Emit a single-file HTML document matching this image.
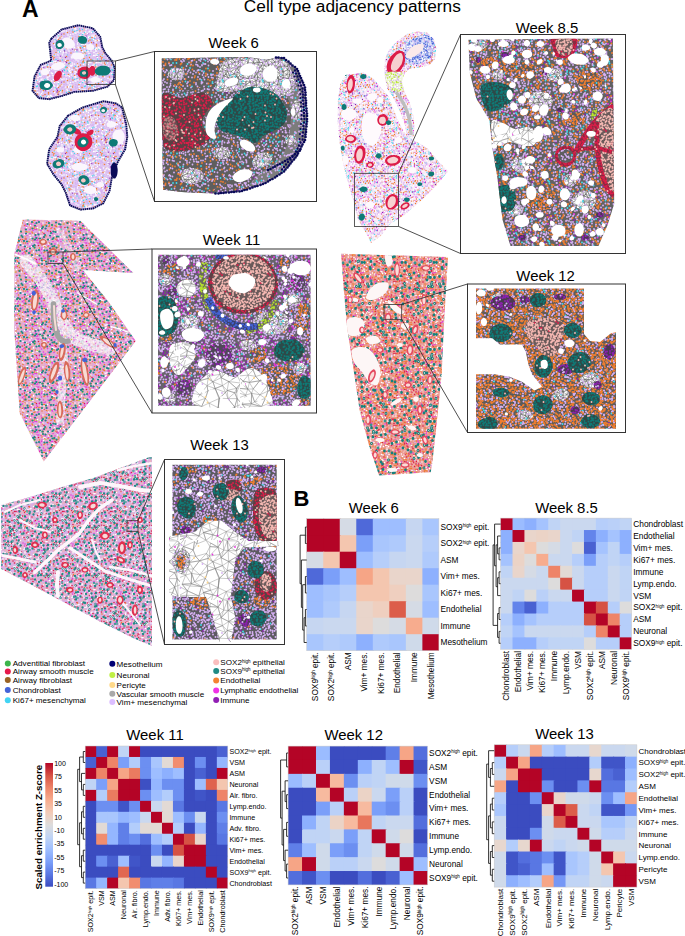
<!DOCTYPE html>
<html><head><meta charset="utf-8"><style>html,body{margin:0;padding:0;background:#fff;}body{width:685px;height:936px;position:relative;overflow:hidden;font-family:'Liberation Sans', sans-serif;}</style></head>
<body>
<svg width="685" height="936" viewBox="0 0 685 936" font-family="'Liberation Sans', sans-serif" style="position:absolute;left:0;top:0">
<rect width="685" height="936" fill="#fff"/>
<rect x="306.70" y="518.70" width="17.52" height="17.50" fill="#b40426"/>
<rect x="323.22" y="518.70" width="17.52" height="17.50" fill="#b40426"/>
<rect x="339.75" y="518.70" width="17.52" height="17.50" fill="#d5dbe5"/>
<rect x="356.27" y="518.70" width="17.52" height="17.50" fill="#4f69d9"/>
<rect x="372.80" y="518.70" width="17.52" height="17.50" fill="#9ebeff"/>
<rect x="389.32" y="518.70" width="17.52" height="17.50" fill="#9ebeff"/>
<rect x="405.85" y="518.70" width="17.52" height="17.50" fill="#c6d6f1"/>
<rect x="422.38" y="518.70" width="16.52" height="17.50" fill="#a9c6fd"/>
<rect x="306.70" y="535.20" width="17.52" height="17.50" fill="#b40426"/>
<rect x="323.22" y="535.20" width="17.52" height="17.50" fill="#b40426"/>
<rect x="339.75" y="535.20" width="17.52" height="17.50" fill="#f4c6af"/>
<rect x="356.27" y="535.20" width="17.52" height="17.50" fill="#7b9ff9"/>
<rect x="372.80" y="535.20" width="17.52" height="17.50" fill="#a9c6fd"/>
<rect x="389.32" y="535.20" width="17.52" height="17.50" fill="#afcafc"/>
<rect x="405.85" y="535.20" width="17.52" height="17.50" fill="#cad8ef"/>
<rect x="422.38" y="535.20" width="16.52" height="17.50" fill="#b6cefa"/>
<rect x="306.70" y="551.70" width="17.52" height="17.50" fill="#d5dbe5"/>
<rect x="323.22" y="551.70" width="17.52" height="17.50" fill="#f4c6af"/>
<rect x="339.75" y="551.70" width="17.52" height="17.50" fill="#b40426"/>
<rect x="356.27" y="551.70" width="17.52" height="17.50" fill="#9ebeff"/>
<rect x="372.80" y="551.70" width="17.52" height="17.50" fill="#b6cefa"/>
<rect x="389.32" y="551.70" width="17.52" height="17.50" fill="#c6d6f1"/>
<rect x="405.85" y="551.70" width="17.52" height="17.50" fill="#cad8ef"/>
<rect x="422.38" y="551.70" width="16.52" height="17.50" fill="#afcafc"/>
<rect x="306.70" y="568.20" width="17.52" height="17.50" fill="#4f69d9"/>
<rect x="323.22" y="568.20" width="17.52" height="17.50" fill="#7b9ff9"/>
<rect x="339.75" y="568.20" width="17.52" height="17.50" fill="#9ebeff"/>
<rect x="356.27" y="568.20" width="17.52" height="17.50" fill="#f6a586"/>
<rect x="372.80" y="568.20" width="17.52" height="17.50" fill="#f4c6af"/>
<rect x="389.32" y="568.20" width="17.52" height="17.50" fill="#e9d5cb"/>
<rect x="405.85" y="568.20" width="17.52" height="17.50" fill="#e9d5cb"/>
<rect x="422.38" y="568.20" width="16.52" height="17.50" fill="#8db0fe"/>
<rect x="306.70" y="584.70" width="17.52" height="17.50" fill="#9ebeff"/>
<rect x="323.22" y="584.70" width="17.52" height="17.50" fill="#a9c6fd"/>
<rect x="339.75" y="584.70" width="17.52" height="17.50" fill="#b6cefa"/>
<rect x="356.27" y="584.70" width="17.52" height="17.50" fill="#f4c6af"/>
<rect x="372.80" y="584.70" width="17.52" height="17.50" fill="#f4c6af"/>
<rect x="389.32" y="584.70" width="17.52" height="17.50" fill="#efcfbf"/>
<rect x="405.85" y="584.70" width="17.52" height="17.50" fill="#dddcdc"/>
<rect x="422.38" y="584.70" width="16.52" height="17.50" fill="#a9c6fd"/>
<rect x="306.70" y="601.20" width="17.52" height="17.50" fill="#9ebeff"/>
<rect x="323.22" y="601.20" width="17.52" height="17.50" fill="#afcafc"/>
<rect x="339.75" y="601.20" width="17.52" height="17.50" fill="#c6d6f1"/>
<rect x="356.27" y="601.20" width="17.52" height="17.50" fill="#e9d5cb"/>
<rect x="372.80" y="601.20" width="17.52" height="17.50" fill="#efcfbf"/>
<rect x="389.32" y="601.20" width="17.52" height="17.50" fill="#dc5d4a"/>
<rect x="405.85" y="601.20" width="17.52" height="17.50" fill="#d5dbe5"/>
<rect x="422.38" y="601.20" width="16.52" height="17.50" fill="#9ebeff"/>
<rect x="306.70" y="617.70" width="17.52" height="17.50" fill="#c6d6f1"/>
<rect x="323.22" y="617.70" width="17.52" height="17.50" fill="#cad8ef"/>
<rect x="339.75" y="617.70" width="17.52" height="17.50" fill="#cad8ef"/>
<rect x="356.27" y="617.70" width="17.52" height="17.50" fill="#e9d5cb"/>
<rect x="372.80" y="617.70" width="17.52" height="17.50" fill="#dddcdc"/>
<rect x="389.32" y="617.70" width="17.52" height="17.50" fill="#d5dbe5"/>
<rect x="405.85" y="617.70" width="17.52" height="17.50" fill="#f7ac8e"/>
<rect x="422.38" y="617.70" width="16.52" height="17.50" fill="#cfdaea"/>
<rect x="306.70" y="634.20" width="17.52" height="16.50" fill="#a9c6fd"/>
<rect x="323.22" y="634.20" width="17.52" height="16.50" fill="#b6cefa"/>
<rect x="339.75" y="634.20" width="17.52" height="16.50" fill="#afcafc"/>
<rect x="356.27" y="634.20" width="17.52" height="16.50" fill="#8db0fe"/>
<rect x="372.80" y="634.20" width="17.52" height="16.50" fill="#afcafc"/>
<rect x="389.32" y="634.20" width="17.52" height="16.50" fill="#a9c6fd"/>
<rect x="405.85" y="634.20" width="17.52" height="16.50" fill="#cfdaea"/>
<rect x="422.38" y="634.20" width="16.52" height="16.50" fill="#b40426"/>
<rect x="306.70" y="518.70" width="132.20" height="132.00" fill="none" stroke="#c8c8c8" stroke-width="0.5"/>
<text x="440.50" y="529.86" font-size="8.3">SOX9<tspan font-size="4.60" dy="-2.60">high</tspan><tspan dy="2.60"> epit.</tspan></text>
<text transform="translate(317.87,652.30) rotate(-90)" text-anchor="end" font-size="8.3">SOX9<tspan font-size="4.60" dy="-2.60">high</tspan><tspan dy="2.60"> epit.</tspan></text>
<text x="440.50" y="546.36" font-size="8.3">SOX2<tspan font-size="4.60" dy="-2.60">high</tspan><tspan dy="2.60"> epit.</tspan></text>
<text transform="translate(334.39,652.30) rotate(-90)" text-anchor="end" font-size="8.3">SOX2<tspan font-size="4.60" dy="-2.60">high</tspan><tspan dy="2.60"> epit.</tspan></text>
<text x="440.50" y="562.86" font-size="8.3">ASM</text>
<text transform="translate(350.92,652.30) rotate(-90)" text-anchor="end" font-size="8.3">ASM</text>
<text x="440.50" y="579.36" font-size="8.3">Vim+ mes.</text>
<text transform="translate(367.44,652.30) rotate(-90)" text-anchor="end" font-size="8.3">Vim+ mes.</text>
<text x="440.50" y="595.86" font-size="8.3">Ki67+ mes.</text>
<text transform="translate(383.97,652.30) rotate(-90)" text-anchor="end" font-size="8.3">Ki67+ mes.</text>
<text x="440.50" y="612.36" font-size="8.3">Endothelial</text>
<text transform="translate(400.49,652.30) rotate(-90)" text-anchor="end" font-size="8.3">Endothelial</text>
<text x="440.50" y="628.86" font-size="8.3">Immune</text>
<text transform="translate(417.02,652.30) rotate(-90)" text-anchor="end" font-size="8.3">Immune</text>
<text x="440.50" y="645.36" font-size="8.3">Mesothelium</text>
<text transform="translate(433.54,652.30) rotate(-90)" text-anchor="end" font-size="8.3">Mesothelium</text>
<rect x="500.60" y="518.10" width="12.91" height="12.93" fill="#b40426"/>
<rect x="512.51" y="518.10" width="12.91" height="12.93" fill="#9bbcff"/>
<rect x="524.42" y="518.10" width="12.91" height="12.93" fill="#8db0fe"/>
<rect x="536.33" y="518.10" width="12.91" height="12.93" fill="#a5c3fe"/>
<rect x="548.24" y="518.10" width="12.91" height="12.93" fill="#c0d4f5"/>
<rect x="560.15" y="518.10" width="12.91" height="12.93" fill="#cad8ef"/>
<rect x="572.05" y="518.10" width="12.91" height="12.93" fill="#cad8ef"/>
<rect x="583.96" y="518.10" width="12.91" height="12.93" fill="#cad8ef"/>
<rect x="595.87" y="518.10" width="12.91" height="12.93" fill="#b6cefa"/>
<rect x="607.78" y="518.10" width="12.91" height="12.93" fill="#bad0f8"/>
<rect x="619.69" y="518.10" width="11.91" height="12.93" fill="#c0d4f5"/>
<rect x="500.60" y="530.03" width="12.91" height="12.93" fill="#8db0fe"/>
<rect x="512.51" y="530.03" width="12.91" height="12.93" fill="#b40426"/>
<rect x="524.42" y="530.03" width="12.91" height="12.93" fill="#e9d5cb"/>
<rect x="536.33" y="530.03" width="12.91" height="12.93" fill="#ebd3c6"/>
<rect x="548.24" y="530.03" width="12.91" height="12.93" fill="#e9d5cb"/>
<rect x="560.15" y="530.03" width="12.91" height="12.93" fill="#cad8ef"/>
<rect x="572.05" y="530.03" width="12.91" height="12.93" fill="#c0d4f5"/>
<rect x="583.96" y="530.03" width="12.91" height="12.93" fill="#6384eb"/>
<rect x="595.87" y="530.03" width="12.91" height="12.93" fill="#8db0fe"/>
<rect x="607.78" y="530.03" width="12.91" height="12.93" fill="#a5c3fe"/>
<rect x="619.69" y="530.03" width="11.91" height="12.93" fill="#8db0fe"/>
<rect x="500.60" y="541.95" width="12.91" height="12.93" fill="#8db0fe"/>
<rect x="512.51" y="541.95" width="12.91" height="12.93" fill="#e9d5cb"/>
<rect x="524.42" y="541.95" width="12.91" height="12.93" fill="#f4c6af"/>
<rect x="536.33" y="541.95" width="12.91" height="12.93" fill="#dddcdc"/>
<rect x="548.24" y="541.95" width="12.91" height="12.93" fill="#d5dbe5"/>
<rect x="560.15" y="541.95" width="12.91" height="12.93" fill="#cad8ef"/>
<rect x="572.05" y="541.95" width="12.91" height="12.93" fill="#dddcdc"/>
<rect x="583.96" y="541.95" width="12.91" height="12.93" fill="#4961d2"/>
<rect x="595.87" y="541.95" width="12.91" height="12.93" fill="#a5c3fe"/>
<rect x="607.78" y="541.95" width="12.91" height="12.93" fill="#c0d4f5"/>
<rect x="619.69" y="541.95" width="11.91" height="12.93" fill="#8db0fe"/>
<rect x="500.60" y="553.88" width="12.91" height="12.93" fill="#a5c3fe"/>
<rect x="512.51" y="553.88" width="12.91" height="12.93" fill="#ebd3c6"/>
<rect x="524.42" y="553.88" width="12.91" height="12.93" fill="#dddcdc"/>
<rect x="536.33" y="553.88" width="12.91" height="12.93" fill="#f7ac8e"/>
<rect x="548.24" y="553.88" width="12.91" height="12.93" fill="#cad8ef"/>
<rect x="560.15" y="553.88" width="12.91" height="12.93" fill="#cad8ef"/>
<rect x="572.05" y="553.88" width="12.91" height="12.93" fill="#b6cefa"/>
<rect x="583.96" y="553.88" width="12.91" height="12.93" fill="#7b9ff9"/>
<rect x="595.87" y="553.88" width="12.91" height="12.93" fill="#b6cefa"/>
<rect x="607.78" y="553.88" width="12.91" height="12.93" fill="#c0d4f5"/>
<rect x="619.69" y="553.88" width="11.91" height="12.93" fill="#b6cefa"/>
<rect x="500.60" y="565.81" width="12.91" height="12.93" fill="#c0d4f5"/>
<rect x="512.51" y="565.81" width="12.91" height="12.93" fill="#e9d5cb"/>
<rect x="524.42" y="565.81" width="12.91" height="12.93" fill="#d5dbe5"/>
<rect x="536.33" y="565.81" width="12.91" height="12.93" fill="#cad8ef"/>
<rect x="548.24" y="565.81" width="12.91" height="12.93" fill="#ee8468"/>
<rect x="560.15" y="565.81" width="12.91" height="12.93" fill="#e2dad5"/>
<rect x="572.05" y="565.81" width="12.91" height="12.93" fill="#cad8ef"/>
<rect x="583.96" y="565.81" width="12.91" height="12.93" fill="#b6cefa"/>
<rect x="595.87" y="565.81" width="12.91" height="12.93" fill="#b6cefa"/>
<rect x="607.78" y="565.81" width="12.91" height="12.93" fill="#cad8ef"/>
<rect x="619.69" y="565.81" width="11.91" height="12.93" fill="#c0d4f5"/>
<rect x="500.60" y="577.74" width="12.91" height="12.93" fill="#cad8ef"/>
<rect x="512.51" y="577.74" width="12.91" height="12.93" fill="#cad8ef"/>
<rect x="524.42" y="577.74" width="12.91" height="12.93" fill="#cad8ef"/>
<rect x="536.33" y="577.74" width="12.91" height="12.93" fill="#cad8ef"/>
<rect x="548.24" y="577.74" width="12.91" height="12.93" fill="#dddcdc"/>
<rect x="560.15" y="577.74" width="12.91" height="12.93" fill="#d65244"/>
<rect x="572.05" y="577.74" width="12.91" height="12.93" fill="#cad8ef"/>
<rect x="583.96" y="577.74" width="12.91" height="12.93" fill="#b6cefa"/>
<rect x="595.87" y="577.74" width="12.91" height="12.93" fill="#b6cefa"/>
<rect x="607.78" y="577.74" width="12.91" height="12.93" fill="#cad8ef"/>
<rect x="619.69" y="577.74" width="11.91" height="12.93" fill="#c0d4f5"/>
<rect x="500.60" y="589.66" width="12.91" height="12.93" fill="#cad8ef"/>
<rect x="512.51" y="589.66" width="12.91" height="12.93" fill="#c0d4f5"/>
<rect x="524.42" y="589.66" width="12.91" height="12.93" fill="#dddcdc"/>
<rect x="536.33" y="589.66" width="12.91" height="12.93" fill="#bad0f8"/>
<rect x="548.24" y="589.66" width="12.91" height="12.93" fill="#cad8ef"/>
<rect x="560.15" y="589.66" width="12.91" height="12.93" fill="#cad8ef"/>
<rect x="572.05" y="589.66" width="12.91" height="12.93" fill="#b40426"/>
<rect x="583.96" y="589.66" width="12.91" height="12.93" fill="#b6cefa"/>
<rect x="595.87" y="589.66" width="12.91" height="12.93" fill="#b6cefa"/>
<rect x="607.78" y="589.66" width="12.91" height="12.93" fill="#cad8ef"/>
<rect x="619.69" y="589.66" width="11.91" height="12.93" fill="#c0d4f5"/>
<rect x="500.60" y="601.59" width="12.91" height="12.93" fill="#cad8ef"/>
<rect x="512.51" y="601.59" width="12.91" height="12.93" fill="#6384eb"/>
<rect x="524.42" y="601.59" width="12.91" height="12.93" fill="#4961d2"/>
<rect x="536.33" y="601.59" width="12.91" height="12.93" fill="#8db0fe"/>
<rect x="548.24" y="601.59" width="12.91" height="12.93" fill="#b6cefa"/>
<rect x="560.15" y="601.59" width="12.91" height="12.93" fill="#b6cefa"/>
<rect x="572.05" y="601.59" width="12.91" height="12.93" fill="#b6cefa"/>
<rect x="583.96" y="601.59" width="12.91" height="12.93" fill="#b40426"/>
<rect x="595.87" y="601.59" width="12.91" height="12.93" fill="#d65244"/>
<rect x="607.78" y="601.59" width="12.91" height="12.93" fill="#b6cefa"/>
<rect x="619.69" y="601.59" width="11.91" height="12.93" fill="#dddcdc"/>
<rect x="500.60" y="613.52" width="12.91" height="12.93" fill="#b6cefa"/>
<rect x="512.51" y="613.52" width="12.91" height="12.93" fill="#8db0fe"/>
<rect x="524.42" y="613.52" width="12.91" height="12.93" fill="#a5c3fe"/>
<rect x="536.33" y="613.52" width="12.91" height="12.93" fill="#b6cefa"/>
<rect x="548.24" y="613.52" width="12.91" height="12.93" fill="#b6cefa"/>
<rect x="560.15" y="613.52" width="12.91" height="12.93" fill="#b6cefa"/>
<rect x="572.05" y="613.52" width="12.91" height="12.93" fill="#b6cefa"/>
<rect x="583.96" y="613.52" width="12.91" height="12.93" fill="#d65244"/>
<rect x="595.87" y="613.52" width="12.91" height="12.93" fill="#b40426"/>
<rect x="607.78" y="613.52" width="12.91" height="12.93" fill="#ee8468"/>
<rect x="619.69" y="613.52" width="11.91" height="12.93" fill="#b6cefa"/>
<rect x="500.60" y="625.45" width="12.91" height="12.93" fill="#c0d4f5"/>
<rect x="512.51" y="625.45" width="12.91" height="12.93" fill="#a5c3fe"/>
<rect x="524.42" y="625.45" width="12.91" height="12.93" fill="#cad8ef"/>
<rect x="536.33" y="625.45" width="12.91" height="12.93" fill="#cad8ef"/>
<rect x="548.24" y="625.45" width="12.91" height="12.93" fill="#cad8ef"/>
<rect x="560.15" y="625.45" width="12.91" height="12.93" fill="#cad8ef"/>
<rect x="572.05" y="625.45" width="12.91" height="12.93" fill="#cad8ef"/>
<rect x="583.96" y="625.45" width="12.91" height="12.93" fill="#b6cefa"/>
<rect x="595.87" y="625.45" width="12.91" height="12.93" fill="#ee8468"/>
<rect x="607.78" y="625.45" width="12.91" height="12.93" fill="#b40426"/>
<rect x="619.69" y="625.45" width="11.91" height="12.93" fill="#b6cefa"/>
<rect x="500.60" y="637.37" width="12.91" height="11.93" fill="#b6cefa"/>
<rect x="512.51" y="637.37" width="12.91" height="11.93" fill="#8db0fe"/>
<rect x="524.42" y="637.37" width="12.91" height="11.93" fill="#8db0fe"/>
<rect x="536.33" y="637.37" width="12.91" height="11.93" fill="#b6cefa"/>
<rect x="548.24" y="637.37" width="12.91" height="11.93" fill="#c0d4f5"/>
<rect x="560.15" y="637.37" width="12.91" height="11.93" fill="#c0d4f5"/>
<rect x="572.05" y="637.37" width="12.91" height="11.93" fill="#c0d4f5"/>
<rect x="583.96" y="637.37" width="12.91" height="11.93" fill="#dddcdc"/>
<rect x="595.87" y="637.37" width="12.91" height="11.93" fill="#b6cefa"/>
<rect x="607.78" y="637.37" width="12.91" height="11.93" fill="#b6cefa"/>
<rect x="619.69" y="637.37" width="11.91" height="11.93" fill="#b40426"/>
<rect x="500.60" y="518.10" width="131.00" height="131.20" fill="none" stroke="#c8c8c8" stroke-width="0.5"/>
<text x="633.20" y="527.00" font-size="8.4">Chondroblast</text>
<text transform="translate(509.49,650.90) rotate(-90)" text-anchor="end" font-size="8.4">Chondroblast</text>
<text x="633.20" y="538.93" font-size="8.4">Endothelial</text>
<text transform="translate(521.40,650.90) rotate(-90)" text-anchor="end" font-size="8.4">Endothelial</text>
<text x="633.20" y="550.86" font-size="8.4">Vim+ mes.</text>
<text transform="translate(533.31,650.90) rotate(-90)" text-anchor="end" font-size="8.4">Vim+ mes.</text>
<text x="633.20" y="562.79" font-size="8.4">Ki67+ mes.</text>
<text transform="translate(545.22,650.90) rotate(-90)" text-anchor="end" font-size="8.4">Ki67+ mes.</text>
<text x="633.20" y="574.71" font-size="8.4">Immune</text>
<text transform="translate(557.13,650.90) rotate(-90)" text-anchor="end" font-size="8.4">Immune</text>
<text x="633.20" y="586.64" font-size="8.4">Lymp.endo.</text>
<text transform="translate(569.04,650.90) rotate(-90)" text-anchor="end" font-size="8.4">Lymp.endo.</text>
<text x="633.20" y="598.57" font-size="8.4">VSM</text>
<text transform="translate(580.95,650.90) rotate(-90)" text-anchor="end" font-size="8.4">VSM</text>
<text x="633.20" y="610.49" font-size="8.4">SOX2<tspan font-size="4.66" dy="-2.63">high</tspan><tspan dy="2.63"> epit.</tspan></text>
<text transform="translate(592.86,650.90) rotate(-90)" text-anchor="end" font-size="8.4">SOX2<tspan font-size="4.66" dy="-2.63">high</tspan><tspan dy="2.63"> epit.</tspan></text>
<text x="633.20" y="622.42" font-size="8.4">ASM</text>
<text transform="translate(604.77,650.90) rotate(-90)" text-anchor="end" font-size="8.4">ASM</text>
<text x="633.20" y="634.35" font-size="8.4">Neuronal</text>
<text transform="translate(616.68,650.90) rotate(-90)" text-anchor="end" font-size="8.4">Neuronal</text>
<text x="633.20" y="646.28" font-size="8.4">SOX9<tspan font-size="4.66" dy="-2.63">high</tspan><tspan dy="2.63"> epit.</tspan></text>
<text transform="translate(628.59,650.90) rotate(-90)" text-anchor="end" font-size="8.4">SOX9<tspan font-size="4.66" dy="-2.63">high</tspan><tspan dy="2.63"> epit.</tspan></text>
<rect x="85.20" y="746.00" width="11.97" height="11.97" fill="#b40426"/>
<rect x="96.17" y="746.00" width="11.97" height="11.97" fill="#4961d2"/>
<rect x="107.14" y="746.00" width="11.97" height="11.97" fill="#b40426"/>
<rect x="118.11" y="746.00" width="11.97" height="11.97" fill="#c0d4f5"/>
<rect x="129.08" y="746.00" width="11.97" height="11.97" fill="#b40426"/>
<rect x="140.05" y="746.00" width="11.97" height="11.97" fill="#3b4cc0"/>
<rect x="151.02" y="746.00" width="11.97" height="11.97" fill="#3b4cc0"/>
<rect x="161.98" y="746.00" width="11.97" height="11.97" fill="#3b4cc0"/>
<rect x="172.95" y="746.00" width="11.97" height="11.97" fill="#3b4cc0"/>
<rect x="183.92" y="746.00" width="11.97" height="11.97" fill="#3b4cc0"/>
<rect x="194.89" y="746.00" width="11.97" height="11.97" fill="#3b4cc0"/>
<rect x="205.86" y="746.00" width="11.97" height="11.97" fill="#3b4cc0"/>
<rect x="216.83" y="746.00" width="10.97" height="11.97" fill="#4961d2"/>
<rect x="85.20" y="756.97" width="11.97" height="11.97" fill="#4961d2"/>
<rect x="96.17" y="756.97" width="11.97" height="11.97" fill="#b40426"/>
<rect x="107.14" y="756.97" width="11.97" height="11.97" fill="#ee8468"/>
<rect x="118.11" y="756.97" width="11.97" height="11.97" fill="#7b9ff9"/>
<rect x="129.08" y="756.97" width="11.97" height="11.97" fill="#b3cdfb"/>
<rect x="140.05" y="756.97" width="11.97" height="11.97" fill="#6c8ff1"/>
<rect x="151.02" y="756.97" width="11.97" height="11.97" fill="#a9c6fd"/>
<rect x="161.98" y="756.97" width="11.97" height="11.97" fill="#e2dad5"/>
<rect x="172.95" y="756.97" width="11.97" height="11.97" fill="#f18d6f"/>
<rect x="183.92" y="756.97" width="11.97" height="11.97" fill="#3b4cc0"/>
<rect x="194.89" y="756.97" width="11.97" height="11.97" fill="#6c8ff1"/>
<rect x="205.86" y="756.97" width="11.97" height="11.97" fill="#3b4cc0"/>
<rect x="216.83" y="756.97" width="10.97" height="11.97" fill="#94b6ff"/>
<rect x="85.20" y="767.94" width="11.97" height="11.97" fill="#b40426"/>
<rect x="96.17" y="767.94" width="11.97" height="11.97" fill="#ee8468"/>
<rect x="107.14" y="767.94" width="11.97" height="11.97" fill="#b40426"/>
<rect x="118.11" y="767.94" width="11.97" height="11.97" fill="#f6a586"/>
<rect x="129.08" y="767.94" width="11.97" height="11.97" fill="#ea7b60"/>
<rect x="140.05" y="767.94" width="11.97" height="11.97" fill="#6c8ff1"/>
<rect x="151.02" y="767.94" width="11.97" height="11.97" fill="#9ebeff"/>
<rect x="161.98" y="767.94" width="11.97" height="11.97" fill="#8db0fe"/>
<rect x="172.95" y="767.94" width="11.97" height="11.97" fill="#9ebeff"/>
<rect x="183.92" y="767.94" width="11.97" height="11.97" fill="#3b4cc0"/>
<rect x="194.89" y="767.94" width="11.97" height="11.97" fill="#4961d2"/>
<rect x="205.86" y="767.94" width="11.97" height="11.97" fill="#3b4cc0"/>
<rect x="216.83" y="767.94" width="10.97" height="11.97" fill="#b40426"/>
<rect x="85.20" y="778.91" width="11.97" height="11.97" fill="#c0d4f5"/>
<rect x="96.17" y="778.91" width="11.97" height="11.97" fill="#7b9ff9"/>
<rect x="107.14" y="778.91" width="11.97" height="11.97" fill="#f6a586"/>
<rect x="118.11" y="778.91" width="11.97" height="11.97" fill="#b40426"/>
<rect x="129.08" y="778.91" width="11.97" height="11.97" fill="#b40426"/>
<rect x="140.05" y="778.91" width="11.97" height="11.97" fill="#3d50c3"/>
<rect x="151.02" y="778.91" width="11.97" height="11.97" fill="#94b6ff"/>
<rect x="161.98" y="778.91" width="11.97" height="11.97" fill="#6c8ff1"/>
<rect x="172.95" y="778.91" width="11.97" height="11.97" fill="#6c8ff1"/>
<rect x="183.92" y="778.91" width="11.97" height="11.97" fill="#3b4cc0"/>
<rect x="194.89" y="778.91" width="11.97" height="11.97" fill="#9ebeff"/>
<rect x="205.86" y="778.91" width="11.97" height="11.97" fill="#df634e"/>
<rect x="216.83" y="778.91" width="10.97" height="11.97" fill="#f4c6af"/>
<rect x="85.20" y="789.88" width="11.97" height="11.97" fill="#b40426"/>
<rect x="96.17" y="789.88" width="11.97" height="11.97" fill="#b3cdfb"/>
<rect x="107.14" y="789.88" width="11.97" height="11.97" fill="#ea7b60"/>
<rect x="118.11" y="789.88" width="11.97" height="11.97" fill="#b40426"/>
<rect x="129.08" y="789.88" width="11.97" height="11.97" fill="#b40426"/>
<rect x="140.05" y="789.88" width="11.97" height="11.97" fill="#6c8ff1"/>
<rect x="151.02" y="789.88" width="11.97" height="11.97" fill="#9ebeff"/>
<rect x="161.98" y="789.88" width="11.97" height="11.97" fill="#b3cdfb"/>
<rect x="172.95" y="789.88" width="11.97" height="11.97" fill="#6c8ff1"/>
<rect x="183.92" y="789.88" width="11.97" height="11.97" fill="#3b4cc0"/>
<rect x="194.89" y="789.88" width="11.97" height="11.97" fill="#4055c8"/>
<rect x="205.86" y="789.88" width="11.97" height="11.97" fill="#3b4cc0"/>
<rect x="216.83" y="789.88" width="10.97" height="11.97" fill="#ee8468"/>
<rect x="85.20" y="800.85" width="11.97" height="11.97" fill="#3b4cc0"/>
<rect x="96.17" y="800.85" width="11.97" height="11.97" fill="#6c8ff1"/>
<rect x="107.14" y="800.85" width="11.97" height="11.97" fill="#6c8ff1"/>
<rect x="118.11" y="800.85" width="11.97" height="11.97" fill="#4055c8"/>
<rect x="129.08" y="800.85" width="11.97" height="11.97" fill="#6c8ff1"/>
<rect x="140.05" y="800.85" width="11.97" height="11.97" fill="#b40426"/>
<rect x="151.02" y="800.85" width="11.97" height="11.97" fill="#cad8ef"/>
<rect x="161.98" y="800.85" width="11.97" height="11.97" fill="#e2dad5"/>
<rect x="172.95" y="800.85" width="11.97" height="11.97" fill="#5977e3"/>
<rect x="183.92" y="800.85" width="11.97" height="11.97" fill="#3b4cc0"/>
<rect x="194.89" y="800.85" width="11.97" height="11.97" fill="#3b4cc0"/>
<rect x="205.86" y="800.85" width="11.97" height="11.97" fill="#3b4cc0"/>
<rect x="216.83" y="800.85" width="10.97" height="11.97" fill="#5977e3"/>
<rect x="85.20" y="811.82" width="11.97" height="11.97" fill="#3b4cc0"/>
<rect x="96.17" y="811.82" width="11.97" height="11.97" fill="#a9c6fd"/>
<rect x="107.14" y="811.82" width="11.97" height="11.97" fill="#a9c6fd"/>
<rect x="118.11" y="811.82" width="11.97" height="11.97" fill="#94b6ff"/>
<rect x="129.08" y="811.82" width="11.97" height="11.97" fill="#9ebeff"/>
<rect x="140.05" y="811.82" width="11.97" height="11.97" fill="#cad8ef"/>
<rect x="151.02" y="811.82" width="11.97" height="11.97" fill="#b40426"/>
<rect x="161.98" y="811.82" width="11.97" height="11.97" fill="#e2dad5"/>
<rect x="172.95" y="811.82" width="11.97" height="11.97" fill="#9ebeff"/>
<rect x="183.92" y="811.82" width="11.97" height="11.97" fill="#6c8ff1"/>
<rect x="194.89" y="811.82" width="11.97" height="11.97" fill="#cad8ef"/>
<rect x="205.86" y="811.82" width="11.97" height="11.97" fill="#3b4cc0"/>
<rect x="216.83" y="811.82" width="10.97" height="11.97" fill="#6c8ff1"/>
<rect x="85.20" y="822.78" width="11.97" height="11.97" fill="#3b4cc0"/>
<rect x="96.17" y="822.78" width="11.97" height="11.97" fill="#e2dad5"/>
<rect x="107.14" y="822.78" width="11.97" height="11.97" fill="#94b6ff"/>
<rect x="118.11" y="822.78" width="11.97" height="11.97" fill="#5f7fe8"/>
<rect x="129.08" y="822.78" width="11.97" height="11.97" fill="#b3cdfb"/>
<rect x="140.05" y="822.78" width="11.97" height="11.97" fill="#e2dad5"/>
<rect x="151.02" y="822.78" width="11.97" height="11.97" fill="#e2dad5"/>
<rect x="161.98" y="822.78" width="11.97" height="11.97" fill="#b40426"/>
<rect x="172.95" y="822.78" width="11.97" height="11.97" fill="#b3cdfb"/>
<rect x="183.92" y="822.78" width="11.97" height="11.97" fill="#3b4cc0"/>
<rect x="194.89" y="822.78" width="11.97" height="11.97" fill="#94b6ff"/>
<rect x="205.86" y="822.78" width="11.97" height="11.97" fill="#3b4cc0"/>
<rect x="216.83" y="822.78" width="10.97" height="11.97" fill="#5f7fe8"/>
<rect x="85.20" y="833.75" width="11.97" height="11.97" fill="#3b4cc0"/>
<rect x="96.17" y="833.75" width="11.97" height="11.97" fill="#f18d6f"/>
<rect x="107.14" y="833.75" width="11.97" height="11.97" fill="#94b6ff"/>
<rect x="118.11" y="833.75" width="11.97" height="11.97" fill="#5f7fe8"/>
<rect x="129.08" y="833.75" width="11.97" height="11.97" fill="#6c8ff1"/>
<rect x="140.05" y="833.75" width="11.97" height="11.97" fill="#536edd"/>
<rect x="151.02" y="833.75" width="11.97" height="11.97" fill="#9ebeff"/>
<rect x="161.98" y="833.75" width="11.97" height="11.97" fill="#b3cdfb"/>
<rect x="172.95" y="833.75" width="11.97" height="11.97" fill="#b40426"/>
<rect x="183.92" y="833.75" width="11.97" height="11.97" fill="#d65244"/>
<rect x="194.89" y="833.75" width="11.97" height="11.97" fill="#e9d5cb"/>
<rect x="205.86" y="833.75" width="11.97" height="11.97" fill="#3b4cc0"/>
<rect x="216.83" y="833.75" width="10.97" height="11.97" fill="#5977e3"/>
<rect x="85.20" y="844.72" width="11.97" height="11.97" fill="#3b4cc0"/>
<rect x="96.17" y="844.72" width="11.97" height="11.97" fill="#3b4cc0"/>
<rect x="107.14" y="844.72" width="11.97" height="11.97" fill="#3b4cc0"/>
<rect x="118.11" y="844.72" width="11.97" height="11.97" fill="#3b4cc0"/>
<rect x="129.08" y="844.72" width="11.97" height="11.97" fill="#3b4cc0"/>
<rect x="140.05" y="844.72" width="11.97" height="11.97" fill="#3b4cc0"/>
<rect x="151.02" y="844.72" width="11.97" height="11.97" fill="#6c8ff1"/>
<rect x="161.98" y="844.72" width="11.97" height="11.97" fill="#3b4cc0"/>
<rect x="172.95" y="844.72" width="11.97" height="11.97" fill="#d65244"/>
<rect x="183.92" y="844.72" width="11.97" height="11.97" fill="#b40426"/>
<rect x="194.89" y="844.72" width="11.97" height="11.97" fill="#b40426"/>
<rect x="205.86" y="844.72" width="11.97" height="11.97" fill="#3b4cc0"/>
<rect x="216.83" y="844.72" width="10.97" height="11.97" fill="#3b4cc0"/>
<rect x="85.20" y="855.69" width="11.97" height="11.97" fill="#3b4cc0"/>
<rect x="96.17" y="855.69" width="11.97" height="11.97" fill="#6c8ff1"/>
<rect x="107.14" y="855.69" width="11.97" height="11.97" fill="#4961d2"/>
<rect x="118.11" y="855.69" width="11.97" height="11.97" fill="#9ebeff"/>
<rect x="129.08" y="855.69" width="11.97" height="11.97" fill="#4055c8"/>
<rect x="140.05" y="855.69" width="11.97" height="11.97" fill="#3b4cc0"/>
<rect x="151.02" y="855.69" width="11.97" height="11.97" fill="#cad8ef"/>
<rect x="161.98" y="855.69" width="11.97" height="11.97" fill="#94b6ff"/>
<rect x="172.95" y="855.69" width="11.97" height="11.97" fill="#e9d5cb"/>
<rect x="183.92" y="855.69" width="11.97" height="11.97" fill="#b40426"/>
<rect x="194.89" y="855.69" width="11.97" height="11.97" fill="#b40426"/>
<rect x="205.86" y="855.69" width="11.97" height="11.97" fill="#3b4cc0"/>
<rect x="216.83" y="855.69" width="10.97" height="11.97" fill="#3b4cc0"/>
<rect x="85.20" y="866.66" width="11.97" height="11.97" fill="#3b4cc0"/>
<rect x="96.17" y="866.66" width="11.97" height="11.97" fill="#3b4cc0"/>
<rect x="107.14" y="866.66" width="11.97" height="11.97" fill="#3b4cc0"/>
<rect x="118.11" y="866.66" width="11.97" height="11.97" fill="#e16751"/>
<rect x="129.08" y="866.66" width="11.97" height="11.97" fill="#3b4cc0"/>
<rect x="140.05" y="866.66" width="11.97" height="11.97" fill="#3b4cc0"/>
<rect x="151.02" y="866.66" width="11.97" height="11.97" fill="#3b4cc0"/>
<rect x="161.98" y="866.66" width="11.97" height="11.97" fill="#3b4cc0"/>
<rect x="172.95" y="866.66" width="11.97" height="11.97" fill="#3b4cc0"/>
<rect x="183.92" y="866.66" width="11.97" height="11.97" fill="#3b4cc0"/>
<rect x="194.89" y="866.66" width="11.97" height="11.97" fill="#3b4cc0"/>
<rect x="205.86" y="866.66" width="11.97" height="11.97" fill="#b40426"/>
<rect x="216.83" y="866.66" width="10.97" height="11.97" fill="#3b4cc0"/>
<rect x="85.20" y="877.63" width="11.97" height="10.97" fill="#5977e3"/>
<rect x="96.17" y="877.63" width="11.97" height="10.97" fill="#94b6ff"/>
<rect x="107.14" y="877.63" width="11.97" height="10.97" fill="#b40426"/>
<rect x="118.11" y="877.63" width="11.97" height="10.97" fill="#f4c6af"/>
<rect x="129.08" y="877.63" width="11.97" height="10.97" fill="#f18d6f"/>
<rect x="140.05" y="877.63" width="11.97" height="10.97" fill="#5977e3"/>
<rect x="151.02" y="877.63" width="11.97" height="10.97" fill="#5f7fe8"/>
<rect x="161.98" y="877.63" width="11.97" height="10.97" fill="#5f7fe8"/>
<rect x="172.95" y="877.63" width="11.97" height="10.97" fill="#5977e3"/>
<rect x="183.92" y="877.63" width="11.97" height="10.97" fill="#3b4cc0"/>
<rect x="194.89" y="877.63" width="11.97" height="10.97" fill="#3b4cc0"/>
<rect x="205.86" y="877.63" width="11.97" height="10.97" fill="#3b4cc0"/>
<rect x="216.83" y="877.63" width="10.97" height="10.97" fill="#b40426"/>
<rect x="85.20" y="746.00" width="142.60" height="142.60" fill="none" stroke="#c8c8c8" stroke-width="0.5"/>
<text x="229.40" y="753.99" font-size="7.15">SOX2<tspan font-size="3.96" dy="-2.24">high</tspan><tspan dy="2.24"> epit.</tspan></text>
<text transform="translate(93.19,890.20) rotate(-90)" text-anchor="end" font-size="7.15">SOX2<tspan font-size="3.96" dy="-2.24">high</tspan><tspan dy="2.24"> epit.</tspan></text>
<text x="229.40" y="764.96" font-size="7.15">VSM</text>
<text transform="translate(104.16,890.20) rotate(-90)" text-anchor="end" font-size="7.15">VSM</text>
<text x="229.40" y="775.93" font-size="7.15">ASM</text>
<text transform="translate(115.13,890.20) rotate(-90)" text-anchor="end" font-size="7.15">ASM</text>
<text x="229.40" y="786.89" font-size="7.15">Neuronal</text>
<text transform="translate(126.09,890.20) rotate(-90)" text-anchor="end" font-size="7.15">Neuronal</text>
<text x="229.40" y="797.86" font-size="7.15">Air. fibro.</text>
<text transform="translate(137.06,890.20) rotate(-90)" text-anchor="end" font-size="7.15">Air. fibro.</text>
<text x="229.40" y="808.83" font-size="7.15">Lymp.endo.</text>
<text transform="translate(148.03,890.20) rotate(-90)" text-anchor="end" font-size="7.15">Lymp.endo.</text>
<text x="229.40" y="819.80" font-size="7.15">Immune</text>
<text transform="translate(159.00,890.20) rotate(-90)" text-anchor="end" font-size="7.15">Immune</text>
<text x="229.40" y="830.77" font-size="7.15">Adv. fibro.</text>
<text transform="translate(169.97,890.20) rotate(-90)" text-anchor="end" font-size="7.15">Adv. fibro.</text>
<text x="229.40" y="841.74" font-size="7.15">Ki67+ mes.</text>
<text transform="translate(180.94,890.20) rotate(-90)" text-anchor="end" font-size="7.15">Ki67+ mes.</text>
<text x="229.40" y="852.71" font-size="7.15">Vim+ mes.</text>
<text transform="translate(191.91,890.20) rotate(-90)" text-anchor="end" font-size="7.15">Vim+ mes.</text>
<text x="229.40" y="863.68" font-size="7.15">Endothelial</text>
<text transform="translate(202.88,890.20) rotate(-90)" text-anchor="end" font-size="7.15">Endothelial</text>
<text x="229.40" y="874.65" font-size="7.15">SOX9<tspan font-size="3.96" dy="-2.24">high</tspan><tspan dy="2.24"> epit.</tspan></text>
<text transform="translate(213.85,890.20) rotate(-90)" text-anchor="end" font-size="7.15">SOX9<tspan font-size="3.96" dy="-2.24">high</tspan><tspan dy="2.24"> epit.</tspan></text>
<text x="229.40" y="885.62" font-size="7.15">Chondroblast</text>
<text transform="translate(224.82,890.20) rotate(-90)" text-anchor="end" font-size="7.15">Chondroblast</text>
<rect x="288.10" y="746.10" width="14.94" height="14.88" fill="#b40426"/>
<rect x="302.04" y="746.10" width="14.94" height="14.88" fill="#b40426"/>
<rect x="315.98" y="746.10" width="14.94" height="14.88" fill="#9bbcff"/>
<rect x="329.92" y="746.10" width="14.94" height="14.88" fill="#3b4cc0"/>
<rect x="343.86" y="746.10" width="14.94" height="14.88" fill="#3b4cc0"/>
<rect x="357.80" y="746.10" width="14.94" height="14.88" fill="#3b4cc0"/>
<rect x="371.74" y="746.10" width="14.94" height="14.88" fill="#3b4cc0"/>
<rect x="385.68" y="746.10" width="14.94" height="14.88" fill="#5f7fe8"/>
<rect x="399.62" y="746.10" width="14.94" height="14.88" fill="#f6a586"/>
<rect x="413.56" y="746.10" width="13.94" height="14.88" fill="#536edd"/>
<rect x="288.10" y="759.98" width="14.94" height="14.88" fill="#b40426"/>
<rect x="302.04" y="759.98" width="14.94" height="14.88" fill="#b40426"/>
<rect x="315.98" y="759.98" width="14.94" height="14.88" fill="#bad0f8"/>
<rect x="329.92" y="759.98" width="14.94" height="14.88" fill="#3b4cc0"/>
<rect x="343.86" y="759.98" width="14.94" height="14.88" fill="#3b4cc0"/>
<rect x="357.80" y="759.98" width="14.94" height="14.88" fill="#8db0fe"/>
<rect x="371.74" y="759.98" width="14.94" height="14.88" fill="#c0d4f5"/>
<rect x="385.68" y="759.98" width="14.94" height="14.88" fill="#9ebeff"/>
<rect x="399.62" y="759.98" width="14.94" height="14.88" fill="#b40426"/>
<rect x="413.56" y="759.98" width="13.94" height="14.88" fill="#4055c8"/>
<rect x="288.10" y="773.86" width="14.94" height="14.88" fill="#9bbcff"/>
<rect x="302.04" y="773.86" width="14.94" height="14.88" fill="#bad0f8"/>
<rect x="315.98" y="773.86" width="14.94" height="14.88" fill="#b40426"/>
<rect x="329.92" y="773.86" width="14.94" height="14.88" fill="#f7ba9f"/>
<rect x="343.86" y="773.86" width="14.94" height="14.88" fill="#6c8ff1"/>
<rect x="357.80" y="773.86" width="14.94" height="14.88" fill="#bad0f8"/>
<rect x="371.74" y="773.86" width="14.94" height="14.88" fill="#c0d4f5"/>
<rect x="385.68" y="773.86" width="14.94" height="14.88" fill="#cfdaea"/>
<rect x="399.62" y="773.86" width="14.94" height="14.88" fill="#cfdaea"/>
<rect x="413.56" y="773.86" width="13.94" height="14.88" fill="#6c8ff1"/>
<rect x="288.10" y="787.74" width="14.94" height="14.88" fill="#3b4cc0"/>
<rect x="302.04" y="787.74" width="14.94" height="14.88" fill="#3b4cc0"/>
<rect x="315.98" y="787.74" width="14.94" height="14.88" fill="#f7ba9f"/>
<rect x="329.92" y="787.74" width="14.94" height="14.88" fill="#b40426"/>
<rect x="343.86" y="787.74" width="14.94" height="14.88" fill="#bad0f8"/>
<rect x="357.80" y="787.74" width="14.94" height="14.88" fill="#ebd3c6"/>
<rect x="371.74" y="787.74" width="14.94" height="14.88" fill="#cad8ef"/>
<rect x="385.68" y="787.74" width="14.94" height="14.88" fill="#7b9ff9"/>
<rect x="399.62" y="787.74" width="14.94" height="14.88" fill="#bad0f8"/>
<rect x="413.56" y="787.74" width="13.94" height="14.88" fill="#3b4cc0"/>
<rect x="288.10" y="801.62" width="14.94" height="14.88" fill="#3b4cc0"/>
<rect x="302.04" y="801.62" width="14.94" height="14.88" fill="#3b4cc0"/>
<rect x="315.98" y="801.62" width="14.94" height="14.88" fill="#7b9ff9"/>
<rect x="329.92" y="801.62" width="14.94" height="14.88" fill="#bad0f8"/>
<rect x="343.86" y="801.62" width="14.94" height="14.88" fill="#b40426"/>
<rect x="357.80" y="801.62" width="14.94" height="14.88" fill="#f7ba9f"/>
<rect x="371.74" y="801.62" width="14.94" height="14.88" fill="#7b9ff9"/>
<rect x="385.68" y="801.62" width="14.94" height="14.88" fill="#6c8ff1"/>
<rect x="399.62" y="801.62" width="14.94" height="14.88" fill="#bad0f8"/>
<rect x="413.56" y="801.62" width="13.94" height="14.88" fill="#3b4cc0"/>
<rect x="288.10" y="815.50" width="14.94" height="14.88" fill="#3b4cc0"/>
<rect x="302.04" y="815.50" width="14.94" height="14.88" fill="#8db0fe"/>
<rect x="315.98" y="815.50" width="14.94" height="14.88" fill="#c0d4f5"/>
<rect x="329.92" y="815.50" width="14.94" height="14.88" fill="#ebd3c6"/>
<rect x="343.86" y="815.50" width="14.94" height="14.88" fill="#f7ba9f"/>
<rect x="357.80" y="815.50" width="14.94" height="14.88" fill="#e8765c"/>
<rect x="371.74" y="815.50" width="14.94" height="14.88" fill="#c0d4f5"/>
<rect x="385.68" y="815.50" width="14.94" height="14.88" fill="#cad8ef"/>
<rect x="399.62" y="815.50" width="14.94" height="14.88" fill="#cad8ef"/>
<rect x="413.56" y="815.50" width="13.94" height="14.88" fill="#536edd"/>
<rect x="288.10" y="829.38" width="14.94" height="14.88" fill="#3b4cc0"/>
<rect x="302.04" y="829.38" width="14.94" height="14.88" fill="#c0d4f5"/>
<rect x="315.98" y="829.38" width="14.94" height="14.88" fill="#c0d4f5"/>
<rect x="329.92" y="829.38" width="14.94" height="14.88" fill="#cad8ef"/>
<rect x="343.86" y="829.38" width="14.94" height="14.88" fill="#7b9ff9"/>
<rect x="357.80" y="829.38" width="14.94" height="14.88" fill="#c0d4f5"/>
<rect x="371.74" y="829.38" width="14.94" height="14.88" fill="#b40426"/>
<rect x="385.68" y="829.38" width="14.94" height="14.88" fill="#cfdaea"/>
<rect x="399.62" y="829.38" width="14.94" height="14.88" fill="#dddcdc"/>
<rect x="413.56" y="829.38" width="13.94" height="14.88" fill="#3b4cc0"/>
<rect x="288.10" y="843.26" width="14.94" height="14.88" fill="#5f7fe8"/>
<rect x="302.04" y="843.26" width="14.94" height="14.88" fill="#9ebeff"/>
<rect x="315.98" y="843.26" width="14.94" height="14.88" fill="#cfdaea"/>
<rect x="329.92" y="843.26" width="14.94" height="14.88" fill="#7b9ff9"/>
<rect x="343.86" y="843.26" width="14.94" height="14.88" fill="#6c8ff1"/>
<rect x="357.80" y="843.26" width="14.94" height="14.88" fill="#c0d4f5"/>
<rect x="371.74" y="843.26" width="14.94" height="14.88" fill="#cfdaea"/>
<rect x="385.68" y="843.26" width="14.94" height="14.88" fill="#b40426"/>
<rect x="399.62" y="843.26" width="14.94" height="14.88" fill="#cfdaea"/>
<rect x="413.56" y="843.26" width="13.94" height="14.88" fill="#536edd"/>
<rect x="288.10" y="857.14" width="14.94" height="14.88" fill="#f6a586"/>
<rect x="302.04" y="857.14" width="14.94" height="14.88" fill="#b40426"/>
<rect x="315.98" y="857.14" width="14.94" height="14.88" fill="#cfdaea"/>
<rect x="329.92" y="857.14" width="14.94" height="14.88" fill="#bad0f8"/>
<rect x="343.86" y="857.14" width="14.94" height="14.88" fill="#bad0f8"/>
<rect x="357.80" y="857.14" width="14.94" height="14.88" fill="#cad8ef"/>
<rect x="371.74" y="857.14" width="14.94" height="14.88" fill="#dddcdc"/>
<rect x="385.68" y="857.14" width="14.94" height="14.88" fill="#cfdaea"/>
<rect x="399.62" y="857.14" width="14.94" height="14.88" fill="#b40426"/>
<rect x="413.56" y="857.14" width="13.94" height="14.88" fill="#9ebeff"/>
<rect x="288.10" y="871.02" width="14.94" height="13.88" fill="#536edd"/>
<rect x="302.04" y="871.02" width="14.94" height="13.88" fill="#4055c8"/>
<rect x="315.98" y="871.02" width="14.94" height="13.88" fill="#6c8ff1"/>
<rect x="329.92" y="871.02" width="14.94" height="13.88" fill="#3b4cc0"/>
<rect x="343.86" y="871.02" width="14.94" height="13.88" fill="#3b4cc0"/>
<rect x="357.80" y="871.02" width="14.94" height="13.88" fill="#536edd"/>
<rect x="371.74" y="871.02" width="14.94" height="13.88" fill="#3b4cc0"/>
<rect x="385.68" y="871.02" width="14.94" height="13.88" fill="#4961d2"/>
<rect x="399.62" y="871.02" width="14.94" height="13.88" fill="#9ebeff"/>
<rect x="413.56" y="871.02" width="13.94" height="13.88" fill="#b40426"/>
<rect x="288.10" y="746.10" width="139.40" height="138.80" fill="none" stroke="#c8c8c8" stroke-width="0.5"/>
<text x="429.10" y="755.95" font-size="8.3">SOX2<tspan font-size="4.60" dy="-2.60">high</tspan><tspan dy="2.60"> epit.</tspan></text>
<text transform="translate(297.98,886.50) rotate(-90)" text-anchor="end" font-size="8.3">SOX2<tspan font-size="4.60" dy="-2.60">high</tspan><tspan dy="2.60"> epit.</tspan></text>
<text x="429.10" y="769.83" font-size="8.3">ASM</text>
<text transform="translate(311.92,886.50) rotate(-90)" text-anchor="end" font-size="8.3">ASM</text>
<text x="429.10" y="783.71" font-size="8.3">VSM</text>
<text transform="translate(325.86,886.50) rotate(-90)" text-anchor="end" font-size="8.3">VSM</text>
<text x="429.10" y="797.59" font-size="8.3">Endothelial</text>
<text transform="translate(339.80,886.50) rotate(-90)" text-anchor="end" font-size="8.3">Endothelial</text>
<text x="429.10" y="811.47" font-size="8.3">Vim+ mes.</text>
<text transform="translate(353.74,886.50) rotate(-90)" text-anchor="end" font-size="8.3">Vim+ mes.</text>
<text x="429.10" y="825.35" font-size="8.3">Ki67+ mes.</text>
<text transform="translate(367.68,886.50) rotate(-90)" text-anchor="end" font-size="8.3">Ki67+ mes.</text>
<text x="429.10" y="839.23" font-size="8.3">Immune</text>
<text transform="translate(381.62,886.50) rotate(-90)" text-anchor="end" font-size="8.3">Immune</text>
<text x="429.10" y="853.11" font-size="8.3">Lymp.endo.</text>
<text transform="translate(395.56,886.50) rotate(-90)" text-anchor="end" font-size="8.3">Lymp.endo.</text>
<text x="429.10" y="866.99" font-size="8.3">Neuronal</text>
<text transform="translate(409.50,886.50) rotate(-90)" text-anchor="end" font-size="8.3">Neuronal</text>
<text x="429.10" y="880.87" font-size="8.3">SOX9<tspan font-size="4.60" dy="-2.60">high</tspan><tspan dy="2.60"> epit.</tspan></text>
<text transform="translate(423.44,886.50) rotate(-90)" text-anchor="end" font-size="8.3">SOX9<tspan font-size="4.60" dy="-2.60">high</tspan><tspan dy="2.60"> epit.</tspan></text>
<rect x="494.20" y="744.80" width="12.89" height="12.86" fill="#b40426"/>
<rect x="506.09" y="744.80" width="12.89" height="12.86" fill="#b6cefa"/>
<rect x="517.98" y="744.80" width="12.89" height="12.86" fill="#cad8ef"/>
<rect x="529.88" y="744.80" width="12.89" height="12.86" fill="#f6a586"/>
<rect x="541.77" y="744.80" width="12.89" height="12.86" fill="#b6cefa"/>
<rect x="553.66" y="744.80" width="12.89" height="12.86" fill="#9ebeff"/>
<rect x="565.55" y="744.80" width="12.89" height="12.86" fill="#cad8ef"/>
<rect x="577.44" y="744.80" width="12.89" height="12.86" fill="#cad8ef"/>
<rect x="589.33" y="744.80" width="12.89" height="12.86" fill="#e7d7ce"/>
<rect x="601.23" y="744.80" width="12.89" height="12.86" fill="#cad8ef"/>
<rect x="613.12" y="744.80" width="12.89" height="12.86" fill="#cad8ef"/>
<rect x="625.01" y="744.80" width="11.89" height="12.86" fill="#cfdaea"/>
<rect x="494.20" y="756.66" width="12.89" height="12.86" fill="#b6cefa"/>
<rect x="506.09" y="756.66" width="12.89" height="12.86" fill="#b40426"/>
<rect x="517.98" y="756.66" width="12.89" height="12.86" fill="#f6a586"/>
<rect x="529.88" y="756.66" width="12.89" height="12.86" fill="#3b4cc0"/>
<rect x="541.77" y="756.66" width="12.89" height="12.86" fill="#3b4cc0"/>
<rect x="553.66" y="756.66" width="12.89" height="12.86" fill="#3b4cc0"/>
<rect x="565.55" y="756.66" width="12.89" height="12.86" fill="#3b4cc0"/>
<rect x="577.44" y="756.66" width="12.89" height="12.86" fill="#3b4cc0"/>
<rect x="589.33" y="756.66" width="12.89" height="12.86" fill="#b3cdfb"/>
<rect x="601.23" y="756.66" width="12.89" height="12.86" fill="#4055c8"/>
<rect x="613.12" y="756.66" width="12.89" height="12.86" fill="#4055c8"/>
<rect x="625.01" y="756.66" width="11.89" height="12.86" fill="#8db0fe"/>
<rect x="494.20" y="768.52" width="12.89" height="12.86" fill="#cad8ef"/>
<rect x="506.09" y="768.52" width="12.89" height="12.86" fill="#f6a586"/>
<rect x="517.98" y="768.52" width="12.89" height="12.86" fill="#b40426"/>
<rect x="529.88" y="768.52" width="12.89" height="12.86" fill="#b40426"/>
<rect x="541.77" y="768.52" width="12.89" height="12.86" fill="#3b4cc0"/>
<rect x="553.66" y="768.52" width="12.89" height="12.86" fill="#3b4cc0"/>
<rect x="565.55" y="768.52" width="12.89" height="12.86" fill="#3b4cc0"/>
<rect x="577.44" y="768.52" width="12.89" height="12.86" fill="#3b4cc0"/>
<rect x="589.33" y="768.52" width="12.89" height="12.86" fill="#e7d7ce"/>
<rect x="601.23" y="768.52" width="12.89" height="12.86" fill="#536edd"/>
<rect x="613.12" y="768.52" width="12.89" height="12.86" fill="#4961d2"/>
<rect x="625.01" y="768.52" width="11.89" height="12.86" fill="#9ebeff"/>
<rect x="494.20" y="780.38" width="12.89" height="12.86" fill="#f6a586"/>
<rect x="506.09" y="780.38" width="12.89" height="12.86" fill="#3b4cc0"/>
<rect x="517.98" y="780.38" width="12.89" height="12.86" fill="#b40426"/>
<rect x="529.88" y="780.38" width="12.89" height="12.86" fill="#b40426"/>
<rect x="541.77" y="780.38" width="12.89" height="12.86" fill="#6c8ff1"/>
<rect x="553.66" y="780.38" width="12.89" height="12.86" fill="#3b4cc0"/>
<rect x="565.55" y="780.38" width="12.89" height="12.86" fill="#3b4cc0"/>
<rect x="577.44" y="780.38" width="12.89" height="12.86" fill="#6c8ff1"/>
<rect x="589.33" y="780.38" width="12.89" height="12.86" fill="#b40426"/>
<rect x="601.23" y="780.38" width="12.89" height="12.86" fill="#5977e3"/>
<rect x="613.12" y="780.38" width="12.89" height="12.86" fill="#5977e3"/>
<rect x="625.01" y="780.38" width="11.89" height="12.86" fill="#b3cdfb"/>
<rect x="494.20" y="792.23" width="12.89" height="12.86" fill="#b6cefa"/>
<rect x="506.09" y="792.23" width="12.89" height="12.86" fill="#3b4cc0"/>
<rect x="517.98" y="792.23" width="12.89" height="12.86" fill="#3b4cc0"/>
<rect x="529.88" y="792.23" width="12.89" height="12.86" fill="#6c8ff1"/>
<rect x="541.77" y="792.23" width="12.89" height="12.86" fill="#b40426"/>
<rect x="553.66" y="792.23" width="12.89" height="12.86" fill="#e9d5cb"/>
<rect x="565.55" y="792.23" width="12.89" height="12.86" fill="#cfdaea"/>
<rect x="577.44" y="792.23" width="12.89" height="12.86" fill="#cfdaea"/>
<rect x="589.33" y="792.23" width="12.89" height="12.86" fill="#cad8ef"/>
<rect x="601.23" y="792.23" width="12.89" height="12.86" fill="#6c8ff1"/>
<rect x="613.12" y="792.23" width="12.89" height="12.86" fill="#9ebeff"/>
<rect x="625.01" y="792.23" width="11.89" height="12.86" fill="#f6a586"/>
<rect x="494.20" y="804.09" width="12.89" height="12.86" fill="#a9c6fd"/>
<rect x="506.09" y="804.09" width="12.89" height="12.86" fill="#3b4cc0"/>
<rect x="517.98" y="804.09" width="12.89" height="12.86" fill="#3b4cc0"/>
<rect x="529.88" y="804.09" width="12.89" height="12.86" fill="#3b4cc0"/>
<rect x="541.77" y="804.09" width="12.89" height="12.86" fill="#e9d5cb"/>
<rect x="553.66" y="804.09" width="12.89" height="12.86" fill="#b40426"/>
<rect x="565.55" y="804.09" width="12.89" height="12.86" fill="#dc5d4a"/>
<rect x="577.44" y="804.09" width="12.89" height="12.86" fill="#cad8ef"/>
<rect x="589.33" y="804.09" width="12.89" height="12.86" fill="#c0d4f5"/>
<rect x="601.23" y="804.09" width="12.89" height="12.86" fill="#4055c8"/>
<rect x="613.12" y="804.09" width="12.89" height="12.86" fill="#4055c8"/>
<rect x="625.01" y="804.09" width="11.89" height="12.86" fill="#7597f6"/>
<rect x="494.20" y="815.95" width="12.89" height="12.86" fill="#cad8ef"/>
<rect x="506.09" y="815.95" width="12.89" height="12.86" fill="#3b4cc0"/>
<rect x="517.98" y="815.95" width="12.89" height="12.86" fill="#3b4cc0"/>
<rect x="529.88" y="815.95" width="12.89" height="12.86" fill="#3b4cc0"/>
<rect x="541.77" y="815.95" width="12.89" height="12.86" fill="#cfdaea"/>
<rect x="553.66" y="815.95" width="12.89" height="12.86" fill="#dc5d4a"/>
<rect x="565.55" y="815.95" width="12.89" height="12.86" fill="#b40426"/>
<rect x="577.44" y="815.95" width="12.89" height="12.86" fill="#cad8ef"/>
<rect x="589.33" y="815.95" width="12.89" height="12.86" fill="#cad8ef"/>
<rect x="601.23" y="815.95" width="12.89" height="12.86" fill="#a9c6fd"/>
<rect x="613.12" y="815.95" width="12.89" height="12.86" fill="#a9c6fd"/>
<rect x="625.01" y="815.95" width="11.89" height="12.86" fill="#c0d4f5"/>
<rect x="494.20" y="827.81" width="12.89" height="12.86" fill="#cad8ef"/>
<rect x="506.09" y="827.81" width="12.89" height="12.86" fill="#3b4cc0"/>
<rect x="517.98" y="827.81" width="12.89" height="12.86" fill="#3b4cc0"/>
<rect x="529.88" y="827.81" width="12.89" height="12.86" fill="#6c8ff1"/>
<rect x="541.77" y="827.81" width="12.89" height="12.86" fill="#cfdaea"/>
<rect x="553.66" y="827.81" width="12.89" height="12.86" fill="#cad8ef"/>
<rect x="565.55" y="827.81" width="12.89" height="12.86" fill="#cad8ef"/>
<rect x="577.44" y="827.81" width="12.89" height="12.86" fill="#b40426"/>
<rect x="589.33" y="827.81" width="12.89" height="12.86" fill="#cfdaea"/>
<rect x="601.23" y="827.81" width="12.89" height="12.86" fill="#b6cefa"/>
<rect x="613.12" y="827.81" width="12.89" height="12.86" fill="#b6cefa"/>
<rect x="625.01" y="827.81" width="11.89" height="12.86" fill="#cad8ef"/>
<rect x="494.20" y="839.67" width="12.89" height="12.86" fill="#e7d7ce"/>
<rect x="506.09" y="839.67" width="12.89" height="12.86" fill="#b3cdfb"/>
<rect x="517.98" y="839.67" width="12.89" height="12.86" fill="#e7d7ce"/>
<rect x="529.88" y="839.67" width="12.89" height="12.86" fill="#b40426"/>
<rect x="541.77" y="839.67" width="12.89" height="12.86" fill="#cad8ef"/>
<rect x="553.66" y="839.67" width="12.89" height="12.86" fill="#c0d4f5"/>
<rect x="565.55" y="839.67" width="12.89" height="12.86" fill="#cad8ef"/>
<rect x="577.44" y="839.67" width="12.89" height="12.86" fill="#cfdaea"/>
<rect x="589.33" y="839.67" width="12.89" height="12.86" fill="#b40426"/>
<rect x="601.23" y="839.67" width="12.89" height="12.86" fill="#cfdaea"/>
<rect x="613.12" y="839.67" width="12.89" height="12.86" fill="#cfdaea"/>
<rect x="625.01" y="839.67" width="11.89" height="12.86" fill="#cfdaea"/>
<rect x="494.20" y="851.52" width="12.89" height="12.86" fill="#cfdaea"/>
<rect x="506.09" y="851.52" width="12.89" height="12.86" fill="#4055c8"/>
<rect x="517.98" y="851.52" width="12.89" height="12.86" fill="#536edd"/>
<rect x="529.88" y="851.52" width="12.89" height="12.86" fill="#5977e3"/>
<rect x="541.77" y="851.52" width="12.89" height="12.86" fill="#6c8ff1"/>
<rect x="553.66" y="851.52" width="12.89" height="12.86" fill="#4055c8"/>
<rect x="565.55" y="851.52" width="12.89" height="12.86" fill="#a9c6fd"/>
<rect x="577.44" y="851.52" width="12.89" height="12.86" fill="#b6cefa"/>
<rect x="589.33" y="851.52" width="12.89" height="12.86" fill="#cfdaea"/>
<rect x="601.23" y="851.52" width="12.89" height="12.86" fill="#b40426"/>
<rect x="613.12" y="851.52" width="12.89" height="12.86" fill="#f4c6af"/>
<rect x="625.01" y="851.52" width="11.89" height="12.86" fill="#cad8ef"/>
<rect x="494.20" y="863.38" width="12.89" height="12.86" fill="#cfdaea"/>
<rect x="506.09" y="863.38" width="12.89" height="12.86" fill="#4055c8"/>
<rect x="517.98" y="863.38" width="12.89" height="12.86" fill="#4961d2"/>
<rect x="529.88" y="863.38" width="12.89" height="12.86" fill="#5977e3"/>
<rect x="541.77" y="863.38" width="12.89" height="12.86" fill="#9ebeff"/>
<rect x="553.66" y="863.38" width="12.89" height="12.86" fill="#4055c8"/>
<rect x="565.55" y="863.38" width="12.89" height="12.86" fill="#a9c6fd"/>
<rect x="577.44" y="863.38" width="12.89" height="12.86" fill="#b6cefa"/>
<rect x="589.33" y="863.38" width="12.89" height="12.86" fill="#cfdaea"/>
<rect x="601.23" y="863.38" width="12.89" height="12.86" fill="#f4c6af"/>
<rect x="613.12" y="863.38" width="12.89" height="12.86" fill="#b40426"/>
<rect x="625.01" y="863.38" width="11.89" height="12.86" fill="#b40426"/>
<rect x="494.20" y="875.24" width="12.89" height="11.86" fill="#cfdaea"/>
<rect x="506.09" y="875.24" width="12.89" height="11.86" fill="#8db0fe"/>
<rect x="517.98" y="875.24" width="12.89" height="11.86" fill="#9ebeff"/>
<rect x="529.88" y="875.24" width="12.89" height="11.86" fill="#b3cdfb"/>
<rect x="541.77" y="875.24" width="12.89" height="11.86" fill="#f6a586"/>
<rect x="553.66" y="875.24" width="12.89" height="11.86" fill="#7597f6"/>
<rect x="565.55" y="875.24" width="12.89" height="11.86" fill="#c0d4f5"/>
<rect x="577.44" y="875.24" width="12.89" height="11.86" fill="#c0d4f5"/>
<rect x="589.33" y="875.24" width="12.89" height="11.86" fill="#cfdaea"/>
<rect x="601.23" y="875.24" width="12.89" height="11.86" fill="#cad8ef"/>
<rect x="613.12" y="875.24" width="12.89" height="11.86" fill="#b40426"/>
<rect x="625.01" y="875.24" width="11.89" height="11.86" fill="#b40426"/>
<rect x="494.20" y="744.80" width="142.70" height="142.30" fill="none" stroke="#c8c8c8" stroke-width="0.5"/>
<text x="638.50" y="753.53" font-size="8.0">Chondroblast</text>
<text transform="translate(502.95,888.70) rotate(-90)" text-anchor="end" font-size="8.0">Chondroblast</text>
<text x="638.50" y="765.39" font-size="8.0">SOX9<tspan font-size="4.43" dy="-2.51">high</tspan><tspan dy="2.51"> epit.</tspan></text>
<text transform="translate(514.84,888.70) rotate(-90)" text-anchor="end" font-size="8.0">SOX9<tspan font-size="4.43" dy="-2.51">high</tspan><tspan dy="2.51"> epit.</tspan></text>
<text x="638.50" y="777.25" font-size="8.0">SOX2<tspan font-size="4.43" dy="-2.51">high</tspan><tspan dy="2.51"> epit.</tspan></text>
<text transform="translate(526.73,888.70) rotate(-90)" text-anchor="end" font-size="8.0">SOX2<tspan font-size="4.43" dy="-2.51">high</tspan><tspan dy="2.51"> epit.</tspan></text>
<text x="638.50" y="789.10" font-size="8.0">ASM</text>
<text transform="translate(538.62,888.70) rotate(-90)" text-anchor="end" font-size="8.0">ASM</text>
<text x="638.50" y="800.96" font-size="8.0">Endothelial</text>
<text transform="translate(550.51,888.70) rotate(-90)" text-anchor="end" font-size="8.0">Endothelial</text>
<text x="638.50" y="812.82" font-size="8.0">Vim+ mes.</text>
<text transform="translate(562.40,888.70) rotate(-90)" text-anchor="end" font-size="8.0">Vim+ mes.</text>
<text x="638.50" y="824.68" font-size="8.0">Ki67+ mes.</text>
<text transform="translate(574.30,888.70) rotate(-90)" text-anchor="end" font-size="8.0">Ki67+ mes.</text>
<text x="638.50" y="836.54" font-size="8.0">Immune</text>
<text transform="translate(586.19,888.70) rotate(-90)" text-anchor="end" font-size="8.0">Immune</text>
<text x="638.50" y="848.40" font-size="8.0">Neuronal</text>
<text transform="translate(598.08,888.70) rotate(-90)" text-anchor="end" font-size="8.0">Neuronal</text>
<text x="638.50" y="860.25" font-size="8.0">Lymp.endo.</text>
<text transform="translate(609.97,888.70) rotate(-90)" text-anchor="end" font-size="8.0">Lymp.endo.</text>
<text x="638.50" y="872.11" font-size="8.0">Pericyte</text>
<text transform="translate(621.86,888.70) rotate(-90)" text-anchor="end" font-size="8.0">Pericyte</text>
<text x="638.50" y="883.97" font-size="8.0">VSM</text>
<text transform="translate(633.75,888.70) rotate(-90)" text-anchor="end" font-size="8.0">VSM</text>
<defs><pattern id="iBase" width="60" height="60" patternUnits="userSpaceOnUse"><rect width="60" height="60" fill="#5e5e5e"/><g transform="scale(0.5)"><path d="M45 -1h0m-23 9h0m4 0h0m7-6h0m-29 12h0m2 9h0m44-9h0m5-1h0m-51 11h0m58 11h0m11-8h0m3 8h0m32-8h0m-109 9h0m3 6h0m2 1h0m44 3h0m4-3h0m7-3h0m6 3h0m3-4h0m9 5h0m3-1h0m39-7h0m3 6h0m-123 16h0m15-10h0m43 5h0m15-1h0m47 6h0m-121 5h0m11 4h0m3 3h0m52 0h0m17-9h0m4 7h0m27 2h0m6-7h0m-118 19h0m26 1h0m38 0h0m10-1h0m15-8h0m31 8h0m-114 6h0m27-4h0m17 5h0m9 0h0m13-5h0m29 8h0m-103 8h0m30 5h0m63 0h0m12-1h0m15-4h0m-107 9h0m34 10h0m1-8h0m44 4h0m17-1h0m5-1h0m-79 9h0" stroke="#40dcec" stroke-width="3.6" stroke-linecap="round" fill="none"/><path d="M35 7h0m41-1h0m40-6h0m-94 15h0m57 7h0m36-2h0m-77 13h0m25-7h0m-48 11h0m33 5h0m45 23h0m-64 12h0m38 17h0m36 5h0m-75 16h0m9 1h0m44-3h0m35 7h0" stroke="#8a20ae" stroke-width="3.6" stroke-linecap="round" fill="none"/><path d="M10 -2h0m6 1h0m5-1h0m0 0h0m32 1h0m15 0h0m10-1h0m27 0h0m6 0h0m4 1h0m-117 8h0m2-5h0m1 4h0m3-4h0m1 8h0m4-4h0m2 3h0m1-3h0m5-3h0m0 7h0m8-4h0m10-6h0m11 3h0m2 2h0m0 2h0m8 0h0m1-5h0m1 2h0m0 5h0m7-8h0m4 7h0m2-6h0m0 0h0m2 6h0m9-2h0m2-5h0m3 2h0m5 0h0m4 7h0m4 0h0m4 1h0m6-2h0m2 0h0m5-7h0m1 5h0m2-5h0m1 4h0m-122 8h0m0 5h0m2 3h0m2-4h0m4-3h0m5 6h0m1-9h0m4 9h0m3-8h0m1 4h0m8 3h0m8-3h0m0 5h0m1-7h0m5 2h0m1-1h0m13 3h0m2 1h0m5-4h0m4 2h0m3-5h0m5 0h0m1 9h0m5-3h0m2-6h0m3 3h0m4 0h0m0 5h0m6-8h0m3 2h0m0 6h0m4-8h0m0 7h0m8 3h0m2-11h0m5 2h0m0 5h0m2 3h0m-120 6h0m3 2h0m0 4h0m4-5h0m1 5h0m2-2h0m5-3h0m1 1h0m3-2h0m3 4h0m7-5h0m2 6h0m5-6h0m4 0h0m12 8h0m1-11h0m0 1h0m0 7h0m3-5h0m10 2h0m5 4h0m4-8h0m9-1h0m1 8h0m4 2h0m1-9h0m2 0h0m2 6h0m4-6h0m3 6h0m13 3h0m1 0h0m5-6h0m-122 11h0m3 1h0m0 5h0m6-4h0m5 2h0m2-4h0m5 6h0m2-4h0m7-2h0m1 6h0m13-2h0m3-4h0m7 3h0m7 2h0m6 2h0m6-3h0m12 1h0m1-2h0m4 3h0m5-9h0m1 10h0m2-4h0m1-5h0m0 8h0m5-9h0m4 6h0m1-6h0m0 9h0m7 0h0m4-6h0m3 1h0m0 5h0m-118 3h0m0 9h0m2 1h0m1-8h0m10 9h0m4-3h0m3 2h0m9-5h0m3-2h0m1 8h0m2-5h0m6-4h0m3 3h0m1 5h0m2-8h0m2-2h0m2 10h0m3 1h0m3-7h0m8 4h0m3 2h0m2-1h0m1-9h0m2 4h0m7-4h0m0 5h0m5 3h0m3 1h0m3-1h0m8 1h0m1-5h0m12-2h0m0 4h0m-112 15h0m9 2h0m1-11h0m0 9h0m1-4h0m7 0h0m3 4h0m1-5h0m9 3h0m2-2h0m1 1h0m5-4h0m3-1h0m4 7h0m2 3h0m3-5h0m11-6h0m6 6h0m3-5h0m2 9h0m3-10h0m6 5h0m7-3h0m1 8h0m4-4h0m6 4h0m1-8h0m3 5h0m5-6h0m2 5h0m2 4h0m-119 4h0m0 6h0m3-2h0m0-3h0m3 8h0m3-9h0m5 6h0m1 2h0m6-7h0m6-1h0m10 0h0m2 8h0m3 0h0m3-10h0m2 6h0m1-4h0m4 5h0m1 0h0m3-5h0m3-1h0m1 3h0m5-1h0m7-2h0m4 5h0m6-4h0m1-2h0m1 6h0m6 1h0m3 3h0m2-7h0m7 0h0m1-1h0m2 6h0m3-6h0m5-1h0m1 1h0m4 1h0m0 7h0m2-8h0m0 6h0m3-2h0m0-3h0m-122 19h0m1-5h0m1 0h0m1-2h0m5-2h0m6 0h0m2 7h0m2 0h0m11 0h0m1-6h0m2 9h0m6-6h0m3 3h0m7-2h0m5-3h0m2 6h0m3-5h0m5 3h0m7 4h0m6-8h0m5-1h0m3 3h0m1-4h0m2 9h0m1-4h0m6-4h0m10 1h0m7 3h0m1-4h0m8 8h0m1-5h0m1 0h0m1-2h0m-113 10h0m0 2h0m0 6h0m5-1h0m3-4h0m3 6h0m4-9h0m1 8h0m4-7h0m4-2h0m0 9h0m2 1h0m2-7h0m1 7h0m2-8h0m3 4h0m10-5h0m9 9h0m8-1h0m4-4h0m1-4h0m7 7h0m2-3h0m3-2h0m7-1h0m3 4h0m10 1h0m4 3h0m2-9h0m0 5h0m-115 13h0m2 2h0m0-9h0m2 3h0m0-1h0m3-2h0m2 8h0m3 2h0m4-10h0m2 11h0m2-5h0m3 4h0m0 0h0m4-7h0m3-2h0m3 6h0m6 0h0m10-2h0m5 2h0m1 4h0m3-2h0m2-8h0m0 3h0m2 3h0m8 4h0m5-9h0m4 4h0m0 3h0m1 1h0m8-8h0m7 1h0m1-2h0m4 0h0m7 9h0m6 0h0m2-8h0m2 9h0m3-4h0m2-7h0m0 9h0m2-6h0m0-1h0m-122 12h0m4 0h0m13 1h0m18-3h0m22 2h0m8-1h0m6 1h0m0 0h0m13-1h0m33 1h0m3 0h0" stroke="#d6b0f4" stroke-width="3.6" stroke-linecap="round" fill="none"/><path d="M-2 10h0m2-9h0m40 9h0m27-6h0m51 6h0m2-9h0m-110 17h0m4-1h0m13-2h0m21 7h0m19-2h0m13-6h0m31 5h0m-67 12h0m16-2h0m13 5h0m6-3h0m23-6h0m13-1h0m-99 16h0m17-4h0m5 11h0m18-11h0m47 3h0m-41 12h0m45-3h0m4 3h0m-81 20h0m1-9h0m25 3h0m11 0h0m33-3h0m-77 11h0m62 5h0m-19 7h0m8 4h0m8 5h0m14-8h0m8 6h0m13-6h0m-96 12h0m0 8h0m28-10h0m8 2h0m60 8h0m-117 4h0m6 4h0m36-4h0m22 0h0m40 0h0m16 0h0m-120 11h0m120 0h0" stroke="#f07d2e" stroke-width="3.6" stroke-linecap="round" fill="none"/></g></pattern><pattern id="iW6o" width="60" height="60" patternUnits="userSpaceOnUse"><rect width="60" height="60" fill="#5e5e5e"/><g transform="scale(0.5)"><path d="M43 -2h0m59 1h0m-87 9h0m31-2h0m5-5h0m55 5h0m7 0h0m-109 9h0m16 1h0m20 4h0m8 3h0m8-6h0m43 6h0m4-5h0m-41 10h0m-51 15h0m32-3h0m22 4h0m0 3h0m-41 6h0m88 3h0m-51 11h0m14-5h0m10 9h0m17-5h0m12 1h0m-35 9h0m32-3h0m-111 21h0m6-1h0m36-1h0m40-6h0m32 1h0m6 7h0m-119 7h0m27-1h0m37 0h0m0 2h0m6-4h0m50 3h0m-78 17h0m13-7h0m25 5h0m11 1h0m10 2h0m-51 2h0" stroke="#40dcec" stroke-width="3.6" stroke-linecap="round" fill="none"/><path d="M6 -1h0m36-1h0m6 1h0m7-1h0m11 1h0m9-1h0m20 1h0m-93 3h0m2 2h0m4-2h0m10 3h0m4 4h0m1-7h0m2-1h0m7 8h0m1-5h0m2 6h0m3-10h0m3 2h0m3 8h0m0 1h0m4-3h0m3 0h0m5-5h0m1 8h0m2-11h0m5 2h0m1-2h0m8 8h0m7 1h0m8 2h0m10-4h0m2 4h0m3-1h0m19-8h0m-121 17h0m5 0h0m5 0h0m2-7h0m3 11h0m2-3h0m10 2h0m7-1h0m1-9h0m1 8h0m3-6h0m4 8h0m22 0h0m7-4h0m9-6h0m2 6h0m3 4h0m6-2h0m1 1h0m15-4h0m3 6h0m9-4h0m-123 11h0m2-4h0m1 2h0m0 2h0m4 5h0m1-5h0m6-1h0m2-2h0m3 7h0m4-9h0m3 10h0m2-7h0m6-3h0m4 9h0m3-6h0m6 2h0m2-4h0m0 9h0m4-3h0m4-3h0m2 5h0m5-4h0m1 0h0m0 5h0m3-6h0m8 2h0m16-6h0m1-1h0m4 10h0m2-5h0m2 3h0m5 2h0m7-8h0m3 3h0m4 1h0m2-4h0m1 2h0m0 2h0m-123 7h0m2 8h0m2-6h0m7-1h0m5 9h0m2-3h0m16 2h0m8-8h0m3 6h0m0 3h0m2-2h0m4-6h0m5 8h0m12-11h0m5 9h0m3-8h0m2 4h0m1 2h0m7 3h0m2-5h0m2-3h0m2 6h0m4 2h0m7 1h0m1-5h0m3-4h0m5-1h0m1 2h0m7-2h0m2 8h0m2-6h0m-123 16h0m7-3h0m4 5h0m5-5h0m7 3h0m10-6h0m3 4h0m13 0h0m7 6h0m9-4h0m1 1h0m1 3h0m15-8h0m6-1h0m0 9h0m3-1h0m4-4h0m3 5h0m2-5h0m2-3h0m5 8h0m2-7h0m5 1h0m6 2h0m-120 11h0m0 5h0m1-10h0m3 5h0m3-4h0m1 5h0m4-2h0m0 5h0m5-6h0m2-2h0m1 7h0m7-7h0m10-1h0m3 0h0m4 1h0m0 3h0m7 2h0m1-6h0m10 10h0m3-10h0m2 4h0m6 4h0m8 2h0m7-7h0m5 1h0m1-1h0m3 7h0m1-8h0m3 8h0m6-10h0m13 5h0m0 5h0m1-10h0m3 5h0m-121 9h0m5 2h0m4 3h0m3 2h0m7-3h0m4-7h0m0 2h0m2 5h0m1 4h0m4-5h0m1-6h0m0 11h0m9-2h0m4 0h0m5-3h0m1-5h0m3-1h0m10 6h0m1 1h0m2-6h0m11 7h0m6 1h0m3 0h0m6-3h0m0 3h0m5-1h0m6-7h0m0 8h0m1-5h0m2 6h0m14-7h0m-125 16h0m3-7h0m7 5h0m7-3h0m5-1h0m6 4h0m9-5h0m3 0h0m16 4h0m5 6h0m1-5h0m3-1h0m13 2h0m1-5h0m5 6h0m5-6h0m1 3h0m2 7h0m4-9h0m3 3h0m20 0h0m1 2h0m3-7h0m-119 20h0m0 3h0m2-5h0m3-5h0m3 8h0m3-5h0m4 5h0m4-9h0m10 7h0m3 4h0m2-7h0m18-3h0m4 8h0m4-2h0m8 1h0m3-8h0m3 9h0m5-5h0m8-3h0m2 6h0m4-2h0m7-5h0m4 1h0m3 8h0m9 1h0m4-2h0m0 3h0m-118 4h0m3 8h0m4-2h0m1-9h0m16 1h0m4 6h0m1-4h0m4-3h0m2 3h0m4 7h0m6 1h0m1-11h0m4 7h0m2 3h0m5-9h0m6 10h0m6-6h0m3 5h0m0-5h0m12-1h0m1-2h0m1 6h0m6 3h0m3-8h0m1-1h0m1 7h0m1-5h0m4 1h0m18-2h0m-121 11h0m6 0h0m15 0h0m2-1h0m13-1h0m3 2h0m18-2h0m5 2h0m1-2h0m57 2h0" stroke="#d6b0f4" stroke-width="3.6" stroke-linecap="round" fill="none"/><path d="M-1 -2h0m17 0h0m46 1h0m9-1h0m18 0h0m25-1h0m5 1h0m-118 11h0m2-2h0m18 4h0m1-6h0m4 6h0m3-11h0m39 8h0m1-6h0m13 1h0m4 1h0m5 3h0m0 3h0m7-5h0m12-5h0m3 0h0m8 9h0m-114 7h0m18 3h0m27-2h0m7 4h0m16-7h0m2 4h0m10-1h0m23-4h0m-111 22h0m13-7h0m17 7h0m1-3h0m7-7h0m15 2h0m0 4h0m18 0h0m4-5h0m6 3h0m9 1h0m23 3h0m7 2h0m-121 11h0m7-3h0m6-5h0m9 4h0m8 3h0m7-6h0m21 0h0m1 8h0m3-6h0m5-2h0m11-1h0m19 1h0m20 0h0m1-3h0m2 10h0m-119 9h0m2-6h0m2 1h0m0 8h0m17-8h0m15 7h0m4-1h0m12 3h0m8 0h0m10-1h0m4-2h0m37-6h0m6-1h0m3 6h0m2-6h0m-99 20h0m6-1h0m17 2h0m1-9h0m13 3h0m35 4h0m13-4h0m0 5h0m-106 3h0m0 5h0m12 1h0m23-6h0m2 5h0m12 6h0m10-8h0m1 7h0m8-6h0m4 4h0m14-5h0m16-1h0m10 0h0m8-2h0m0 5h0m-106 12h0m20 0h0m9-3h0m9 8h0m42-10h0m6 5h0m4 3h0m5 1h0m6-6h0m-118 12h0m37-2h0m7 6h0m1-5h0m9 6h0m7-5h0m5-2h0m20 2h0m15 0h0m14 2h0m5-2h0m-119 10h0m0 9h0m1-7h0m3-3h0m10 4h0m3 6h0m2-8h0m0 2h0m0 5h0m1-1h0m33-7h0m10 10h0m1-11h0m8 10h0m14-9h0m4 9h0m25-1h0m2-9h0m3 1h0m0 9h0m1-7h0m-91 9h0m40 2h0m13 1h0m28-3h0m3 0h0" stroke="#f07d2e" stroke-width="3.6" stroke-linecap="round" fill="none"/></g></pattern><pattern id="iW85" width="60" height="60" patternUnits="userSpaceOnUse"><rect width="60" height="60" fill="#626262"/><g transform="scale(0.5)"><path d="M58 -2h0m-42 3h0m2 2h0m1 4h0m65-2h0m9-1h0m14 7h0m-83 1h0m17 8h0m13 1h0m13 1h0m11 1h0m5-6h0m2 1h0m2-5h0m7 5h0m3 4h0m-43 2h0m0 5h0m6-4h0m27-1h0m10 8h0m-98 9h0m12 0h0m52 3h0m56-3h0m-106 14h0m19-4h0m12 6h0m1-5h0m10 4h0m4-4h0m14 7h0m19-2h0m10-9h0m-72 19h0m30-1h0m31-5h0m-55 15h0m66 7h0m1-5h0m9 0h0m-108 8h0m40 3h0m13 2h0m17-7h0m-66 19h0m32-2h0m9-4h0m23 9h0m11-10h0m-44 13h0m0 5h0m9-6h0m8 2h0m2 8h0m11-3h0m5-6h0m20 0h0m22 3h0m-100 9h0" stroke="#40dcec" stroke-width="3.8" stroke-linecap="round" fill="none"/><path d="M10 5h0m27-4h0m24 1h0m43 2h0m-98 8h0m45 1h0m5 2h0m20 8h0m38 12h0m-82 9h0m-30 15h0m120 0h0m-108 10h0m-16 11h0m17-8h0m8 8h0m3-8h0m42 8h0m43-6h0m7 6h0m-44 14h0m-6 10h0m34 0h0m-31 8h0m19-3h0m-53 12h0m24 1h0" stroke="#8a20ae" stroke-width="3.8" stroke-linecap="round" fill="none"/><path d="M9 -2h0m14 0h0m2 0h0m20 1h0m17-1h0m4 0h0m11 0h0m3 0h0m8 1h0m7 0h0m6-1h0m-96 5h0m5-3h0m3 8h0m16-7h0m4-1h0m0 6h0m1 0h0m0 0h0m19-6h0m4 7h0m2 3h0m3-5h0m2 1h0m1-2h0m1 6h0m5-4h0m3-5h0m4 3h0m1-3h0m9 6h0m4 2h0m1-8h0m3 3h0m1 2h0m2 1h0m6 1h0m0 2h0m2-7h0m9-1h0m0 1h0m-117 18h0m3-1h0m1-6h0m5 4h0m5 3h0m2-6h0m10 2h0m0 2h0m5-5h0m3 0h0m2-1h0m0 3h0m1 5h0m2-3h0m5-2h0m1-2h0m2 4h0m7-3h0m5 2h0m3 2h0m1-2h0m10-2h0m2-1h0m2 4h0m5-5h0m6 10h0m8 0h0m2-11h0m2 11h0m2-5h0m3 0h0m6 0h0m3 5h0m1-7h0m5 5h0m3-1h0m1-6h0m-125 16h0m5 2h0m2-8h0m2 5h0m2-2h0m0 4h0m2-1h0m2 4h0m2-8h0m4 0h0m0 5h0m0 2h0m3-5h0m2 5h0m6-4h0m6 0h0m7-5h0m1 10h0m5 0h0m2-2h0m1-5h0m6 6h0m3-5h0m1-1h0m0 6h0m3-4h0m6-2h0m3 2h0m6 0h0m0 5h0m6 0h0m3-2h0m1-8h0m2 7h0m10-3h0m6 2h0m3-6h0m2 7h0m5-1h0m-120 10h0m4 4h0m1-7h0m6-1h0m2 11h0m1-9h0m4 9h0m3-6h0m9 1h0m4 0h0m8 1h0m4-3h0m1 7h0m2-3h0m12-3h0m1-4h0m4 1h0m0 5h0m4-2h0m1 3h0m2-6h0m3 5h0m2 3h0m2-2h0m5-3h0m2 5h0m2-7h0m1 3h0m2 5h0m7-5h0m0 4h0m3-10h0m8 8h0m2-1h0m4 4h0m4-7h0m4 4h0m-120 11h0m4-4h0m5 6h0m7-9h0m0 8h0m3 0h0m6-8h0m0 10h0m1-2h0m1-5h0m3 5h0m5-3h0m2-5h0m5 4h0m3-4h0m3 11h0m5-11h0m8 1h0m6 2h0m0 2h0m0 3h0m9-8h0m0 4h0m1 2h0m2-2h0m5 4h0m1-5h0m3 1h0m4 6h0m2-9h0m7 7h0m3 2h0m2-2h0m14-1h0m-125 10h0m2-4h0m2 1h0m4 4h0m6-2h0m0 1h0m5-3h0m3 4h0m1-3h0m7-2h0m3-1h0m3 5h0m1-2h0m1 8h0m6-7h0m2-4h0m3 5h0m2 6h0m4-10h0m1 4h0m3 4h0m3-9h0m2 10h0m1-6h0m6 5h0m2-7h0m4-1h0m3 8h0m4-9h0m1 4h0m5 7h0m1-3h0m2-2h0m2 4h0m3-2h0m7-4h0m5-4h0m0 6h0m5-6h0m2 2h0m3 3h0m2-4h0m2 1h0m-123 10h0m2 10h0m1-1h0m1-9h0m7 7h0m2-3h0m0 5h0m6-3h0m6-3h0m5 5h0m4-3h0m5 5h0m3-10h0m2 9h0m10 1h0m2-8h0m0 7h0m4-8h0m0 9h0m2-4h0m3-1h0m1-1h0m2-4h0m6 3h0m2 4h0m1-7h0m5 11h0m2-8h0m1 4h0m3-5h0m1 8h0m11-5h0m3-2h0m3 7h0m1-6h0m3 3h0m8-5h0m2-2h0m2 10h0m1-1h0m1-9h0m-123 17h0m3 3h0m1 3h0m3-10h0m0 3h0m3 1h0m3-2h0m9 4h0m1-1h0m6 3h0m4-4h0m4 5h0m2-7h0m1 5h0m3-5h0m2-3h0m11 11h0m1-6h0m2 5h0m2-1h0m2-9h0m0 5h0m1-1h0m3-4h0m2 4h0m5 0h0m3 2h0m3-5h0m2 4h0m0 0h0m4-2h0m1 3h0m1-2h0m5 2h0m3-2h0m0 4h0m2-7h0m3 7h0m4-5h0m8 2h0m0 3h0m4 3h0m3-6h0m3 3h0m-125 8h0m3-2h0m2 9h0m1-2h0m3-9h0m7 8h0m5-7h0m2-1h0m7 0h0m0 9h0m3-7h0m1 6h0m9 0h0m4-8h0m0 5h0m6 2h0m1-5h0m3 6h0m2-3h0m6-2h0m6 8h0m8-8h0m2 3h0m3-5h0m0 3h0m1 5h0m3-5h0m4-3h0m2 5h0m5-5h0m3 10h0m1-9h0m1 3h0m7-3h0m2 3h0m1 3h0m6-4h0m3-2h0m2 9h0m-121 5h0m5 2h0m1-6h0m0 6h0m2-6h0m0 10h0m2-7h0m2-3h0m2 6h0m1 0h0m7 4h0m2 0h0m2-7h0m5 2h0m2-3h0m11 9h0m0-7h0m0 4h0m1-2h0m4-1h0m4 1h0m4-2h0m4 6h0m2-7h0m2 7h0m10-7h0m1 7h0m3 0h0m8 1h0m2-5h0m1 3h0m3-6h0m1 8h0m0-4h0m2-2h0m4 5h0m1-7h0m6-1h0m2 6h0m1-8h0m5 1h0m5 3h0m-111 8h0m19 1h0m4-1h0m20 0h0m21 1h0m5 0h0m14 0h0m14 2h0m9-1h0" stroke="#d6b0f4" stroke-width="3.8" stroke-linecap="round" fill="none"/><path d="M39 10h0m12 10h0m-50 12h0m113-8h0m7 8h0m-71 4h0m53 15h0m-35 17h0m-49 7h0m3 8h0m70-10h0m-76 15h0m30 15h0m14 3h0m12-5h0m43 14h0" stroke="#e636de" stroke-width="3.8" stroke-linecap="round" fill="none"/><path d="M1 -1h0m18-1h0m10-1h0m25 1h0m3 0h0m49 1h0m15 0h0m-123 8h0m6-3h0m0 2h0m2-4h0m6 7h0m12 0h0m3 1h0m13-5h0m6-2h0m2-1h0m0 4h0m1 2h0m2 1h0m2-6h0m20 0h0m2 5h0m6 0h0m12 3h0m18-10h0m2 3h0m2 4h0m3-1h0m-118 10h0m6 1h0m3 3h0m6-9h0m2 5h0m1 4h0m2 0h0m4-7h0m9 7h0m4 2h0m5-11h0m3 9h0m21-2h0m9 1h0m11-1h0m7-4h0m1 6h0m15 0h0m11-4h0m-118 9h0m2 5h0m22-7h0m2 4h0m1-2h0m9 8h0m3-5h0m27-2h0m1 5h0m3 1h0m3 1h0m5-9h0m6 5h0m2-1h0m12-1h0m2 5h0m10 0h0m10-7h0m-116 15h0m10 0h0m1-2h0m8-3h0m0 6h0m16-3h0m8 7h0m12-1h0m12-6h0m16 1h0m6-3h0m4 4h0m14-2h0m2 4h0m2 1h0m-120 10h0m3-6h0m7 10h0m8-9h0m3 7h0m15-2h0m4-5h0m18 0h0m1-1h0m5 9h0m5-3h0m31 1h0m8 1h0m6-6h0m3 4h0m2 3h0m1-6h0m0 3h0m3-6h0m-111 16h0m5 3h0m17 3h0m8-10h0m0 6h0m8 4h0m9-8h0m6 3h0m20-3h0m3-2h0m15 1h0m1 5h0m10 3h0m-97 14h0m1-9h0m7-2h0m12 2h0m1 4h0m9-2h0m2-3h0m19 3h0m10-2h0m2 7h0m15-4h0m4 6h0m2-9h0m6-2h0m-99 21h0m3-9h0m15 3h0m9-2h0m10 7h0m10-4h0m2 5h0m12-2h0m0 4h0m3-1h0m21-10h0m14 9h0m8-8h0m1 7h0m4-7h0m-113 15h0m5 1h0m2-3h0m9 2h0m4 6h0m10-2h0m32-3h0m21 3h0m7 0h0m4-4h0m9 2h0m10 4h0m-116 13h0m1-2h0m17 1h0m10-1h0m3-1h0m3-7h0m8 0h0m11 9h0m3 0h0m20-8h0m5-2h0m3 2h0m19 7h0m2 2h0m1-10h0m14 10h0m1-2h0m-116 5h0m40 1h0m2-1h0m5 1h0m58-2h0" stroke="#f07d2e" stroke-width="3.8" stroke-linecap="round" fill="none"/></g></pattern><pattern id="iW12" width="60" height="60" patternUnits="userSpaceOnUse"><rect width="60" height="60" fill="#625c58"/><g transform="scale(0.5)"><path d="M59 -1h0m-53 10h0m76-3h0m-68 12h0m36-4h0m-50 19h0m18-5h0m33 3h0m42-3h0m27 5h0m-120 3h0m28 7h0m31-2h0m13 0h0m35-5h0m13 0h0m-31 21h0m-76 9h0m20 1h0m76 2h0m-69 8h0m62 2h0m5-7h0m-101 25h0m2 4h0m2 4h0m13 2h0m52-5h0m10-1h0m-26 18h0m20-9h0" stroke="#40dcec" stroke-width="4.2" stroke-linecap="round" fill="none"/><path d="M17 6h0m-14 33h0m72-1h0m-48 15h0m79 0h0m-22 20h0m30 24h0" stroke="#8a20ae" stroke-width="4.2" stroke-linecap="round" fill="none"/><path d="M4 -2h0m4 1h0m7 0h0m16-2h0m5 2h0m36 0h0m6 0h0m9-1h0m3 0h0m8 0h0m16 0h0m-115 2h0m4 5h0m0 6h0m1-7h0m3 6h0m14-7h0m7-1h0m0 3h0m0-4h0m10 8h0m12-9h0m2 3h0m3 3h0m2-3h0m2-3h0m2 8h0m4-4h0m6 5h0m1-5h0m5-1h0m4 8h0m4-3h0m1-4h0m2 3h0m4-1h0m4-2h0m5 5h0m3-8h0m1 0h0m11 1h0m3-2h0m4 5h0m-126 13h0m2-5h0m0 2h0m4 4h0m8 3h0m7-7h0m2-3h0m0 10h0m3-4h0m2 1h0m10-7h0m3 9h0m11-3h0m1 5h0m12-11h0m4 4h0m2 4h0m1 3h0m11-1h0m2-1h0m2 1h0m8-10h0m7 6h0m1-4h0m4 1h0m13 3h0m2-5h0m0 2h0m4 4h0m-122 14h0m2-4h0m7 1h0m6 4h0m3-8h0m5 5h0m2-3h0m2-2h0m5-2h0m5 3h0m0 3h0m12 4h0m2 0h0m1-8h0m2 8h0m1-6h0m1 7h0m3-5h0m3-2h0m4 5h0m10-6h0m5 1h0m3-1h0m6 6h0m7-6h0m4 4h0m1-5h0m4 6h0m5 1h0m4 0h0m5 0h0m-122 8h0m2 5h0m6-9h0m0 5h0m2 5h0m1-8h0m8-3h0m6 5h0m5-2h0m2-1h0m5 5h0m2-6h0m4 9h0m5 0h0m8-5h0m1 1h0m5-5h0m7 1h0m4 6h0m6 2h0m4-1h0m4-3h0m5-2h0m2-3h0m2 9h0m1-7h0m1-3h0m10 4h0m4 6h0m1-7h0m2 4h0m2 0h0m3-2h0m2 5h0m-119 4h0m2 0h0m1 4h0m10 4h0m7-8h0m6 1h0m1 6h0m5-1h0m1 2h0m10-8h0m2 0h0m4 0h0m0 6h0m2 1h0m11-7h0m6 0h0m5-1h0m1 2h0m8-2h0m6 3h0m2-3h0m1 10h0m1-7h0m4-2h0m0 9h0m2-2h0m2-9h0m2 2h0m18 0h0m-120 11h0m1 8h0m5-8h0m2 4h0m1 5h0m8-10h0m0 4h0m2-2h0m4 4h0m3 2h0m12-1h0m5-4h0m0 6h0m5-2h0m5-2h0m1 4h0m11-1h0m1 2h0m2-3h0m4-5h0m4 0h0m5-1h0m2 8h0m5-9h0m1 4h0m8 6h0m1-7h0m5 6h0m9-2h0m8-6h0m1 8h0m-125 8h0m3 0h0m0 4h0m1-9h0m0 1h0m1 1h0m2 2h0m0 4h0m5-3h0m1 3h0m4-1h0m5-1h0m4-1h0m0 3h0m1-7h0m9 1h0m0 3h0m12 4h0m4 2h0m4-10h0m5 5h0m4 3h0m4-4h0m5-2h0m2-1h0m5 7h0m13-2h0m11-4h0m4 4h0m3 2h0m8-4h0m3 0h0m0 4h0m1-9h0m0 1h0m-121 13h0m1 9h0m1-1h0m10-6h0m6 5h0m9-1h0m0 3h0m5-9h0m0 8h0m2-10h0m2 5h0m0 4h0m4 1h0m1-8h0m0 7h0m3 1h0m3-4h0m3-4h0m1 8h0m2-1h0m9-9h0m1 11h0m3-10h0m5 9h0m1-4h0m0 5h0m2-2h0m11-3h0m5-1h0m3-4h0m0 5h0m4-1h0m1-2h0m3 8h0m4-6h0m5-4h0m1 1h0m1 7h0m2-4h0m6-3h0m1 9h0m-123 4h0m2-1h0m3 6h0m8-3h0m1 4h0m1-9h0m8 2h0m2 5h0m2-1h0m10 5h0m3-3h0m1-6h0m4 5h0m0 4h0m4-7h0m11 4h0m6 2h0m11 1h0m1-10h0m0 1h0m3 4h0m2-5h0m4 7h0m5-6h0m1 5h0m3 3h0m10-1h0m4-9h0m5 10h0m5-7h0m2-1h0m-122 10h0m1 2h0m3-1h0m1 9h0m4-7h0m0 8h0m2-3h0m5 3h0m2-10h0m12 2h0m2 6h0m3-3h0m2 5h0m2-7h0m3-1h0m6 2h0m4 0h0m2-4h0m10 5h0m2-4h0m2 4h0m1-1h0m4 6h0m5-5h0m1 5h0m3-7h0m1-3h0m4 4h0m1 5h0m3-10h0m0 8h0m0 2h0m7-6h0m1 6h0m4-7h0m12 4h0m0 3h0m5-10h0m1 2h0m3-1h0m-124 11h0m22 3h0m7-1h0m0-1h0m22-1h0m7 3h0m2-3h0m18 3h0m27-2h0m1 0h0m11 1h0m3-2h0" stroke="#d6b0f4" stroke-width="4.2" stroke-linecap="round" fill="none"/><path d="M0 -1h0m0-2h0m9 2h0m4 0h0m11-1h0m7 0h0m7 0h0m0 1h0m18-1h0m9-1h0m4 1h0m13 1h0m3 0h0m14-2h0m3 2h0m0 0h0m18 0h0m0-2h0m-122 7h0m0 3h0m2-6h0m1 0h0m0 6h0m3-7h0m4 6h0m2 3h0m1-4h0m2 6h0m1-4h0m4-5h0m0 6h0m0 3h0m5-1h0m1-9h0m0 2h0m4 5h0m2-6h0m0 7h0m3-5h0m8 0h0m0 3h0m1-5h0m0-2h0m1 4h0m2-2h0m0-1h0m1 10h0m1-8h0m1 4h0m2-5h0m2 6h0m4-7h0m7 0h0m0 4h0m3 5h0m2-9h0m4 6h0m5-6h0m1 6h0m4-6h0m9 4h0m1-5h0m4 9h0m1-8h0m1 3h0m8 4h0m3-3h0m0-5h0m1 2h0m0 5h0m2-4h0m3 4h0m3-3h0m0 3h0m2-6h0m1 0h0m0 6h0m-120 10h0m0 2h0m2 3h0m3-5h0m0 2h0m1-1h0m7 2h0m0 3h0m12-10h0m1 9h0m1-10h0m0 4h0m1 5h0m1-6h0m7 1h0m0 2h0m2-6h0m3 5h0m3 4h0m2-7h0m1-2h0m3 9h0m5-9h0m0 4h0m1 3h0m1 3h0m2-5h0m4 2h0m1 4h0m5-6h0m1 3h0m2-6h0m0 8h0m1-7h0m4 4h0m2-4h0m2 3h0m4 1h0m0 3h0m1-5h0m3 3h0m1 2h0m1-6h0m1 5h0m5-6h0m4-3h0m2 7h0m3 3h0m2-10h0m2 3h0m0 3h0m3-6h0m2 4h0m5 1h0m0 2h0m-124 10h0m3-4h0m3 3h0m3 3h0m13-1h0m0 5h0m2-8h0m1-3h0m8 8h0m4-2h0m1-4h0m8-2h0m0 9h0m2-5h0m1-4h0m1 4h0m0 2h0m16 1h0m5-3h0m2-1h0m2 6h0m8-3h0m3 2h0m0 2h0m6-2h0m1-6h0m5-1h0m0 8h0m14-5h0m2-4h0m2 10h0m1-5h0m1-5h0m2 5h0m3-4h0m3 3h0m-126 8h0m3 2h0m1 7h0m2-9h0m0 6h0m7-4h0m0 7h0m4-7h0m2 5h0m2-4h0m5 6h0m2-9h0m6 3h0m2-3h0m2 5h0m4-1h0m0 2h0m3 2h0m2-6h0m1 0h0m2 8h0m3-5h0m2 1h0m9 4h0m3-5h0m4 1h0m1-6h0m2 3h0m4 6h0m4-8h0m1 1h0m5 1h0m3 3h0m1-6h0m0 7h0m7 1h0m4 1h0m1-5h0m1 5h0m2-9h0m5 8h0m6-4h0m2-4h0m3 2h0m1 7h0m-124 4h0m1 1h0m1 4h0m0 2h0m3-1h0m2-5h0m1 3h0m5 2h0m1-5h0m2 0h0m1 9h0m3-10h0m0 5h0m0 1h0m2-5h0m6 7h0m2-9h0m6 0h0m3 1h0m1 7h0m1-6h0m3 5h0m5 0h0m4-7h0m6 0h0m3 3h0m0 3h0m2-5h0m1 10h0m1-9h0m2 1h0m0 5h0m1 2h0m1-9h0m4 7h0m1-1h0m7 2h0m2-4h0m0 4h0m3-4h0m7 1h0m5 3h0m9-1h0m5-2h0m1 4h0m2-6h0m3 2h0m1-5h0m1 1h0m1 4h0m0 2h0m3-1h0m-125 7h0m2 7h0m2-5h0m1 0h0m1-4h0m0 6h0m1-3h0m2 6h0m10-3h0m1 5h0m5-4h0m5-2h0m3-1h0m2-3h0m6 4h0m3-3h0m0 9h0m1-10h0m6-1h0m2 5h0m8-5h0m2 2h0m5 2h0m3 0h0m2-4h0m4 1h0m0 10h0m2-5h0m4 1h0m1-7h0m2 3h0m3 0h0m5 3h0m7-3h0m7-1h0m2-2h0m0 2h0m1 1h0m8 0h0m1-1h0m2 7h0m2-5h0m1 0h0m1-4h0m0 6h0m-122 15h0m1-6h0m3 7h0m8-10h0m3 10h0m1-8h0m0 6h0m11-4h0m0 7h0m1-1h0m4-2h0m2 1h0m3-7h0m2 9h0m1-5h0m1-1h0m4-5h0m3 3h0m1 3h0m1-6h0m3 3h0m0 7h0m1-1h0m6-7h0m0 6h0m2-6h0m1-1h0m3 5h0m6 5h0m2 0h0m4-11h0m0 11h0m1-9h0m3 3h0m0 2h0m2-6h0m3 7h0m3-4h0m0 7h0m3-6h0m3-4h0m0 8h0m2-5h0m6 7h0m3-7h0m1 7h0m3-11h0m2 0h0m1 3h0m0 4h0m6 2h0m1-6h0m-124 10h0m0 6h0m2-5h0m0 3h0m2-4h0m2 9h0m1-6h0m0 5h0m5 2h0m1-6h0m2 1h0m3 1h0m1 4h0m1-6h0m4-5h0m1 2h0m1 7h0m1-8h0m8 7h0m9-7h0m3 1h0m11 6h0m1-6h0m2-1h0m2 5h0m0 0h0m3-2h0m2 3h0m1-4h0m12 1h0m2 4h0m2-5h0m4-2h0m2 2h0m3 4h0m0 4h0m6-2h0m5-1h0m4-1h0m11-6h0m0 6h0m2-5h0m0 3h0m2-4h0m-124 20h0m1 1h0m2-5h0m2-1h0m10 6h0m4-5h0m8-5h0m1 2h0m0 8h0m3-6h0m4 6h0m3-10h0m0 4h0m7 5h0m1-5h0m10-4h0m0 4h0m1 3h0m2-4h0m2 7h0m3-10h0m0 4h0m4 3h0m1-1h0m2-5h0m1 2h0m12-1h0m1 6h0m3-7h0m0 10h0m9-9h0m2 0h0m0 6h0m1-7h0m1 5h0m5-5h0m1 1h0m2 4h0m5 4h0m2-7h0m4 6h0m1 1h0m2-5h0m2-1h0m-124 10h0m0 6h0m1 0h0m0 1h0m0 2h0m3-11h0m0 2h0m4 4h0m1-6h0m1 11h0m4 0h0m3-5h0m3-4h0m3 3h0m0 2h0m2 3h0m2-4h0m4-4h0m1 8h0m2-5h0m5-5h0m0 10h0m0 1h0m7-3h0m2-7h0m2 7h0m4 0h0m1-6h0m2 8h0m3-2h0m1-5h0m3-2h0m2 8h0m4 1h0m3-2h0m1-8h0m3 5h0m6 6h0m3 0h0m0-3h0m6-3h0m2 2h0m6-7h0m0 9h0m3 2h0m0 0h0m1-3h0m1-7h0m1 4h0m1 2h0m2-5h0m3 0h0m5 4h0m3-4h0m0 6h0m1 3h0m0-3h0m0 1h0m3-9h0m-123 13h0m1 0h0m3-1h0m14 2h0m6-1h0m6 1h0m12-2h0m0 2h0m3 0h0m0-1h0m2 2h0m3-1h0m6-1h0m7 0h0m5 0h0m9 0h0m5 0h0m10-1h0m5 1h0m12-1h0m1 2h0m2 1h0m8-2h0m1 0h0" stroke="#f07d2e" stroke-width="4.2" stroke-linecap="round" fill="none"/></g></pattern><pattern id="iW11" width="60" height="60" patternUnits="userSpaceOnUse"><rect width="60" height="60" fill="#66626a"/><g transform="scale(0.5)"><path d="M115 -2h0m-100 13h0m63-10h0m8 8h0m15 0h0m-78 22h0m19 0h0m31 1h0m29-3h0m-62 25h0m18-3h0m1 7h0m4-5h0m-12 14h0m24 0h0m-36 13h0m46-5h0m-10 18h0m32-2h0m-104 5h0m36 5h0m5 4h0m-40 3h0m95 6h0m16-6h0m0 10h0m-37 3h0" stroke="#40dcec" stroke-width="4.0" stroke-linecap="round" fill="none"/><path d="M10 -2h0m47 0h0m-54 13h0m6-2h0m4-5h0m19 0h0m11 4h0m59-7h0m7 2h0m-101 14h0m4 3h0m27-7h0m15 9h0m8-2h0m42 3h0m-88 3h0m0 7h0m43-7h0m35 8h0m17-2h0m-94 12h0m6-7h0m20 7h0m5-6h0m27 5h0m17-1h0m14 3h0m-101 7h0m12 4h0m19-7h0m16 6h0m24-4h0m2 1h0m12 1h0m9 4h0m6 2h0m-106 6h0m12-5h0m21 5h0m22-5h0m4 2h0m17 8h0m1-9h0m43 4h0m-122 8h0m19 8h0m18-1h0m5 3h0m5-4h0m16-3h0m3 6h0m3-5h0m51-4h0m-104 16h0m13-4h0m6 2h0m14-2h0m15 4h0m7-5h0m12 4h0m12-2h0m2 5h0m12 3h0m7-5h0m-93 17h0m6 0h0m6-8h0m10 8h0m7 0h0m14-6h0m24 4h0m6-5h0m1 6h0m6-3h0m13 1h0m-104 9h0m1 6h0m0-5h0m47 5h0m9-2h0m19 0h0m1-8h0m5 2h0m14 3h0m-3 8h0m7 2h0" stroke="#8a20ae" stroke-width="4.0" stroke-linecap="round" fill="none"/><path d="M3 -1h0m16-1h0m20 1h0m4 0h0m2-1h0m5 1h0m45-1h0m11 0h0m-108 7h0m1 3h0m1-8h0m5 7h0m3-2h0m8-3h0m0 3h0m1-4h0m3 7h0m3-7h0m4 0h0m3 9h0m3-1h0m2 2h0m1-9h0m3 1h0m1 5h0m7-4h0m3 2h0m0 5h0m1-9h0m2 6h0m1-2h0m2-6h0m3 10h0m1-7h0m0 8h0m4-11h0m3 3h0m1-3h0m0 4h0m2-3h0m5 10h0m5-9h0m2 9h0m5 0h0m1-9h0m2 3h0m3-4h0m10 5h0m2 3h0m7-9h0m2 10h0m4-5h0m1 3h0m1-8h0m-122 23h0m5-3h0m5-7h0m0 10h0m4-11h0m1 3h0m3 6h0m7-9h0m3 2h0m1 2h0m6-1h0m0 6h0m3 0h0m2-6h0m2 7h0m2-7h0m2-1h0m2 9h0m1-5h0m4 4h0m7-6h0m5 6h0m3-8h0m1 4h0m2 4h0m2-5h0m10 4h0m2-2h0m1 3h0m1 1h0m1-8h0m4 6h0m2-8h0m2 5h0m6-1h0m1-4h0m4 2h0m2 4h0m4-6h0m1 5h0m0 2h0m3-1h0m1 4h0m2 0h0m5-3h0m-125 4h0m0 4h0m5 7h0m3-8h0m2 0h0m3 2h0m0 6h0m6 0h0m2-1h0m1-5h0m2-3h0m6 2h0m2-2h0m0 1h0m0 6h0m6 0h0m4-8h0m4 8h0m3-7h0m6 5h0m1-5h0m0 5h0m6-1h0m1-5h0m8 1h0m2 1h0m1-1h0m2 5h0m3 0h0m5-5h0m1 9h0m1-1h0m6-3h0m3-6h0m4-1h0m3 5h0m1-4h0m2 9h0m1-2h0m6-8h0m0 7h0m0 4h0m3-2h0m1-5h0m4-4h0m0 4h0m-120 11h0m5 5h0m1-8h0m0 5h0m4 6h0m3-5h0m2-2h0m10 2h0m5-2h0m0 3h0m0 2h0m5-6h0m0 6h0m2-1h0m2-5h0m1 3h0m4-6h0m3 5h0m1-3h0m3 5h0m1 2h0m2-4h0m2 5h0m2-9h0m2 3h0m1 5h0m6-7h0m1 9h0m7-4h0m1-7h0m4 9h0m3-6h0m5 5h0m1-5h0m5 0h0m0 5h0m6-1h0m0 3h0m1-10h0m1 4h0m3 4h0m1-6h0m1 2h0m4 3h0m5-1h0m4-3h0m-118 9h0m2 8h0m4 3h0m3-4h0m1 1h0m9 3h0m6-2h0m4-2h0m4-4h0m2 5h0m5 0h0m6-4h0m2-1h0m5 3h0m7 2h0m5 1h0m1-5h0m5 4h0m9-6h0m13 0h0m2 3h0m1-5h0m5 0h0m5 4h0m3 5h0m3-3h0m3 5h0m2-8h0m0 5h0m3-8h0m2 8h0m-125 7h0m7-2h0m5 3h0m0 3h0m0 3h0m5-10h0m1 3h0m1 3h0m2 0h0m5-1h0m0 4h0m3 0h0m1-5h0m2-4h0m1 4h0m9 2h0m2-6h0m1 4h0m5 1h0m3 2h0m2-3h0m1 6h0m2-6h0m3 3h0m5 1h0m1-4h0m1 1h0m1 6h0m4-9h0m1 3h0m6-5h0m2 7h0m2-7h0m6 5h0m2 1h0m3-3h0m2 7h0m2-3h0m6 1h0m2 0h0m1-4h0m1 6h0m1-9h0m2 5h0m2-5h0m5 5h0m1-3h0m-118 12h0m2-3h0m2 4h0m0 2h0m4-1h0m3 0h0m2-5h0m3 5h0m4-3h0m1 8h0m3-1h0m1-6h0m2 5h0m4-3h0m1-1h0m1-4h0m2 2h0m0 8h0m9-8h0m2-2h0m3 5h0m1-4h0m3 7h0m4 0h0m1 2h0m2-3h0m1-6h0m3 1h0m5 4h0m2-2h0m1-4h0m2 6h0m3-2h0m1-4h0m3 1h0m4 0h0m1 4h0m2-4h0m1 9h0m3-1h0m1-1h0m3-4h0m3 5h0m2-9h0m0 10h0m2-7h0m0 2h0m2-1h0m1 6h0m3-4h0m7-4h0m2 7h0m2-6h0m2-3h0m2 4h0m0 2h0m-120 9h0m3 6h0m3-4h0m2-5h0m4 9h0m1-7h0m6 8h0m4-5h0m4-4h0m4 9h0m2-5h0m4 0h0m4-4h0m0 0h0m4 6h0m4-7h0m2 7h0m1-5h0m3 6h0m5-3h0m2-1h0m2 2h0m4-5h0m0 7h0m0 2h0m4-10h0m1 4h0m0 6h0m4-2h0m3-7h0m2 8h0m3-4h0m2 1h0m0 5h0m7-7h0m5-2h0m0 8h0m4-5h0m3-4h0m1 8h0m-112 13h0m5-2h0m3-6h0m1 8h0m5-8h0m0 8h0m5-10h0m0 4h0m1 5h0m5-3h0m1 5h0m1-11h0m5 5h0m0 6h0m2-3h0m1-5h0m1 5h0m2-6h0m3-2h0m3 4h0m7-1h0m12 3h0m0 5h0m5-1h0m4-3h0m2-5h0m6-2h0m1 3h0m2 3h0m3-2h0m0 3h0m1-6h0m2 1h0m7-1h0m2 2h0m3 8h0m1-5h0m3 4h0m3-5h0m0 2h0m1 4h0m2-7h0m4-2h0m4 3h0m1 5h0m5-2h0m-124 5h0m0 1h0m0 6h0m4 3h0m1-3h0m4-7h0m3 8h0m8 1h0m2-9h0m2 5h0m5 0h0m0 0h0m7-5h0m2 0h0m2 10h0m0-6h0m4 6h0m2-6h0m0 5h0m2-2h0m3 3h0m1-11h0m2 7h0m2-1h0m3-6h0m0 5h0m4 2h0m5-2h0m6 4h0m3-4h0m1 1h0m2-2h0m3 1h0m7 1h0m1 2h0m5 2h0m0-7h0m3 4h0m4 1h0m4 2h0m0-6h0m3-3h0m0 5h0m10-5h0m0 1h0m0 6h0m-119 4h0m16 2h0m1-1h0m6 0h0m4 0h0m9 1h0m3 1h0m12-1h0m5-2h0m4 3h0m4-3h0m3 3h0m1-3h0m2 1h0m10 1h0m8 0h0m5-1h0m19-1h0m8 0h0" stroke="#d6b0f4" stroke-width="4.0" stroke-linecap="round" fill="none"/><path d="M3 4h0m66 4h0m4 2h0m8 1h0m10-5h0m3-4h0m21 3h0m1 5h0m-117 7h0m5-2h0m3 7h0m63-10h0m6 10h0m43-5h0m-116 12h0m15 0h0m22 3h0m9 3h0m19-1h0m14-4h0m31 5h0m-115 10h0m20-3h0m42-4h0m53 8h0m5-1h0m-99 3h0m9 1h0m47 6h0m29-2h0m3 3h0m-85 5h0m15 3h0m6 1h0m56-3h0m-57 11h0m9 2h0m37 6h0m-88 10h0m1-6h0m43 7h0m6-3h0m16 6h0m5-7h0m30 4h0m19-1h0m1-6h0m-121 16h0m3-3h0m37 4h0m4-6h0m8 3h0m0 3h0m13 4h0m8 1h0m25-10h0m22 4h0m-96 14h0m13-4h0m15 2h0m32 2h0m30-1h0m-20 8h0" stroke="#e636de" stroke-width="4.0" stroke-linecap="round" fill="none"/><path d="M15 -2h0m5 5h0m33-3h0m7 10h0m17-2h0m17 1h0m6-6h0m12 3h0m-87 9h0m10 8h0m44-7h0m12-1h0m12 7h0m-83 5h0m22-2h0m34 1h0m2 1h0m-70 9h0m36 9h0m46-1h0m-67 11h0m22-5h0m19 1h0m28 6h0m18-8h0m-94 21h0m64-7h0m8 1h0m-74 16h0m91-8h0m-57 25h0m-33 21h0m15-5h0m68-3h0m-78 13h0m33-3h0" stroke="#f07d2e" stroke-width="4.0" stroke-linecap="round" fill="none"/></g></pattern><pattern id="iLP" width="48" height="48" patternUnits="userSpaceOnUse"><rect width="48" height="48" fill="#504858"/><g transform="scale(0.5)"><path d="M5 -1h0m36 0h0m45 0h0m2 0h0m-89 9h0m7-2h0m2-5h0m2 2h0m0 4h0m4-7h0m8 4h0m4 4h0m10-4h0m3-4h0m5 3h0m3-3h0m1 3h0m3 7h0m10-6h0m4 0h0m2-2h0m1 1h0m5 4h0m6-7h0m1 5h0m5 0h0m3-1h0m7 4h0m-90 11h0m3-4h0m5-3h0m8 0h0m7 7h0m4-4h0m0 7h0m2-2h0m2-4h0m8 4h0m17-8h0m5 0h0m7 0h0m2 10h0m2-9h0m2 6h0m7-6h0m0 6h0m-87 16h0m5-11h0m5 3h0m2 2h0m4 5h0m4-7h0m6 3h0m3-4h0m1 2h0m2 6h0m20-5h0m1-3h0m4 4h0m1 2h0m6-7h0m3 4h0m10-1h0m6-2h0m9 7h0m1-9h0m3 11h0m-95 8h0m1-4h0m3 7h0m7-8h0m5 2h0m1 1h0m3-3h0m5 4h0m6-4h0m9 4h0m1-6h0m6 8h0m7-6h0m4 9h0m1-5h0m7 2h0m2-2h0m2-3h0m4 6h0m2-9h0m1 1h0m0 4h0m3 1h0m16 1h0m1-4h0m-100 14h0m5 2h0m1-4h0m0 8h0m3-3h0m4-7h0m1-1h0m1 8h0m1 0h0m11-4h0m2 0h0m1-4h0m3 9h0m2-1h0m4 1h0m6-1h0m7-1h0m2 2h0m4-1h0m1-8h0m2 3h0m6 0h0m3 1h0m11 5h0m1-6h0m14 2h0m5 2h0m1-4h0m-101 15h0m6-5h0m3 2h0m11 5h0m0 2h0m1-6h0m8 2h0m10 3h0m7-4h0m4-1h0m1-4h0m0 4h0m6-2h0m2 9h0m5-9h0m3 1h0m6 5h0m9-6h0m1 4h0m0 3h0m7-6h0m4 2h0m0 4h0m2-3h0m-95 9h0m0 5h0m5 2h0m4-4h0m15-6h0m2 0h0m3 3h0m0 5h0m6-4h0m1 6h0m7-6h0m5 1h0m9 0h0m0 5h0m6-4h0m2 0h0m4-6h0m10 9h0m3-6h0m4 0h0m4-3h0m0 8h0m6-5h0m0 5h0m-94 7h0m0 5h0m4 3h0m14-4h0m3-5h0m15 2h0m3 2h0m1 5h0m1-3h0m3-6h0m4 3h0m3 0h0m3 0h0m0 3h0m4 0h0m4-3h0m7 1h0m6-6h0m0 4h0m0 2h0m5-3h0m0 3h0m4 3h0m1 2h0m2 0h0m9-8h0m0 5h0m-89 5h0m6-1h0m25 0h0m8 0h0m20 2h0m1 1h0m11-3h0" stroke="#8a20ae" stroke-width="3.8" stroke-linecap="round" fill="none"/><path d="M1 -1h0m0-1h0m8-1h0m11 1h0m6 0h0m7 0h0m2 0h0m31 1h0m8-1h0m3 1h0m6-1h0m14 1h0m0-1h0m-99 4h0m0-1h0m5 3h0m0 5h0m10-9h0m6 7h0m4-7h0m3 11h0m3-1h0m9-9h0m1 9h0m2-9h0m2 8h0m10-9h0m2 5h0m1-5h0m2 10h0m9-1h0m7-4h0m6 3h0m2-7h0m12 1h0m0-1h0m5 8h0m-96 13h0m1-10h0m13 9h0m6-2h0m2 4h0m1-6h0m3-2h0m13-2h0m7 3h0m3 2h0m4-6h0m5 4h0m12 7h0m5-4h0m0 4h0m3-7h0m4 7h0m2-10h0m2 4h0m10 5h0m-101 6h0m4 0h0m4 3h0m5 3h0m5-10h0m0 6h0m1 3h0m0 2h0m6-2h0m10-6h0m3 1h0m3 6h0m7-1h0m1-9h0m5 8h0m21 2h0m7-6h0m8 3h0m6-3h0m4 0h0m-94 14h0m3 4h0m5-6h0m13-2h0m5 7h0m2-5h0m2-2h0m1 7h0m9-5h0m4-4h0m3 8h0m4-3h0m9-5h0m0 6h0m3 3h0m3-3h0m18 5h0m1-7h0m3-4h0m-91 21h0m1-5h0m14-3h0m0 6h0m2-3h0m3 3h0m3 3h0m11-6h0m2 5h0m1-6h0m1 4h0m5-5h0m3-2h0m1 4h0m4-4h0m6 9h0m3-2h0m6-1h0m1-1h0m1 4h0m8-9h0m6 3h0m2-3h0m3 4h0m2-2h0m7 7h0m1-5h0m-95 14h0m4 5h0m2-11h0m2 9h0m5-3h0m5-5h0m3 6h0m4-3h0m5-2h0m0 9h0m2-8h0m6 4h0m1 4h0m16-3h0m3-1h0m0 3h0m7-4h0m8-4h0m1 2h0m10 1h0m-86 7h0m2 2h0m1 5h0m6-6h0m6 2h0m1 2h0m1 5h0m2-4h0m1-2h0m1 0h0m17-2h0m7 0h0m3 3h0m1-5h0m2 1h0m8 10h0m3-11h0m5 4h0m3 2h0m1 0h0m7-5h0m10 9h0m8-10h0m-98 16h0m1-3h0m1 10h0m0-1h0m7-6h0m1 5h0m4-9h0m2 6h0m1-5h0m4 9h0m5-9h0m1 9h0m1-4h0m3-5h0m3 9h0m2 0h0m16-9h0m11 3h0m1 0h0m3 7h0m2-10h0m0 1h0m6 8h0m3 1h0m5-10h0m1 9h0m7-9h0m5 3h0m1-3h0m1 10h0m0-1h0m-99 4h0m0-1h0m15-1h0m10 0h0m15 1h0m3 0h0m12-1h0m3 0h0m26 1h0m12 1h0m0-1h0" stroke="#d6b0f4" stroke-width="3.8" stroke-linecap="round" fill="none"/><path d="M17 -3h0m35 2h0m-37 4h0m12 1h0m-29 19h0m7-6h0m8 6h0m16-9h0m7 0h0m5 4h0m27 2h0m0 3h0m26 0h0m-71 8h0m14-5h0m26 7h0m18 1h0m2-5h0m-56 13h0m61-1h0m-28 17h0m23-6h0m-72 11h0m-4 19h0m3-1h0m28-2h0m23-6h0m-49 13h0m5 7h0m35 2h0m14-4h0m25 1h0" stroke="#e636de" stroke-width="3.8" stroke-linecap="round" fill="none"/></g></pattern><pattern id="iMed" width="60" height="60" patternUnits="userSpaceOnUse"><rect width="60" height="60" fill="#7c7c7c"/><g transform="scale(0.5)"><path d="M-2 -1h0m117 0h0m3 0h0m-112 7h0m6-2h0m5-1h0m16-1h0m2 3h0m8-4h0m30-1h0m10 2h0m0 0h0m5-1h0m20 1h0m-106 18h0m20 3h0m100-3h0m-109 4h0m15 7h0m12-4h0m19-2h0m12 10h0m21-2h0m18-7h0m-113 17h0m21-1h0m2 1h0m10 2h0m7-8h0m20 2h0m10 0h0m50 4h0m-103 7h0m20 1h0m33-3h0m20 3h0m-34 17h0m12 0h0m2-8h0m11 1h0m34-1h0m-108 18h0m13-1h0m35 3h0m10-1h0m6-6h0m43 3h0m-91 12h0m14 4h0m7-8h0m7 7h0m10 2h0m9-8h0m17 4h0m32 0h0m-118 7h0m8 4h0m4-4h0m8 10h0m5-9h0m20 7h0m35-3h0m3 6h0m5-5h0m32-6h0m-120 23h0m29-5h0m31-1h0m39-2h0m18 8h0m3 0h0m-85 3h0m10-1h0m30-1h0m10 2h0m0 0h0m5-1h0m20 1h0" stroke="#40dcec" stroke-width="3.6" stroke-linecap="round" fill="none"/><path d="M10 -2h0m7 0h0m4 0h0m37 0h0m1 0h0m35 0h0m1 0h0m-94 4h0m1 8h0m1-4h0m5 5h0m2-3h0m6-8h0m2 7h0m7-6h0m0 6h0m2 1h0m3 1h0m1-3h0m7 2h0m1-3h0m5 1h0m3-5h0m1 8h0m2-4h0m1 6h0m4 0h0m6-6h0m2 6h0m4-11h0m4 5h0m5 2h0m1-5h0m8 9h0m3 0h0m6-9h0m0 6h0m3-7h0m3 2h0m7 4h0m8-6h0m6 1h0m1 8h0m-124 2h0m0 11h0m7-7h0m7 4h0m1-8h0m5 11h0m3-3h0m9-3h0m1 5h0m4-3h0m3-5h0m5 9h0m6-1h0m5-3h0m1 2h0m5-6h0m0 8h0m4-4h0m10-6h0m5 1h0m19 3h0m0 4h0m3-9h0m17 0h0m0 11h0m-117 5h0m2 3h0m2-3h0m10 5h0m1-1h0m1 3h0m5-4h0m2-6h0m5 1h0m5 6h0m1-7h0m3 0h0m0 8h0m6-2h0m21-7h0m0 3h0m1 1h0m2 6h0m8-4h0m2-2h0m1 2h0m5-3h0m1 8h0m2-7h0m9 1h0m1 1h0m3 2h0m1 2h0m3 1h0m5-5h0m1-6h0m2 2h0m9 2h0m2 3h0m-125 7h0m1 9h0m5-8h0m0 5h0m9-1h0m1 3h0m9-3h0m2-7h0m4 3h0m11 0h0m2-2h0m6 10h0m2-8h0m4 5h0m4-8h0m1 8h0m5 2h0m8-2h0m4-7h0m1 2h0m0 6h0m5-3h0m4-3h0m3 7h0m5-9h0m3 6h0m2 0h0m3 3h0m6-2h0m2-8h0m1 6h0m2 3h0m4-5h0m1-2h0m1 9h0m-120 3h0m0 6h0m4-8h0m3 5h0m3 1h0m14-2h0m2 7h0m5-4h0m5-3h0m5 5h0m3-4h0m2-5h0m17 1h0m0 5h0m9-6h0m0 8h0m1 2h0m4-6h0m1 5h0m2-6h0m5 7h0m5-6h0m9 1h0m3 4h0m3-1h0m6-5h0m3 5h0m6-6h0m0 6h0m-122 10h0m2-2h0m3 5h0m2 0h0m3-7h0m1 6h0m2-4h0m6 7h0m4-1h0m1-6h0m2 3h0m4-6h0m2 9h0m1-9h0m2-1h0m14 9h0m10-9h0m5 5h0m23-3h0m1 4h0m2-1h0m2 6h0m7-1h0m3 0h0m3-2h0m4-1h0m2-6h0m7 9h0m2-4h0m2-2h0m3 5h0m-124 11h0m2-6h0m0 6h0m5-4h0m2 3h0m4 4h0m10-3h0m9-4h0m3 7h0m1-1h0m8-9h0m4-1h0m4 0h0m15 0h0m2 9h0m12 2h0m2-9h0m12-2h0m2 7h0m7-4h0m3-1h0m0 2h0m13 4h0m2-6h0m0 6h0m-122 8h0m7-4h0m1 6h0m2-2h0m7 7h0m1-8h0m0 6h0m14-4h0m2-5h0m3 11h0m3-2h0m6-3h0m7-5h0m1 6h0m3-7h0m0 5h0m11 3h0m7-5h0m4 5h0m3 0h0m6 2h0m17-9h0m5 10h0m10-7h0m-121 14h0m5 3h0m2 2h0m1-11h0m4 8h0m2-5h0m0 7h0m2-6h0m7 6h0m2-3h0m3-5h0m2 9h0m5-6h0m4 4h0m2-8h0m3 4h0m1 6h0m6-2h0m5-2h0m8 0h0m2 3h0m4-9h0m3 0h0m1 4h0m4-1h0m1-4h0m4 10h0m3-7h0m5-1h0m2 5h0m4 2h0m4-9h0m0 10h0m1-5h0m11 2h0m7-1h0m5 3h0m-123 5h0m1 5h0m1-6h0m4 6h0m5 3h0m5-5h0m2 5h0m4 0h0m7-3h0m4-7h0m0 6h0m2 3h0m4-8h0m6 5h0m11-2h0m1-4h0m2 10h0m1 0h0m10-1h0m13-6h0m3 3h0m9 4h0m1 0h0m7-3h0m2 1h0m2-7h0m2 5h0m3-3h0m6-1h0m2 0h0m1 5h0m1-6h0m-120 13h0m15-2h0m9 1h0m22 0h0m20-1h0m10 2h0m17 0h0m3-1h0m3 2h0m15-2h0m6 1h0" stroke="#d6b0f4" stroke-width="3.6" stroke-linecap="round" fill="none"/></g></pattern><pattern id="iSparse" width="60" height="60" patternUnits="userSpaceOnUse"><rect width="60" height="60" fill="#fff"/><path d="M3.2 21.1l5-6M30.6 50.3l-9.1-3.7M40 14.3l-7.1 7.5M6.4 56.8l8.2 4.8M33 54.9l4.4 1.3M56.5 28.3l4.4-5.2M27.9 31.1l7.3-2.6M39.5 38.2l6-5.8M38.2 47.7l-0.8 8.5M21.5 46.6l-2.6 9.4M35.2 28.5l-2.3-6.7M23.5 52.5l9.5 2.4M19.6 20.8l-3.9-4.4M60.9 23.1l-4.4 5.2M27.9 31.1l-2.5 7.3M18.9-4l-2.2 8M48.8 58.6l-2.6-7.1M7.4 50.8l-9.4 5.4M56.5 28.3l0.2 4.1M-2.4 16.1l5.9-9.6M56.5 28.3l-1.8 4.5M38.2 47.7l-5.2 7.2M42.5 25.6l-7.3 2.9M48.7 21.5l-0.6-11M40 14.3l1.1 3.4M32.9 21.8l2.3 6.7M45.5 32.4l-6 5.8M23.5 52.5l-4.6 3.5M15.7 16.4l-7.5-1.3M13.2 29l6.4-8.2M13.1 9.9l2.6 6.5M13.2 29l6.8 5.8M11.6 33.3l-0.3 10.5M40 14.3l-2-7.1M43.1-0.5l4.2 1.3M30.6 3l7.4 4.2M11.3 43.8l10.2 2.8M9.4 22.4l-6.2-1.3M41.1 17.7l1.4 7.9M37.4 56.2l-6.8 6.8M11.3 43.8l-5.6-8.7M33 54.9l-2.4 8.1M28.1 18.4l4.8 3.4M6.4 56.8l0.2-1.6M15.7 16.4l3.9 4.4M2.1 44.2l7.8 1.8M7.8 29.1l-9.4-0.8M41.1 17.7l2.6-7.5M47.2 30.4l-1.7 2M18.9 56l-4.3 5.6M-2.8 38.6l8.5-3.5M15.7 16.4l-2.6-6.5M21.5 46.6l-10.2-2.8M41.1 17.7l7.6 3.8M59.4 3.1l-1.9-2.2M9.4 22.4l3.8 6.6M13.1 9.9l3.6-5.9M2.1 44.2l9.2-0.4M57.2 38.6l4.9 5.6M30.6 3l-0.7 3.6M57.6 16.1l-8.9 5.4M48 38.6l6.7 8.4M58 56.2l-3.3-9.2M-0.6 63.1l7-6.3M38 7.2l5.7 3M63.5 6.5l-7.4 4.4M26 60.3l-2.5-7.8M39.5 38.2l-1.3 9.5M43.1 59.5l3.1-8M38 7.2l-8.7 9M6.4 56.8l-8.9 4.1M57.5 0.9l1.9 2.2M35.2 28.5l4.3 9.7M54.7 47l-6.7-8.4M14.6 42l5.4-7.2M56.1 10.9l7.4-4.4M25.4 38.4l-3.9 8.2M9.4 22.4l-1.2-7.3M7.8 29.1l-2.1 6M30.6 50.3l-7.1 2.2M9.4 22.4l10.2-1.6M54.7 47l3.1-1.4M11.3 43.8l-1.4 2.2M13.1 9.9l1.5-8.3M54.7 47l-8.5 4.5M47.3 60.8l1.5-2.2M3.2 21.1l6.2 1.3M14.6 1.6l2.1 2.4M56.5 28.3l-7.8-6.8M45.5 32.4l-3-6.8M-1.6 28.3l9.4 0.8M48.1 10.5l-7 7.2M48.8 58.6l8.7 2.3M43.1-0.5l-5.1 7.7M-2.2 45.6l9.6 5.2M57.5 0.9l-10.2-0.1M19.6 20.8l8.5-2.4M19.6 20.8l7.5 4.9M42.5 25.6l-9.6-3.8M56.1 10.9l-5-2.9M7.4 50.8l2.5-4.8M45.5 32.4l1.7-2M54.7 47l3.3 9.2M54.7 47l2.5-8.4M48.7 21.5l-1.5 8.9M3.2 21.1l-2.3 2M14.6 42l-3-8.7M6.6 55.2l-8.6 1M58 56.2l-0.2-10.6M38 7.2l-0.6-11M13.1 9.9l-4.9 5.2M29.9 6.6l8.1 0.6M16.7 4l9.3-3.7M40 14.3l3.7-4.1M51.1 8l-3 2.5M51.1 8l-3.8-7.2M60.9 23.1l-3.3-7M59.4 3.1l0.9 1M37.4 56.2l8.8-4.7M57.5 0.9l-6.4 7.1M14.6 1.6l-11.1 4.9M6.4-3.2l-6.1 7.3M15.7 16.4l10.8-3M40 14.3l-10.7 1.9M43.1-0.5l0.6 10.7M-1.6 28.3l7.3 6.8M3.5 6.5l4.7 8.6M23.5 52.5l7.1-2.2M62.1 44.2l-4.3 1.4M38.2 47.7l8 3.8M15.7 16.4l-6.3 6M33 54.9l-2.4-4.6M6.6 55.2l12.3 0.8M6.6 55.2l8 6.4M35.2 28.5l7.3-2.9M29.9 6.6l-0.6 9.6M38.2 47.7l-7.6 2.6M19.6 20.8l-6.4 8.2M6.6 55.2l0.8-4.4M7.8 29.1l-4.6-8M18.9 56l-11.5-5.2M3.2 21.1l-5.6-5M3.5 6.5l-5.9 9.6M48.8 58.6l9.2-2.4M11.6 33.3l3 8.7M56.7 32.4l1.7-4.1M3.5 6.5l9.6 3.4M41.1 17.7l7-7.2M48.8 58.6l-1.5 2.2M13.1 9.9l-9.6-3.4M41.1 17.7l-1.1-3.4M11.3 43.8l3.3-1.8M37.4 56.2l0.8-8.5M52.6 52.8l-6.4-1.3M21.5 46.6l7.5-3.5M16.7 4l2.2-8M7.8 29.1l5.4-0.1M11.6 33.3l-5.9 1.8M35.2 28.5l-8.1-2.8M57.6 16.1l-9.5-5.6M56.5 28.3l-9.3 2.1M56.7 32.4l-0.2-4.1M47.3 0.8l0.8 9.7M48.1 10.5l-0.8-9.7M14.6 1.6l-1.5 8.3M30.6 50.3l-1.6-7.2M38.9 38.6l-0.7 9.1M60.9 23.1l-12.2-1.6M21.5 46.6l-6.9-4.6M45.5 32.4l-10.3-3.9M38.2 47.7l-9.2-4.6M7.8 29.1l3.8 4.2M52.6 52.8l5.4 3.4M45.5 32.4l2.5 6.2M56.7 32.4l0.5 6.2M54.7 32.8l-7.5-2.4M27.1 25.7l-7.1 9.1M41.1 17.7l-8.2 4.1M52.6 52.8l2.1-5.8M-2.5 60.9l8.9-4.1M35.2 28.5l3.7 10.1M6.6 55.2l-0.2 1.6M48.1 10.5l-4.4-0.3M23.5 52.5l-2-5.9M48.1 10.5l3-2.5M39.5 38.2l8.5 0.4M2.1 44.2l3.6-9.1M38 7.2l-7.4-4.2M25.4 38.4l3.6 4.7M19.6 20.8l-10.2 1.6M38 7.2l-8.1-0.6M59.4 3.1l-3.3 7.8M54.7 47l-2.1 5.8M30.6 3l-4.6-2.7M29.9 6.6l-3.9-6.3M25.4 38.4l-5.4-3.6M37.4 56.2l-4.4-1.3M56.1 10.9l4.2-6.8M25.4 38.4l-10.8 3.6M35.2 28.5l-7.3 2.6M62.1 44.2l-4.9-5.6M28.1 18.4l-1.6-5M33 54.9l-9.5-2.4M43.1 59.5l-5.7-3.3M18.9 56l2.6-9.4M6.4-3.2l-2.9 9.7M48.7 21.5l-7.6-3.8M26.5 13.4l2.8 2.8M38 7.2l5.1-7.7M47.2 30.4l-4.7-4.8M37.4 56.2l5.7 3.3M11.3 43.8l-9.2 0.4M57.2 38.6l0.6 7M56.1 10.9l-8-0.4M26 60.3l7-5.4M47.2 30.4l7.5 2.4M48.7 21.5l7.8 6.8M7.4 50.8l11.5 5.2M-3.3 32.4l9 2.7M52.6 52.8l-3.8 5.8M38.9 38.6l-9.9 4.5M38.2 47.7l0.7-9.1M21.5 46.6l3.9-8.2M11.6 33.3l8.4 1.5M32.9 21.8l-3.6-5.6M38.2 47.7l1.3-9.5M7.8 29.1l1.6-6.7M54.7 32.8l2.5 5.8M23.5 52.5l2.5 7.8M56.1 10.9l3.3-7.8M27.9 31.1l-0.8-5.4M48.7 21.5l-6.2 4.1M7.4 50.8l-5.3-6.6M27.9 31.1l-7.9 3.7M27.1 25.7l0.8 5.4M59.4 3.1l-8.3 4.9M26 60.3l-7.1-4.3M47.2 30.4l0.8 8.2M39.5 38.2l-0.6 0.4M32.9 21.8l-5.8 3.9M32.9 21.8l-4.8-3.4M57.2 38.6l-2.5 8.4M57.2 38.6l-2.5-5.8M56.7 32.4l-2 0.4M48.8 58.6l3.8-5.8M21.5 46.6l-11.6-0.6M3.5 6.5l-3.2-2.4M11.6 33.3l1.6-4.3M-2.4 16.1l10.6-1M28.1 18.4l1.2-2.2M38 7.2l2 7.1M7.8 29.1l-6.9-6M48.8 58.6l-5.7 0.9M56.5 28.3l1.9 0M60.9 23.1l-2.5 5.2M58 56.2l-0.5 4.7M3.2 21.1l4.6 8M11.3 43.8l0.3-10.5M2.1 44.2l5.3 6.6M47.3 0.8l-3.6 9.4M57.2 38.6l-9.2 0M-2.4 16.1l5.6 5M25.4 38.4l2.5-7.3M19.6 20.8l6.9-7.4M6.4 56.8l-8.4-0.6M28.1 18.4l-8.5 2.4M56.1 10.9l1.5 5.2M26.5 13.4l3.4-6.8M28.1 18.4l-1 7.3M39.5 38.2l-4.3-9.7M48.7 21.5l8.9-5.4M7.4 50.8l-0.8 4.4M11.6 33.3l-3.8-4.2M54.7 32.8l-6.7 5.8" stroke="#7a7a7a" stroke-width="0.4" fill="none"/><g transform="scale(0.5)"><path d="M3 10h0m42 38h0m39 18h0m14 13h0m-97 17h0m120 0h0m-111 18h0" stroke="#d6b0f4" stroke-width="3.6" stroke-linecap="round" fill="none"/><path d="M98 -2h0m-18 5h0m30 11h0m-45 15h0m-55 19h0m65 63h0m23 7h0m-18 5h0" stroke="#e636de" stroke-width="3.6" stroke-linecap="round" fill="none"/><path d="M37 12h0m-9 24h0m31 3h0m-8 35h0m4 11h0" stroke="#ffd78a" stroke-width="3.6" stroke-linecap="round" fill="none"/></g></pattern><pattern id="iRedB" width="48" height="48" patternUnits="userSpaceOnUse"><rect width="48" height="48" fill="#8a2a40"/><g transform="scale(0.5)"><path d="M-2 -2h0m0 1h0m7-1h0m3 0h0m1-1h0m5 2h0m4 0h0m5 0h0m10-2h0m3 1h0m0-1h0m3 1h0m3-1h0m9 2h0m6 0h0m1-1h0m12 0h0m10 1h0m3 0h0m2 0h0m2 0h0m1 0h0m0 0h0m1-2h0m5 1h0m0 1h0m-96 5h0m0 6h0m1-10h0m1 9h0m1-8h0m1 3h0m0 7h0m1-11h0m0 9h0m4-7h0m1 5h0m4-5h0m1 1h0m5 6h0m0-9h0m5 9h0m1-5h0m3 2h0m2-5h0m0 6h0m0-7h0m3 4h0m5-1h0m6 2h0m0 2h0m1-7h0m0 10h0m4-1h0m1-5h0m1 6h0m1-2h0m3-8h0m0 11h0m4-9h0m0 6h0m3 2h0m3-7h0m1 7h0m0-10h0m0 0h0m1 8h0m3-8h0m1 3h0m3 0h0m1 6h0m2-8h0m3 6h0m1-3h0m5 2h0m2-2h0m1 5h0m3-3h0m3-2h0m0 6h0m1-10h0m1 9h0m1-8h0m1 3h0m0 7h0m1-11h0m-101 16h0m2 5h0m1-3h0m1 5h0m2-1h0m2-7h0m2-2h0m0 6h0m2 2h0m1 0h0m3-9h0m1 4h0m0 3h0m4-4h0m1-2h0m1 3h0m0 3h0m2 1h0m0 2h0m1-9h0m3 0h0m0 2h0m2 4h0m2-4h0m0 7h0m3-9h0m3 1h0m1-2h0m0 8h0m0 2h0m2-7h0m3 5h0m2-6h0m3 3h0m1 6h0m1-7h0m2 2h0m0 4h0m1-4h0m1-1h0m2-3h0m1 3h0m3-4h0m0 3h0m0 7h0m5-4h0m1 3h0m2-8h0m1 1h0m0 4h0m0 4h0m1-11h0m2 0h0m1 8h0m0 2h0m3-10h0m0 5h0m1-1h0m3-1h0m0 4h0m0 3h0m1-10h0m4 4h0m4-4h0m2 10h0m1-4h0m2-2h0m2 5h0m1-3h0m1 5h0m-100 5h0m0 4h0m4-5h0m0 6h0m2-4h0m1-2h0m7 8h0m1-10h0m0 0h0m1 6h0m1-3h0m1 1h0m3-5h0m2 4h0m1 6h0m1-4h0m3-3h0m1 2h0m1-4h0m2 5h0m1 4h0m1-7h0m1-2h0m2 4h0m1-3h0m3 9h0m2-3h0m0 3h0m1-10h0m3 6h0m1-6h0m4 7h0m1-7h0m0 8h0m5-2h0m1-7h0m2 1h0m1 10h0m4-8h0m3 3h0m2 5h0m1-6h0m1-3h0m2 7h0m4-5h0m4 1h0m2-5h0m0 2h0m0 9h0m1-6h0m1-3h0m0 8h0m3 0h0m2-9h0m0 5h0m1-1h0m3-1h0m0 4h0m4-5h0m0 6h0m-100 12h0m1-4h0m2-3h0m3-1h0m0 7h0m0 2h0m3-10h0m0 7h0m1-4h0m1 6h0m4-9h0m0 5h0m2 2h0m1 2h0m2-8h0m0 4h0m5-2h0m3-1h0m3 6h0m2-6h0m4 2h0m0 5h0m1-5h0m0 3h0m3-6h0m1 7h0m1-3h0m1 6h0m4-10h0m0 4h0m1 6h0m1-11h0m3 5h0m1-2h0m2 4h0m1 1h0m3 3h0m1-6h0m3 3h0m1-6h0m1-2h0m1 2h0m0 7h0m3-2h0m4-5h0m2 3h0m2-1h0m0 5h0m3-9h0m2 4h0m3 3h0m0 1h0m1-5h0m1 8h0m3-8h0m1 2h0m2-3h0m2 7h0m1-4h0m2-3h0m-98 19h0m2-2h0m0 2h0m3-2h0m1-7h0m2 11h0m2-8h0m2 2h0m2 4h0m3-7h0m1 8h0m1-10h0m3 4h0m0 4h0m3-7h0m1 10h0m1-7h0m1 4h0m0 3h0m2-8h0m0 3h0m2-3h0m1 7h0m4-7h0m0 8h0m2-8h0m0 5h0m2 3h0m1-8h0m4 8h0m1-7h0m1-3h0m1 6h0m1 4h0m2-11h0m1 5h0m3 4h0m1-6h0m5 1h0m2 7h0m2-5h0m1-5h0m2 0h0m1-1h0m0 7h0m0 4h0m2-8h0m3 4h0m0 4h0m2-9h0m2-2h0m0 10h0m2-3h0m2 4h0m1-8h0m0 4h0m3-6h0m1 6h0m0 3h0m1-7h0m1 6h0m6 0h0m2-2h0m0 2h0m-100 3h0m2 0h0m2 5h0m0 2h0m4-7h0m1 9h0m2-4h0m0 5h0m2-5h0m2 4h0m4-7h0m0 4h0m2 4h0m2-2h0m1-3h0m2-1h0m1-3h0m2 7h0m1 3h0m1-7h0m2-4h0m1 4h0m0 7h0m1 0h0m2-3h0m2-4h0m3 3h0m4-5h0m0 8h0m1-7h0m0 8h0m3-4h0m5-1h0m2-6h0m0 8h0m2-2h0m0 4h0m1-9h0m2 3h0m2-2h0m2 3h0m0 2h0m3 0h0m3-7h0m2 5h0m2 5h0m5-4h0m2-2h0m1 5h0m2-8h0m2 7h0m1-1h0m4 2h0m1-6h0m2-3h0m0 6h0m2-6h0m2 5h0m0 2h0m-100 11h0m2 1h0m2-4h0m1-3h0m0 11h0m1-3h0m2 1h0m3-7h0m1 9h0m1-6h0m2-5h0m0 9h0m1-7h0m1-1h0m3 2h0m2-3h0m0 7h0m0 3h0m5-9h0m0 5h0m0 2h0m2-5h0m3 8h0m1-4h0m1-4h0m2 2h0m1 4h0m3-7h0m1 7h0m3-6h0m0 8h0m1-9h0m0 4h0m2 0h0m5 3h0m2-9h0m1 5h0m2 5h0m2-9h0m2 2h0m1 3h0m1-5h0m1 4h0m3-4h0m1 3h0m0 5h0m0 1h0m4 0h0m1-9h0m0 8h0m1-8h0m3 8h0m1-9h0m1 4h0m3 5h0m1-4h0m0 4h0m2-4h0m1-5h0m2 10h0m1-10h0m3 3h0m1-2h0m2 7h0m1-2h0m2 1h0m2-4h0m1-3h0m0 11h0m1-3h0m-101 14h0m0 1h0m2-5h0m2-3h0m1-3h0m1 9h0m1 1h0m3 0h0m0-2h0m1 1h0m4-3h0m1 5h0m1-11h0m0 8h0m1-6h0m2 1h0m0 8h0m1-4h0m2-6h0m1 7h0m1 3h0m0-9h0m5 3h0m0 2h0m5 1h0m0 1h0m1 0h0m1-9h0m0 6h0m1 4h0m0-1h0m3 1h0m3-1h0m2-4h0m1-4h0m0 5h0m1-1h0m3 4h0m2-7h0m0 9h0m3-10h0m3 10h0m0-6h0m1-4h0m0 9h0m1-2h0m2-8h0m0 2h0m0 6h0m2-3h0m4 0h0m0 2h0m3 3h0m3-9h0m1 2h0m2 1h0m4 7h0m0-10h0m1 2h0m0 5h0m1-2h0m1 5h0m1-10h0m1 10h0m2-8h0m0 8h0m1 0h0m0-11h0m0 11h0m1-2h0m1-3h0m1 1h0m3 3h0m0 1h0m2-5h0m2-3h0m1-3h0m-100 12h0m2 1h0m2-1h0m4 2h0m5 0h0m1 1h0m5-3h0m11 0h0m0 1h0m15-1h0m10 0h0m4 2h0m7-2h0m0 0h0m4 0h0m7 1h0m19-1h0m2 1h0m2-1h0" stroke="#dc1c48" stroke-width="4.0" stroke-linecap="round" fill="none"/><path d="M63 -2h0m14 0h0m-65 12h0m12-10h0m14 6h0m3 4h0m6-10h0m31 3h0m13 1h0m-57 16h0m17 10h0m13-1h0m-41 16h0m-23 4h0m6 6h0m90-6h0m-51 18h0m4-7h0m21 8h0m5-8h0m13 0h0m-45 18h0m29-2h0m-35 12h0m26 6h0m6-3h0m8 3h0m-53 2h0m23 0h0" stroke="#f5b8b2" stroke-width="4.0" stroke-linecap="round" fill="none"/></g></pattern><pattern id="iLav" width="60" height="60" patternUnits="userSpaceOnUse"><rect width="60" height="60" fill="#5c5a60"/><g transform="scale(0.5)"><path d="M110 -1h0m-93 6h0m28 4h0m3 2h0m-39 10h0m17-5h0m85 3h0m-53 13h0m-38 5h0m41 10h0m28-9h0m2 1h0m-50 19h0m1-8h0m40 4h0m-76 9h0m2 4h0m-6 27h0m13-7h0m21 0h0m1 5h0m85 2h0m-78 4h0m8 3h0m7 4h0m24-7h0m-77 10h0m78 2h0m26 9h0" stroke="#40dcec" stroke-width="3.8" stroke-linecap="round" fill="none"/><path d="M18 1h0m38 3h0m11-1h0m-65 13h0m33 3h0m87-3h0m-37 10h0m3 2h0m24 18h0m5-10h0m-107 12h0m1 9h0m12 0h0m63-6h0m-84 10h0m0 10h0m44-9h0m53 0h0m23-1h0m0 10h0m-103 2h0m-9 20h0m45 0h0m7 0h0m12-4h0m16 4h0m5 1h0m-82 8h0m26-3h0m12 5h0m-43 10h0m10 7h0" stroke="#8a20ae" stroke-width="3.8" stroke-linecap="round" fill="none"/><path d="M-1 -1h0m1-1h0m6 0h0m4 0h0m3 0h0m6 0h0m5 0h0m2-1h0m7 0h0m21 0h0m4 1h0m11 0h0m37 1h0m7-1h0m0 0h0m6 1h0m1-1h0m-120 9h0m3-3h0m1 7h0m1-4h0m4-1h0m1-5h0m2 6h0m1 4h0m9-4h0m3-4h0m3 8h0m1-10h0m0 8h0m3-7h0m1-1h0m1 5h0m1 4h0m4-6h0m1-3h0m0 5h0m6-1h0m0 2h0m4-1h0m3 2h0m1-7h0m3 9h0m4-6h0m1-3h0m0 10h0m2-2h0m4-1h0m2-4h0m1-2h0m1 1h0m2 6h0m4-7h0m0 9h0m1-5h0m2-1h0m1-5h0m1 9h0m4-3h0m4 1h0m0 3h0m1-8h0m1-2h0m1 6h0m4-6h0m2 4h0m0 7h0m2-9h0m0-2h0m1 9h0m1-2h0m0 4h0m9-9h0m1 8h0m6-3h0m-121 15h0m2-2h0m4-4h0m3-4h0m0 5h0m5 1h0m3 4h0m4-6h0m2-3h0m4 6h0m4-7h0m0 6h0m2 1h0m1-4h0m3-1h0m4 5h0m0 4h0m2-9h0m0 1h0m0 5h0m4 0h0m2-3h0m0 3h0m1-8h0m5 1h0m1 6h0m1 3h0m3 0h0m1-6h0m3 0h0m0 5h0m3-6h0m5 1h0m2 6h0m2-8h0m0 1h0m3 8h0m2-6h0m2-3h0m4 2h0m3 6h0m4-1h0m4-3h0m0 2h0m7-1h0m2-5h0m0 9h0m2-3h0m3-7h0m0 2h0m0 8h0m3-8h0m3-3h0m2 10h0m2-2h0m-122 4h0m2 10h0m4 1h0m1-10h0m0 7h0m5-5h0m2 2h0m2 3h0m1-2h0m1 3h0m2-9h0m2 4h0m3-2h0m1 5h0m2 3h0m1-6h0m1-2h0m4 4h0m2 3h0m2-3h0m2 2h0m3-1h0m0 2h0m3-6h0m2 6h0m1 2h0m1-11h0m0 7h0m2 4h0m1-11h0m4 1h0m5 6h0m0 4h0m3-9h0m2 3h0m1 3h0m1-6h0m2 8h0m3-10h0m2 6h0m2-2h0m1-4h0m4 7h0m1-7h0m5 11h0m2-8h0m2 6h0m2-5h0m0 6h0m2-8h0m3 5h0m6-3h0m0 4h0m5 3h0m3-7h0m1-4h0m0 11h0m5-11h0m2 10h0m-120 10h0m0 1h0m2-4h0m4-3h0m3 3h0m6 1h0m1 2h0m1-7h0m2 8h0m7-6h0m1 6h0m3-5h0m1-4h0m0 4h0m4-3h0m0 7h0m3-3h0m4-1h0m0 6h0m2-2h0m1-5h0m3 2h0m2 3h0m3-4h0m3-1h0m0 2h0m0 6h0m2-8h0m5-2h0m0 5h0m2 4h0m1-6h0m2-3h0m9 7h0m4-3h0m3 2h0m1 4h0m1-1h0m5-2h0m1-2h0m4-3h0m0 3h0m3 4h0m1-8h0m1 4h0m2 0h0m0 3h0m5-7h0m0 8h0m2-7h0m0 1h0m10 4h0m0 1h0m-122 5h0m2 7h0m2-4h0m0 3h0m2-8h0m1 3h0m4 3h0m5 4h0m1-8h0m4 8h0m1-6h0m0 1h0m5-3h0m3 3h0m1-5h0m0 0h0m2 3h0m1 6h0m6 1h0m7-3h0m3-5h0m0 2h0m3 5h0m2-8h0m3 4h0m0 4h0m2-6h0m0 4h0m5-6h0m5 0h0m0 7h0m3-4h0m0 7h0m1-6h0m4-3h0m1 9h0m2-4h0m1-5h0m8 4h0m2-5h0m1 8h0m2-1h0m1-4h0m5 1h0m1-5h0m4 3h0m0 8h0m1-6h0m3-1h0m2 5h0m2-1h0m1 2h0m5-8h0m2 7h0m2-1h0m-125 14h0m3-5h0m4 3h0m2 1h0m6-3h0m2 5h0m5-7h0m0 2h0m5-2h0m0 3h0m1 3h0m6-6h0m1 4h0m3-6h0m1 8h0m2-5h0m1-1h0m2 5h0m1-3h0m5 0h0m1-5h0m1-1h0m0 10h0m4-3h0m1-5h0m1 8h0m3-2h0m2-8h0m0 1h0m4 0h0m0 3h0m1 5h0m3-7h0m7-1h0m0 4h0m0 4h0m2-6h0m1 6h0m4-3h0m1-5h0m1 6h0m1 2h0m4-5h0m1 7h0m6 0h0m1-6h0m2-5h0m2 6h0m2-3h0m1 3h0m1-4h0m4 6h0m2 1h0m2-3h0m3-3h0m1 7h0m3-5h0m-122 12h0m2 6h0m2-4h0m1 3h0m1-8h0m2 6h0m3-5h0m2 3h0m4-1h0m0 6h0m7-11h0m0 8h0m3-3h0m1-1h0m1 2h0m3 1h0m2-7h0m1 7h0m1 2h0m1-5h0m4-2h0m1 5h0m3 3h0m1-8h0m0 4h0m2-6h0m3 4h0m2 7h0m2-6h0m6-2h0m2 2h0m0 4h0m2-2h0m0 4h0m4-2h0m3-7h0m1 8h0m2-2h0m2-6h0m2 9h0m2-6h0m0 5h0m1-8h0m4 0h0m2 7h0m9-4h0m0 2h0m2-1h0m2-3h0m0 8h0m2-4h0m5-1h0m2-3h0m1-3h0m4 9h0m3-7h0m2 3h0m2 6h0m-124 7h0m8-3h0m1 5h0m7-6h0m0 7h0m0 1h0m5-1h0m2-7h0m1-2h0m3 4h0m5 5h0m4-1h0m6-5h0m6 6h0m2 0h0m2-9h0m1 1h0m3 6h0m4-7h0m0 5h0m0 2h0m5-5h0m3-1h0m0 3h0m3-1h0m0 3h0m0 5h0m9-6h0m2 2h0m0 3h0m3-5h0m1 3h0m6-6h0m4 3h0m4 0h0m3 3h0m4 1h0m0 1h0m1-8h0m2-2h0m0 10h0m1-7h0m3 5h0m1-7h0m2 9h0m1-8h0m2 2h0m0 2h0m-116 9h0m0 4h0m1 4h0m1-6h0m3 5h0m3-6h0m3-1h0m3 7h0m2 0h0m4-9h0m1 7h0m3-4h0m0 3h0m1-5h0m1 1h0m2 6h0m7-7h0m2-1h0m0 7h0m3-8h0m4 8h0m1-4h0m1-2h0m5 0h0m1 8h0m6 1h0m1-9h0m1 0h0m2-2h0m3 6h0m1-3h0m2 5h0m5-7h0m3 4h0m0 4h0m8-8h0m2 9h0m1-2h0m3-6h0m3 6h0m0 3h0m3-6h0m0 1h0m3-5h0m1 1h0m3 5h0m2-5h0m3 2h0m5 4h0m1-2h0m1 3h0m5-6h0m0 4h0m1 4h0m-123 12h0m1-1h0m1-4h0m5 4h0m4 0h0m1-9h0m2 9h0m1-10h0m1 7h0m1-5h0m3 8h0m4-9h0m1 9h0m2-4h0m0 3h0m2-7h0m5 7h0m1-7h0m2 2h0m3-1h0m1-3h0m1 0h0m0 7h0m3-2h0m5 4h0m2-7h0m3 7h0m2-6h0m2 2h0m0 5h0m6-3h0m2-4h0m1-1h0m2 8h0m1-4h0m6-3h0m3-1h0m0 4h0m3-5h0m1 5h0m5-3h0m2-1h0m0 6h0m3-2h0m7 0h0m1-4h0m0 5h0m3-1h0m2 5h0m1-2h0m1-3h0m5 4h0m0-4h0m0 4h0m3-4h0m3 5h0m1-1h0m1-4h0m-111 7h0m15 2h0m4-2h0m3 1h0m1-1h0m7 0h0m14 0h0m8 0h0m9 1h0m7 0h0m4-2h0m10 2h0m1-2h0m5 0h0m4 0h0m0 2h0m11 0h0" stroke="#d6b0f4" stroke-width="3.8" stroke-linecap="round" fill="none"/><path d="M40 -3h0m3 2h0m23-1h0m-55 12h0m8-1h0m63-6h0m5 4h0m21-3h0m2 6h0m6-7h0m-51 10h0m5 1h0m-56 12h0m28 9h0m38-1h0m19-9h0m0 6h0m-86 5h0m9 5h0m95 2h0m0 3h0m-100 7h0m66 6h0m-72 24h0m19-2h0m19-2h0m58-4h0m-103 14h0m20-5h0m5 5h0m29 6h0m15-3h0m12-2h0m-88 7h0m24 4h0m27 5h0m31-1h0m38-8h0m-105 13h0m28 7h0m3 2h0m7-5h0m16 4h0m46-8h0m1-1h0" stroke="#f07d2e" stroke-width="3.8" stroke-linecap="round" fill="none"/></g></pattern><pattern id="iOra" width="60" height="60" patternUnits="userSpaceOnUse"><rect width="60" height="60" fill="#5a5a5a"/><g transform="scale(0.5)"><path d="M102 -1h0m-57 9h0m28 5h0m0 4h0m-72 16h0m15-6h0m33 0h0m65-2h0m7 8h0m-64 11h0m56 2h0m-69 8h0m30 8h0m14 17h0m-32 13h0m-9 6h0m49 2h0m-44 11h0m50 8h0" stroke="#40dcec" stroke-width="4.0" stroke-linecap="round" fill="none"/><path d="M-2 -1h0m3 0h0m13-1h0m16 0h0m58 1h0m19-1h0m8 0h0m3 1h0m3 0h0m-121 11h0m0-3h0m1-2h0m14 0h0m2-5h0m5 4h0m11 5h0m1-8h0m4 6h0m3 0h0m3-5h0m6 6h0m1-5h0m4 8h0m1-5h0m4-5h0m0 7h0m3-7h0m12 3h0m3 3h0m3-5h0m0 9h0m1-10h0m13 3h0m2-3h0m0 9h0m15-10h0m3 10h0m5-3h0m0 3h0m1-5h0m-122 9h0m0 8h0m2 0h0m2-2h0m1-5h0m8 5h0m4-7h0m4 0h0m21 10h0m12-9h0m6 3h0m4 4h0m7-4h0m6-5h0m3 10h0m8-3h0m19 3h0m5-6h0m1 5h0m0 1h0m4-7h0m3-1h0m0 8h0m2 0h0m2-2h0m-126 8h0m2 5h0m2-4h0m3 3h0m3-7h0m8 6h0m0 3h0m7 0h0m16-9h0m7 3h0m2 4h0m2 1h0m2-8h0m6 2h0m6-1h0m0 7h0m1 1h0m1-5h0m2 1h0m4-3h0m8-1h0m0 4h0m8 1h0m4-7h0m4 0h0m6 10h0m2-10h0m14 4h0m2 5h0m2-4h0m-113 9h0m0 6h0m2-2h0m6-1h0m6 0h0m5 5h0m1-5h0m3-4h0m0 6h0m2-1h0m1 0h0m2 4h0m1-5h0m2 1h0m4-2h0m1 2h0m22 0h0m5 3h0m12-4h0m15-5h0m16 3h0m-116 9h0m2 9h0m3-5h0m5 1h0m10 6h0m1-7h0m7 6h0m2-4h0m3-2h0m14-2h0m8 1h0m6 0h0m13-3h0m24 2h0m2 3h0m8 2h0m1-5h0m5 4h0m6-6h0m2 9h0m3-5h0m-124 15h0m3 2h0m6-9h0m0 8h0m2-2h0m5 0h0m1-4h0m4-2h0m10 8h0m1-4h0m2 6h0m5-6h0m8 6h0m2-9h0m1 7h0m4-7h0m1 5h0m4 2h0m4-6h0m2 1h0m7 3h0m4 1h0m11-2h0m0 2h0m5-2h0m14 3h0m3 0h0m3 3h0m2-4h0m6 0h0m3 2h0m-123 6h0m3 1h0m2 7h0m2-5h0m19 0h0m0 3h0m13-8h0m5 9h0m9-2h0m7 2h0m1-2h0m5-4h0m2 6h0m6-5h0m1 1h0m4 3h0m7-9h0m1 0h0m1 11h0m5-4h0m10-3h0m0 2h0m14 1h0m3-4h0m3 1h0m-114 8h0m0 7h0m2-1h0m3-1h0m1 5h0m2 1h0m6-6h0m2 4h0m6-2h0m6 3h0m6-5h0m3-1h0m1 7h0m4-2h0m7-7h0m9 4h0m3 0h0m1-6h0m0 2h0m7 0h0m1 6h0m1 0h0m17 3h0m2-11h0m4 0h0m1 9h0m11 2h0m-116 2h0m2 0h0m0 6h0m1 4h0m2 0h0m13-1h0m6-3h0m1-7h0m5 2h0m0 7h0m1-8h0m4 3h0m1-3h0m10 8h0m1-7h0m0 8h0m17-1h0m11-2h0m7-5h0m7 4h0m2 5h0m12-8h0m2 2h0m4 6h0m11-10h0m2 0h0m0 6h0m1 4h0m-124 10h0m1 2h0m3 0h0m7-10h0m0 2h0m1 4h0m5 3h0m5-9h0m4 4h0m4-1h0m2 3h0m1 3h0m16-8h0m3 4h0m7-2h0m1-4h0m0 9h0m1-6h0m3 5h0m5-4h0m17 1h0m2 3h0m2-4h0m1 7h0m3-9h0m13-2h0m0 5h0m3 5h0m4-3h0m4 3h0m2-1h0m1 2h0m3 0h0m-104 1h0m17 1h0m10 1h0m7 1h0m9-2h0m3 0h0m18 1h0m1-1h0m15 0h0m15-1h0" stroke="#d6b0f4" stroke-width="4.0" stroke-linecap="round" fill="none"/><path d="M-2 -1h0m2 0h0m4-2h0m1 2h0m4 0h0m5 0h0m5-1h0m5-1h0m18 2h0m0-1h0m8 1h0m8-1h0m8-1h0m2 1h0m4 1h0m9-1h0m5 1h0m9 0h0m8-1h0m12 1h0m3 0h0m2 0h0m-122 9h0m8-8h0m0 8h0m1-4h0m1-4h0m1 7h0m0 3h0m3-7h0m2 3h0m5 4h0m4-10h0m0 9h0m2 2h0m2-11h0m0 3h0m2 6h0m2-6h0m0 8h0m2-9h0m2-1h0m1 0h0m0 3h0m10-1h0m1-2h0m7 0h0m2 4h0m1-5h0m4 3h0m1-2h0m3 5h0m2-1h0m1 3h0m0-7h0m5 4h0m0 4h0m1-7h0m7-2h0m5 3h0m0 4h0m4-2h0m3-4h0m1-1h0m6 8h0m1-7h0m2 1h0m1 9h0m2-1h0m4-10h0m2 6h0m2-2h0m1 0h0m3 4h0m-117 5h0m0 3h0m1 0h0m7-4h0m0 8h0m1-5h0m3 8h0m1-6h0m1 3h0m4-6h0m2 9h0m2-2h0m1-5h0m3 0h0m0 7h0m2-5h0m2 0h0m2 3h0m1-8h0m2 3h0m4 0h0m1 4h0m2 0h0m1 3h0m4-10h0m0 5h0m1-2h0m1 5h0m1-2h0m3 4h0m5-3h0m4-7h0m0 9h0m4-9h0m0 8h0m4-2h0m4 3h0m3-1h0m5-6h0m4 3h0m4-6h0m0 2h0m1-2h0m2 8h0m6-7h0m2 9h0m1-7h0m4 8h0m4-10h0m4 7h0m6-7h0m0 3h0m1 0h0m-122 18h0m1-8h0m3-2h0m1 2h0m3 7h0m5-4h0m4-4h0m1 6h0m4-2h0m1 3h0m3-4h0m2 6h0m2-4h0m4 0h0m1-4h0m1 4h0m0 5h0m1-7h0m2 7h0m2-2h0m6 2h0m4 0h0m1-8h0m9-1h0m0 4h0m10 5h0m2-11h0m1 9h0m4-3h0m4 3h0m2 2h0m1-9h0m0 2h0m2-4h0m2 4h0m1 3h0m0 4h0m5-6h0m1 6h0m2-7h0m0 2h0m5 4h0m3-8h0m1 5h0m3 4h0m4-8h0m1 4h0m5 3h0m1-8h0m-123 12h0m4 2h0m0 6h0m2-2h0m2-3h0m2 5h0m2-8h0m1-2h0m3 2h0m2 6h0m4 2h0m2-2h0m23-7h0m1 3h0m2 3h0m3-4h0m0 4h0m4-3h0m3-2h0m0 9h0m3-3h0m2-3h0m3-4h0m2 10h0m3-6h0m3-1h0m1 5h0m1-4h0m1-4h0m2-1h0m3 6h0m2 1h0m2-2h0m3 6h0m1-3h0m1-2h0m4 0h0m2-2h0m1 2h0m4-3h0m3 6h0m1-7h0m0 8h0m1-1h0m2-6h0m2-3h0m0 6h0m4-5h0m2 8h0m1-7h0m4 2h0m0 6h0m-124 2h0m0 3h0m3 3h0m2-5h0m0 4h0m0 5h0m5-1h0m4-8h0m0 3h0m2 5h0m2-7h0m1 8h0m7-7h0m1-2h0m0 6h0m6 3h0m2-7h0m5 1h0m0 5h0m2-8h0m4 9h0m3-8h0m8 0h0m1 4h0m4 3h0m3-5h0m3 3h0m2 1h0m1-3h0m1 6h0m3-7h0m1-1h0m0 7h0m5-2h0m1-7h0m2 1h0m0 7h0m4-7h0m2 4h0m1 5h0m1-10h0m1 5h0m3 5h0m3-4h0m1-7h0m1 11h0m1-3h0m3-8h0m0 4h0m7-2h0m3 7h0m4 2h0m1-11h0m0 3h0m3 3h0m2-5h0m0 4h0m-122 9h0m0 1h0m0 2h0m0 3h0m3-5h0m5 1h0m3-4h0m3 10h0m2 1h0m3-6h0m1 4h0m1-3h0m4 3h0m3-4h0m3 6h0m2-11h0m5 0h0m1 5h0m0 5h0m5-4h0m1-3h0m4-1h0m5 0h0m3-2h0m4 6h0m1-4h0m4 4h0m8-4h0m4-2h0m1 3h0m1 5h0m4-5h0m2-3h0m4 8h0m7-5h0m1 7h0m1-6h0m1 4h0m1-7h0m8-1h0m0 4h0m1-3h0m5 1h0m5 0h0m0 1h0m0 2h0m0 3h0m-123 5h0m1 9h0m1-2h0m1-8h0m1 4h0m2 7h0m1-10h0m3 2h0m2 0h0m0 4h0m5-5h0m1 8h0m2-3h0m2-3h0m2-2h0m5 8h0m1-9h0m1 10h0m3-6h0m2 3h0m1 3h0m5-10h0m0 1h0m1 5h0m0 3h0m6-2h0m1-3h0m2-4h0m1 2h0m3-3h0m0 7h0m6-7h0m2 3h0m1-2h0m0 9h0m3-2h0m2-1h0m1-7h0m7 2h0m1 8h0m2-8h0m5 2h0m4 0h0m4-2h0m2 3h0m2-4h0m1 9h0m2-5h0m5 3h0m1-7h0m9 3h0m1-3h0m3 0h0m1 9h0m1-2h0m1-8h0m1 4h0m-124 15h0m1-7h0m0 5h0m2 3h0m1-6h0m0 6h0m4-5h0m5-1h0m6 7h0m3-8h0m6 1h0m4 2h0m8 5h0m1-7h0m3 8h0m3-1h0m2-9h0m4 1h0m0 1h0m0 5h0m0 4h0m6 0h0m1-7h0m2 6h0m2 0h0m2-5h0m7 5h0m2-4h0m6-6h0m1 10h0m3 0h0m3-3h0m1-1h0m4-6h0m2 2h0m1-1h0m1 3h0m0 2h0m4 0h0m3-1h0m0 6h0m3-8h0m3 8h0m2-8h0m1-3h0m3 7h0m2-3h0m2 3h0m1-7h0m0 5h0m2 3h0m1-6h0m0 6h0m-123 9h0m0 2h0m3-4h0m1 2h0m1 3h0m3-2h0m1-4h0m1 3h0m1-3h0m3 9h0m5-6h0m3 0h0m10 2h0m1 4h0m6-9h0m0 4h0m1-3h0m2 3h0m10 1h0m1 3h0m1-5h0m3 0h0m0 4h0m4-2h0m1-5h0m5-1h0m0 4h0m3-2h0m4-2h0m0 9h0m2-6h0m4 7h0m1-4h0m1 2h0m3-3h0m5-5h0m1 4h0m0 1h0m4-5h0m2 6h0m6 2h0m2-3h0m3-3h0m3-1h0m1 6h0m0 3h0m2-8h0m2 8h0m2-5h0m2-1h0m0 2h0m3-4h0m1 2h0m-125 18h0m2 0h0m0-9h0m1 2h0m0 2h0m3 3h0m1 2h0m1-5h0m3 5h0m3-9h0m2 9h0m1-2h0m4 1h0m1-9h0m2 6h0m2-6h0m0 8h0m7-4h0m2 2h0m2-6h0m3 3h0m2-3h0m2 10h0m0-1h0m1-6h0m2 3h0m4-7h0m1 11h0m3-4h0m5 3h0m4-10h0m4 9h0m1-5h0m1 6h0m2-3h0m2 4h0m3-9h0m1-1h0m1 6h0m4 3h0m5-10h0m0 11h0m2-2h0m4-9h0m2 8h0m1 3h0m2-6h0m1 3h0m2-7h0m1 1h0m2 8h0m7-8h0m0 6h0m4-3h0m1 6h0m3 0h0m2-9h0m0 9h0m1-7h0m0 2h0m-115 6h0m2 0h0m4 3h0m11-3h0m4 0h0m0 3h0m4 0h0m2-1h0m2-1h0m1 0h0m11 0h0m7 0h0m3-1h0m5 1h0m6 0h0m6 1h0m7-2h0m12 1h0m1-1h0m7 1h0m2 1h0m7-2h0" stroke="#f07d2e" stroke-width="4.0" stroke-linecap="round" fill="none"/></g></pattern><pattern id="iOL" width="60" height="60" patternUnits="userSpaceOnUse"><rect width="60" height="60" fill="#5a5a5a"/><g transform="scale(0.5)"><path d="M75 -1h0m-50 1h0m21 6h0m26 5h0m16-2h0m24-9h0m-114 18h0m19-4h0m27 9h0m74-5h0m-101 14h0m7 0h0m25-3h0m37 1h0m-73 27h0m60-8h0m29 8h0m7 0h0m0 5h0m-95 13h0m3 5h0m35 2h0m1-8h0m5 0h0m20 21h0m18-7h0m-59 11h0m18-2h0m41 4h0m-81 10h0m2 1h0m4-2h0m54 9h0m41-6h0m1 2h0m-92 5h0m87 0h0" stroke="#40dcec" stroke-width="4.0" stroke-linecap="round" fill="none"/><path d="M87 -1h0m-67 2h0m27 3h0m42-2h0m-56 11h0m17 8h0m-8 13h0m21 10h0m19-8h0m-50 13h0m18 14h0m63-3h0m-78 17h0m79 3h0m-105 6h0m14 2h0m49 1h0m-46 18h0m47-9h0m14 21h0m14-11h0m-81 13h0m69 1h0" stroke="#8a20ae" stroke-width="4.0" stroke-linecap="round" fill="none"/><path d="M0 -2h0m1 0h0m6 0h0m3 1h0m5 0h0m12-2h0m11 1h0m19 1h0m10-1h0m30 0h0m3 1h0m20-1h0m1 0h0m-123 6h0m1 3h0m2-7h0m0 5h0m3-2h0m0 5h0m1-7h0m1 2h0m0 8h0m4-10h0m3 3h0m2 5h0m0-8h0m8 9h0m0-10h0m13 6h0m3-4h0m3 7h0m3-5h0m0 6h0m2-8h0m5 8h0m8-5h0m0-4h0m6 3h0m1 6h0m2-9h0m2 4h0m7 5h0m5-9h0m0 3h0m1 6h0m8-1h0m1-8h0m2 3h0m0-4h0m4 4h0m5-3h0m1 1h0m2 4h0m5 3h0m2-6h0m0 6h0m4-5h0m1 3h0m2-7h0m0 5h0m-109 16h0m8 2h0m1-10h0m6 0h0m0 8h0m1-9h0m1 6h0m5 1h0m2-4h0m5 5h0m9-3h0m3 4h0m6-7h0m4 8h0m3-4h0m5 4h0m5-6h0m0 3h0m7 1h0m8-7h0m4 10h0m3-9h0m7-1h0m0 4h0m3 4h0m8-1h0m-114 13h0m1-6h0m2 3h0m3 4h0m2-10h0m4 6h0m1 5h0m8-1h0m4-1h0m2-9h0m0 2h0m2 5h0m1-2h0m5-5h0m2 11h0m2-11h0m2 8h0m5 3h0m4-6h0m6-4h0m1 3h0m2 3h0m1 1h0m1-6h0m3 1h0m4 4h0m1-1h0m4 5h0m4-11h0m1 8h0m4-6h0m1 0h0m3 1h0m4 3h0m2-1h0m5 1h0m2-6h0m6 8h0m2-8h0m2 7h0m2-1h0m1-4h0m3 3h0m5 4h0m1-6h0m-125 18h0m2-7h0m3 6h0m1-6h0m1 8h0m1-10h0m1 8h0m2-3h0m1-4h0m2 5h0m0 3h0m0 2h0m7-3h0m5-4h0m3-4h0m0 3h0m4-1h0m0 4h0m4-5h0m14 6h0m1 3h0m3-4h0m3-3h0m2 0h0m2-2h0m5-1h0m3 9h0m7-1h0m13 2h0m3-9h0m0 5h0m2-4h0m1 3h0m15 1h0m3-4h0m1 7h0m1 1h0m1-7h0m3 6h0m2-7h0m-121 11h0m4 4h0m4-1h0m2-4h0m10 0h0m8 0h0m1 9h0m2-6h0m4 0h0m4 4h0m1-3h0m3 2h0m3 1h0m7-1h0m5 1h0m6-7h0m1 9h0m3-1h0m8 1h0m1-8h0m9 4h0m0 5h0m2-1h0m0 2h0m4-10h0m0 6h0m5-6h0m6 1h0m0 9h0m5-1h0m12-9h0m4 4h0m-125 18h0m4-4h0m1-4h0m4-1h0m6 7h0m1-2h0m1-5h0m8-2h0m2 1h0m3 4h0m1 6h0m2-1h0m2 0h0m2-9h0m0 2h0m10-3h0m2 2h0m0 3h0m1 6h0m1-5h0m4-5h0m7 5h0m1-5h0m7 4h0m6 6h0m4-9h0m4 7h0m2-6h0m2 8h0m4 0h0m6-11h0m0 7h0m9-1h0m2 5h0m8-6h0m3 6h0m4-4h0m-124 13h0m1-6h0m1 6h0m1-6h0m4-2h0m2 4h0m8-4h0m5 3h0m4 3h0m3-2h0m1 7h0m1-8h0m8 5h0m0 3h0m2-6h0m4 3h0m2-4h0m4-3h0m14 2h0m1 6h0m4-5h0m10 0h0m3 7h0m2-8h0m10 4h0m2-7h0m12 7h0m2 4h0m1-7h0m2-3h0m1-1h0m1 3h0m4 5h0m1-6h0m1 6h0m1-6h0m-123 20h0m2-9h0m1 10h0m1-5h0m2-3h0m2 5h0m6-8h0m0 4h0m5-3h0m4 6h0m2-7h0m2 1h0m0 7h0m6-2h0m1 5h0m2-3h0m8 2h0m1-7h0m5 7h0m2-7h0m3 1h0m1 2h0m8 4h0m1-2h0m3-8h0m11 3h0m1-3h0m1 9h0m6-4h0m0 6h0m1-2h0m9-9h0m0 10h0m4-10h0m1 6h0m2 1h0m6-5h0m3 8h0m1-7h0m2-1h0m0 7h0m2-2h0m2 3h0m2-9h0m1 10h0m1-5h0m-124 9h0m1 7h0m2-7h0m3 8h0m2 0h0m4-8h0m5 3h0m1-4h0m9 1h0m7 2h0m11-3h0m0 6h0m2 2h0m6-2h0m2 0h0m2-4h0m8 6h0m3-3h0m2-2h0m1 3h0m0 3h0m6-3h0m4 3h0m1-6h0m2 1h0m4-4h0m3 7h0m3 1h0m7-7h0m4-2h0m1 1h0m2 7h0m4 2h0m2-8h0m0 3h0m2 0h0m0 4h0m4-7h0m1 7h0m2-7h0m-121 19h0m1-8h0m0 5h0m0 3h0m4-8h0m2 8h0m1-3h0m2 4h0m1-11h0m4 11h0m1-2h0m11 0h0m1-6h0m1-2h0m1 1h0m8 8h0m1-4h0m2-1h0m4 0h0m12 6h0m1-4h0m1-5h0m5 2h0m3 6h0m1-4h0m2-3h0m11 4h0m3-3h0m3-3h0m0 2h0m3 5h0m3-7h0m2 2h0m2 7h0m3-4h0m0 5h0m5-2h0m5-2h0m10 3h0m1-8h0m0 5h0m0 3h0m-120 2h0m4 1h0m5 0h0m5 0h0m8-1h0m16 2h0m8 0h0m13-1h0m9 0h0m14 0h0m10 0h0m2-1h0m9 1h0m1 1h0m16-2h0" stroke="#d6b0f4" stroke-width="4.0" stroke-linecap="round" fill="none"/><path d="M30 -3h0m3 1h0m1 1h0m7 0h0m10-1h0m13 1h0m14 0h0m16-2h0m7 2h0m15-1h0m-119 3h0m1-1h0m3 8h0m1-8h0m9 9h0m5-3h0m0 1h0m6-3h0m3 1h0m2-4h0m0 7h0m1-4h0m6 3h0m4-5h0m0 6h0m2-8h0m10 11h0m0-10h0m1 4h0m3 6h0m1-11h0m3 5h0m2-3h0m0 7h0m3 0h0m2-8h0m3 9h0m5 0h0m2-10h0m2 8h0m2-5h0m11-1h0m0-2h0m6 10h0m9-6h0m1-1h0m11-2h0m1-1h0m3 8h0m1-8h0m-124 22h0m1-5h0m2-5h0m2 8h0m0 3h0m1-11h0m0 4h0m4 5h0m2-6h0m1-3h0m4 4h0m0 5h0m5-4h0m2 3h0m3-3h0m0 5h0m2-6h0m4 7h0m3-5h0m6-2h0m1-4h0m4 5h0m0 5h0m9-4h0m6-5h0m3 4h0m5-2h0m2 8h0m9-7h0m2-2h0m2 4h0m2-3h0m0 3h0m4 4h0m3-5h0m2 4h0m6-6h0m1-3h0m0 6h0m3 0h0m5-4h0m2-1h0m0 5h0m4-2h0m1-3h0m2 9h0m1-5h0m2-5h0m2 8h0m-124 5h0m1 6h0m1-4h0m8-1h0m3-1h0m0 3h0m11 2h0m14 2h0m4-3h0m4-2h0m2 5h0m2-7h0m2 9h0m0 1h0m3-10h0m0 9h0m3 0h0m7-10h0m9 10h0m1-8h0m4 0h0m6 6h0m4 0h0m4-6h0m8 9h0m3-3h0m3 2h0m4-5h0m3 3h0m6-7h0m1 6h0m1-4h0m-123 14h0m3 5h0m2-9h0m3 3h0m8 3h0m5-3h0m7 3h0m3-6h0m4 5h0m5 0h0m1 5h0m3-8h0m2 4h0m2-2h0m2 6h0m3-8h0m6 3h0m0 4h0m2 1h0m7-5h0m2-1h0m9-2h0m4 6h0m2-8h0m0 5h0m0 5h0m11-3h0m2-2h0m6-4h0m2 5h0m1-2h0m2 5h0m6-9h0m5 4h0m3 5h0m-122 12h0m0-1h0m3-5h0m4 4h0m5-6h0m0 8h0m3 1h0m4-7h0m0 3h0m0 3h0m1-7h0m4-2h0m2 5h0m17 2h0m11-5h0m3 8h0m6-9h0m0 7h0m6-7h0m0 1h0m3 8h0m5-7h0m1 2h0m5-3h0m6 1h0m8-1h0m1 1h0m2 2h0m6-1h0m3-2h0m0 7h0m4-9h0m4 3h0m0 6h0m3 0h0m0-1h0m3-5h0m-124 15h0m3 3h0m1-10h0m0 0h0m0 4h0m4-4h0m2 10h0m10-7h0m1 4h0m6 3h0m6-8h0m5 4h0m3-5h0m0 4h0m1 3h0m1 3h0m1-3h0m14-6h0m3 3h0m3 1h0m2-3h0m1 5h0m1-7h0m0 10h0m3 0h0m2-3h0m2-5h0m4 4h0m1 4h0m3-11h0m6 6h0m1-5h0m0 3h0m1 6h0m2-8h0m5 3h0m1-5h0m3 5h0m0 4h0m18-2h0m3 3h0m1-10h0m0 0h0m0 4h0m-124 19h0m3 0h0m3-7h0m4 4h0m2-6h0m6 7h0m1-9h0m5 1h0m6 7h0m5-2h0m13 4h0m1-3h0m2-3h0m2 2h0m5-6h0m0 10h0m2 0h0m3-1h0m9 0h0m0 2h0m1-6h0m1 3h0m9-4h0m1-4h0m0 8h0m4-2h0m6 4h0m5-4h0m2 1h0m1-5h0m1 1h0m1 2h0m16 6h0m3 0h0m-122 6h0m1 2h0m4 3h0m4 0h0m5-3h0m1 3h0m2-4h0m1-4h0m5 8h0m7-6h0m3 1h0m2-5h0m7 8h0m5-5h0m1 5h0m2-7h0m4 9h0m5-1h0m2-8h0m0 4h0m5-3h0m0 8h0m4-6h0m0 5h0m8 0h0m6-8h0m2 10h0m4-5h0m4-3h0m0 6h0m9-7h0m2-2h0m9 5h0m6 0h0m1 2h0m-122 15h0m2-7h0m0 3h0m0 5h0m5-5h0m2-2h0m3 5h0m7-8h0m2 7h0m2-2h0m5 1h0m5 1h0m1-5h0m5 4h0m1-6h0m2 9h0m8-2h0m10-6h0m0 8h0m1 1h0m5-10h0m0 1h0m6 0h0m1-1h0m5 3h0m1 7h0m1-2h0m12-7h0m0 5h0m7-1h0m6 0h0m6-4h0m6-2h0m3 10h0m2-7h0m0 3h0m0 5h0m-120 3h0m9 2h0m1 2h0m20 3h0m3 1h0m1 1h0m1-3h0m3-4h0m3 7h0m1-3h0m4 0h0m3-3h0m1-5h0m1 10h0m1-9h0m3 6h0m9 4h0m3-9h0m5 3h0m2 2h0m3-4h0m1 8h0m16-8h0m0 6h0m7 2h0m2-9h0m3 0h0m6 1h0m4 7h0m4-8h0m-123 11h0m1-1h0m4 0h0m25 1h0m11 1h0m2-2h0m10 1h0m5-1h0m5 2h0m5-1h0m10-1h0m4 3h0m11-3h0m0 2h0m16 1h0m11-2h0m1-1h0m4 0h0" stroke="#f07d2e" stroke-width="4.0" stroke-linecap="round" fill="none"/></g></pattern><pattern id="iPur" width="48" height="48" patternUnits="userSpaceOnUse"><rect width="48" height="48" fill="#4a3a50"/><g transform="scale(0.5)"><path d="M2 -3h0m3 2h0m6 0h0m2-1h0m0 1h0m6-1h0m5 1h0m0 0h0m2 0h0m16-1h0m4 1h0m3-2h0m5 2h0m12-1h0m5 0h0m3 1h0m3 0h0m3-1h0m18-1h0m-100 3h0m2 10h0m1-7h0m6-3h0m1 4h0m0 6h0m2 0h0m2-7h0m2 3h0m1 5h0m2-9h0m2 3h0m0 6h0m1-4h0m5-1h0m2-4h0m2 4h0m0 5h0m6-8h0m1-3h0m2 9h0m0-9h0m2 8h0m1-8h0m4 8h0m2-3h0m4 0h0m0 1h0m5-4h0m3 0h0m1 4h0m1-5h0m1 6h0m1-4h0m2-3h0m1 5h0m1 5h0m1 0h0m8-4h0m2 3h0m6-2h0m2-6h0m0 2h0m1-3h0m2 8h0m2-7h0m1 0h0m0 8h0m2-9h0m2 10h0m1-7h0m-100 20h0m2-4h0m1-4h0m0 8h0m4-4h0m1-2h0m5 4h0m5-3h0m1 3h0m4-1h0m2-6h0m0 9h0m3-5h0m1-4h0m0 1h0m5 6h0m3-8h0m0 6h0m7 0h0m2-6h0m2 7h0m2-4h0m1-3h0m0 6h0m3-3h0m0 3h0m1-6h0m2 3h0m2 2h0m2-5h0m1 10h0m6-5h0m3-3h0m1-3h0m2 10h0m1-4h0m1 0h0m2 4h0m1-9h0m2 2h0m1-3h0m0 8h0m2-6h0m4-2h0m1 4h0m0 2h0m7 5h0m2-4h0m1 4h0m0-8h0m-99 12h0m1 7h0m5-8h0m3 0h0m1-2h0m1 10h0m4-10h0m0 3h0m1 7h0m1-3h0m3-4h0m2 7h0m1-8h0m3 9h0m1-9h0m1 7h0m8-4h0m0 1h0m4-4h0m1 6h0m1 3h0m2-2h0m1-3h0m2 1h0m6-5h0m1 9h0m4-10h0m0 2h0m2 1h0m2 4h0m3-1h0m6-1h0m0 4h0m4-7h0m1 7h0m2 0h0m2-4h0m1-5h0m3-1h0m0 2h0m0 5h0m5-2h0m3 5h0m4-7h0m1 7h0m-92 7h0m2-5h0m0 8h0m2-5h0m0 8h0m2-3h0m2 0h0m3 3h0m1-9h0m1-1h0m6 9h0m1-8h0m1 4h0m0 5h0m5-1h0m2-10h0m4 3h0m1 0h0m6-1h0m3-2h0m1 5h0m1 5h0m1-2h0m3-5h0m4 4h0m1 3h0m2-10h0m2 8h0m2-7h0m1 1h0m2 5h0m1 4h0m1-6h0m2 1h0m1-2h0m5-2h0m1-2h0m3 6h0m1 1h0m5-3h0m2-3h0m1 4h0m2 4h0m1-6h0m1 7h0m7-5h0m-99 11h0m0 5h0m3-4h0m3 3h0m0 3h0m3-9h0m0 3h0m1-2h0m1 4h0m6-2h0m2-5h0m0 6h0m2 5h0m2-3h0m4-6h0m3 6h0m3 1h0m3-6h0m1 3h0m1-6h0m0 11h0m3-10h0m1 5h0m1 4h0m0 1h0m2-3h0m2-3h0m4-5h0m1 10h0m2-7h0m6 1h0m5 1h0m5-4h0m0 9h0m3-10h0m0 10h0m0 1h0m1-9h0m1 4h0m4-6h0m0 9h0m4-6h0m1 6h0m1-7h0m0 9h0m3-11h0m1 2h0m0 8h0m3-1h0m4-5h0m0 5h0m3-4h0m-100 18h0m1-2h0m2-8h0m0 3h0m1 3h0m3 3h0m1-8h0m3 2h0m0 3h0m1-7h0m1 8h0m3-2h0m1-6h0m2 2h0m2 7h0m2-4h0m4 3h0m2-8h0m3 1h0m0 7h0m6-1h0m2-2h0m2 6h0m1-7h0m4 2h0m3 1h0m1-6h0m1 2h0m4 6h0m2-5h0m1-3h0m2 8h0m1-5h0m3-2h0m0 8h0m3-10h0m0 7h0m10-6h0m1 1h0m0 9h0m3-11h0m0 7h0m5-4h0m1 5h0m6 2h0m1-9h0m1 10h0m1-2h0m2-8h0m0 3h0m1 3h0m-101 13h0m2-4h0m2 5h0m5-3h0m1 3h0m4-7h0m4-2h0m1 4h0m3 3h0m1-5h0m2 4h0m0 2h0m2-6h0m7 9h0m1-9h0m1 5h0m3-7h0m0 5h0m5-2h0m0 3h0m4-6h0m1 7h0m2-2h0m1 6h0m2-10h0m4 6h0m1-6h0m8 9h0m1-6h0m0 2h0m2 2h0m3-6h0m3 9h0m2-5h0m1-4h0m2 5h0m3 1h0m3-4h0m1-4h0m4 3h0m2 8h0m2-3h0m2-4h0m2 5h0m-100 10h0m1-5h0m3 0h0m0 2h0m1 5h0m3 2h0m4-11h0m2 11h0m2-1h0m0 1h0m1-6h0m0 2h0m5-3h0m0 6h0m3-7h0m2 8h0m0 0h0m2 0h0m1-4h0m2 1h0m10-4h0m2-3h0m0 1h0m1 8h0m2-4h0m1-4h0m1 9h0m3-2h0m3-3h0m2 2h0m0 3h0m2-3h0m1-5h0m2 1h0m3 5h0m1-7h0m3 8h0m1-1h0m2-3h0m2 4h0m3 1h0m1-10h0m1 4h0m0-3h0m1 9h0m0-3h0m3 2h0m1-10h0m1 6h0m3-5h0m0 5h0m7-4h0m1 5h0m1-5h0m3 0h0m0 2h0m1 5h0m-100 3h0m9 0h0m5 3h0m5-1h0m10 0h0m8 1h0m1-3h0m2 0h0m3 0h0m15 2h0m3 0h0m2-1h0m2 2h0m2-3h0m21 1h0m0 2h0m1-3h0m4 1h0m1 0h0m2-1h0" stroke="#8a20ae" stroke-width="4.0" stroke-linecap="round" fill="none"/><path d="M1 1h0m6 7h0m13-8h0m5 7h0m15-2h0m4-1h0m27 1h0m3-5h0m9 5h0m14-4h0m-79 15h0m16-1h0m4 0h0m2-1h0m0 1h0m0 8h0m25-8h0m21 8h0m5-11h0m-91 18h0m9 0h0m10-5h0m8 7h0m6-7h0m17 10h0m3-4h0m35 0h0m5 2h0m3-3h0m-97 13h0m7-5h0m4 1h0m18 6h0m8-9h0m18 4h0m7 6h0m10-4h0m5 1h0m19 0h0m-80 12h0m6-2h0m11-1h0m2-4h0m9 4h0m8 4h0m3 0h0m10-2h0m1-3h0m4 17h0m2-3h0m21 1h0m-83 12h0m1-4h0m3 4h0m1 5h0m6 0h0m9-4h0m6 3h0m17-4h0m5 4h0m1-10h0m1 4h0m3 4h0m2-3h0m6-4h0m2-1h0m-67 20h0m3-5h0m2-3h0m16 0h0m3 4h0m5-2h0m-33 11h0m19-1h0m54 0h0m23 1h0" stroke="#d6b0f4" stroke-width="4.0" stroke-linecap="round" fill="none"/></g></pattern><pattern id="iTeal" width="48" height="48" patternUnits="userSpaceOnUse"><rect width="48" height="48" fill="#2c4a49"/><g transform="scale(0.5)"><path d="M4 -1h0m11 0h0m4-1h0m5 1h0m2 0h0m9 0h0m3 0h0m4 0h0m5-1h0m6 1h0m5-2h0m7 2h0m4 0h0m2-1h0m1-1h0m13 2h0m0-1h0m2 1h0m2 0h0m-91 10h0m1 2h0m1-9h0m1 7h0m3 1h0m2-2h0m0-7h0m2 5h0m1 2h0m0-7h0m2 0h0m7 10h0m1-6h0m1 2h0m1-6h0m0 10h0m4-4h0m1-5h0m0 7h0m1-3h0m4-6h0m3 7h0m0 3h0m2-8h0m3 6h0m4-4h0m0-4h0m1 9h0m5-9h0m1 5h0m0 4h0m4-5h0m1 2h0m0 5h0m1-11h0m0 4h0m0-4h0m4 10h0m1 0h0m2 0h0m0-10h0m1 6h0m3 2h0m1-4h0m2 6h0m4-10h0m2 1h0m2-1h0m0 10h0m1-6h0m7 6h0m5-8h0m0-1h0m3 8h0m1 2h0m1-9h0m1 7h0m-97 7h0m2 4h0m1 3h0m3-5h0m1-2h0m3-4h0m2 10h0m4-6h0m3-1h0m0 5h0m2 2h0m4-7h0m2-1h0m0 1h0m0 5h0m4-8h0m0 5h0m0 2h0m3-1h0m3 2h0m1-5h0m3-1h0m0 9h0m3-10h0m0 10h0m1-6h0m0 2h0m2-6h0m5 8h0m3-7h0m3 6h0m2-5h0m1 7h0m2-7h0m2 4h0m1-5h0m0 9h0m1 0h0m4-4h0m3 4h0m1-6h0m1 2h0m1-6h0m1 1h0m2 0h0m6-2h0m1 10h0m2-7h0m0 6h0m4-7h0m3 2h0m2 4h0m-100 14h0m1-2h0m2-6h0m1 2h0m4 1h0m1 6h0m2-9h0m0 6h0m1-8h0m0 10h0m2-10h0m6 6h0m2-5h0m0 9h0m1-6h0m1 5h0m1 2h0m3-7h0m2-3h0m3 4h0m1 4h0m1-7h0m1-1h0m3 8h0m0 1h0m1-9h0m2 4h0m1 4h0m4-7h0m4 0h0m3-2h0m0 5h0m1-3h0m3 5h0m2-2h0m5 1h0m1 0h0m2-2h0m1 6h0m4-1h0m3-6h0m0 3h0m4-5h0m0 9h0m2-6h0m0 4h0m0 2h0m1-3h0m5 2h0m5-5h0m2-3h0m1 9h0m1-2h0m2-6h0m1 2h0m-100 18h0m2 0h0m0-5h0m2 2h0m3-4h0m5 2h0m1 4h0m3-9h0m0 5h0m2 3h0m1-4h0m3 5h0m12-3h0m0 3h0m3-2h0m1-7h0m0 11h0m1-1h0m1-5h0m3-3h0m2-2h0m2 8h0m0 2h0m2-8h0m1 7h0m2-8h0m1 1h0m1 5h0m3 4h0m2-11h0m0 7h0m2 4h0m1-9h0m1 1h0m4 8h0m1-5h0m0 2h0m7-7h0m0 5h0m0 2h0m2 2h0m3 0h0m4-3h0m1-5h0m4 7h0m2-5h0m4 1h0m1 5h0m2-5h0m0 5h0m2-3h0m-99 10h0m7 0h0m2 4h0m5-5h0m1 2h0m1-6h0m2 10h0m1-8h0m1 2h0m0 7h0m3-3h0m2-8h0m3 1h0m1 5h0m1 0h0m3 2h0m2 2h0m1-7h0m0 5h0m4-4h0m2 6h0m1-8h0m1 6h0m2 0h0m0 3h0m4-9h0m0 5h0m1 3h0m2-8h0m3 5h0m1-5h0m5 4h0m4-1h0m1 4h0m4-7h0m1 5h0m1-7h0m2 8h0m2-5h0m4 0h0m0 6h0m2-8h0m4 2h0m3-2h0m0 9h0m2-9h0m0 4h0m0 5h0m2-2h0m2-3h0m-95 9h0m2 8h0m1-2h0m2-5h0m3 3h0m3 5h0m2 0h0m1-5h0m10-6h0m0 8h0m1 2h0m6-2h0m1-5h0m2 6h0m5-1h0m1-5h0m5 2h0m0 6h0m3-3h0m3-5h0m2-3h0m0 7h0m3-7h0m0 5h0m0 2h0m2-5h0m4-1h0m0 7h0m2 2h0m1-10h0m1 8h0m3-7h0m4 1h0m0 6h0m1-7h0m2 8h0m1-6h0m2 8h0m2-9h0m0 5h0m3 0h0m2-4h0m6 2h0m4-3h0m2 8h0m-100 6h0m2 2h0m1-2h0m1 7h0m2-9h0m2 0h0m0 5h0m1 3h0m1-4h0m3-2h0m1 7h0m1-3h0m3 3h0m1-9h0m0 4h0m3 0h0m1 5h0m4-8h0m2 7h0m1-3h0m1 4h0m1-9h0m1 6h0m1-8h0m2 11h0m1-10h0m1 5h0m4-4h0m0 8h0m3 1h0m1-9h0m0 7h0m3-5h0m4 0h0m4 5h0m6-3h0m6-3h0m2 7h0m1 0h0m5-10h0m1 8h0m2 1h0m2-6h0m3-3h0m1 7h0m2-1h0m0 1h0m1 3h0m3-9h0m0 4h0m1 2h0m3-3h0m2 2h0m1-2h0m1 7h0m-98 4h0m1 6h0m2-4h0m1 6h0m4-3h0m4-3h0m3 6h0m1-5h0m3 4h0m2-4h0m2-3h0m1 8h0m1-3h0m1 3h0m7-7h0m1 2h0m1 5h0m0-8h0m3 8h0m3-5h0m1 5h0m1-8h0m1 3h0m2-3h0m1 7h0m3-8h0m0 4h0m2-3h0m1 8h0m1-10h0m1 5h0m3 3h0m1-6h0m1-1h0m3 3h0m2 6h0m3-11h0m1 11h0m2-6h0m0 5h0m1-1h0m2-5h0m2-3h0m2 7h0m3-6h0m1-1h0m0 7h0m3 3h0m0-1h0m2 1h0m2 0h0m0-10h0m0 6h0m4-2h0m3-2h0m1 6h0m-97 5h0m6-1h0m3 0h0m2 0h0m10 0h0m5 1h0m5-2h0m5 2h0m7-2h0m6 0h0m7 0h0m0 0h0m7 0h0m11 0h0m2 1h0m2-1h0m13 2h0m0-1h0m5 1h0" stroke="#0e7a76" stroke-width="3.8" stroke-linecap="round" fill="none"/><path d="M66 -3h0m-65 9h0m14-5h0m58 4h0m24 1h0m-47 13h0m20-2h0m-19 16h0m-42 9h0m22-6h0m23 4h0m8 2h0m-57 6h0m13 11h0m9-7h0m23-3h0m-40 18h0m14-3h0m3-1h0m63 4h0m-18 8h0m-74 15h0m63 1h0m5 2h0m28-3h0m-79 7h0" stroke="#f5b8b2" stroke-width="3.8" stroke-linecap="round" fill="none"/></g></pattern><pattern id="iRed" width="48" height="48" patternUnits="userSpaceOnUse"><rect width="48" height="48" fill="#5a4044"/><g transform="scale(0.5)"><path d="M-2 -2h0m4 1h0m5-2h0m16 2h0m11-1h0m13 1h0m13-2h0m15 2h0m6-1h0m4 0h0m1 0h0m2 0h0m6 0h0m4 1h0m-100 4h0m3-1h0m0 4h0m8-4h0m3-1h0m1 10h0m2-7h0m0 4h0m4-1h0m1-7h0m2 10h0m4-5h0m2-5h0m1 4h0m0 5h0m4 0h0m0-9h0m1 0h0m1 3h0m1 5h0m5-7h0m1 3h0m1-4h0m1 0h0m4 5h0m4 3h0m4-5h0m1-1h0m2 6h0m3-6h0m1 7h0m4-1h0m1-8h0m2 1h0m3 9h0m2 0h0m4-1h0m3-3h0m6 1h0m1-5h0m2 8h0m1 1h0m2-8h0m3-1h0m0 4h0m-98 12h0m7-3h0m2-2h0m0 6h0m2-2h0m5-5h0m0 5h0m3 2h0m5 0h0m1-2h0m2 3h0m2-7h0m1 2h0m8 5h0m1-8h0m6 3h0m2-1h0m4 4h0m1-5h0m1 6h0m2-2h0m6-2h0m0 4h0m3-7h0m2 9h0m5-7h0m1 3h0m0 5h0m4-5h0m5-4h0m0 4h0m1 5h0m3-6h0m1-1h0m4 5h0m6-2h0m-90 8h0m1 9h0m7-7h0m0 7h0m8-11h0m2 1h0m0 6h0m5-7h0m4 6h0m1-5h0m2 7h0m2-6h0m0 5h0m6 0h0m1-7h0m2 2h0m1 3h0m0 3h0m4-4h0m3 5h0m2-3h0m0 5h0m5-6h0m3 0h0m2-3h0m5 6h0m2-8h0m2 9h0m2-6h0m2 3h0m1 2h0m1-6h0m2 5h0m7 3h0m2-8h0m0 4h0m-95 14h0m2-6h0m2 0h0m2 4h0m0 3h0m3 2h0m5-1h0m4-3h0m1-4h0m2 4h0m5-7h0m2 0h0m6 5h0m2 5h0m2-7h0m2 6h0m3-8h0m1 8h0m3-5h0m2-1h0m2-2h0m0 6h0m2 4h0m5-2h0m1-9h0m0 8h0m3-7h0m7 10h0m3 0h0m2-8h0m1 6h0m1-5h0m2-1h0m2 3h0m4 4h0m5-4h0m4 4h0m1-6h0m2 4h0m2-6h0m2 0h0m2 7h0m-100 4h0m1 7h0m5 1h0m1-3h0m3-4h0m0 9h0m3-4h0m1 4h0m6-1h0m2-5h0m4-1h0m5-2h0m4-2h0m3 5h0m2 6h0m1-10h0m4 8h0m7 0h0m1-2h0m2-5h0m2 5h0m5-2h0m9-1h0m3 6h0m1-3h0m5 4h0m2-1h0m2-5h0m2-2h0m5 0h0m5-2h0m1 7h0m-99 8h0m1 7h0m1-3h0m1 3h0m5-3h0m1-7h0m3 6h0m1-6h0m0 9h0m5-4h0m3 5h0m8-2h0m2-6h0m2 3h0m1 3h0m3-5h0m6-3h0m2 4h0m5-2h0m0 3h0m4-1h0m5-5h0m4 9h0m4-9h0m2 1h0m0 6h0m2 4h0m7-7h0m2-3h0m7 9h0m1-7h0m3 0h0m5 1h0m1 7h0m1-3h0m1 3h0m-97 9h0m3-1h0m0 3h0m4 1h0m1-10h0m2 0h0m2 7h0m5-3h0m0 2h0m7 0h0m5 2h0m2-1h0m1 3h0m1-8h0m3 2h0m3 6h0m3-4h0m2-6h0m0 10h0m8-11h0m3 1h0m0 8h0m5-7h0m2 3h0m0 5h0m3-9h0m4 5h0m1-5h0m10-1h0m2 7h0m1 0h0m2-5h0m5 5h0m6 1h0m3-1h0m0 3h0m-100 12h0m4-2h0m0 3h0m1-4h0m4 2h0m1-7h0m3 2h0m8-3h0m4 10h0m5-9h0m2 0h0m2 7h0m1-9h0m1 10h0m4-8h0m9 9h0m1-10h0m8 2h0m2-3h0m2 9h0m8-7h0m5 7h0m1-8h0m1 10h0m2-6h0m1 2h0m2-2h0m1 5h0m4 0h0m1 0h0m2 0h0m2-9h0m0 8h0m2-4h0m2 5h0m4-2h0m0 3h0m-100 4h0m3-1h0m8 0h0m3-1h0m8-1h0m8 0h0m5 0h0m1 0h0m1 3h0m6-2h0m2-1h0m1 0h0m12 3h0m1-1h0m5 0h0m6-2h0m2 1h0m19 1h0m5 1h0m3-1h0" stroke="#dc1c48" stroke-width="3.8" stroke-linecap="round" fill="none"/><path d="M6 -1h0m1 7h0m4 3h0m33-7h0m7 3h0m9-2h0m-60 10h0m42 9h0m9 1h0m8-8h0m1-1h0m36-1h0m-91 16h0m8-3h0m51 9h0m-51 3h0m5 9h0m22-6h0m40-3h0m-46 18h0m57-4h0m-60 8h0m2 8h0m13 2h0m3-9h0m8 4h0m8 6h0m10-3h0m1 1h0m9-2h0m-79 10h0m11-3h0m30 3h0m9-5h0m11 5h0m10-4h0m3 1h0m10 1h0m-90 12h0m6 8h0m11-9h0m11 5h0m31-6h0m4 3h0m2 2h0m11-6h0m20 3h0m-52 11h0" stroke="#f5b8b2" stroke-width="3.8" stroke-linecap="round" fill="none"/></g></pattern><pattern id="iPink" width="48" height="48" patternUnits="userSpaceOnUse"><rect width="48" height="48" fill="#6a5a5a"/><g transform="scale(0.5)"><path d="M72 -1h0m-51 7h0m46 1h0m-27 16h0m36-11h0m15 8h0m-83 27h0m-7 8h0m90-5h0m6 5h0m-84 15h0m7-3h0m36 0h0m4 3h0m-37 10h0m4 0h0m15 6h0m30 9h0" stroke="#dc1c48" stroke-width="4.0" stroke-linecap="round" fill="none"/><path d="M-2 -2h0m1 0h0m4 1h0m5-1h0m5 1h0m2-2h0m0 0h0m6 2h0m4 0h0m4 0h0m7 0h0m10 0h0m0-2h0m5 2h0m13-1h0m2 1h0m3 0h0m4 0h0m12-1h0m4 1h0m4-2h0m1 1h0m1 0h0m4 1h0m-101 5h0m1-2h0m0 5h0m3-3h0m2-3h0m2 5h0m2-3h0m0 7h0m1-2h0m0 2h0m2-7h0m4 1h0m1-4h0m1 11h0m2-11h0m1 5h0m1 6h0m4 0h0m1-11h0m4 11h0m2-5h0m1-4h0m0-2h0m1 0h0m2 2h0m3 9h0m1-1h0m1-7h0m4 3h0m1-4h0m1 9h0m2-4h0m0 3h0m2-7h0m1 6h0m2-4h0m0-4h0m3 10h0m0-11h0m1 9h0m1 2h0m1-7h0m2 4h0m0 2h0m0-10h0m2 3h0m3 0h0m1-3h0m1 11h0m3-8h0m2 3h0m3 0h0m2-5h0m3 2h0m0 7h0m1-4h0m2-1h0m1-5h0m3 9h0m0 1h0m1-9h0m4 3h0m1-2h0m0 5h0m3-3h0m-100 14h0m0 5h0m2-11h0m6 10h0m2-1h0m1-7h0m7 7h0m1 2h0m2-6h0m2 5h0m1-7h0m3 8h0m2-3h0m1-4h0m4-1h0m1 2h0m3 5h0m1-6h0m2-2h0m1 7h0m6-8h0m0 6h0m1-6h0m1 9h0m3-1h0m0 2h0m3-7h0m1-3h0m0 5h0m4 0h0m1-2h0m5 0h0m0 5h0m2-4h0m3 5h0m1-9h0m1 3h0m2 4h0m1-3h0m1 6h0m3-5h0m3-4h0m2 6h0m4 2h0m4-7h0m0 7h0m2-4h0m0 5h0m2-11h0m-97 15h0m0 6h0m2-3h0m2-5h0m2 2h0m1 2h0m2 4h0m1 0h0m1-6h0m3 2h0m2-1h0m4 2h0m2-4h0m1 8h0m1-9h0m3 5h0m2-4h0m1 5h0m3-7h0m2 4h0m0 6h0m4-7h0m2 5h0m1 1h0m1-9h0m0 2h0m6 4h0m3 4h0m1-9h0m0 6h0m2-4h0m0 6h0m3-2h0m2 3h0m4-3h0m2-5h0m1 4h0m2-6h0m2 11h0m1-4h0m1-5h0m4 4h0m1-5h0m0 10h0m3-7h0m2 5h0m1-9h0m1 2h0m0 9h0m1-4h0m2 0h0m4-1h0m0 4h0m4-7h0m0 6h0m2-3h0m-99 10h0m0 4h0m2-7h0m4-1h0m0 8h0m2-8h0m1 7h0m1-4h0m3-2h0m4 7h0m1-8h0m1 8h0m1-6h0m3 7h0m1-5h0m0 2h0m2-3h0m0 2h0m1-5h0m2 6h0m3-5h0m0 8h0m3-8h0m2 8h0m3-2h0m1 3h0m2-6h0m1 2h0m2 4h0m2-10h0m0 2h0m2 7h0m2-2h0m2-5h0m1 9h0m2-5h0m2-2h0m2 1h0m2 4h0m3-3h0m1-2h0m2 7h0m1-5h0m1 3h0m3-8h0m1 9h0m3-7h0m0 1h0m3-3h0m1 5h0m3-6h0m1 11h0m4-1h0m1-9h0m1 6h0m4-3h0m0 4h0m2-7h0m-96 16h0m0 5h0m2-8h0m1 3h0m3 5h0m2-9h0m1 5h0m3 2h0m1-3h0m2-4h0m0 9h0m3-3h0m1 3h0m7-2h0m1 1h0m1-5h0m1-3h0m1 3h0m3 5h0m2-2h0m3 4h0m4-11h0m0 7h0m3-6h0m2 6h0m0 2h0m3-7h0m0 6h0m2-2h0m1 1h0m0 4h0m3-11h0m1 11h0m2-7h0m0 5h0m2-7h0m2 9h0m3-8h0m1 3h0m2 2h0m2-1h0m2-7h0m1 5h0m1 6h0m4-10h0m2-1h0m0 9h0m4 2h0m1-10h0m1 6h0m2 2h0m7-4h0m0 5h0m2-8h0m-100 16h0m2-5h0m1 9h0m1-8h0m1 4h0m2 3h0m3 1h0m2-4h0m0 5h0m5-5h0m1-6h0m2 8h0m3-3h0m1-3h0m1 3h0m2 5h0m1-8h0m1 2h0m5-2h0m0 5h0m2-5h0m0 3h0m2 1h0m2 5h0m2-9h0m0 4h0m4 3h0m1-8h0m2-1h0m0 10h0m1-6h0m0 6h0m3 1h0m1-8h0m2 2h0m6-2h0m2 2h0m3-2h0m2 3h0m4-1h0m1-4h0m2 8h0m1-4h0m3-5h0m1 10h0m1-4h0m4-5h0m0 8h0m1-4h0m2-4h0m1 9h0m3-7h0m1-1h0m0 7h0m2-3h0m2-5h0m1 9h0m1-8h0m-101 16h0m1 4h0m2-10h0m1 3h0m1 6h0m1-8h0m3 2h0m1-2h0m0 9h0m2-7h0m1 4h0m4-2h0m0 2h0m1-7h0m1 3h0m0 7h0m3-9h0m1 3h0m0 4h0m5-6h0m1 9h0m4-8h0m4 5h0m1 3h0m2-6h0m1-2h0m0 5h0m2 3h0m2-5h0m2 2h0m2-4h0m2-2h0m4 6h0m3 3h0m1-2h0m1-5h0m3-1h0m1 6h0m3-3h0m3-2h0m2-2h0m1 3h0m3-3h0m0 7h0m5-9h0m0 5h0m0 4h0m3-9h0m1 8h0m1-5h0m2-2h0m1 5h0m2-6h0m0 3h0m1 5h0m4-2h0m1 4h0m2-10h0m1 3h0m1 6h0m-100 13h0m1 0h0m2-9h0m0 2h0m0 3h0m2 1h0m0 4h0m2-11h0m2 4h0m0 4h0m1 2h0m1-10h0m1 3h0m3 8h0m1-9h0m1 7h0m0 0h0m6 2h0m0-9h0m0 2h0m1 4h0m1-3h0m2 6h0m4 0h0m1-7h0m0 3h0m6-3h0m0 7h0m1-4h0m2 0h0m5-6h0m0 7h0m1-6h0m1 9h0m0-2h0m3-1h0m1-4h0m1 7h0m2-9h0m5 6h0m2-3h0m1-4h0m2 6h0m1 3h0m1-3h0m1 4h0m0-10h0m3 10h0m1-11h0m1 7h0m2 4h0m0-11h0m1 4h0m1 3h0m3-2h0m2-4h0m5 9h0m0-10h0m1 0h0m1 7h0m2 4h0m2-8h0m2 1h0m0 5h0m1 1h0m1 0h0m2-9h0m0 2h0m0 3h0m2 5h0m-100 3h0m5-1h0m7 2h0m5-3h0m3 0h0m7 0h0m7 2h0m0-2h0m1 0h0m2 2h0m10 0h0m8-1h0m3-1h0m5 0h0m2 3h0m3 0h0m1-3h0m4 3h0m7-2h0m7-1h0m4 1h0m5 1h0" stroke="#f5b8b2" stroke-width="4.0" stroke-linecap="round" fill="none"/></g></pattern><pattern id="iBlue" width="48" height="48" patternUnits="userSpaceOnUse"><rect width="48" height="48" fill="#3a4070"/><g transform="scale(0.5)"><path d="M1 -1h0m5-1h0m5 0h0m4 0h0m5 1h0m22-1h0m11 0h0m1-1h0m9 1h0m0 1h0m6-1h0m5 0h0m6 1h0m2 0h0m10-2h0m5 2h0m-99 10h0m0 1h0m2-10h0m0 5h0m4 0h0m1-4h0m1 2h0m0 4h0m1 3h0m3-8h0m0 7h0m1-5h0m3 7h0m2-11h0m3 9h0m2-5h0m0 3h0m2 4h0m0-11h0m2 3h0m4-1h0m0 4h0m0-5h0m2 2h0m2-2h0m0 9h0m1-9h0m0 7h0m3 3h0m2-10h0m0 3h0m1 4h0m2-4h0m0 6h0m1-9h0m0 6h0m1-7h0m3 3h0m1 5h0m2-6h0m1 0h0m0-2h0m2 8h0m5-8h0m0 5h0m1 6h0m2-11h0m1 10h0m2-5h0m1 4h0m4-5h0m1-3h0m2 10h0m1-10h0m1 3h0m2 4h0m1-4h0m0-4h0m1 2h0m4 1h0m3 7h0m1-7h0m1 6h0m1-9h0m3 4h0m0 2h0m2-5h0m1 8h0m0 1h0m2-5h0m0-5h0m-96 17h0m1-4h0m0 5h0m3-3h0m2 5h0m0 3h0m2-6h0m1 4h0m3-2h0m1 3h0m2-7h0m0 6h0m3 0h0m1-9h0m0 2h0m1 6h0m6-1h0m1-3h0m1-3h0m1 6h0m2 2h0m3-1h0m1 3h0m2-6h0m0 3h0m3 2h0m1-4h0m2-4h0m3-2h0m1 4h0m0 2h0m2 5h0m1-10h0m2 4h0m1 6h0m1-10h0m1 1h0m2 4h0m0 5h0m1-9h0m5 0h0m0 7h0m2-2h0m1-3h0m0 5h0m2-2h0m2-6h0m2 3h0m3 5h0m0 2h0m1-5h0m2-5h0m0 3h0m2-3h0m0 10h0m2-7h0m1 2h0m1 2h0m3-7h0m2 0h0m0 4h0m3 5h0m4-5h0m1-4h0m0 5h0m-99 7h0m1-1h0m0 9h0m2-1h0m2-5h0m2 2h0m1-4h0m3 8h0m5-4h0m1 5h0m1-7h0m2 1h0m1 1h0m2-5h0m0 8h0m2-5h0m1 4h0m2-7h0m0 8h0m3-6h0m3 1h0m0 2h0m2 3h0m4-4h0m0 7h0m3-9h0m0 6h0m0 3h0m1-4h0m1-7h0m2 8h0m2-7h0m1 6h0m1-3h0m4 6h0m1-6h0m2 2h0m4 5h0m1-8h0m0 5h0m4-2h0m1-4h0m3-1h0m0 7h0m1-2h0m3 3h0m2-2h0m1-6h0m1 8h0m2-2h0m3-3h0m2 2h0m1 3h0m1-8h0m1 7h0m4 3h0m1-5h0m2-5h0m1-1h0m0 9h0m2-1h0m2-5h0m-102 19h0m1-8h0m1 5h0m1 3h0m2-10h0m0 7h0m1 2h0m1-5h0m2 3h0m2-7h0m0 1h0m1 4h0m1 6h0m3 0h0m3-2h0m1-4h0m2-5h0m2 3h0m0 4h0m1 4h0m1-11h0m1 7h0m3-7h0m0 2h0m1 3h0m0 4h0m1 2h0m3-10h0m1-1h0m1 1h0m0 5h0m2-1h0m0 6h0m2-10h0m0 10h0m4-6h0m3-3h0m0 3h0m5-4h0m2 3h0m2 6h0m1 1h0m2-8h0m4 2h0m0 4h0m1-6h0m0 4h0m2-4h0m3 5h0m2-8h0m0 7h0m2 2h0m2-2h0m1 4h0m2-4h0m2-4h0m1 8h0m1-6h0m3-5h0m1 1h0m1 4h0m0 6h0m3-7h0m2-3h0m3 9h0m1-8h0m1 5h0m1 3h0m2-10h0m0 7h0m-100 8h0m1 3h0m1 3h0m2-8h0m1 6h0m2-6h0m1 4h0m2 2h0m5-5h0m0 5h0m2 3h0m1-5h0m1-2h0m3 7h0m2-5h0m1-2h0m0 4h0m2-2h0m3 4h0m2-6h0m0 1h0m3-4h0m0 6h0m0 1h0m3 1h0m3-6h0m3-2h0m1 4h0m2-4h0m2 10h0m1-7h0m1 5h0m3-6h0m0 2h0m3-1h0m1 1h0m0 5h0m2-1h0m3-8h0m0 4h0m1 4h0m3-7h0m0 6h0m2 1h0m2-6h0m2-2h0m0 11h0m1-1h0m2-5h0m4 4h0m1-9h0m0 11h0m1-6h0m1 4h0m1-7h0m4 5h0m0 2h0m2-8h0m2 9h0m4-7h0m1 3h0m1 3h0m2-8h0m-101 18h0m3-3h0m2 0h0m0 3h0m4-5h0m2-1h0m0 5h0m4 4h0m2-8h0m2 8h0m3-8h0m1 2h0m1 5h0m1-9h0m1 5h0m4-3h0m1 4h0m0 1h0m2 2h0m2-8h0m0 6h0m2-7h0m0 9h0m6-9h0m0 9h0m2-3h0m2-4h0m1 3h0m1 5h0m2-9h0m2 4h0m0 4h0m1-2h0m2-5h0m3 3h0m3-4h0m0 4h0m0 2h0m2 2h0m0 2h0m1-9h0m3-1h0m0 5h0m3 3h0m1-6h0m4-3h0m0 6h0m4-1h0m0 2h0m1 0h0m3 4h0m1-11h0m0 3h0m0 7h0m3-6h0m4-4h0m0 8h0m3-6h0m0 4h0m1 1h0m3-3h0m2 0h0m0 3h0m-99 11h0m1 4h0m3-4h0m1-5h0m1 6h0m1-6h0m4 3h0m0 5h0m2-8h0m1 4h0m3-3h0m0 6h0m1 3h0m1-5h0m1 2h0m1-6h0m1 1h0m3-1h0m1 3h0m0 3h0m4-7h0m1 6h0m1-1h0m1-4h0m0 7h0m5-9h0m1 8h0m2-1h0m1-5h0m0 9h0m1-9h0m2 2h0m2 4h0m3-3h0m2-1h0m1 3h0m1-1h0m2-5h0m1 4h0m0 5h0m4-3h0m1-1h0m4 1h0m0 3h0m2-9h0m0 2h0m0 4h0m2-2h0m3 5h0m1-10h0m0 11h0m1-5h0m2 0h0m2-1h0m0 3h0m3 2h0m1-1h0m2-4h0m1 5h0m2-7h0m1-2h0m0 10h0m1-9h0m4 2h0m2 2h0m1 4h0m-99 9h0m2-4h0m0 6h0m2 2h0m0-11h0m2 4h0m1 3h0m2-6h0m0 9h0m1-7h0m2-3h0m1 9h0m1 1h0m1-8h0m2 4h0m1 4h0m1-6h0m0 3h0m4-4h0m0 3h0m0 5h0m1-10h0m2 2h0m2-2h0m2 6h0m2 0h0m1-3h0m1-3h0m1 4h0m4-2h0m0 6h0m4-2h0m2-4h0m0 7h0m1-9h0m2 7h0m2-2h0m1-1h0m1-2h0m4-3h0m0 10h0m1-1h0m2-3h0m2-1h0m3 2h0m2 3h0m0-8h0m0 9h0m6-1h0m1-7h0m2 4h0m1-2h0m1 5h0m1-1h0m1-6h0m4 4h0m0 4h0m2 0h0m1-6h0m0 4h0m1-4h0m5 1h0m3-6h0m0 5h0m0 4h0m1-2h0m2-4h0m0 6h0m2 2h0m0-11h0m2 4h0m-99 8h0m5 1h0m1 2h0m4-1h0m6-2h0m7 0h0m2 3h0m4-1h0m0-1h0m2 2h0m2-2h0m1 0h0m5 0h0m4 0h0m1-1h0m6 2h0m1 0h0m0-2h0m7 0h0m3 0h0m9 1h0m3 0h0m4-1h0m1 2h0m10-2h0m5 1h0m3-1h0" stroke="#4363d8" stroke-width="4.0" stroke-linecap="round" fill="none"/></g></pattern><pattern id="iLime" width="48" height="48" patternUnits="userSpaceOnUse"><rect width="48" height="48" fill="#6a6a5a"/><g transform="scale(0.5)"><path d="M2 -1h0m1 0h0m7-1h0m7 1h0m3-1h0m5 1h0m16-1h0m3 0h0m0 0h0m27 1h0m0 0h0m10-1h0m5 1h0m4-1h0m2 0h0m6 1h0m-101 12h0m1-8h0m1 4h0m5-2h0m2-5h0m1 3h0m3 4h0m0-5h0m2 2h0m3-3h0m2 3h0m2-2h0m0 5h0m3-5h0m3 3h0m2 4h0m0-8h0m2 0h0m4 4h0m0 3h0m2-7h0m2 0h0m0 4h0m4 0h0m0 1h0m1-4h0m5 0h0m1 8h0m1-4h0m2-5h0m2 5h0m3 4h0m6-6h0m0 4h0m2 2h0m0-9h0m2 2h0m0 7h0m4-6h0m2 2h0m1-3h0m0 7h0m0-10h0m5 0h0m0 7h0m2 0h0m3 4h0m2-6h0m2 5h0m2-6h0m2-3h0m2 10h0m1-8h0m1 4h0m-96 16h0m2-1h0m2-7h0m5 5h0m5 0h0m2-6h0m4 2h0m7 0h0m0 5h0m1-7h0m2 4h0m1 5h0m1-9h0m1 1h0m3 6h0m5-4h0m7-3h0m1 2h0m1 5h0m1-9h0m2 5h0m2 4h0m3-7h0m0 3h0m1 4h0m3-4h0m2 5h0m4-6h0m3-1h0m4 5h0m4-6h0m4 1h0m4 5h0m1-4h0m8 7h0m2-1h0m2-7h0m-98 20h0m3-7h0m2-2h0m0 9h0m1-6h0m3 4h0m2-2h0m4-7h0m7 6h0m9-4h0m1 4h0m0 5h0m4-5h0m2 2h0m1-8h0m1 5h0m0 5h0m2-7h0m1 2h0m2 5h0m3-7h0m5 2h0m1 6h0m0-2h0m2-8h0m5 0h0m2 8h0m3-4h0m4-4h0m1 7h0m5-8h0m1 11h0m1-5h0m2 4h0m7-9h0m0 3h0m0 3h0m4 2h0m1 2h0m4 0h0m-96 4h0m1 5h0m1-5h0m1 3h0m8 2h0m4-5h0m0 8h0m5-1h0m2-7h0m4-1h0m1 8h0m4-7h0m1 6h0m1-7h0m2 1h0m3-1h0m3 6h0m3-6h0m0 3h0m3 0h0m1-5h0m3 10h0m1-4h0m2 4h0m6-10h0m1 5h0m3-2h0m0 8h0m3-9h0m0 2h0m7 3h0m1-4h0m0 6h0m1-8h0m6 10h0m7-11h0m0 5h0m7-2h0m1 5h0m1-5h0m-101 13h0m0 5h0m5-6h0m1 8h0m4-1h0m3-3h0m7-4h0m0 1h0m5 4h0m1-8h0m4 9h0m3-7h0m4 4h0m3-3h0m4 2h0m3-5h0m0 1h0m0 6h0m2-4h0m3 5h0m9-4h0m0 5h0m3 0h0m2-9h0m3 4h0m2 6h0m4-10h0m1 8h0m1 1h0m3-8h0m2-1h0m2 9h0m4-3h0m2-5h0m2 6h0m0 4h0m1-8h0m1 4h0m2-3h0m0 5h0m5-6h0m-100 20h0m1-4h0m2-6h0m1 5h0m1 5h0m3-10h0m3 4h0m4-2h0m7 1h0m6-2h0m2 4h0m1-3h0m2 4h0m1 4h0m3-9h0m7-2h0m0 3h0m1 3h0m3-2h0m2 5h0m2-5h0m1 3h0m5-1h0m4-2h0m4-2h0m1 9h0m3-8h0m3-3h0m1 2h0m0 5h0m4 4h0m3-10h0m3 2h0m4 1h0m0 3h0m5 1h0m3 3h0m1-4h0m2-6h0m-98 13h0m4 7h0m1-6h0m3 8h0m4-6h0m0 2h0m3-5h0m1-2h0m2 5h0m2-4h0m4 10h0m2-3h0m3-3h0m4 4h0m5-7h0m0 6h0m4-1h0m2-6h0m0 0h0m0 9h0m3-5h0m5 3h0m0 3h0m1-11h0m1 7h0m5-6h0m2 4h0m5 3h0m4-7h0m2 1h0m7-1h0m5 0h0m0 8h0m5-5h0m1 1h0m2 5h0m4-8h0m-99 15h0m2 3h0m3 3h0m1 0h0m1-9h0m6 8h0m0-2h0m3-8h0m4 3h0m0 8h0m2-5h0m1 4h0m2-4h0m3 5h0m3-4h0m2-7h0m0 4h0m3 2h0m5-2h0m1 2h0m2 4h0m3 0h0m0 0h0m1-6h0m2 2h0m2-1h0m4 0h0m3-4h0m0 5h0m2-4h0m2 5h0m7-7h0m2 8h0m2 3h0m0 0h0m3-5h0m2 0h0m2-5h0m2 7h0m1 2h0m0-9h0m2 1h0m2 6h0m1 3h0m1-8h0m1-3h0m2 10h0m2 0h0m1-5h0m2 3h0m3 3h0m-92 1h0m1 3h0m3-1h0m5-1h0m4 1h0m3 0h0m5-1h0m2 0h0m6 0h0m2 0h0m5 1h0m5 0h0m4-1h0m13 0h0m9-1h0m5 0h0m13 1h0" stroke="#b6e32c" stroke-width="4.0" stroke-linecap="round" fill="none"/><path d="M6 -2h0m7 10h0m22-6h0m6 9h0m11-9h0m0 6h0m7-7h0m7 0h0m13 0h0m11 7h0m-89 7h0m10-3h0m27 2h0m1 9h0m4-4h0m33 0h0m1 1h0m3 3h0m17-8h0m-79 12h0m6 8h0m5-4h0m25-5h0m-45 19h0m14-2h0m15 0h0m18-6h0m3 5h0m9 4h0m-67 9h0m25-1h0m9-6h0m16 1h0m3 4h0m1 4h0m17-4h0m25 2h0m-77 5h0m1 2h0m5 5h0m1 4h0m7-1h0m9-1h0m16-7h0m14 7h0m-61 4h0m4 4h0m9-3h0m25 8h0m30-1h0m13 0h0m-87 13h0m33-10h0m39 3h0m-43 11h0m17 0h0m7-1h0m7 0h0m13 0h0" stroke="#d6b0f4" stroke-width="4.0" stroke-linecap="round" fill="none"/></g></pattern><pattern id="iLight" width="40" height="40" patternUnits="userSpaceOnUse"><rect width="40" height="40" fill="#fff"/><path d="M29.4 0l-1.1 2.2M17.5 11.4l-1.9 3.8M22.1 15.8l2.6 3.7M16.9 33.7l-2.6 3.8M19.1 22.3l1.7-3.2M28.1 19.7l4-0.8M6 12.3l-0.4 3.7M15.3 28.8l3.1-4M38.9 7.8l-0.3 1.7M17.6 32.4l2.8 1.9M22.9 22.6l1.8-3.1M28.5 25l-0.4-5.3M14 23.6l3.5-0.9M32.4 23.8l-3.9 1.2M3.2 32l3.7 2.6M1.9 10l-1.9 1.6M3.9 37.5l-0.8-2M22.9 22.6l-3.8-0.3M11.9 6.5l1.9-0.9M40.6 5.2l-3.3-0.5M29.6 5.2l-1.8 2.7M33.4 10.5l2.6 0.6M17.6 32.4l2.3-5M15.6 32.5l-4 1.1M13.8 5.6l2.9-0.4M-0.2 39.9l4.1-2.4M40.6 5.2l-1.5-1.4M34.2 33.7l2.3 2.6M8.1 17.9l-2.5 2.4M11.6 33.6l-2 0.3M0.9 13.9l1.6-1M-0.1 16.6l4.5 1.4M13.5 22.3l0.5 1.3M38.8-0l2.1 1.6M23.2 8.8l-2 0M15.2 11l0.2-0.1M0.5 21.3l3.8 4.6M8.1 17.9l0.3-1.8M19.9 27.4l-1.5-2.6M0.9 13.9l3.5 4.1M38.8 40l-0.8-2.3M9.4 38.8l2.8-0.4M29.1 2.1l4.6 0.9M36.5 36.3l0.2-1.7M36.7 27.6l0.3 4.9M22.1 15.8l-1.3 3.3M14 23.6l-0.5-1.3M35.7 26.7l-5.4 2.1M4.5 4.1l1.3 0.6M24.4 35.9l4.3 2.2M32.1 18.9l4.5-0.1M21.4 26.1l1.5-3.5M5.6 16l2.5 1.9M5.8 4.7l-1.1 5.4M27.4 13.7l1.8-4.7M11.9 6.5l-2.9 4M9.6 18.4l-1.2-2.3M40.2 26l-4.2 0.1M32.1 18.9l2.9 3.1M19.9 27.4l-2.3 5M27.4 13.7l1.1 3.2M27.9 27.9l-5.3 1.3M15.3 28.8l-1.3-5.2M29.1 2.1l4.3-1.9M2.5 12.9l-2.5-1.3M21.4 26.1l-3-1.3M1.3 3.4l2.2 3.5M24.7 19.5l-3.9-0.4M16.9 33.7l3.5 0.6M17.6 0l2 2M-0.2-0.1l1.1 1.7M7.6 29.7l1.7 1.3M13.8 5.6l-2.1 3.2M11.4 27.8l-0.8 0.4M5.8 4.7l4.4-2.8M1.3 3.4l-2.2 0.4M28.5 25l-0.6 2.9M35 22l1.6-3.2M40.7 19.7l-1.9 0.6M0.2 26l4.1-0.1M22.9 22.6l-2.1-3.5M35.2 16.2l1.4 2.6M27.4 13.7l-3-1.7M28.7 38.1l-4.7 2.8M19.1 22.3l-0.8-3.3M28.5 25l3.3-2.6M7.6 29.7l3-1.5M13.5 22.3l4 0.4M5.6 16l-4.7-2.1M11.4 27.8l-2.1 3.2M40.5 7.8l-1.9 1.7M31.2 14.2l-2-5.2M38.7 21.7l1.8-0.4M9 10.5l-3 1.8M31 6.6l-1.8 2.4M35 22l3.5 1.4M23.2 35.8l-3.1 2.6M23.2 11.3l-2-2.5M38.7 21.7l-3.7 0.3M17.5 11.4l3.6 2.9M3.2 32l-2.8-4.1M11.4 27.8l0.2 5.8M23.2 8.8l1.2 3.2M36.7 27.6l3.7 0.3M8.4 16.1l3.7-1.7M11.4 27.8l-1.9-1.6M23.2 35.8l-2.8-1.5M12.1 14.4l3.1-3.4M19.9 27.4l1.5-1.3M38.6 30.3l2.5 2.8M3.2 32l-1.8-5.3M35 22l-3.2 0.4M19.6 2l0.5-3.6M3.9 37.5l3-2.9M24 0.9l0 1.3M1.9 10l-1.4-2.2M38.5 37.1l-1.8-2.5M17.5 22.7l1.6-0.4M14.4 18l-4.8 0.4M3.2 32l-2.1 1.1M15.9 0.4l-3.4 2M7.6 29.7l1.9-3.5M36.6 15.5l-1.4 0.7M36.7 27.6l3.5-1.6M8.4 16.1l3.3-2.4M28.7 38.1l3.5-1.1M9.5 26.2l-1.9 3.5M13.5 22.3l-5.6 0.5M17.5 11.4l-2.1-0.5M0.3 14.3l-0.3-2.7M22.1 15.8l-3.8 3.2M6.9 26.6l-2.6-0.7M37 32.5l4.1 0.6M19.1 22.3l-1.6 0.4M14 23.6l1.3 5.2M28.7 38.1l0.7 1.9M21.1 14.3l3.3-2.3M5.6 16l-3.1-3.1M29.4 0l4 0.2M24 2.2l1.1 2.8M18.3 19l0.8 3.3M38.8 20.3l-0.1 1.4M3.9 37.5l0 1M7.9 22.8l0.2-4.9M21.1 14.3l2.1-3M38 37.7l0.8 2.3M32.1 18.9l-0.9-4.7M16.7 5.2l2.9-3.2M9.3 31l2.1-3.2M29.4 40l-0.7-1.9M36.5 36.3l1.5 1.4M14.3 37.5l1.3-5M9.6 18.4l2.5-4M38.7 21.7l-0.2 1.7M13.5 22.3l-4 3.9M5.6 16l-1.2 2M31.2 14.2l0.9 4.7M17.7 37.1l2.4 1.3M6.1 1.4l-5.2 0.2M0.7 19.7l-0.8-3.1M9.5 26.2l4.5-2.6M37.3 4.7l3.3 0.5M33.4 10.5l-0.6 0.9M14.3 37.5l1.6 2.9M-1.5 37.1l5.4 0.4M1.6 20.4l2.7 5.5M16.9 33.7l0.8 3.4M0.7 19.7l3.7-1.7M24.4 35.9l-0.4 5M2.5 12.9l-0.6-2.9M21.1 14.3l-5.5 0.9M28.1 19.7l-3.4-0.2M25.1 5l-5 2.3M21.2 8.8l-1.1-1.5M40 11.6l-3.4 3.9M12.5 2.4l3.4-2M9.5 26.2l1.9 1.6M8.4 16.1l-2.4-3.8M17.7 37.1l2.7-2.8M9 10.5l-4.3-0.4M6.9 26.6l0.7 3.1M38.8 20.3l1.1-3.7M41.1 33.1l-4.4 1.5M17.6 40l2.5-1.6M22.1 15.8l6.4 1.1M19.6 2l4.4 0.2M5.6 16l0.4-3.7M38 37.7l-0.4 1.3M3.2 32l4.4-2.3M25.9 34.3l-2.7 1.5M24.7 19.5l-2.6-3.7M33.4 40.2l3.1-3.9M22.9 22.6l1.1 2.7M23 30.9l-0.4-1.7M24.7 19.5l3.4 0.2M0.6 5.2l0.7-1.8M38.5 37.1l-0.5 0.6M38.9 7.8l-2.9 3.3M7.9 22.8l-3.6 3.1M38.6 9.5l-2.6 1.6M22.1 15.8l-1-1.5M22.1 39.3l1.1-3.5M34.2 33.7l-3.1-2M17.5 22.7l0.9 2.1M26.6 20.7l1.9 4.3M26 30.7l-3 0.2M3.9-1.5l-3 3.1M24.7 19.5l3.8-2.6M28.7 38.1l0.8-2.4M27.4 13.7l-5.3 2.1M1.6 20.4l2.8-2.4M35.7 26.7l-3.3-2.9M30.3 28.8l0.8 2.9M32.8 11.4l-1.6 2.8M23.2 35.8l2.7-1.5M32.8 11.4l0.6-0.9M14.4 18l1.2-2.8M8.4 16.1l-0.3 1.8M10.2 1.9l2-3.5M7.2 26.2l-2.9-0.3M36.7 27.6l-0.7-1.5M19.1 22.3l3.8 0.3M40.3 14.3l-3.7 1.2M33.4 10.5l3.9-5.8M9.3 31l1.3-2.8M36.7 27.6l2.7 2.3M8.1 17.9l1.5 0.5M38 37.7l1.8 2.2M5.6 20.3l-4 0.1M27.7 31.4l2.6-2.6M21.1 14.3l-2.8 4.7M24 2.2l0-1.3M37.6-1l-3.9 4M15.4 10.9l4.7-3.6M3.9 37.5l-5.4-0.4M3.9 37.5l4.6 1.2M20.1 38.4l0.3-4.1M1.9 10l0.6 2.9M4.5 4.1l-1 2.8M20.1-1.6l-0.5 3.6M2.5 12.9l2.2-2.8M25.1 5l2.7 2.9M15.9 0.4l1.7-0.4M11.7 13.7l0.4 0.7M25.9 34.3l-1.5 1.6M12.5 2.4l-2.3-0.5M14.4 18l-2.3-3.6M2.5 12.9l-1.6 1M1.3 3.4l-0.7 1.8M0.9 13.9l4.7 2.1M30.3 28.8l-1.8-3.8M30.3 28.8l5.4-2.1M23.2 11.3l-5.7 0.1M40 11.6l-4-0.5M38.5 37.1l-2-0.8M7.6 29.7l-0.7 4.9M23 30.9l0.2 4.9M5.8 4.7l-1.3-0.6M9.3 31l2.3 2.6M0.5 7.8l3-0.9M38.6 30.3l-1.9-2.7M37.3 4.7l-3.9 5.8M22.1 15.8l2.3-3.8M10.2 1.9l-1.7-3.2M35 22l-2.9-3.1M28.1 19.7l3.7 2.7M35.2 16.2l-3.1 2.7M11.9 6.5l-0.2 2.3M29.4 40l2.8-3M12.2 38.4l3.7 2M26.6 20.7l-1.9-1.2M36.5 36.3l-2.3-2.6M12.2 38.4l-0.6-4.8M39.9 16.6l-3.3-1.1M6.1 1.4l-1.6 2.7M8.4 16.1l0.6-5.6M14.4 18l3.9 1M15.4 10.9l1.3-5.7M5.8 4.7l3.2 5.8M25.1 5l-1.9 3.8M35 22l1 4.1M12.2 38.4l2.1-0.9M17.6 32.4l-2.3-3.6M15.6 32.5l-1.3 5M29.4 0l-0.3 2.1M34.2 33.7l2.5-6.1M38.5 23.4l2-2.1M23 30.9l-5.4 1.5M17.6 40l0.1-2.9M24.7 19.5l-1.8 3.1M18.3 19l-3.9-1M6.1 1.4l2.4-2.7M30.3 28.8l2.1-5M17.6 32.4l5-3.2M7.6 29.7l-4.4 2.3M9.5 26.2l4-3.9M25.9 34.3l-2.9-3.4M29.2 9l-1.8 4.7M8.4 16.1l-2.8-0.1M36.5 36.3l-3.1 3.9M9.5 26.2l-1.6-3.4M19.6 2l0.5 5.3M9.4 38.8l-0.9-0.1M27.7 31.4l3.4 0.3M3.5 6.9l1.2 3.2M15.2 11l-3.5-2.2M3.2 32l-3.8-2.1M17.6 32.4l-0.7 1.3M15.2 11l-3.1 3.4M1.3 3.4l3.2 0.7M18.3 19l-0.8 3.7M14.4 18l3.1 4.7M27.8 7.9l1.8-2.7M3.9 37.5l-4.1 2.4M15.2 11l2.3 0.4M21.2 8.8l2 0M13.8 5.6l-1.3-3.2M41.1 33.1l-2.6 4M21.4 26.1l-1.5 1.3M1.4 26.7l1.8 5.3M29.2 9l-4.8 3M29.5 35.7l-1.8-4.3M24 0.9l5.4-0.9M12.2 38.4l-2.8 0.4M6.9 26.6l2.6-0.4M9.3 31l0.3 2.9M36.7 27.6l-1-0.9M40.5 21.3l-1.8 0.4M12.5 2.4l2.3 2M13.8 5.6l-1.9 0.9M33.4 10.5l-2.4-3.9M32.4 23.8l2.6-1.8M9.4 38.8l0.2-4.9M26 30.7l1.7 0.7M9.5 26.2l-2.3 0M-1.4 9.5l3.3 0.5M1.6 20.4l-1.1 0.9M29.5 35.7l4.7-2M23 30.9l-2.6 3.4M12.2 38.4l-2.6-4.5M11.9 6.5l0.6-4.1M12.5 2.4l-0.3-4M36.6 15.5l0 3.3M-0.1 16.6l0.4-2.3M23.2 8.8l1.9-3.8M10.2 1.9l-0.8-3.1M9.5 26.2l-2.6 0.4M33.4 10.5l5.5-2.7M32.8 11.4l3.2-0.3M31.2 14.2l-3.8-0.5M38.7 21.7l-2.1-2.9M25.9 34.3l1.8-2.9M0.9 13.9l-0.6 0.4M17.5 11.4l2.6-4.1M25.9 34.3l2.8 3.8M9.4-1.2l0.8 3.1M3.2 32l1.1-6.1M0.3 14.3l-0.4 2.3M10.2 1.9l-4.1-0.5M20.1 38.4l-2.4-1.3M32.4 23.8l-0.6-1.4M5.6 20.3l2.5-2.4M40.4 27.9l-1 2M28.7 38.1l-2.8-3.8M8.1 17.9l-3.7 0.1M38.8-0l-1.5 4.7M12.1 14.4l3.5 0.8M29.6 5.2l-1.3-3M15.9 0.4l3.7 1.6M6.1 41.4l-2.2-2.9M36.7 27.6l1.9 2.7M27.7 31.4l1.8 4.3M8.5 38.7l-4.6-0.2M35.2 16.2l1.4-0.7M11.6 33.6l0.6 4.8M14.3 37.5l3.4-0.4M27.9 27.9l2.4 0.9M16.7 5.2l-1.9-0.8M40.5 7.8l-1.6 0M5.8 4.7l0.3-3.3M-0.1 16.6l0.8 3.1M4.5 4.1l-3.6-2.5M24 2.2l-3.9 5.1M23.2 8.8l-3.1-1.5M37.3 4.7l-3.6-1.7M14.4 18l-0.9 4.3M41.1 33.1l-2.5-2.8M17.6 32.4l-2 0.1M34.2 33.7l2.8-1.2M11.7 13.7l-2.7-3.2M35.2 16.2l-4-2M38.8-0l-5.1 3M-1.5 37.1l4.6-1.6M40.5 21.3l-2 2.1M-0.6 29.9l3.8 2.1M1.9 10l2.8 0.1M28.1 19.7l0.4-2.8M32.1 18.9l-4 0.8M24 25.3l3.9 2.6M13.8 5.6l1.6 5.3M38.6 30.3l-1.6 2.2M0.6 5.2l-0.1 2.6M21.2 8.8l-3.7 2.6M9.3 31l-2.4 3.6M0.6 5.2l2.9 1.7M-0.2 39.9l4.1-1.4M21.4 26.1l2.6-0.8M-0.6 29.9l1.7 3.2M32.1 18.9l-3.6-2M27.8 7.9l3.2-1.3M23.2 11.3l-2.1 3M26 30.7l1.9-2.8M-0.1 16.6l1-2.7M29.5 35.7l1.6-4M18.3 19l-2.7-3.8M5.6 20.3l-1.3 5.6M33.4 10.5l-4.2-1.5M38 37.7l0.5-0.6M18.3 19l2.5 0.1M4.5 4.1l-3.2-0.7M40.2 26l-3.5 1.6M36.7 27.6l-2.5 6.1M38.5 23.4l1.7 2.6M15.9 0.4l0.8 4.8M0.5 21.3l0.2-1.6M9 10.5l2.7-1.7M15.4 10.9l-0.2 0.1M5.8 4.7l-2.3 2.2M6 12.3l-3.5 0.6M35 22l-2.6 1.8M23.2 11.3l1.2 0.7M23.2 8.8l4.6-0.9M19.1 22.3l-0.7 2.5M35.7 26.7l0.3-0.6M27.4 13.7l3.8 0.5M38 37.7l-1.5-1.4M27.9 27.9l0.6-2.9M15.9 0.4l-1.1 4M0.5 7.8l1.4 2.2M7.2 26.2l2.3 0M28.5 25l1.8 3.8M35.2 16.2l0.8-5.1M17.5 11.4l3.7-2.6M17.7 37.1l-0.8-3.4M26.6 20.7l-2.6 4.6M16.7 5.2l3.4 2.1M29.6 5.2l-0.5-3.1M22.1 39.3l2.3-3.4M0.2 26l0.2 1.9M9.5 26.2l1.1 2M16.9 33.7l0.7-1.3M1.3 3.4l-0.4-1.8M0.9 13.9l-0.9-2.3M9.6 33.9l-2.7 0.7M16.7 5.2l-2.9 0.4M27.7 31.4l0.2-3.5M0.5 21.3l-0.3 4.7M27.8 7.9l1.4 1.1M7.2 26.2l0.7-3.4M5.6 20.3l-1.2-2.3M29.1 2.1l0.5 3.1M17.6 32.4l5.4-1.5M11.9 6.5l-1.7-4.6M28.5 25l-1.9-4.3M0.2 26l0.3-4.7M24 0.9l-1.9-1.6M38.5 37.1l1.3 2.8M38.5 23.4l-2.5 2.7M0.5 7.8l0.1-2.6M13.5 22.3l0.9-4.3M26.6 20.7l1.5-1M13.5 22.3l-3.9-3.9M22.1 39.3l-2-0.9M38.8 40l-1.2-1M40.4 27.9l-3.7-0.3M34.2 33.7l-2 3.3M37.3 4.7l1.6 3.1M33.4 0.2l-4.3 1.9M10.2 1.9l-4.4 2.8M14 23.6l4.4 1.2M32.1 18.9l3.1-2.7M27.9 27.9l-3.9-2.6M8.1 17.9l-0.2 4.9M31 6.6l2.4 3.9M38.6 9.5l1.4 2.1M17.7 37.1l-1.8 3.3M29.5 35.7l2.7 1.3M19.6 2l2.5-2.7M8.5 38.7l1.1-4.8M3.1 35.5l3.8-0.9M29.6 5.2l1.4 1.4M0.2 26l1.2 0.7M0.7 19.7l-0.2 1.6M27.8 7.9l-3.4 4.1M36.7 27.6l-5.6 4.1M22.9 22.6l3.7-1.9M7.2 26.2l-0.3 0.4M37.3 4.7l-6.3 1.9M32.4 23.8l3.6 2.3M26 30.7l-3.4-1.5M23.2 35.8l1.2 0.1M38.8 40l1-0.1M1.6 20.4l4-0.1M32.8 11.4l-3.6-2.4M35 22l3.7-0.3M6.1 1.4l-0.3 3.3M40.5 21.3l-1.7-1M26 30.7l-0.1 3.6M34.2 33.7l-4.7 2M19.1 22.3l2.3 3.8M35.7 26.7l-4.6 5M25.1 5l4.5 0.2M8.5 38.7l-1.6-4.1M29.1 2.1l-0.8 0.1M32.1 18.9l-0.3 3.5M29.6 5.2l4.1-2.2M11.7 13.7l3.5-2.7M9 10.5l2.9-4M36.6 15.5l-0.6-4.4M38.5 37.1l2.6-4M0.5 21.3l1.1-0.9M15.4 10.9l-3.7-2.1M29.6 5.2l-4.5-0.2M22.9 22.6l-1.5 3.5M18.3 19l2.8-4.7M24 0.9l4.3 1.3M38.6 9.5l0.3-1.7M17.7 37.1l-0.1 2.9M11.7 13.7l-3.3 2.4M27.9 27.9l-0.2 3.5M1.4 26.7l-1 1.2M15.2 11l0.4 4.2M40.9 1.6l-1.8 2.2M18.3 19l3.8-3.2M28.7 38.1l-4.3-2.2M24 25.3l-1.4 3.9M7.9 22.8l1.7-4.4M23.2 35.8l-0.2-4.9M3.1 35.5l0.1-3.5M7.6 29.7l-3.3-3.8M3.2 32l-0.1 3.5M25.9 34.3l3.6 1.4M31.2 14.2l-2.7 2.7M3.5 6.9l2.3-2.2M36.5 36.3l1.1 2.7M14.3 37.5l2.6-3.8M17.6 0l-1.7 0.4M3.1 35.5l-4.6 1.6M36.6 15.5l3.3 1.1M1.6 20.4l-0.9-0.7M17.5 11.4l-2.3-0.4M3.1 35.5l-2-2.4M9.6 33.9l-1.1 4.8M8.1 17.9l-2.5-1.9M26.6 20.7l-3.7 1.9M8.4 16.1l1.2 2.3M15.2 11l-3.5 2.7M22.1-0.7l1.9 2.9M37.3 4.7l1.8-0.9M1.9 10l1.6-3.1M38.8 20.3l1.7 1M10.2 1.9l2.3 0.5M36.5 36.3l-4.3 0.7M40.6 5.2l-1.7 2.6M38.8-0l0.3 3.8M33.4 40.2l4.2-1.2M38.6 30.3l0.8-0.4M37 32.5l-0.3 2.1M9.3 31l-1.7-1.3M5.6 20.3l2.3 2.5M25.1 5l3.2-2.8M24 2.2l4.3 0M6 12.3l-1.3-2.2M27.9 27.9l-1.9 2.8M10.2 1.9l1.7 4.6M19.9 27.4l-4.6 1.4M14.3 37.5l-2.1 0.9M34.2 33.7l2.5 0.9M37.3 4.7l1.5-4.7M35.2 16.2l-2.4-4.8M11.7 13.7l0-4.9M32.8 11.4l2.4 4.8M39.9 16.6l-1.1 3.7M13.8 5.6l1-1.2M23.2 11.3l0-2.5M28.5 25l-4.5 0.3M1.4 26.7l-1.2-0.7M31 6.6l-1.4-1.4M33.4 40.2l-1.2-3.2M21.4 26.1l1.2 3.1M6 12.3l3-1.8M38.6 9.5l1.9-1.7M33.4 0.2l0.3 2.8M15.3 28.8l-3.7 4.8M35.7 26.7l1 0.9M14.3 37.5l-2.7-3.9M25.9 34.3l0.1-3.6M5.8 4.7l6.1 1.8M38.8 20.3l-2.2-1.5M28.5 25l3.9-1.2M17.5 11.4l5.7-0.1M16.7 5.2l-0.8-4.8M23.2 35.8l-1.1 3.5M19.9 27.4l2.7 1.8M22.1-0.7l1.9 1.6M1.4 26.7l2.9-0.8M31 6.6l2.7-3.6M15.6 32.5l-0.3-3.7M25.1 5l-1.1-2.8M41.1 33.1l-4.1-0.6M16.9 33.7l-1.3-1.2M15.3 28.8l0.3 3.7M16.7 5.2l-1.3 5.7M39.9 16.6l-3.3 2.2M11.4 27.8l3.9 1M22.1 15.8l5.3-2.1M8.5 38.7l-4.6-1.2M33.4 0.2l-4-0.2M0.9 13.9l-1 2.7M7.9 22.8l-0.7 3.4M11.4 27.8l2.6-4.2" stroke="#5a5a5a" stroke-width="0.45" fill="none"/><g transform="scale(0.5)"><path d="M0 3h0m2 5h0m4-6h0m39-2h0m1 3h0m18 6h0m16-6h0m2 5h0m-46 13h0m5-6h0m-13 19h0m36-8h0m11 7h0m-62 4h0m-10 21h0m-1 11h0m26-6h0m33 7h0m21-1h0m-82 14h0m6-1h0m39-2h0m1 3h0m24-10h0m10 10h0" stroke="#40dcec" stroke-width="3.8" stroke-linecap="round" fill="none"/><path d="M9 -3h0m1 1h0m9 1h0m21-1h0m9-1h0m6 1h0m4 0h0m8-1h0m-67 5h0m9 7h0m13 1h0m2-6h0m3 5h0m9-7h0m2 7h0m12 0h0m12 2h0m2-6h0m9-3h0m1 1h0m6-1h0m-81 15h0m4-3h0m1 7h0m7 1h0m4-5h0m4 4h0m8-6h0m2 8h0m5-5h0m15 5h0m4-11h0m3 9h0m7-4h0m0 2h0m8-5h0m1 8h0m1-10h0m3 4h0m3 1h0m4-3h0m-85 19h0m1-8h0m0 5h0m5-5h0m1 10h0m10-7h0m5 0h0m0 1h0m1 0h0m15-5h0m1 10h0m3-1h0m15 0h0m4-2h0m5-1h0m10-4h0m4 7h0m1-8h0m0 5h0m-79 13h0m1 3h0m9-5h0m10 6h0m2-10h0m3 3h0m19 0h0m3 4h0m10 1h0m14-7h0m2 6h0m3-5h0m4 4h0m1 3h0m-82 4h0m6-1h0m0 2h0m4 5h0m9-3h0m2 5h0m6-8h0m1 7h0m1-7h0m7 5h0m2 3h0m3-9h0m12-1h0m2 10h0m7-10h0m0 10h0m6-10h0m1 8h0m4-2h0m1 1h0m6-5h0m-79 11h0m1 0h0m1 6h0m20-1h0m1-3h0m6 4h0m5-4h0m5 5h0m5 1h0m3-6h0m11-2h0m3 6h0m10-3h0m9-3h0m1 0h0m1 6h0m-82 15h0m2-6h0m7 1h0m1 1h0m9 1h0m1-3h0m5-1h0m6 2h0m5 5h0m4-4h0m4-5h0m5 4h0m6 1h0m4 0h0m8-1h0m6 5h0m1 1h0m6-1h0m2-6h0" stroke="#d6b0f4" stroke-width="3.8" stroke-linecap="round" fill="none"/></g></pattern><pattern id="tW6" width="48" height="48" patternUnits="userSpaceOnUse"><rect width="48" height="48" fill="#e0caf2"/><g transform="scale(0.5)"><path d="M38 -2h0m31 1h0m-71 2h0m8 2h0m14 2h0m3 2h0m0 1h0m10-4h0m25 4h0m15 0h0m4-3h0m4-4h0m2 3h0m11-3h0m-91 21h0m1-8h0m9 1h0m3 8h0m23-9h0m11 1h0m3 4h0m9-7h0m9 5h0m6-2h0m3 8h0m4-10h0m-85 21h0m9-7h0m14 3h0m7-6h0m12 8h0m3-3h0m24 1h0m3-6h0m2 5h0m16-5h0m6 10h0m-63 9h0m1 2h0m2-6h0m1-2h0m3 9h0m16-9h0m14 5h0m-36 11h0m28-2h0m2 7h0m5-6h0m1 7h0m10-8h0m1 3h0m-76 15h0m10-5h0m35-4h0m4 3h0m5-2h0m5 9h0m6-1h0m4-4h0m16-1h0m3-2h0m-77 18h0m6-8h0m24 4h0m28 1h0m2-1h0m9-1h0m4 5h0m5-3h0m-68 8h0m12 4h0m1 5h0m4-7h0m24 5h0m3 3h0m-71 2h0m83 0h0m13 0h0" stroke="#40dcec" stroke-width="3.0" stroke-linecap="round" fill="none"/><path d="M17 1h0m16 5h0m16-4h0m9 2h0m-56 14h0m23-2h0m10 3h0m63-1h0m-78 7h0m15 1h0m2 3h0m-11 11h0m3 6h0m59-7h0m-30 13h0m-31 16h0m53 0h0m-79 9h0m17 5h0m58-10h0m21 5h0m-79 11h0m1-3h0m2 8h0m70-7h0m-74 11h0m32 1h0" stroke="#8a20ae" stroke-width="3.0" stroke-linecap="round" fill="none"/><path d="M9 -2h0m2 1h0m1-1h0m12 1h0m5 0h0m13-1h0m10 1h0m4-1h0m11 1h0m7 0h0m4 0h0m10 0h0m0-1h0m4 0h0m-93 4h0m2 7h0m0-9h0m1 5h0m6 1h0m1 5h0m2-9h0m1 0h0m0 7h0m4-3h0m2-5h0m3 3h0m2-2h0m6-1h0m5 9h0m1-8h0m4 6h0m2 1h0m4-4h0m0 5h0m0-9h0m1 5h0m4 1h0m0 2h0m2-7h0m3 9h0m5-5h0m1 3h0m2 2h0m2-6h0m1-4h0m1 8h0m4-7h0m5 1h0m1 8h0m6-5h0m1-6h0m1 9h0m3 1h0m1-6h0m4 1h0m2-3h0m2 7h0m0-9h0m1 5h0m-100 14h0m1-7h0m1 10h0m6-6h0m1-3h0m0 9h0m1-1h0m7-1h0m1-3h0m2 4h0m1-5h0m3-3h0m0 9h0m4-7h0m3 0h0m0 4h0m4-7h0m1 5h0m5 2h0m1-7h0m0 4h0m0 7h0m2-6h0m1 2h0m1-5h0m0 8h0m3-4h0m4 4h0m5-10h0m0 8h0m4 1h0m0 2h0m2 0h0m1-6h0m1-5h0m5 7h0m7 2h0m1-2h0m2-1h0m0 3h0m0 2h0m1-10h0m0 2h0m5 0h0m1 6h0m3-8h0m1 2h0m0 5h0m4-1h0m1-7h0m1 10h0m-96 5h0m2 7h0m1-9h0m0 8h0m2 2h0m3-3h0m2 3h0m1-1h0m2-10h0m3 11h0m7-1h0m2-10h0m1 2h0m0 5h0m1-1h0m1 5h0m3-9h0m2 8h0m5-3h0m1 4h0m7-10h0m3-1h0m1 4h0m0 1h0m4-4h0m0 5h0m3-3h0m1 1h0m6 1h0m0 6h0m2-10h0m0 10h0m2-4h0m2 4h0m12-9h0m1 7h0m3 0h0m3-3h0m7-3h0m2 7h0m-98 11h0m0-6h0m4 5h0m2 2h0m2-6h0m0 4h0m2-6h0m1 9h0m2-10h0m1 5h0m4-2h0m4-3h0m1 4h0m3 2h0m1 4h0m2-8h0m0 2h0m16-3h0m4 2h0m1 6h0m2-10h0m0 8h0m6 3h0m2-4h0m0 3h0m1-6h0m1 2h0m4 1h0m1 3h0m3-6h0m2 0h0m3-2h0m2 6h0m0 1h0m6-7h0m1 1h0m6 0h0m2-2h0m4 2h0m0 6h0m-98 3h0m1 7h0m1 1h0m2-7h0m0 4h0m3 0h0m2 4h0m2-9h0m3 2h0m0 4h0m0 4h0m2-5h0m1 5h0m3-9h0m4 3h0m0 4h0m3 0h0m2 0h0m1-7h0m2 9h0m2-9h0m1 8h0m3 1h0m1-10h0m1 1h0m0 4h0m0 6h0m8-2h0m4-6h0m1 0h0m7 6h0m4-6h0m3 8h0m1-2h0m8-6h0m0 5h0m1-2h0m4 4h0m1-9h0m5 7h0m3 3h0m2-6h0m0 4h0m4-9h0m1 7h0m1 1h0m2-7h0m0 4h0m-98 14h0m1-2h0m0 4h0m1-6h0m1-3h0m0 11h0m3-11h0m1 3h0m1 8h0m3-2h0m2-5h0m3-3h0m2 4h0m4-3h0m1 5h0m3-4h0m0 8h0m2-4h0m3 0h0m2-2h0m2 5h0m4-9h0m4 6h0m1-6h0m0 0h0m2 6h0m2-4h0m0 8h0m1 0h0m1-5h0m4 2h0m5-1h0m2-7h0m4 6h0m1 2h0m8-1h0m5-6h0m1 8h0m3-2h0m1-7h0m3 9h0m3-2h0m2-7h0m4 7h0m1-2h0m0 4h0m1-6h0m-99 15h0m2-1h0m4-1h0m3 2h0m2-4h0m1 5h0m3-5h0m3 0h0m3 8h0m2-5h0m1 5h0m4 0h0m1-3h0m2-6h0m0 6h0m2-2h0m1-4h0m0 10h0m2-6h0m2-4h0m4 10h0m4 0h0m4-7h0m6-3h0m0 4h0m0 2h0m1 1h0m0 1h0m2-7h0m1 5h0m1-3h0m0 7h0m6-6h0m1-4h0m3 3h0m7 5h0m1-3h0m0 1h0m1-7h0m0 4h0m7 6h0m4 0h0m5-4h0m2-1h0m-98 7h0m0 7h0m2-3h0m1-2h0m3 1h0m1-2h0m2-1h0m0 7h0m1 3h0m1-5h0m1 6h0m1-2h0m0 1h0m3-10h0m8 9h0m1 2h0m5 0h0m2-3h0m2-6h0m0 3h0m6 1h0m3 4h0m6-10h0m2 3h0m1 4h0m1-7h0m0 11h0m3-10h0m1 3h0m0 4h0m0 2h0m2-9h0m3 2h0m4-2h0m2 10h0m2-4h0m5 4h0m2-10h0m2 6h0m0 4h0m3-9h0m0 3h0m2-3h0m5 9h0m0-1h0m1-1h0m1-3h0m2 4h0m0-7h0m3-3h0m0 7h0m2-3h0m1-2h0m-99 12h0m2-2h0m10 2h0m1 0h0m6-1h0m5 1h0m6-1h0m6 1h0m10-1h0m7 1h0m14-1h0m5 1h0m13-2h0m11 2h0m2-2h0" stroke="#d6b0f4" stroke-width="3.0" stroke-linecap="round" fill="none"/><path d="M19 -2h0m45 1h0m-62 3h0m3 9h0m11-2h0m22-8h0m8 9h0m8-6h0m11-4h0m2 5h0m3 6h0m4-1h0m12-10h0m12 2h0m-89 15h0m2 5h0m1-3h0m1-6h0m24 4h0m22 1h0m13 3h0m11-2h0m3 4h0m-69 7h0m1 3h0m6-7h0m7 8h0m6-8h0m3-1h0m2 6h0m17 1h0m6 2h0m5-7h0m0 2h0m1-3h0m7 2h0m14 2h0m-93 8h0m2-1h0m4 2h0m12 2h0m21-2h0m14 1h0m4 4h0m5-7h0m14 7h0m8-2h0m12-4h0m2-1h0m-97 17h0m14 3h0m13 1h0m14-5h0m8-5h0m4 7h0m20-2h0m11-5h0m12 6h0m-91 17h0m8-4h0m19 1h0m7-3h0m11-1h0m14-2h0m-65 10h0m3 9h0m19-2h0m3-3h0m3-3h0m12 5h0m10 0h0m13-5h0m0 10h0m6-4h0m13 3h0m3-2h0m4-5h0m7-3h0m3 9h0m-97 8h0m0 3h0m10-5h0m8 7h0m1-4h0m2-3h0m6 1h0m1-3h0m4 8h0m9-4h0m1 3h0m3-8h0m0 6h0m18 5h0m4-10h0m3 1h0m1 7h0m3-1h0m12-7h0m3 8h0m7-4h0m0 3h0m-95 6h0m36-1h0m27-1h0m21 0h0m12 2h0" stroke="#f07d2e" stroke-width="3.0" stroke-linecap="round" fill="none"/><path d="M58 -1h0m0 0h0m17 0h0m-63 7h0m5-1h0m9 15h0m27-8h0m15 1h0m8 5h0m-63 12h0m19-6h0m-17 16h0m5 7h0m17-5h0m40-5h0m16 9h0m-92 2h0m15 7h0m51-6h0m5 8h0m14-4h0m11-5h0m-92 19h0m38-4h0m27-1h0m3-2h0m2 8h0m-25 7h0m-46 16h0m54 4h0m0 0h0m17 0h0" stroke="#f5b8b2" stroke-width="3.0" stroke-linecap="round" fill="none"/><path d="M5 -1h0m11-1h0m7 1h0m9-1h0m4 1h0m12-1h0m5 1h0m7-1h0m13 1h0m8-1h0m-82 5h0m0 3h0m1-5h0m1-1h0m0 6h0m2-4h0m1 9h0m3-11h0m1 2h0m11-2h0m2 8h0m4-1h0m3-6h0m0 3h0m2 6h0m1-2h0m5 1h0m2-9h0m2 2h0m2 4h0m3-6h0m5 0h0m5 5h0m7-5h0m1 4h0m6 3h0m5-1h0m6 1h0m2 4h0m4-9h0m0 4h0m6 3h0m3-6h0m0 3h0m1-5h0m1-1h0m0 6h0m-99 9h0m2-3h0m2 3h0m0 4h0m1 0h0m11-5h0m6 0h0m4 6h0m5-6h0m18 4h0m1 2h0m3-8h0m5 6h0m9 2h0m0 2h0m2-6h0m5-4h0m19 3h0m3 0h0m2-3h0m2 3h0m0 4h0m-98 6h0m1 4h0m1 0h0m4 0h0m4 1h0m2-3h0m3 0h0m1 7h0m7-4h0m10 0h0m0 5h0m2-10h0m11 10h0m3-5h0m0 4h0m4-2h0m3-8h0m3 10h0m1-8h0m11 7h0m5-5h0m1 3h0m1-3h0m3 5h0m1-4h0m2-1h0m2 0h0m4 7h0m2-3h0m1-7h0m0 1h0m3-1h0m1 4h0m1 0h0m-100 12h0m2 6h0m1-11h0m1 6h0m1 3h0m4-3h0m17-5h0m0 4h0m17 3h0m1-5h0m1 2h0m0 6h0m1-2h0m1-9h0m2 0h0m1 7h0m6 4h0m4-6h0m5 6h0m2-7h0m6 5h0m4-7h0m5 8h0m1-7h0m4-2h0m0 5h0m2 4h0m3-2h0m4-3h0m2 6h0m1-11h0m1 6h0m-98 16h0m3-2h0m4-6h0m2 1h0m1 4h0m5-7h0m2 10h0m1-5h0m2-3h0m2-2h0m3 2h0m2 1h0m4 0h0m5 5h0m4-1h0m3 2h0m2-8h0m2 5h0m7-3h0m0 6h0m0 1h0m2-10h0m0 10h0m3-9h0m4 4h0m7-2h0m6 8h0m3-2h0m3 0h0m2-3h0m3-5h0m4 0h0m5 9h0m-98 2h0m2 3h0m7 3h0m4-3h0m2 6h0m5-1h0m3 1h0m3-8h0m4 2h0m4-1h0m5 0h0m3 8h0m5-1h0m5-1h0m4-2h0m2 0h0m4-2h0m4 7h0m2-7h0m4 3h0m5-3h0m4 3h0m3-3h0m2-2h0m3 3h0m1 5h0m4 0h0m2-10h0m2 3h0m-98 19h0m1-8h0m1 7h0m0 0h0m5-1h0m1 1h0m5-7h0m2 2h0m1 6h0m5-5h0m1-3h0m8 0h0m7 4h0m3 5h0m3-6h0m0 2h0m2-5h0m3 0h0m0 5h0m16-2h0m1 4h0m7 2h0m4-10h0m0 10h0m7-8h0m1-2h0m6-1h0m3 1h0m0 6h0m3 3h0m1-8h0m1 7h0m0 0h0m-96 4h0m5 10h0m8-6h0m3 5h0m7 1h0m3-7h0m1 5h0m5 1h0m4 1h0m1-2h0m2-8h0m9 4h0m0 5h0m4-4h0m0 2h0m1 3h0m6-7h0m1-3h0m0 9h0m6-10h0m1 5h0m3 0h0m3 6h0m2-6h0m3 1h0m3 4h0m2-3h0m2-3h0m11-3h0m-96 12h0m1-1h0m2 2h0m4-2h0m1 2h0m11-2h0m9 1h0m10-1h0m2 2h0m5-2h0m5 0h0m12 0h0m24 2h0m10-1h0m1-1h0" stroke="#ffffff" stroke-width="3.0" stroke-linecap="round" fill="none"/></g></pattern><pattern id="tBlue" width="48" height="48" patternUnits="userSpaceOnUse"><rect width="48" height="48" fill="#c8d0f4"/><g transform="scale(0.5)"><path d="M-2 -2h0m0 1h0m5 0h0m15 0h0m13 0h0m7 0h0m10-1h0m9 1h0m5-1h0m5 1h0m8 0h0m2-1h0m17 0h0m0 1h0m-96 11h0m2-2h0m1 1h0m1-4h0m3 2h0m4-6h0m0-1h0m2 6h0m1-3h0m1 6h0m0-9h0m1 2h0m0 5h0m2 3h0m3-7h0m2-2h0m1 2h0m3-1h0m0 8h0m0-10h0m2 8h0m1-8h0m1 4h0m2-4h0m1 2h0m2 4h0m1-6h0m3 10h0m1-9h0m1 9h0m3-5h0m7 0h0m0 5h0m2-7h0m2 2h0m0 4h0m0-9h0m2 6h0m3 4h0m1-7h0m0-3h0m4 5h0m0 2h0m0-7h0m2 8h0m3-4h0m0 5h0m1-1h0m1-8h0m2 4h0m1 4h0m1 2h0m4-9h0m1 1h0m0 6h0m3-4h0m0-4h0m1 10h0m0-10h0m1 5h0m1 2h0m2 3h0m1-8h0m5 8h0m2-2h0m1 1h0m1-4h0m-100 10h0m1 6h0m1-3h0m0 5h0m0-3h0m0 3h0m2-9h0m2 7h0m2 2h0m2-4h0m1-7h0m1 0h0m0 3h0m4 1h0m3 7h0m4-6h0m3-3h0m2 3h0m0 5h0m1-6h0m1 7h0m1-10h0m5 8h0m1-3h0m1-3h0m5 1h0m2-3h0m0 6h0m2 2h0m3 0h0m3-7h0m0 3h0m6 5h0m1-5h0m0 2h0m0 4h0m3-3h0m1-8h0m0 10h0m1-4h0m1-4h0m2 4h0m1-6h0m1 5h0m0 3h0m3 3h0m1-8h0m0 4h0m2 4h0m3-6h0m1 4h0m4-3h0m1-4h0m3 1h0m2-1h0m0 5h0m2-2h0m0 2h0m0 3h0m2-5h0m2-2h0m1 6h0m1-1h0m0 3h0m0-5h0m0 5h0m2-9h0m-99 20h0m1-6h0m2 3h0m4-1h0m1 2h0m1-8h0m4 11h0m1-4h0m3 4h0m4-3h0m1-2h0m1 4h0m3-8h0m1 5h0m8-1h0m1-4h0m0 8h0m3-7h0m2-2h0m4 6h0m0 0h0m3-7h0m4 1h0m0 9h0m1-10h0m0 4h0m0 5h0m5-6h0m5 4h0m3-5h0m1 5h0m2 2h0m5-3h0m5 2h0m2-6h0m2 5h0m1 3h0m1-4h0m2 4h0m2-7h0m2 5h0m1-8h0m0 11h0m4-1h0m1-6h0m2 3h0m-100 7h0m2 2h0m0 6h0m1-8h0m4-2h0m0 10h0m2 1h0m1-8h0m2-2h0m1 6h0m1 0h0m1 2h0m5-7h0m6-2h0m0 4h0m0 6h0m3-6h0m0 7h0m2-8h0m1-2h0m0 4h0m0 5h0m4-6h0m1 3h0m1-6h0m4 0h0m0 10h0m2-5h0m3-6h0m1 2h0m2 5h0m1-7h0m0 3h0m1-3h0m8 6h0m0 3h0m3-8h0m1 2h0m2 2h0m0 1h0m1 0h0m0 4h0m3-10h0m1 1h0m2 4h0m1 2h0m0 3h0m1-4h0m1 5h0m4-5h0m2-4h0m2 2h0m1-3h0m0 7h0m0 2h0m4-3h0m0 4h0m2-6h0m1 4h0m2-6h0m0 4h0m2-5h0m2 2h0m0 6h0m1-8h0m-98 15h0m0 6h0m1-8h0m0 8h0m2-10h0m1 1h0m1-2h0m1 6h0m1-1h0m4-3h0m1 2h0m1-2h0m5 3h0m0 6h0m2-4h0m2-1h0m1-5h0m4 1h0m2 3h0m2-4h0m0 3h0m3 6h0m3-7h0m0 5h0m3-6h0m0 9h0m3-4h0m0 0h0m1-4h0m1-1h0m1 2h0m3 4h0m1-5h0m1-3h0m4 7h0m1-5h0m0 4h0m2 4h0m1-6h0m1 0h0m0 3h0m1 3h0m2-10h0m3 8h0m1-7h0m2 4h0m3 2h0m2-7h0m0 11h0m2-3h0m2-6h0m3 7h0m3-7h0m2-2h0m2 10h0m4-1h0m1-9h0m0 5h0m1 5h0m2-5h0m0 6h0m1-8h0m0 8h0m2-10h0m-98 15h0m1-1h0m1-1h0m0 8h0m2-10h0m1 3h0m0 3h0m1 2h0m2 3h0m4-3h0m1-5h0m0 7h0m5-8h0m0 8h0m1-5h0m1 3h0m4-5h0m1-3h0m1 5h0m1-4h0m2 0h0m1 6h0m2 1h0m0 3h0m4-4h0m1-4h0m0 4h0m1-4h0m2 5h0m1-3h0m2-5h0m1 1h0m0 4h0m1-2h0m0 8h0m0 0h0m2-9h0m1 2h0m0 7h0m2-3h0m3 3h0m1-1h0m3-7h0m1 0h0m3 1h0m2 0h0m1 5h0m4-2h0m1 2h0m1-7h0m1 4h0m3 5h0m2-11h0m0 8h0m2-4h0m0 1h0m1 5h0m4-7h0m0 6h0m0 2h0m1-6h0m2-4h0m0 10h0m3-5h0m1 2h0m1-8h0m1 10h0m1-6h0m0 7h0m3-7h0m1-1h0m1-1h0m0 8h0m-99 5h0m0 4h0m1 1h0m0 3h0m0-7h0m1-4h0m0 4h0m2 2h0m1-5h0m1 2h0m2 8h0m2-10h0m0 3h0m1-3h0m1 7h0m3 3h0m1-4h0m2-5h0m2-1h0m5 10h0m3-6h0m2 5h0m3-3h0m2-1h0m0 5h0m1-10h0m1 7h0m1-6h0m4 3h0m1-5h0m0 8h0m0 3h0m2-5h0m3-2h0m1 7h0m2-7h0m0 4h0m1 3h0m2-4h0m2 4h0m2-5h0m2-2h0m0 3h0m3-5h0m0 8h0m1-9h0m1 6h0m2-2h0m2-5h0m2 8h0m1 0h0m1-3h0m0 6h0m1-1h0m2-5h0m7-2h0m2 1h0m2 6h0m3-9h0m0 4h0m2 1h0m4-3h0m0 4h0m1-3h0m0 4h0m0 3h0m1-11h0m0 4h0m-99 18h0m0 1h0m2-8h0m0 0h0m1 0h0m1 1h0m1 7h0m0-9h0m2 7h0m2-9h0m1 0h0m1 6h0m1 2h0m1-5h0m1 1h0m5 0h0m1-4h0m0 11h0m2-5h0m0 2h0m2-8h0m2 0h0m0 9h0m1-8h0m6 10h0m0-6h0m1-4h0m3 6h0m1-4h0m0 2h0m2 6h0m1-4h0m1-7h0m2 4h0m6 2h0m0 4h0m2-8h0m1 2h0m6 7h0m0-3h0m5 2h0m1-6h0m3 5h0m1-4h0m0 6h0m1-9h0m4 1h0m0 1h0m1 4h0m2 3h0m2-4h0m0 3h0m3-7h0m1 5h0m2-8h0m0 5h0m3 4h0m1-3h0m1-4h0m4 7h0m2 1h0m0 1h0m2-8h0m0 0h0m1 0h0m1 1h0m-89 8h0m0 1h0m4-1h0m1 2h0m7-1h0m4 1h0m0-2h0m3 0h0m3 0h0m1 2h0m3-2h0m4 1h0m15-1h0m6 0h0m4 0h0m7 0h0m8 1h0m1 1h0m3-2h0m1 0h0m5 2h0" stroke="#4363d8" stroke-width="3.0" stroke-linecap="round" fill="none"/><path d="M1 -1h0m0 0h0m5 0h0m4 0h0m25-1h0m17 1h0m17-1h0m23 1h0m5 0h0m0 0h0m-96 7h0m3-3h0m2 8h0m11-4h0m5-1h0m2-5h0m2-1h0m6 11h0m8-7h0m3 7h0m1-9h0m3-2h0m0 6h0m1-3h0m13 2h0m2 6h0m7-11h0m14 8h0m4-5h0m5-1h0m4 4h0m-93 6h0m1 5h0m8 6h0m1-4h0m3-1h0m3 3h0m8-7h0m5 9h0m1-8h0m3 3h0m8 0h0m0 5h0m1-9h0m2 2h0m9-1h0m15-2h0m1 3h0m6-1h0m-77 16h0m1 0h0m8-2h0m1-2h0m2 7h0m2-4h0m4-6h0m4 4h0m4 0h0m2 6h0m7-2h0m3-3h0m2-3h0m0 8h0m11-9h0m3 7h0m3-2h0m0 2h0m9-7h0m3 0h0m15 0h0m12 6h0m-99 5h0m0 11h0m2-3h0m5-2h0m7-3h0m5 6h0m14-2h0m3 4h0m3-6h0m2-3h0m1 5h0m11-2h0m2-4h0m2 5h0m2-3h0m17-1h0m3-1h0m0 9h0m17-10h0m0 11h0m2-3h0m-93 11h0m4 0h0m7 0h0m2-6h0m15 2h0m2 5h0m14-6h0m15 3h0m8-2h0m15 4h0m-76 5h0m1 4h0m11-4h0m0 2h0m1 4h0m3 4h0m3-1h0m8 1h0m16-7h0m0 2h0m3-1h0m2 5h0m5-4h0m3-1h0m2 4h0m7-6h0m5-2h0m12 6h0m-78 8h0m0 3h0m8-3h0m0 6h0m2-7h0m3 6h0m27-5h0m1-2h0m3 10h0m9 0h0m11-6h0m3 4h0m0 2h0m7 0h0m-90 9h0m3 4h0m0 0h0m5 0h0m1-8h0m3 8h0m6-11h0m8 3h0m11 7h0m1-10h0m4 5h0m12 6h0m6-6h0m2-5h0m4 2h0m5 8h0m6-7h0m0 1h0m7 3h0m8-7h0m2 11h0m2-4h0m3 4h0m0 0h0m-73 2h0m2-1h0m18 2h0m3-2h0m23 0h0m23 2h0" stroke="#d6b0f4" stroke-width="3.0" stroke-linecap="round" fill="none"/><path d="M-1 -2h0m2 1h0m18 0h0m21 0h0m15-1h0m7 0h0m4 1h0m29-1h0m2 1h0m-97 9h0m3-4h0m6 3h0m2-3h0m9 7h0m9-4h0m0 4h0m8-7h0m2 3h0m3-6h0m6 0h0m8 1h0m9 3h0m2-5h0m7 2h0m3 4h0m2 3h0m4-8h0m0 8h0m5-8h0m2 6h0m6 1h0m-94 10h0m9 1h0m1-6h0m2 1h0m5 0h0m5 6h0m4-1h0m3-2h0m0 4h0m17-9h0m5 2h0m1 7h0m4-7h0m19-2h0m0 9h0m4 2h0m1-6h0m8-5h0m8 6h0m-99 13h0m1-5h0m0 6h0m4-6h0m3 0h0m3 8h0m6-7h0m4-1h0m7 6h0m4-5h0m6 4h0m1-6h0m8 5h0m1-5h0m7 5h0m7-5h0m2 7h0m4-8h0m4 4h0m3 4h0m1-6h0m2-2h0m1 7h0m1 2h0m3-6h0m9 0h0m0 4h0m4 0h0m1 1h0m0-6h0m-94 16h0m2-2h0m11-2h0m0 7h0m2-4h0m3-4h0m1 6h0m5 1h0m7-7h0m8 10h0m5 0h0m6-5h0m0 2h0m8-7h0m0 8h0m8-6h0m0 8h0m6-10h0m12 0h0m1 1h0m1 0h0m10 4h0m-98 14h0m2 0h0m12 0h0m1-2h0m4 4h0m5-2h0m5 0h0m7-8h0m0 4h0m13 7h0m3-10h0m0 9h0m1-3h0m6-6h0m5 7h0m2 3h0m2 0h0m4-10h0m4 3h0m1 5h0m3-6h0m3 1h0m5-1h0m2-2h0m6 7h0m2 0h0m-98 12h0m1-1h0m6-7h0m1 5h0m7 0h0m18-3h0m13 6h0m35-1h0m3-6h0m6 1h0m6 6h0m1-1h0m-95 14h0m5-3h0m11 0h0m0 3h0m8-5h0m2-3h0m6 2h0m2-1h0m7 0h0m21 0h0m9 0h0m3-2h0m2 10h0m3-9h0m2 5h0m3 2h0m7-7h0m5 8h0m-100 7h0m1 6h0m2 1h0m8-3h0m7 1h0m3 2h0m7-4h0m1-3h0m4 3h0m8-5h0m1 9h0m1-3h0m2-5h0m1-2h0m3 8h0m3 0h0m3-1h0m1-8h0m1 10h0m1-7h0m2-3h0m4 10h0m4 1h0m10-8h0m13 1h0m3-4h0m2 4h0m1 6h0m2 1h0m-55 2h0m6 0h0m8 1h0m11-2h0m7 2h0m9-1h0m5 0h0" stroke="#ffffff" stroke-width="3.0" stroke-linecap="round" fill="none"/></g></pattern><pattern id="tLime" width="48" height="48" patternUnits="userSpaceOnUse"><rect width="48" height="48" fill="#eef4d8"/><g transform="scale(0.5)"><path d="M6 -1h0m12-1h0m6 1h0m11-1h0m2 0h0m7 0h0m15 1h0m1-1h0m9 0h0m0 0h0m6 0h0m1 1h0m7 0h0m6-1h0m-91 10h0m0 0h0m3-7h0m0-1h0m0 11h0m1-6h0m0-4h0m5 4h0m1 0h0m2-5h0m1 11h0m2-9h0m1 8h0m1-9h0m0 6h0m2-2h0m6 2h0m1-6h0m1 4h0m3 0h0m1-5h0m0 10h0m0-10h0m4 3h0m0 4h0m4-5h0m1-1h0m3-1h0m1 5h0m0 5h0m3-6h0m3-1h0m2 4h0m2 4h0m1-4h0m1 2h0m1-7h0m6 2h0m1 5h0m4-3h0m3 4h0m1-10h0m4 7h0m6 4h0m2-9h0m2-1h0m2 10h0m2-3h0m1-7h0m2 6h0m0 4h0m2-10h0m1 7h0m0 0h0m3-7h0m0-1h0m0 11h0m1-6h0m0-4h0m-98 13h0m2 8h0m3-6h0m0 4h0m2-5h0m3 4h0m6 1h0m7-3h0m0 4h0m2 0h0m1 1h0m2-7h0m1 6h0m2-7h0m2 8h0m2-1h0m3-6h0m2-1h0m0 7h0m1-7h0m4 7h0m3-6h0m0 3h0m1 5h0m3-6h0m1 4h0m2 1h0m2-5h0m0 4h0m1-1h0m1-7h0m6 8h0m1-6h0m2 7h0m4-7h0m1 7h0m3-10h0m0 9h0m0 0h0m3-4h0m2-3h0m3 5h0m3-4h0m0 8h0m2-3h0m1-2h0m1-5h0m2 5h0m3-4h0m2 8h0m-100 5h0m2 2h0m0 2h0m0 2h0m5-3h0m4-1h0m4-4h0m0 9h0m0 1h0m2-8h0m3-2h0m0 0h0m1 7h0m6-1h0m2-7h0m2 6h0m1 3h0m2-4h0m3-3h0m0 8h0m2-9h0m1 3h0m0 5h0m1 2h0m3-2h0m1-7h0m0 4h0m2-3h0m1 6h0m2-8h0m0 4h0m2 3h0m3 0h0m1-5h0m0 1h0m3 6h0m3-6h0m3 6h0m1-5h0m7-1h0m0 1h0m0 6h0m4-5h0m5 0h0m0 4h0m3 0h0m2-6h0m4-3h0m1 7h0m2-8h0m2 3h0m2 4h0m0 2h0m0-4h0m-97 17h0m1-4h0m3-5h0m1 2h0m1-3h0m2 10h0m3-5h0m1 4h0m3 2h0m3-4h0m3-7h0m0 5h0m0 1h0m6 4h0m1-7h0m0 4h0m6-1h0m1 5h0m1-7h0m1-3h0m3 7h0m2 1h0m3-2h0m2-5h0m2-1h0m1 9h0m1-2h0m7-6h0m0 8h0m3-2h0m4-8h0m1 2h0m0 9h0m3-10h0m0 8h0m1-5h0m3 0h0m0 2h0m2 5h0m4-10h0m3 7h0m4-4h0m0 2h0m2-6h0m6 9h0m2 1h0m1-4h0m-98 12h0m1-1h0m2 3h0m2-3h0m3 1h0m1-5h0m3 0h0m0 5h0m1 4h0m1-2h0m2-6h0m1 2h0m4 1h0m1 5h0m3-4h0m1-5h0m0 6h0m5 3h0m1-1h0m4-5h0m4-1h0m1 5h0m4-1h0m4-7h0m3 2h0m3 3h0m3-4h0m0 9h0m2-6h0m1-2h0m7 4h0m7 4h0m1-10h0m2 0h0m1 8h0m0 3h0m1-1h0m4-1h0m2-6h0m1 7h0m1-5h0m0 6h0m4-6h0m3 4h0m1-3h0m1-1h0m2 3h0m-98 5h0m0 0h0m0 2h0m1 5h0m0-2h0m1-1h0m1-3h0m2 5h0m3-7h0m0 11h0m3-5h0m5-2h0m1-3h0m1 7h0m3 2h0m2-10h0m3 7h0m0 2h0m3 0h0m5-2h0m1 4h0m3-5h0m3-2h0m1-2h0m0 8h0m2-7h0m1-3h0m2 8h0m1-6h0m0 9h0m3-4h0m2-6h0m1 4h0m6 4h0m1-2h0m3-3h0m1 1h0m2 6h0m3-7h0m2-1h0m4 5h0m2-4h0m6-2h0m0 3h0m10 0h0m2-4h0m0 0h0m0 2h0m1 3h0m0 2h0m1-3h0m1-3h0m-97 14h0m0 6h0m1-3h0m0 4h0m3-7h0m6 7h0m2 0h0m4-1h0m1-8h0m4 8h0m11 1h0m2-8h0m0 4h0m5-1h0m1-3h0m1-3h0m3 4h0m1 1h0m0 6h0m1-3h0m1-2h0m2-5h0m1 1h0m4 3h0m0 3h0m2-4h0m3 3h0m0 2h0m2-4h0m4-1h0m0 3h0m1 4h0m1-10h0m2 7h0m1 2h0m3-1h0m1-8h0m3 9h0m5-2h0m4-4h0m1 2h0m4 2h0m1-1h0m0 3h0m4-6h0m0 6h0m1-3h0m0 4h0m-100 2h0m1 8h0m1-8h0m1 3h0m0 5h0m1-4h0m1 3h0m1-5h0m2 8h0m4-8h0m6-3h0m1 3h0m0 6h0m1 1h0m3-9h0m0 3h0m2 3h0m1 4h0m2-11h0m2 3h0m3-1h0m2 4h0m2 4h0m0-4h0m2 4h0m3-10h0m4 1h0m0 9h0m2-1h0m3 0h0m2-5h0m1-2h0m4 5h0m2-5h0m1 9h0m1-1h0m2-2h0m3-8h0m4 10h0m0 0h0m6 0h0m1-8h0m0 9h0m4-9h0m1 2h0m2 7h0m1-8h0m2 2h0m3 5h0m1-10h0m3 6h0m1-5h0m1 8h0m1-8h0m1 3h0m0 5h0m1-4h0m-97 8h0m0-1h0m1 1h0m8-1h0m3 2h0m2-1h0m9 0h0m5-1h0m0 0h0m8 2h0m1-1h0m3-1h0m14 2h0m15-2h0m12 2h0m2-1h0m5 0h0m4 0h0m4 0h0m0-1h0m1 1h0" stroke="#b6e32c" stroke-width="3.0" stroke-linecap="round" fill="none"/><path d="M5 -2h0m8 0h0m20 0h0m6 1h0m10 0h0m8 0h0m-58 2h0m2 10h0m12-9h0m2 9h0m3-10h0m26 0h0m3 6h0m11-5h0m0 6h0m0 0h0m2 0h0m3-8h0m0 0h0m11 11h0m1-6h0m8-4h0m7 0h0m0 1h0m5-1h0m2 10h0m-94 5h0m15 1h0m1 5h0m2-7h0m10 0h0m3-3h0m18 1h0m2 7h0m1-2h0m3-5h0m2 6h0m9-6h0m5 1h0m0 3h0m6 0h0m1 4h0m1-9h0m10 9h0m-94 14h0m3-2h0m2-8h0m1 1h0m8 5h0m5 4h0m3-7h0m4-2h0m0 7h0m1 2h0m10-5h0m6 0h0m15-2h0m20 3h0m0 4h0m1-7h0m0 7h0m4 0h0m7-4h0m1 3h0m5 1h0m3-2h0m-94 9h0m6 1h0m3-1h0m9 3h0m5-8h0m3 0h0m9 2h0m12 2h0m7-1h0m6 3h0m12-4h0m4-1h0m0 6h0m1 3h0m6-8h0m5 3h0m-90 6h0m3 0h0m2 7h0m15-7h0m1 8h0m5-5h0m0 7h0m4-4h0m2 1h0m10-7h0m2 6h0m6 3h0m10-5h0m1 5h0m2-6h0m1 7h0m2-8h0m0 3h0m0 6h0m4-1h0m1-10h0m7 1h0m7 2h0m4 5h0m3-7h0m4-1h0m-98 23h0m0 0h0m3-1h0m1-10h0m11 5h0m0 4h0m4-4h0m6 0h0m3-3h0m2 2h0m4 4h0m3 1h0m8-1h0m7 0h0m3 1h0m10 2h0m7-2h0m1-4h0m9 2h0m4 3h0m3 0h0m4-10h0m0 8h0m3 3h0m0 0h0m3-1h0m-91 8h0m1-4h0m4 6h0m2-2h0m5 1h0m4-6h0m3 4h0m3-3h0m1 7h0m4-6h0m3 6h0m15-8h0m4 7h0m22-1h0m3-2h0m8-5h0m0 3h0m3-2h0m-87 21h0m1-10h0m5 9h0m2 1h0m1-4h0m0 3h0m11-7h0m4 6h0m4 0h0m0 2h0m6 1h0m2-7h0m8 7h0m3-11h0m2 8h0m3 3h0m2-6h0m2 1h0m7-5h0m7 3h0m9 3h0m5 0h0m3 0h0m-93 6h0m14 1h0m5-1h0m26 0h0m14 1h0m5-2h0m0 0h0m20 1h0m7 0h0m0 1h0m5-1h0" stroke="#d6b0f4" stroke-width="3.0" stroke-linecap="round" fill="none"/><path d="M5 -2h0m23 1h0m9 0h0m12 0h0m29-1h0m-80 6h0m1 2h0m2-1h0m4 3h0m0 2h0m6-7h0m0 3h0m7 2h0m0 2h0m2-10h0m1 4h0m2 7h0m3 0h0m1-9h0m2 6h0m3 1h0m5-4h0m0 4h0m2-5h0m2 5h0m8 2h0m1-10h0m1 3h0m3 1h0m4-3h0m7 9h0m0-11h0m2 3h0m2 2h0m2-1h0m3-3h0m0 3h0m0-4h0m1 2h0m3 3h0m0 4h0m1-2h0m1-7h0m3 6h0m2-2h0m9 0h0m1 2h0m2-1h0m-98 10h0m0 6h0m1-6h0m2 3h0m3-5h0m2 10h0m1-2h0m1-5h0m2-3h0m2 2h0m1 8h0m5-2h0m1-8h0m3 1h0m3-1h0m11 7h0m2-4h0m2 6h0m3-5h0m1-3h0m5 5h0m13-3h0m1 7h0m2-8h0m4 3h0m0 4h0m2-2h0m14-3h0m2 4h0m7-6h0m0 6h0m1-6h0m2 3h0m-97 10h0m3 6h0m3-6h0m0 4h0m1-8h0m7 9h0m1-5h0m11-2h0m4 9h0m1-10h0m11-1h0m7 6h0m1 5h0m8-6h0m3 5h0m4-8h0m0 5h0m1-5h0m1 7h0m5-1h0m7-6h0m3-2h0m3 5h0m4-1h0m3 3h0m4-3h0m-98 11h0m1-1h0m2-1h0m3 6h0m2-2h0m3-4h0m7 1h0m2 7h0m4-7h0m2 6h0m6-5h0m6 2h0m1 6h0m5-11h0m0 3h0m2 6h0m1-2h0m6-3h0m3 4h0m1-1h0m2-5h0m3 3h0m0 5h0m6-4h0m7 0h0m10 5h0m4-11h0m0 9h0m1-3h0m2 5h0m1-7h0m3-1h0m1-1h0m2-1h0m-98 11h0m2 6h0m9 1h0m5 0h0m2-7h0m12 1h0m2-1h0m0 2h0m1 8h0m3-2h0m2-4h0m3-2h0m0 4h0m7 0h0m2-2h0m4 2h0m0 5h0m6-4h0m1 4h0m3-6h0m10 1h0m3 0h0m4-3h0m1 0h0m4 4h0m5-4h0m5-3h0m2 6h0m-97 8h0m3 8h0m1-8h0m4 5h0m1-3h0m0 6h0m7-6h0m4-3h0m2 0h0m9 2h0m5 1h0m1-4h0m3 0h0m3 7h0m5-6h0m8 2h0m0 1h0m0 7h0m1-7h0m7-2h0m0 7h0m7-9h0m3 3h0m0 1h0m2 4h0m4 0h0m5-5h0m3 1h0m1-1h0m7-1h0m-97 15h0m3 0h0m1-4h0m1 8h0m6-7h0m3 1h0m1 2h0m1-4h0m6 4h0m1 1h0m4-3h0m0 4h0m1-5h0m3 5h0m8-7h0m2 7h0m4 2h0m16-9h0m1 10h0m9-9h0m0 4h0m1 0h0m3-3h0m1 6h0m1-5h0m3-1h0m0 9h0m4-9h0m3 8h0m6-7h0m3 2h0m-92 9h0m1 8h0m3-7h0m1 5h0m9-6h0m7 2h0m2 4h0m1 3h0m5-8h0m4 8h0m2-10h0m3 7h0m1-6h0m1 2h0m4-2h0m0 2h0m1 7h0m5-11h0m2 9h0m5-7h0m5 2h0m0 3h0m4-2h0m3 2h0m1-6h0m3 5h0m1 4h0m8-10h0m3 4h0m2-1h0m-71 9h0m7 2h0m23-1h0m8 1h0m7-2h0m9 1h0m0-1h0m1 2h0m5-2h0" stroke="#ffffff" stroke-width="3.0" stroke-linecap="round" fill="none"/></g></pattern><pattern id="tW85" width="48" height="48" patternUnits="userSpaceOnUse"><rect width="48" height="48" fill="#f6e4f4"/><g transform="scale(0.5)"><path d="M18 -1h0m32 0h0m10 0h0m8 0h0m3-1h0m6 0h0m-77 4h0m4 5h0m3-2h0m0 1h0m11 0h0m8-5h0m4 2h0m5 2h0m15 4h0m5-9h0m11 1h0m3 0h0m27 1h0m-90 12h0m3 4h0m1 1h0m4-7h0m0 11h0m3-7h0m24-2h0m30 1h0m2 8h0m6-5h0m4 0h0m7-2h0m0 4h0m-90 4h0m10 9h0m20-6h0m8-3h0m2 7h0m10-5h0m4 9h0m1-10h0m41-1h0m-87 22h0m2-7h0m42 0h0m1 5h0m14-5h0m1 6h0m15-7h0m-82 12h0m17-2h0m0 6h0m1 4h0m6-3h0m9 3h0m1-1h0m12-7h0m0 4h0m18 4h0m1 0h0m1-2h0m4-2h0m14 3h0m12-7h0m-86 15h0m1 6h0m7-4h0m4-2h0m1-2h0m0 5h0m22-1h0m10-2h0m21-3h0m3 2h0m0 5h0m11-5h0m-87 13h0m25-3h0m12 9h0m10-2h0m7-3h0m14-4h0m8 3h0m-76 13h0m7-3h0m4 2h0m0 4h0m2 2h0m4-8h0m23 4h0m1-6h0m4 10h0m4-8h0m6 8h0m8 0h0m3-1h0m6 0h0m0-9h0m-77 13h0m26-1h0m29-1h0m11 1h0m3 0h0m27 1h0" stroke="#40dcec" stroke-width="2.8" stroke-linecap="round" fill="none"/><path d="M6 -1h0m24 0h0m23 8h0m4-7h0m-56 14h0m4 9h0m26-4h0m8-2h0m37-5h0m17 6h0m4-4h0m-82 10h0m11 3h0m11-1h0m5 6h0m14-6h0m9 9h0m9-9h0m11-1h0m1 5h0m-81 15h0m35-9h0m8 6h0m13 0h0m5 1h0m27-2h0m-94 12h0m34-5h0m11 4h0m13-3h0m14-1h0m3 1h0m1 10h0m15-1h0m5-5h0m-91 16h0m35-4h0m53-2h0m-85 18h0m43-4h0m33 0h0m-77 18h0m14-8h0m0 1h0m10 7h0m3-5h0m1 3h0m8-7h0m5 4h0m10 6h0" stroke="#8a20ae" stroke-width="2.8" stroke-linecap="round" fill="none"/><path d="M0 -1h0m19-1h0m29 1h0m36 0h0m12 0h0m-95 4h0m0 3h0m0 5h0m1-10h0m1 2h0m5-2h0m2 6h0m4-4h0m2 8h0m6-4h0m2 4h0m1-7h0m6 5h0m7-3h0m4 1h0m2-3h0m0 5h0m2-9h0m3 5h0m2-1h0m8-3h0m1 3h0m1 1h0m5 0h0m1 6h0m3-5h0m2 0h0m2 3h0m3-6h0m3 8h0m2-5h0m1-4h0m1 0h0m2 2h0m2 5h0m2-8h0m7 2h0m0 3h0m0 5h0m1-10h0m-99 16h0m11-4h0m9 0h0m1 4h0m1-3h0m1 5h0m4-5h0m1 6h0m2-5h0m6 1h0m0 4h0m2-6h0m7 7h0m1-9h0m0 9h0m8-9h0m19 8h0m3 1h0m7-3h0m13-1h0m-97 10h0m2 2h0m2-2h0m5-1h0m7 0h0m4 9h0m6-1h0m6 1h0m7-4h0m2 2h0m2-6h0m4-1h0m3 4h0m6-3h0m10 2h0m1-2h0m2-2h0m0 5h0m2 0h0m0 2h0m4-3h0m8 1h0m12 4h0m1-7h0m2 2h0m2-2h0m-99 16h0m0 4h0m3-9h0m4-1h0m1 2h0m6-1h0m1 1h0m5 2h0m3-3h0m1 6h0m2-8h0m0 4h0m6-3h0m2 3h0m7 1h0m5-3h0m4-1h0m2 2h0m5 3h0m13-6h0m6 5h0m3 2h0m1 3h0m2-9h0m2 7h0m1-6h0m1 3h0m1-1h0m9 3h0m0 4h0m3-9h0m-100 20h0m2-6h0m1-3h0m2 2h0m4-1h0m0 4h0m2-5h0m15 4h0m3 2h0m3-4h0m8 2h0m13-5h0m1 6h0m2 2h0m8 3h0m1-8h0m8-2h0m4 2h0m5-2h0m14 9h0m2-6h0m1-3h0m-98 15h0m0 1h0m1 6h0m1-9h0m7-2h0m7 11h0m5-8h0m0 5h0m7-8h0m1 5h0m5 4h0m7-6h0m3 2h0m0 4h0m7-4h0m2-2h0m1 1h0m2-2h0m3-2h0m1 1h0m8 7h0m5-3h0m2 2h0m1-3h0m0 4h0m10-3h0m1 3h0m1-8h0m3 9h0m5-5h0m0 1h0m1 6h0m1-9h0m-95 21h0m12 0h0m10-9h0m10-2h0m1 4h0m0 5h0m4-1h0m1-3h0m4-5h0m0 11h0m1-5h0m2-2h0m0 6h0m6-10h0m5 1h0m0 2h0m3-2h0m6 4h0m4 5h0m3 0h0m2 1h0m1-9h0m0 5h0m8-5h0m2 8h0m2-4h0m3-1h0m0 6h0m6 0h0m-98 12h0m2-8h0m3 6h0m1-6h0m4 0h0m9 7h0m1-1h0m7-9h0m3 0h0m0 9h0m6-5h0m1 3h0m4-4h0m3 3h0m4 5h0m1-2h0m4 0h0m2-5h0m6 4h0m1-8h0m1 9h0m8-3h0m8-3h0m4-3h0m1 11h0m1-10h0m1 0h0m10 10h0m2-8h0m-96 10h0m6 0h0m38-1h0m13 1h0m24 1h0m1 0h0m6-1h0m8 0h0" stroke="#d6b0f4" stroke-width="2.8" stroke-linecap="round" fill="none"/><path d="M0 -1h0m62 0h0m30-1h0m4 1h0m-98 12h0m29-2h0m4-4h0m8-1h0m5 1h0m4 3h0m10 2h0m6 0h0m25-6h0m5 7h0m-95 11h0m31-8h0m20-1h0m12 5h0m17-3h0m16 7h0m-85 3h0m12 3h0m13 7h0m24-2h0m18-5h0m1 4h0m-78 8h0m12 6h0m2-2h0m16 2h0m7-1h0m24 0h0m12-9h0m18 8h0m5-4h0m-94 16h0m25-3h0m14 0h0m1-3h0m0 8h0m10-2h0m7-3h0m14 3h0m25 0h0m-90 13h0m10 0h0m1 2h0m12-5h0m6 2h0m17-8h0m5 9h0m7-5h0m15 7h0m-79 4h0m2 2h0m22 6h0m43-4h0m9-3h0m5 0h0m15-1h0m-98 20h0m0-11h0m2 3h0m9 4h0m23-7h0m28 11h0m2-8h0m28 7h0m4-10h0m0 11h0m2-8h0" stroke="#e636de" stroke-width="2.8" stroke-linecap="round" fill="none"/><path d="M44 -1h0m-44 11h0m0-2h0m2-7h0m18 2h0m5 5h0m0-7h0m9 0h0m0-1h0m5 1h0m1-1h0m11 0h0m5 11h0m14-6h0m9 2h0m0 4h0m0-10h0m5 9h0m4-10h0m8 8h0m0 2h0m2-9h0m-98 17h0m11-2h0m3 2h0m12 5h0m13 0h0m3-3h0m5-4h0m8 2h0m5 0h0m3 5h0m2-9h0m0 5h0m8-2h0m23 1h0m-97 8h0m2-2h0m11 6h0m2 3h0m8 2h0m5-1h0m5-4h0m3-3h0m10 4h0m0 1h0m26-6h0m8-1h0m2-1h0m5 1h0m4 4h0m2-1h0m0 3h0m3-5h0m2-2h0m-89 20h0m1-8h0m12 7h0m21 4h0m4 0h0m6-6h0m1-4h0m8 2h0m9 3h0m1-4h0m6 0h0m-61 13h0m1 4h0m14 3h0m3-10h0m0 5h0m1-5h0m7 7h0m9-3h0m9-3h0m0 6h0m9-2h0m8-3h0m7 3h0m5 2h0m3-5h0m0 6h0m-91 8h0m1 6h0m14-4h0m14-4h0m3 4h0m15-4h0m3 7h0m12-4h0m7-2h0m1-3h0m5 10h0m10-5h0m6 3h0m5-4h0m1 6h0m-94 5h0m5-2h0m0 10h0m3-8h0m4 4h0m3 1h0m2-8h0m0 5h0m8-3h0m5 7h0m8-9h0m3 5h0m4-5h0m6 4h0m4 3h0m3-4h0m1-2h0m2 5h0m2-4h0m6-1h0m-73 18h0m8 2h0m18-1h0m1-5h0m11-1h0m6 9h0m24-3h0m12-4h0m4 5h0m6-5h0m6 3h0m-94 6h0m23 0h0m9 0h0m0-1h0m5 1h0m1-1h0m11 0h0m28 1h0m9-1h0m10 1h0" stroke="#f07d2e" stroke-width="2.8" stroke-linecap="round" fill="none"/><path d="M4 11h0m64-7h0m-62 13h0m28-5h0m33 5h0m-58 16h0m11-9h0m1 5h0m39 1h0m15 1h0m-76 16h0m2-10h0m91 9h0m3 1h0m2-10h0m-89 20h0m42 2h0m18-8h0m13 0h0m8 3h0m-80 14h0m29-6h0m51-1h0m-85 21h0m5-3h0m1-2h0m13 3h0m69-4h0m-77 10h0" stroke="#f5b8b2" stroke-width="2.8" stroke-linecap="round" fill="none"/><path d="M23 -1h0m7-1h0m5 0h0m3 1h0m38-1h0m14 0h0m-83 4h0m2 2h0m2 5h0m2-8h0m0 10h0m1-11h0m0 0h0m2 8h0m1-6h0m4 6h0m0-8h0m11 3h0m3 3h0m0 5h0m3-2h0m12-4h0m4-5h0m0 3h0m2 4h0m7-5h0m3-2h0m4 10h0m1-10h0m2 3h0m4 5h0m4-7h0m1-1h0m4 7h0m4 0h0m2-5h0m1 8h0m0-9h0m-92 20h0m1-5h0m1-3h0m1 8h0m12-2h0m1 1h0m8-3h0m2 6h0m4-1h0m3-5h0m2 3h0m9-4h0m4 6h0m1-3h0m3-4h0m3 1h0m0 5h0m1-8h0m0 9h0m3-10h0m1 7h0m6-5h0m1 8h0m1-3h0m2 4h0m1-11h0m9 3h0m1-2h0m4-1h0m0 5h0m0 4h0m3 2h0m3-9h0m5 7h0m1-5h0m-100 17h0m1-2h0m3-1h0m2-2h0m1 4h0m4-8h0m1 6h0m7-2h0m1-2h0m2 7h0m6-3h0m2-1h0m2 4h0m4 1h0m16-10h0m0 4h0m0 4h0m2 2h0m5-4h0m0 3h0m0 2h0m4-9h0m1 9h0m4-2h0m7-1h0m4-8h0m8 8h0m2 2h0m1-9h0m6 8h0m1-2h0m3-1h0m-100 14h0m3-5h0m2 4h0m2-2h0m1 3h0m9 3h0m4 0h0m1-8h0m3 7h0m4-1h0m3-4h0m1-2h0m1 4h0m3-1h0m2-3h0m6 0h0m1-2h0m1 7h0m5 3h0m7-6h0m0 2h0m1 4h0m5-9h0m1 7h0m12 0h0m3-8h0m0 3h0m6 5h0m3 1h0m2-9h0m1-1h0m3 8h0m3-5h0m-98 19h0m1-1h0m5-1h0m0 2h0m6-7h0m0 8h0m1-11h0m3 8h0m1-3h0m0 5h0m3-1h0m7-7h0m1 0h0m7 5h0m4 4h0m5-11h0m0 8h0m14-4h0m5 4h0m1-6h0m6 5h0m9 0h0m4 1h0m4-6h0m4 2h0m1-4h0m4 10h0m1-1h0m-96 14h0m4-8h0m1 4h0m5-4h0m5 0h0m3-2h0m6-1h0m5 10h0m2-9h0m8 10h0m1-1h0m2-9h0m4-1h0m2 11h0m6-2h0m6-2h0m3-3h0m0 6h0m6-3h0m3 2h0m8-9h0m1 2h0m3-2h0m0 2h0m8 9h0m4 0h0m-97 2h0m0 6h0m1 1h0m5-8h0m6 2h0m0 5h0m7-5h0m0 9h0m1 0h0m7-4h0m1-6h0m4 8h0m1-4h0m2 3h0m9-2h0m9-1h0m0 3h0m2 3h0m5 0h0m6-1h0m6-6h0m0 2h0m14-2h0m3-2h0m1 0h0m1 9h0m5-10h0m0 6h0m1 1h0m-98 12h0m3-3h0m1-1h0m9-2h0m10 7h0m2 2h0m0-6h0m7-2h0m0 7h0m5 0h0m3 1h0m2-4h0m8-7h0m4 3h0m6-2h0m1 7h0m1-4h0m2-4h0m1 5h0m3 0h0m1-2h0m6 1h0m1-1h0m2 7h0m1-2h0m1-5h0m2 6h0m6-6h0m3 6h0m1 1h0m2-8h0m0 2h0m2 4h0m3-3h0m1-1h0m-91 10h0m6-1h0m1-1h0m0 0h0m3 2h0m4-2h0m33 0h0m9 2h0m3-2h0m5 0h0m10 1h0m1-1h0m11 1h0" stroke="#ffffff" stroke-width="2.8" stroke-linecap="round" fill="none"/></g></pattern><pattern id="tW11" width="48" height="48" patternUnits="userSpaceOnUse"><rect width="48" height="48" fill="#e2a8d2"/><g transform="scale(0.5)"><path d="M82 -1h0m-75 10h0m14 1h0m38-10h0m-24 22h0m34-5h0m1-3h0m22 1h0m-30 18h0m13-4h0m-28 15h0m-42 8h0m32-1h0m38 2h0m-66 12h0m0 3h0m9-2h0m12-2h0m57 4h0m-47 8h0m18 4h0m15-7h0m5 3h0m4 19h0m-23 1h0" stroke="#b6e32c" stroke-width="3.2" stroke-linecap="round" fill="none"/><path d="M32 -2h0m24 1h0m-53 4h0m2 0h0m12 0h0m1 5h0m5-5h0m1 5h0m0-8h0m1 11h0m15-10h0m1 9h0m2 0h0m3-9h0m5 10h0m4-11h0m3 11h0m4-7h0m1-4h0m2 7h0m0 2h0m8 1h0m4-6h0m4-4h0m-82 20h0m10-4h0m8-1h0m8 7h0m4-2h0m1-2h0m2-5h0m1 3h0m11 0h0m1 7h0m6-4h0m10-6h0m16 9h0m1-2h0m6 2h0m7-2h0m0 1h0m2-8h0m2 7h0m-94 10h0m1-3h0m4 3h0m8 5h0m13-7h0m2 1h0m5 6h0m7-5h0m18 0h0m15-4h0m7 3h0m2-1h0m0 5h0m10-5h0m0 4h0m4-2h0m1-3h0m-88 11h0m2 7h0m2-4h0m2-3h0m49 2h0m3-4h0m0 3h0m7-1h0m-66 11h0m9 6h0m2-4h0m4 4h0m4-3h0m27 4h0m3-6h0m0 7h0m34-1h0m0 0h0m-93 11h0m7-7h0m18 4h0m8 6h0m15-9h0m1 10h0m8-4h0m1 0h0m13-7h0m7 3h0m12-1h0m3 9h0m3-4h0m-96 15h0m9-7h0m7 8h0m13-11h0m3 8h0m4-7h0m0 3h0m18 1h0m2-1h0m13 3h0m3-1h0m6 1h0m12 0h0m2-2h0m1 2h0m3 3h0m-94 5h0m0 3h0m6-2h0m9 0h0m16 6h0m6-5h0m5-5h0m3 1h0m5 2h0m5 8h0m0-11h0m1 8h0m17-2h0m2-3h0m17-3h0m4 3h0m0 3h0m-73 6h0m16 1h0m6 0h0m9-1h0m8 0h0m18 0h0" stroke="#d6b0f4" stroke-width="3.2" stroke-linecap="round" fill="none"/><path d="M52 -2h0m-34 2h0m23 0h0m29 11h0m7 0h0m-63 8h0m2 2h0m33-3h0m-33 25h0m57-4h0m6 0h0m9 12h0m-62 19h0m8 1h0m5-8h0m45 5h0m-79 11h0m22-1h0m61 5h0m-36 11h0m26-1h0m11-3h0m-71 6h0m23 0h0" stroke="#dc1c48" stroke-width="3.2" stroke-linecap="round" fill="none"/><path d="M3 -1h0m18 0h0m4-1h0m74 1h0m-98 2h0m0 10h0m6-2h0m3-6h0m4 5h0m6-6h0m6 1h0m4-3h0m3 4h0m1 6h0m4-9h0m17 6h0m9 4h0m4-10h0m4-1h0m2 6h0m0-6h0m1 0h0m2 6h0m4 0h0m7 0h0m3 2h0m6-7h0m0 10h0m-98 9h0m6-4h0m1 3h0m3 0h0m29 0h0m6 1h0m4-7h0m12 0h0m0 10h0m13-2h0m7 1h0m3-3h0m1-3h0m11 4h0m-96 5h0m1 7h0m12 1h0m7-8h0m11 1h0m5 5h0m2-4h0m4 8h0m4-8h0m3-2h0m0 5h0m15 0h0m20-4h0m4 6h0m8-7h0m1 7h0m-93 8h0m3 2h0m0 3h0m12-5h0m5 6h0m4-10h0m2 10h0m2-6h0m6 4h0m4 0h0m4-4h0m3 7h0m10 0h0m4-1h0m7 1h0m4-5h0m2 3h0m4-7h0m9-1h0m3-1h0m8 4h0m-100 8h0m2 11h0m7-6h0m1 1h0m2 5h0m2-11h0m3 5h0m8 4h0m2-5h0m4 2h0m4-1h0m15-4h0m3-1h0m1 1h0m23 7h0m19-8h0m2 11h0m-89 12h0m6-4h0m3-6h0m7 9h0m27-4h0m2 3h0m10-5h0m5 3h0m2-4h0m2 6h0m5-9h0m5 4h0m-81 14h0m8 5h0m1-4h0m10 4h0m2-8h0m2 7h0m11-3h0m15-5h0m10 1h0m0 8h0m6-6h0m4-2h0m3 0h0m3 8h0m6-6h0m3-4h0m7 0h0m5 5h0m-94 17h0m2-5h0m16 5h0m1-9h0m3 8h0m29-8h0m17 2h0m0 3h0m15-1h0m13 5h0m-98 2h0m19 1h0m10-2h0m8 1h0m30 0h0m4-1h0m2 0h0m1 0h0m22 1h0" stroke="#e636de" stroke-width="3.2" stroke-linecap="round" fill="none"/><path d="M15 -2h0m22 1h0m8 0h0m5-1h0m17 0h0m18 1h0m2 0h0m-89 2h0m5 5h0m28 1h0m5-2h0m7-1h0m4 2h0m4 0h0m7-3h0m6-1h0m19 4h0m1 4h0m10-9h0m-94 12h0m3 7h0m9-8h0m0 3h0m5 2h0m3-2h0m2-3h0m0 8h0m15-6h0m0 5h0m1 2h0m7-1h0m5 3h0m5-7h0m9 6h0m15-6h0m10-3h0m1 10h0m6-10h0m3 7h0m-92 6h0m2 3h0m3-2h0m2 3h0m5 4h0m9-2h0m10 3h0m2-2h0m6 2h0m3-3h0m2-6h0m1 4h0m0 2h0m6 1h0m3-7h0m10 2h0m17-3h0m-85 12h0m31 4h0m1 2h0m5 4h0m10-9h0m9 6h0m7-2h0m4-5h0m3 10h0m5 0h0m3-1h0m5-5h0m3 0h0m3 3h0m-92 10h0m17 3h0m2-8h0m9 7h0m1-2h0m6-1h0m4 2h0m6-6h0m1 8h0m8-2h0m8-2h0m6-3h0m0 7h0m2-1h0m14-2h0m9-1h0m3 1h0m-99 7h0m5-1h0m0 9h0m1-3h0m11-5h0m1 7h0m2 1h0m15-5h0m5-3h0m4-1h0m4 2h0m4 5h0m10-1h0m7-5h0m3 9h0m21-4h0m2 0h0m1-5h0m5-1h0m0 9h0m-99 8h0m7-4h0m7 0h0m1 3h0m10 2h0m12 4h0m5-10h0m2 8h0m9-1h0m2 1h0m8-8h0m2 8h0m1 2h0m3-9h0m17 7h0m10-3h0m-80 17h0m2-3h0m8-7h0m2 5h0m5-3h0m4 5h0m1 4h0m5-5h0m3 5h0m5-1h0m1-4h0m16 4h0m3-10h0m15 11h0m2 0h0m5-7h0m-94 9h0m66 1h0m30-1h0" stroke="#f07d2e" stroke-width="3.2" stroke-linecap="round" fill="none"/><path d="M11 -1h0m-2 2h0m20-1h0m19 3h0m11-2h0m10 2h0m16 3h0m4-2h0m-67 13h0m8-3h0m26 7h0m9-4h0m3-3h0m8 2h0m-71 16h0m11-2h0m0 4h0m7-1h0m6-7h0m2 7h0m3-6h0m6 0h0m14 3h0m2-5h0m2 10h0m6-9h0m2 2h0m3 5h0m8-7h0m1 5h0m12-1h0m2-4h0m0 5h0m-93 5h0m1 6h0m4 5h0m3-3h0m3-5h0m13-1h0m1 5h0m14-4h0m11 0h0m0 6h0m2-4h0m5 3h0m2-4h0m2 1h0m21 4h0m4-8h0m5 9h0m5-10h0m1 6h0m-96 10h0m10 7h0m2-11h0m9 10h0m15 0h0m5-6h0m2 3h0m8 4h0m4-3h0m10-2h0m14-2h0m1 6h0m5-10h0m2 9h0m1-4h0m8-1h0m-89 15h0m5-6h0m17 1h0m2-1h0m7 4h0m2 6h0m3-3h0m2-2h0m12 5h0m3-10h0m6 7h0m8-5h0m1 2h0m2 5h0m3-6h0m4-4h0m2 4h0m-85 10h0m4 8h0m21-8h0m10 5h0m9-1h0m2-3h0m0 5h0m43-8h0m7 2h0m-97 16h0m10-1h0m1 6h0m0-2h0m3-1h0m10-1h0m14-6h0m5 6h0m7-1h0m13-3h0m19-3h0m10 1h0m1 8h0m3-3h0m-87 7h0m20-1h0m19 3h0m11-2h0" stroke="#f5b8b2" stroke-width="3.2" stroke-linecap="round" fill="none"/><path d="M3 -1h0m18-1h0m50 1h0m10 0h0m-81 1h0m1 8h0m18-2h0m14 2h0m1-7h0m6 1h0m0 5h0m2-1h0m4 5h0m8-8h0m6 5h0m3-4h0m9 4h0m10-4h0m8 7h0m0-11h0m3 2h0m3-2h0m1 8h0m-94 10h0m6 5h0m7-11h0m9 2h0m5 7h0m22-8h0m4 4h0m5 0h0m2-4h0m4 10h0m7-3h0m13-8h0m0 5h0m-76 7h0m3 1h0m6 2h0m1-1h0m8 9h0m3-6h0m12 3h0m22 1h0m1-9h0m7 7h0m-75 10h0m23 2h0m2-4h0m3 2h0m2 1h0m2 5h0m4 0h0m19-9h0m8 0h0m1 5h0m3 3h0m16-3h0m1-4h0m5 5h0m7-3h0m-94 15h0m3 2h0m4-10h0m4 4h0m6-2h0m15 9h0m12-7h0m3 2h0m14 4h0m2-8h0m7 2h0m3 1h0m12-3h0m11 6h0m-100 12h0m23-2h0m5-5h0m18 3h0m10-3h0m0 10h0m2-10h0m6 6h0m9-1h0m5 5h0m11-9h0m7 6h0m-81 10h0m2 1h0m4-5h0m1 7h0m1-6h0m0 4h0m2-6h0m9 5h0m0 5h0m6-11h0m35 11h0m7-3h0m2-7h0m5 5h0m-83 17h0m1-10h0m1 1h0m4 7h0m4-6h0m8 7h0m4-5h0m6 0h0m2 2h0m9-5h0m7-1h0m5-1h0m6 3h0m1 4h0m3 1h0m2-6h0m5 9h0m9-3h0m1-4h0m0 7h0m3-7h0m5-1h0m-89 9h0m34 1h0m6 1h0m50-2h0m3 2h0m3-2h0" stroke="#ffffff" stroke-width="3.2" stroke-linecap="round" fill="none"/></g><g transform="scale(0.5)"><path d="M0 -1h0m9-1h0m61 1h0m10-2h0m5 2h0m11 0h0m-89 9h0m23-7h0m8 1h0m3 8h0m7-8h0m6 1h0m15 7h0m17-6h0m5 1h0m-93 16h0m6-4h0m5-4h0m4-1h0m4 3h0m10 3h0m7 4h0m2-2h0m4 2h0m10-9h0m3 9h0m7-5h0m6-5h0m3 3h0m4 6h0m5-1h0m11 1h0m5 0h0m-91 12h0m3-2h0m2-5h0m10 2h0m3-2h0m30 5h0m7-5h0m6 4h0m15 1h0m20 2h0m-93 9h0m5 0h0m17-3h0m0 8h0m2-5h0m1-6h0m5 0h0m2 10h0m3-5h0m14 2h0m1 4h0m9-7h0m18-3h0m1 4h0m8 2h0m-95 5h0m16 3h0m8-3h0m6 9h0m24-9h0m5 7h0m12-4h0m9 0h0m7-3h0m9 0h0m-96 20h0m5-6h0m6 4h0m8-5h0m6 3h0m3 1h0m14-3h0m0 9h0m16-7h0m9-4h0m6 7h0m3-5h0m5-2h0m8 10h0m7-2h0m5-6h0m-92 20h0m5-3h0m4 1h0m11-5h0m16 4h0m10-4h0m0 8h0m13-10h0m19 0h0m7 0h0m-91 22h0m4-8h0m5 7h0m2-2h0m7-3h0m4 0h0m3-4h0m12 6h0m6-4h0m2 3h0m20 3h0m5 2h0m1-9h0m2 6h0m4-7h0m3 8h0m5 2h0m3-5h0m2-4h0m6 9h0m-66 2h0m8 1h0m10 0h0m6 1h0" stroke="#1f8a84" stroke-width="4.4" stroke-linecap="round" fill="none"/></g></pattern><pattern id="tW12" width="72" height="72" patternUnits="userSpaceOnUse"><rect width="72" height="72" fill="#ea9890"/><g transform="scale(0.5)"><path d="M20 -1h0m-13 10h0m6 1h0m19-8h0m2 3h0m13 5h0m6 0h0m3-7h0m4 1h0m6 3h0m8-3h0m4 0h0m1 6h0m8-9h0m13 10h0m32-3h0m-123 11h0m17 0h0m9 2h0m10-3h0m30-2h0m21 2h0m13-2h0m1 5h0m-111 7h0m9 7h0m1-1h0m6-1h0m23-5h0m25-1h0m19 5h0m3-2h0m14-6h0m14 3h0m4 7h0m17-8h0m3 7h0m6-5h0m-139 19h0m47-3h0m3 2h0m10-8h0m10 8h0m23-9h0m5 2h0m21 3h0m9-1h0m-118 14h0m40 3h0m20 1h0m8-5h0m15-2h0m4 0h0m9 5h0m9-6h0m4 2h0m2-2h0m10-3h0m-112 20h0m4-4h0m4 5h0m46-8h0m0 10h0m18-11h0m21 3h0m5 0h0m0 5h0m-121 4h0m8 5h0m1-4h0m11 1h0m41 4h0m7 4h0m40-5h0m29 1h0m7-6h0m-146 20h0m1-5h0m26 7h0m59-5h0m9 3h0m13 2h0m11-8h0m0 3h0m1 1h0m15 0h0m9 2h0m1-5h0m-143 11h0m18 0h0m25 3h0m3 1h0m11-1h0m9-4h0m2 3h0m10 0h0m11 3h0m35 3h0m13-9h0m7 1h0m-145 15h0m21 1h0m9-5h0m3 5h0m17-1h0m19-4h0m36-1h0m39 5h0m-132 18h0m13 0h0m26-2h0m65 1h0m11-4h0m-128 9h0m11 6h0m11 2h0m1-11h0m0 5h0m28-2h0m14-3h0m0 6h0m2-2h0m16-3h0m0 5h0m3 0h0m11-5h0m4 1h0m4 1h0m4 5h0m31-5h0m0 6h0m4-6h0m-110 11h0m55-1h0" stroke="#d6b0f4" stroke-width="3.2" stroke-linecap="round" fill="none"/><path d="M-2 -1h0m16-1h0m13 0h0m5 1h0m42 0h0m11-1h0m18 0h0m11 1h0m2 0h0m26 0h0m-135 5h0m18 3h0m6 2h0m13 1h0m15-10h0m11 5h0m1-4h0m0 10h0m4-4h0m3 0h0m14-1h0m12-1h0m3-2h0m0 4h0m9-2h0m8 6h0m9-2h0m-135 8h0m31-4h0m9-1h0m7 9h0m7-3h0m6 5h0m4-5h0m1-4h0m4 5h0m20-6h0m1-1h0m1 10h0m4 1h0m40-9h0m9 3h0m-142 14h0m8-1h0m25 5h0m17-8h0m5-2h0m8 2h0m3-2h0m7 4h0m3 5h0m13-10h0m5 4h0m2 2h0m8 0h0m2 3h0m5-6h0m23 2h0m4-1h0m3-2h0m3 5h0m-146 9h0m4-2h0m6 7h0m5 0h0m1-7h0m7 1h0m10-1h0m0 5h0m0 4h0m7-11h0m15 4h0m18 0h0m5-4h0m2 4h0m12 5h0m7-4h0m1 3h0m4-6h0m6 7h0m12-8h0m0 3h0m7 2h0m10-3h0m5 1h0m4-2h0m-145 18h0m9-8h0m10 10h0m4-3h0m7-2h0m1 0h0m6-1h0m10-2h0m41 9h0m4-9h0m8-1h0m3 6h0m2 3h0m7 1h0m3-6h0m10 1h0m19 2h0m-143 7h0m5 0h0m10 0h0m0 7h0m9-1h0m8 0h0m10-2h0m2-4h0m0 3h0m0 5h0m2-1h0m4 1h0m2-9h0m2-2h0m5 9h0m3-7h0m9-2h0m1 11h0m1-7h0m17-4h0m4 2h0m8 2h0m3-3h0m2 8h0m3-5h0m5 0h0m0 4h0m6-1h0m7 2h0m16-6h0m-148 17h0m4-6h0m1 4h0m1 1h0m7 3h0m1-8h0m4 1h0m1 1h0m21 4h0m5-7h0m2 5h0m0 5h0m20-11h0m4 3h0m10 6h0m8-2h0m4-4h0m1-1h0m7 4h0m15-3h0m26 3h0m2 2h0m4-6h0m-142 12h0m1-1h0m7 1h0m6 0h0m2 0h0m13 5h0m3 1h0m3 2h0m4-3h0m16-2h0m15-2h0m34-1h0m6 2h0m13 4h0m1-8h0m1 5h0m6 1h0m-135 6h0m3 9h0m15 1h0m5-8h0m24 7h0m3-5h0m3-1h0m9 5h0m19-5h0m3 4h0m8-7h0m1 11h0m9-2h0m2-2h0m6 3h0m1-9h0m23 9h0m5-6h0m5-4h0m-145 15h0m0-2h0m1 6h0m3 2h0m35 1h0m2-6h0m11-1h0m2 5h0m11-7h0m0 9h0m2 1h0m2-1h0m10-6h0m10 5h0m1-8h0m3 7h0m3-6h0m19 1h0m1 8h0m2-10h0m3 7h0m14 1h0m2-7h0m1 2h0m3 3h0m3-4h0m0-2h0m1 6h0m-147 7h0m24 2h0m9 3h0m4 3h0m19-4h0m1 4h0m4-4h0m3 0h0m1-4h0m6 5h0m0 4h0m4-6h0m0 6h0m4-4h0m3 3h0m3-10h0m1 9h0m2-8h0m4 10h0m1-6h0m12-5h0m10 9h0m7-7h0m0 9h0m7-7h0m5 2h0m10-4h0m-143 21h0m2-11h0m7 0h0m0 1h0m2 5h0m5 4h0m9-9h0m4 9h0m5 1h0m4-2h0m2-2h0m4-7h0m1 6h0m11 0h0m19 3h0m1 2h0m11-1h0m1-7h0m17 7h0m6-1h0m3-6h0m2 8h0m1-5h0m1 5h0m3-10h0m7-1h0m16 11h0m2-11h0m-85 12h0m12 1h0" stroke="#dc1c48" stroke-width="3.2" stroke-linecap="round" fill="none"/><path d="M55 -2h0m10 1h0m68 0h0m-134 6h0m2-3h0m14 4h0m74 5h0m10-8h0m1 5h0m28-6h0m5 1h0m1 5h0m9-3h0m2-3h0m-145 15h0m4 5h0m29-10h0m17 10h0m7-5h0m13-3h0m20 6h0m12 3h0m14-5h0m1 3h0m11-4h0m16 0h0m-143 7h0m36 0h0m38 1h0m4 0h0m0 10h0m16-11h0m30 11h0m20-11h0m-146 12h0m2 7h0m16 3h0m6-4h0m7-2h0m41-2h0m30 4h0m5 0h0m37-6h0m2 7h0m-120 5h0m8 11h0m17-4h0m13-3h0m8-1h0m60 4h0m4-1h0m-136 13h0m20 2h0m2-2h0m30 4h0m3-4h0m29-7h0m1 9h0m9-1h0m38-4h0m5 7h0m1-8h0m6 4h0m-121 16h0m29-4h0m25-3h0m17 3h0m10 3h0m7-1h0m-111 11h0m21-7h0m6 3h0m32-3h0m6 10h0m3-5h0m13 3h0m1-1h0m4 1h0m11-8h0m27 3h0m14-3h0m6 7h0m-134 10h0m16 0h0m6-5h0m35 9h0m42-6h0m5 1h0m10 2h0m4 0h0m-125 11h0m4-1h0m26 5h0m12-10h0m67 5h0m14 6h0m21-5h0m-137 14h0m11-1h0m1-5h0m3 4h0m6 5h0m20-3h0m45-4h0m7 0h0m10-3h0m27 3h0m-138 12h0m29-2h0m25 8h0m10 1h0m68 0h0m12-7h0m-144 10h0m127 0h0m17 0h0" stroke="#e636de" stroke-width="3.2" stroke-linecap="round" fill="none"/><path d="M2 -1h0m6-1h0m29 1h0m6 0h0m9-1h0m7 1h0m12-1h0m12 1h0m9 0h0m28 0h0m10 0h0m16 0h0m-149 12h0m2-11h0m4 2h0m0-2h0m6 3h0m6 0h0m8-3h0m10 7h0m3 2h0m13-6h0m6 5h0m2 3h0m2-11h0m5 8h0m14-7h0m7 5h0m1-3h0m4 0h0m0 4h0m3-4h0m13 8h0m4-9h0m2 3h0m7 3h0m1 2h0m1-9h0m0 7h0m4-7h0m0 8h0m11-9h0m2 10h0m1-1h0m1-8h0m1 10h0m2-11h0m-144 20h0m1-4h0m1 0h0m1-4h0m1 6h0m9 3h0m1-6h0m3 2h0m2 5h0m1-3h0m16 0h0m6-3h0m1 5h0m7-8h0m5 2h0m5 1h0m9 2h0m2 4h0m3-3h0m8 4h0m7-3h0m3-4h0m10-2h0m12 4h0m3-5h0m4 4h0m4-3h0m6 1h0m2 2h0m4 2h0m2 3h0m5-2h0m1-4h0m1 0h0m1-4h0m-140 13h0m1 7h0m5-3h0m7-4h0m2 5h0m3-6h0m1 11h0m1-7h0m5 2h0m12 4h0m5 0h0m6-8h0m13 5h0m4 0h0m1 2h0m8-4h0m3-3h0m3-1h0m2 3h0m2 4h0m4 2h0m14-8h0m8-1h0m0 10h0m2-7h0m3 6h0m1-10h0m5 6h0m2-4h0m3 8h0m-131 10h0m1-6h0m24 5h0m1-4h0m2 8h0m7-1h0m9-9h0m1 4h0m0 2h0m1-4h0m2 7h0m13-1h0m1-4h0m1-3h0m1 7h0m1 1h0m3-4h0m4 0h0m4 3h0m5-6h0m11 4h0m4 4h0m9-11h0m3 2h0m2 8h0m4-2h0m2-5h0m9 0h0m3 1h0m3-4h0m1 7h0m7-7h0m5 8h0m1-6h0m-144 10h0m0 6h0m3-6h0m0 6h0m1 3h0m6 2h0m15-2h0m9-3h0m2-5h0m1 9h0m1-3h0m3 4h0m7-8h0m8 5h0m2 2h0m4-1h0m1-1h0m2-5h0m2-2h0m10 7h0m5-4h0m3 4h0m3-1h0m3 1h0m3-7h0m3 5h0m3 5h0m18-7h0m0 4h0m7-7h0m0 7h0m9-5h0m4 7h0m6-10h0m0 6h0m-144 17h0m0-2h0m1-4h0m6 4h0m7-8h0m13 0h0m1 5h0m3-2h0m4 0h0m2 3h0m4 2h0m15 0h0m1-6h0m3 1h0m3 7h0m2-11h0m2 7h0m3-4h0m0 4h0m12 3h0m1-6h0m4 6h0m0 1h0m6-6h0m3 3h0m4 1h0m12-2h0m6-1h0m13-2h0m8-3h0m5 10h0m0-2h0m-143 9h0m11 0h0m5 0h0m7-6h0m1 3h0m2-2h0m2 9h0m4-5h0m2-3h0m6 5h0m2 2h0m6 2h0m7-8h0m2-3h0m6 4h0m6 0h0m2 3h0m3 4h0m6-8h0m0 5h0m3-5h0m8 0h0m5 8h0m1-10h0m1 9h0m2-9h0m2 6h0m6-4h0m2 5h0m9-7h0m3-1h0m0 11h0m4-7h0m0 3h0m3-2h0m2 1h0m-126 16h0m1-5h0m4 4h0m6-1h0m9-7h0m3 1h0m1 0h0m3-2h0m6 5h0m9 4h0m2-5h0m2 1h0m2 5h0m1-5h0m10-4h0m4-1h0m0 11h0m4-3h0m12 1h0m1-8h0m4 4h0m2 0h0m7 6h0m1-3h0m3-6h0m9-2h0m13 2h0m0 9h0m-128 5h0m1 3h0m5-4h0m5 5h0m3 1h0m1-6h0m3 2h0m4 2h0m5 4h0m4-2h0m2-9h0m0 4h0m2-1h0m4 2h0m4-3h0m3 7h0m1-6h0m5 6h0m2-3h0m5 4h0m6-5h0m2 2h0m4-2h0m4-1h0m1 6h0m6 1h0m6-7h0m5-1h0m3 3h0m1 4h0m2-10h0m0 2h0m2 7h0m14-9h0m2 1h0m1 9h0m4-1h0m8-1h0m1-8h0m4 3h0m6 4h0m1 2h0m2-5h0m1 3h0m-142 15h0m6-1h0m5-6h0m1 8h0m2-9h0m1 7h0m11-3h0m6 0h0m3-6h0m6 8h0m2 3h0m7-5h0m3 0h0m1-4h0m2 0h0m1 5h0m11 2h0m4-6h0m1 4h0m6-1h0m3 2h0m6-3h0m9 0h0m3-4h0m0 4h0m3 5h0m4-1h0m9-4h0m4-5h0m6 1h0m18 9h0m-147 12h0m2-4h0m1 2h0m2-3h0m1-5h0m1 9h0m6-5h0m4 2h0m9-3h0m3 5h0m2-4h0m2-3h0m5 4h0m0 6h0m1-3h0m5-5h0m24-1h0m3 0h0m3 0h0m2 9h0m2-9h0m7 7h0m2-1h0m2-4h0m3 1h0m5 2h0m3-7h0m5 9h0m5-1h0m3-4h0m7-2h0m2 7h0m8-6h0m4-1h0m1 2h0m9 6h0m2-4h0m1 2h0m-148 10h0m3-3h0m1 8h0m6-1h0m8-5h0m10-1h0m8 1h0m3 6h0m5-8h0m1 8h0m8-3h0m1 2h0m4-6h0m3 7h0m8-5h0m3 1h0m1 3h0m3-5h0m9 6h0m6-5h0m2 1h0m1 4h0m1-2h0m7 0h0m1-3h0m1-6h0m7 6h0m11 5h0m10-7h0m0 7h0m2-4h0m2-6h0m8 5h0m3-3h0m1 8h0m-147 1h0m4 0h0m0 2h0m6 1h0m14-3h0m36 0h0m19 1h0m32 1h0m11-1h0m4 0h0m11-1h0m4 1h0m3-1h0" stroke="#f07d2e" stroke-width="3.2" stroke-linecap="round" fill="none"/><path d="M78 -2h0m33 0h0m8 1h0m20-1h0m-137 11h0m2-9h0m5 0h0m3 6h0m6-5h0m2 4h0m2 1h0m6-2h0m3-4h0m16 8h0m18-8h0m18 10h0m12-4h0m7 5h0m2-5h0m6-5h0m11 2h0m3 0h0m6-2h0m5 1h0m11 7h0m-125 12h0m1-8h0m8 4h0m4-4h0m2 1h0m5 3h0m6 2h0m7 2h0m5-9h0m7 0h0m2 1h0m4-1h0m11 4h0m16 2h0m5 5h0m2-9h0m1 4h0m28 3h0m-137 9h0m3-6h0m15 4h0m1 5h0m6-6h0m2 6h0m3 1h0m1-7h0m4 4h0m2 2h0m22-2h0m5 2h0m6-3h0m9-3h0m23 1h0m2 4h0m8-6h0m1 8h0m16-2h0m5-2h0m10 0h0m3-6h0m-146 12h0m4 6h0m2 0h0m2-3h0m3-1h0m25 4h0m2 0h0m4-3h0m32 0h0m5 8h0m1-3h0m4-6h0m0 9h0m4-6h0m1-2h0m2-2h0m4 1h0m17-2h0m0 5h0m4 6h0m4-5h0m16-6h0m8 0h0m-144 21h0m1-7h0m0 9h0m28-1h0m22 0h0m3-5h0m7 0h0m3 0h0m5 0h0m7 1h0m4-2h0m26-2h0m3 3h0m3 2h0m14-7h0m5 10h0m1-6h0m2-3h0m8 2h0m2 6h0m1 2h0m0-9h0m-132 17h0m6 0h0m17-3h0m5-4h0m9 7h0m16 1h0m3 2h0m17-8h0m5-1h0m0 3h0m10 3h0m5-5h0m1 6h0m2-3h0m6 6h0m12-8h0m0 2h0m3-4h0m3 2h0m1-3h0m6 5h0m-140 9h0m2 5h0m7 0h0m1-2h0m16 1h0m7 2h0m16-4h0m4 0h0m7 6h0m13-3h0m1 3h0m40 1h0m6-10h0m0 9h0m3-3h0m3-4h0m15 1h0m3-2h0m2 5h0m-146 9h0m2 4h0m1-8h0m0 1h0m3 7h0m6-1h0m2-7h0m3 9h0m11-4h0m12-5h0m2 9h0m4 1h0m17-10h0m0 4h0m10-1h0m5 5h0m4-3h0m8-2h0m11-1h0m0 6h0m7-1h0m2 2h0m1-1h0m15 1h0m16-9h0m2 4h0m2 4h0m1-8h0m0 1h0m-146 17h0m5 1h0m23-7h0m0 6h0m13 3h0m16-8h0m9-1h0m2 8h0m14 2h0m3-1h0m9-3h0m15 1h0m0 3h0m7-3h0m1-7h0m7 2h0m5 0h0m7 8h0m8-4h0m-132 15h0m1-8h0m11 9h0m5 1h0m3-9h0m24 9h0m4-7h0m10 1h0m13-3h0m19 7h0m6-5h0m1-1h0m3 6h0m12-3h0m1 1h0m4-3h0m2-2h0m6 9h0m-136 3h0m7 1h0m8 7h0m16-6h0m11 3h0m4-7h0m2 5h0m2-4h0m6 10h0m7-6h0m8 1h0m19-6h0m18 0h0m5 7h0m9-2h0m4-4h0m1 5h0m8 3h0m4-1h0m5-6h0m-146 15h0m4 2h0m12 2h0m1-6h0m19-2h0m9 2h0m7 0h0m7 1h0m15 0h0m3-1h0m2 7h0m18-3h0m15 3h0m5-7h0m3 8h0m4-4h0m2-3h0m0 2h0m7-6h0m7 10h0m4-5h0m-139 7h0m5 0h0m9 1h0m13-1h0m34 0h0m45 1h0m20 0h0m5 1h0" stroke="#f5b8b2" stroke-width="3.2" stroke-linecap="round" fill="none"/><path d="M28 -2h0m4 1h0m6 0h0m10-1h0m44 0h0m8 1h0m3-1h0m-103 10h0m3 0h0m2 3h0m17-11h0m3 5h0m13 4h0m3-6h0m2-1h0m0 4h0m0-6h0m4 0h0m2 1h0m2 7h0m2-5h0m6 5h0m6-6h0m1-1h0m6 6h0m9-4h0m17-2h0m12 9h0m18 1h0m13-2h0m3-1h0m-142 13h0m1-6h0m4-2h0m0 6h0m2 1h0m1-7h0m5 0h0m6-1h0m0 4h0m1 2h0m4-5h0m2-1h0m0 9h0m11 0h0m6-6h0m22 6h0m9 0h0m1-2h0m3-4h0m2-1h0m0 6h0m14-7h0m0 3h0m0 5h0m6-5h0m10-1h0m3 8h0m4-8h0m3 6h0m1-6h0m1 4h0m0 1h0m4 2h0m12-8h0m6 7h0m-148 13h0m5-2h0m1-4h0m6-4h0m3 2h0m1 9h0m4 0h0m4 0h0m8-10h0m5 4h0m5 2h0m1-2h0m1-3h0m1-2h0m4 5h0m4-2h0m3 0h0m0 5h0m0 3h0m3-6h0m5-5h0m6 0h0m20 9h0m11 0h0m4-6h0m9 8h0m8-9h0m2 3h0m2 2h0m14-4h0m4 7h0m-127 13h0m3-5h0m5-2h0m12 1h0m8 4h0m1-8h0m2 9h0m4-9h0m3 5h0m4-4h0m0 3h0m1 4h0m8-9h0m17 8h0m5 2h0m8-6h0m12 7h0m21-4h0m10 1h0m1 3h0m-134 2h0m1 2h0m3 7h0m1-4h0m2-4h0m5-1h0m0 9h0m2-5h0m2-1h0m2-2h0m2 6h0m7-2h0m8-2h0m3 3h0m2 2h0m9-8h0m0 3h0m19-2h0m5 8h0m6-9h0m4 4h0m21-2h0m4 1h0m2 6h0m3-9h0m18 2h0m2 5h0m-141 12h0m2-3h0m1-4h0m7 8h0m2-2h0m2-6h0m9 2h0m9 0h0m19-2h0m6 10h0m5-6h0m8-4h0m12 0h0m1 4h0m10 2h0m8-6h0m25-1h0m8 10h0m0 1h0m10-3h0m2-3h0m1-4h0m-127 19h0m8-2h0m4 5h0m2-10h0m0 2h0m9 2h0m14 2h0m9 4h0m1-4h0m5-7h0m5 1h0m3 0h0m6-1h0m6 11h0m5-11h0m1 10h0m8-5h0m9 0h0m8 0h0m0 5h0m5 0h0m6 1h0m2-8h0m5-2h0m-141 22h0m8 0h0m4-10h0m5 8h0m10-3h0m11-3h0m2 4h0m8-6h0m1 3h0m0 5h0m8-7h0m3 6h0m2 2h0m5-4h0m11 5h0m7-11h0m4 5h0m9-3h0m9 1h0m29 8h0m1-9h0m2 8h0m2-8h0m3 9h0m-141 9h0m7 2h0m1-7h0m4 2h0m8-5h0m1 10h0m5-1h0m1-8h0m9 9h0m4-8h0m20-1h0m13 2h0m5 6h0m1-3h0m9 2h0m6-8h0m5 7h0m3-6h0m18 1h0m2-2h0m8 7h0m3 0h0m11 1h0m-147 11h0m7-5h0m3-2h0m1 3h0m2 8h0m9-9h0m1 7h0m4-3h0m4 2h0m13-5h0m2 1h0m1 3h0m6 0h0m15-3h0m6-4h0m0 4h0m5 7h0m3-3h0m8-4h0m5 2h0m3 3h0m19-7h0m2 5h0m11 3h0m3-4h0m7-6h0m1 6h0m2 5h0m1-4h0m-142 7h0m4 9h0m11-9h0m4-2h0m17 0h0m1 9h0m2-9h0m9 2h0m7 0h0m3 1h0m6 0h0m16 0h0m3-1h0m10 9h0m1-10h0m3 4h0m6-2h0m0 6h0m5-7h0m13 6h0m16 2h0m7-8h0m-134 12h0m2 3h0m8-2h0m3 4h0m5 3h0m3-3h0m1 4h0m6 0h0m7-5h0m2-5h0m1 9h0m15-6h0m6-2h0m11 6h0m11-5h0m1 7h0m3-10h0m5 11h0m3-1h0m5-7h0m2-3h0m6 7h0m9 1h0m8 0h0m1-8h0m5 7h0m-117 5h0m21 0h0m0 2h0m4-2h0m2 1h0m16 1h0m1-1h0m32 0h0" stroke="#ffffff" stroke-width="3.2" stroke-linecap="round" fill="none"/></g><g transform="scale(0.5)"><path d="M-1 -3h0m2 0h0m16 0h0m10 2h0m33-1h0m30-1h0m28-1h0m19 1h0m6 0h0m2 0h0m-141 12h0m12 2h0m10-1h0m1-8h0m6-1h0m9 5h0m9-1h0m21 1h0m4-5h0m7 9h0m1-10h0m15 0h0m12 2h0m6 1h0m6 5h0m4-2h0m10 5h0m-136 6h0m22 6h0m41 0h0m9-3h0m12-3h0m10-1h0m2 2h0m9-5h0m39 4h0m-147 17h0m7-3h0m14 0h0m17 1h0m50 0h0m26-3h0m4-4h0m13 0h0m0 2h0m5-1h0m8 8h0m-139 10h0m10 0h0m20-5h0m16-1h0m9 0h0m6 4h0m6 2h0m26-8h0m6 4h0m11 4h0m3-7h0m7 10h0m12-6h0m12 3h0m-143 10h0m10 5h0m43-3h0m14-3h0m37 0h0m9-2h0m14 8h0m17-5h0m-144 9h0m23-3h0m3 1h0m4 9h0m8-10h0m3 4h0m16 5h0m11-9h0m11 5h0m12 2h0m43 0h0m-140 11h0m10-1h0m28 1h0m10-3h0m13 5h0m7 2h0m3-1h0m22-5h0m11 6h0m18-9h0m8-1h0m14 6h0m-146 13h0m2-1h0m6 3h0m5 0h0m7-7h0m6 5h0m19-5h0m6 2h0m0 6h0m6 0h0m16-1h0m15 0h0m7 0h0m12-6h0m7 7h0m14-2h0m16-1h0m2-1h0m6 3h0m-150 12h0m22-2h0m1 3h0m8-9h0m23 10h0m13-1h0m33-5h0m21-3h0m9 8h0m4-4h0m10 3h0m-105 3h0m52 2h0m10 7h0m9-3h0m31-1h0m-142 10h0m8 0h0m10-2h0m7 9h0m28-8h0m8 4h0m2-5h0m10 0h0m5 5h0m7-6h0m20 4h0m16-4h0m16 8h0m3-6h0m4 1h0m-142 18h0m0-5h0m1-3h0m1 8h0m14-5h0m2 5h0m6-5h0m4 7h0m6-7h0m13-3h0m14 9h0m29-7h0m1 6h0m25-6h0m3 5h0m19 1h0m6 0h0m0-5h0m1-3h0m1 8h0m-118 5h0m6-1h0m43 0h0m8-1h0m15 0h0m12 2h0m6 1h0" stroke="#16807c" stroke-width="5.6" stroke-linecap="round" fill="none"/><path d="M27 -1h0m0 3h0m49-1h0m8-1h0m33 3h0m6 5h0m-100 15h0m74-5h0m-92 13h0m14 0h0m17 1h0m93-7h0m0 2h0m13 7h0m-129 10h0m20-5h0m25-1h0m44 2h0m11 4h0m3-7h0m7 10h0m-66 9h0m51-3h0m-104 10h0m30 7h0m104-3h0m-130 10h0m51 3h0m69-8h0m-81 16h0m0 6h0m63 0h0m14-2h0m16-1h0m2-1h0m-90 17h0m90-2h0m-43 12h0m-77 13h0m28-8h0m68-2h0m19 2h0m-138 14h0m1-3h0m1 8h0m14-5h0m12 7h0m62-8h0m1 6h0m28-1h0m19 1h0m6-5h0m1-3h0m1 8h0m-69 4h0m8-1h0" stroke="#d0e4e0" stroke-width="2.0" stroke-linecap="round" fill="none"/></g></pattern><pattern id="tW13" width="48" height="48" patternUnits="userSpaceOnUse"><rect width="48" height="48" fill="#deb0d8"/><g transform="scale(0.5)"><path d="M15 -1h0m27 0h0m2 0h0m-41 10h0m11-8h0m10-1h0m8 11h0m2-10h0m0 9h0m1-3h0m0-7h0m3 9h0m3 2h0m2-6h0m0 6h0m14-3h0m1-8h0m1 10h0m7-6h0m2-3h0m3 10h0m4-11h0m0 6h0m3-4h0m2 2h0m2-4h0m10 1h0m-94 11h0m5 7h0m2-7h0m0 2h0m4-1h0m3 9h0m9-6h0m0 4h0m5-5h0m12 2h0m8 6h0m3-7h0m12 4h0m1-3h0m14 6h0m1-7h0m3 1h0m1-1h0m5-4h0m7 11h0m1-11h0m-84 21h0m8-9h0m0 1h0m8 1h0m14 5h0m3 3h0m3-9h0m3 3h0m4-3h0m4 9h0m2-1h0m9-5h0m2-4h0m0 8h0m9-3h0m3-2h0m10 7h0m-87 3h0m10 0h0m4 4h0m6 2h0m5-1h0m7-5h0m12 5h0m7 3h0m5-5h0m2 6h0m1-3h0m1 4h0m9-6h0m5 3h0m8-3h0m3-5h0m1 1h0m0 9h0m-91 10h0m0-5h0m3-3h0m4 4h0m3 4h0m2-2h0m8-2h0m2 1h0m3-3h0m3 9h0m2-8h0m5-2h0m0 2h0m2 0h0m9 1h0m1 7h0m6-8h0m6-1h0m4 2h0m7 7h0m4-3h0m3-5h0m3-3h0m2 0h0m7 8h0m1 2h0m6-7h0m0 5h0m-99 5h0m1 6h0m2-3h0m1 6h0m3-8h0m5 8h0m7-3h0m2 0h0m6 4h0m5-5h0m16 3h0m5 1h0m11-7h0m1 1h0m0 6h0m4 1h0m2-2h0m1-9h0m3 4h0m5 2h0m7-1h0m1-4h0m6 10h0m2-10h0m1 6h0m2-3h0m1 6h0m-98 5h0m3 5h0m1 2h0m4-5h0m1 2h0m5-4h0m1 4h0m4-7h0m3 1h0m0 3h0m5-1h0m4-2h0m0 8h0m6 2h0m3-3h0m8 3h0m1-7h0m8 1h0m11-1h0m0 4h0m5-5h0m3 8h0m6-1h0m14-7h0m3 5h0m-100 11h0m5-4h0m5 2h0m7 6h0m2-10h0m5 0h0m3 1h0m3-2h0m6 5h0m8 6h0m2 0h0m1-11h0m1 3h0m32 5h0m11-4h0m5 3h0m-80 6h0m10-1h0m10 1h0m1-1h0m23 0h0m10 1h0m7-1h0m3 2h0m4-2h0m10 1h0" stroke="#d6b0f4" stroke-width="3.2" stroke-linecap="round" fill="none"/><path d="M-2 -1h0m1-1h0m40 1h0m38-2h0m9 1h0m8 1h0m1-1h0m-94 4h0m13 9h0m1-5h0m4 4h0m4 1h0m2-10h0m2 4h0m1-5h0m1 9h0m8-9h0m4 8h0m7 0h0m2-8h0m3 10h0m3-2h0m6-2h0m4 0h0m0 5h0m7-2h0m13-1h0m5-5h0m6-1h0m-90 17h0m1-5h0m15 2h0m6 0h0m19 3h0m2 4h0m7-4h0m5-4h0m6 7h0m7-6h0m9 4h0m2 0h0m-88 4h0m0 11h0m3-2h0m6 0h0m6-4h0m1 5h0m4-4h0m5 1h0m1-3h0m6 6h0m3-10h0m5 0h0m4 11h0m12 0h0m8-9h0m1-2h0m1 4h0m3 7h0m3-7h0m8-4h0m5 0h0m2 3h0m3 3h0m6-6h0m0 11h0m3-2h0m-97 6h0m0 4h0m18 2h0m5-8h0m6 0h0m6 7h0m1-2h0m18 5h0m14-5h0m6 4h0m9-7h0m6 6h0m7-2h0m0-4h0m-93 17h0m17-2h0m8 2h0m8-3h0m7-5h0m0 10h0m15-5h0m11 3h0m10-2h0m7 3h0m3-6h0m-84 15h0m7-1h0m4-3h0m7-1h0m3 5h0m3-3h0m0 7h0m3-7h0m6-2h0m9 0h0m2 4h0m9-3h0m17 9h0m6-2h0m11-2h0m-95 14h0m14-9h0m6 8h0m7 1h0m10-2h0m4-6h0m2 2h0m5-3h0m2 9h0m10-3h0m7-4h0m7 7h0m18 0h0m1-6h0m3 6h0m-95 14h0m1-1h0m7-3h0m5-6h0m0 5h0m5 1h0m5 2h0m7 0h0m2-7h0m8 0h0m1 9h0m3-8h0m8 2h0m8-2h0m2 6h0m2-1h0m2-7h0m0 2h0m13 6h0m6-7h0m1 5h0m2 3h0m8 1h0m1-1h0m-94 4h0m24-1h0m3-1h0m9 0h0m13 0h0m47 2h0" stroke="#dc1c48" stroke-width="3.2" stroke-linecap="round" fill="none"/><path d="M70 -2h0m-69 8h0m48-1h0m1 4h0m20-9h0m22 11h0m5-5h0m-87 17h0m27-4h0m25 4h0m-63 8h0m9-6h0m38 5h0m4 2h0m14 2h0m14-1h0m17-2h0m-46 5h0m3 4h0m7-2h0m18 4h0m7 3h0m6-4h0m-90 15h0m4 2h0m36-2h0m56 0h0m-78 13h0m18-5h0m18 5h0m-51 7h0m1-2h0m48 1h0m17 7h0m9 1h0m6-7h0m1 3h0m-84 14h0m38-1h0m31 2h0m3-7h0m24 6h0m-27 3h0" stroke="#e636de" stroke-width="3.2" stroke-linecap="round" fill="none"/><path d="M3 0h0m14 16h0m56 7h0m-17 6h0m-38 20h0m41 5h0m-54 14h0m15-8h0m29 11h0m2-8h0m-39 13h0m31 1h0m7 3h0m-32 5h0m18 4h0m15 4h0m-48 3h0" stroke="#f07d2e" stroke-width="3.2" stroke-linecap="round" fill="none"/><path d="M10 -2h0m8 0h0m29 0h0m8 0h0m13 0h0m-70 5h0m8-1h0m2 5h0m4 2h0m3-6h0m5 2h0m1 2h0m1-4h0m28 6h0m12-5h0m11-2h0m0 6h0m5-6h0m4 4h0m0 4h0m4-8h0m1 4h0m3-6h0m2 7h0m2-4h0m-92 11h0m1 7h0m10-5h0m1 2h0m16 3h0m2-4h0m10-3h0m0 9h0m4-7h0m8 0h0m0 3h0m5-5h0m13 1h0m8 6h0m3-7h0m5 2h0m3 1h0m7-3h0m-98 16h0m1-5h0m8 2h0m1 2h0m10 3h0m8-2h0m4-2h0m18-4h0m9 4h0m24-2h0m5 5h0m2-5h0m6 4h0m1-5h0m-99 20h0m11-3h0m1-4h0m1 1h0m1 6h0m2 2h0m17-1h0m2-10h0m3 6h0m6 1h0m1-2h0m3-4h0m28 0h0m6-1h0m14 9h0m-94 3h0m12 2h0m1 3h0m0 5h0m6-10h0m6 9h0m7-2h0m15 0h0m21-3h0m3-3h0m5 8h0m9-6h0m6 0h0m2 8h0m3-11h0m-87 16h0m12-4h0m2 4h0m9 4h0m3-2h0m1 0h0m4 3h0m2-3h0m3-4h0m2 4h0m6 5h0m2-4h0m4-2h0m5 2h0m3-6h0m1 4h0m2-5h0m4 7h0m14 1h0m2-6h0m-89 18h0m18 0h0m16-4h0m8 3h0m19 3h0m6-7h0m6 5h0m7-8h0m2 5h0m14 3h0m-97 9h0m0-5h0m3 9h0m7 1h0m2-6h0m4-1h0m2 7h0m2-3h0m27 3h0m3-8h0m3-2h0m0 6h0m1 3h0m1 1h0m1-3h0m2-6h0m7 7h0m3 2h0m1-5h0m6 2h0m1-2h0m20-5h0m0 5h0m-90 9h0m9 1h0m58-1h0m5 0h0m8 0h0m4-2h0" stroke="#f5b8b2" stroke-width="3.2" stroke-linecap="round" fill="none"/><path d="M7 -1h0m7-1h0m64 0h0m-75 11h0m1-9h0m5 5h0m13-3h0m3 7h0m5-6h0m0 4h0m4-3h0m5 0h0m8-4h0m5 2h0m5 9h0m1-7h0m4-3h0m7 4h0m7 5h0m13-10h0m10 9h0m-101 9h0m14 0h0m8 4h0m5-2h0m3-3h0m7-3h0m0 6h0m4-7h0m6 5h0m9 3h0m10-3h0m4 0h0m1-2h0m18 2h0m5-2h0m2 2h0m-96 9h0m6 4h0m8 4h0m2-8h0m6 4h0m5-6h0m1 6h0m1 4h0m9-11h0m1 9h0m1-2h0m1 3h0m2-9h0m15 10h0m1-11h0m5 11h0m12-1h0m1-9h0m0 5h0m8 3h0m9-6h0m2 0h0m-93 12h0m2 4h0m4-3h0m8 0h0m7 1h0m1 2h0m1 3h0m3-6h0m6 1h0m8 0h0m7 2h0m1-3h0m7-2h0m2 8h0m2-4h0m6-2h0m4 0h0m2 4h0m1-8h0m4 6h0m8-4h0m12 1h0m-94 14h0m3-5h0m1 7h0m3-6h0m8 10h0m8-11h0m9 11h0m3 0h0m2-11h0m2 1h0m3 4h0m5-5h0m0 2h0m0 9h0m2-3h0m4 3h0m4-1h0m2-1h0m5-4h0m3-1h0m8-2h0m0 9h0m3-3h0m5-3h0m1-5h0m-81 14h0m6 0h0m22 6h0m19-3h0m21-2h0m3-1h0m1 7h0m2-3h0m3-4h0m7 4h0m-92 6h0m1 0h0m8 2h0m11 1h0m10 2h0m3 1h0m1 4h0m1-8h0m9-1h0m14 6h0m3-5h0m0 3h0m6 3h0m7-8h0m5 6h0m4 1h0m5-5h0m1 9h0m1-11h0m1 11h0m5-11h0m1 0h0m-88 23h0m0-10h0m7 9h0m6-7h0m3 3h0m5 0h0m3 2h0m8-8h0m5 8h0m11-6h0m7 7h0m6-2h0m10 3h0m3-6h0m6 4h0m3 0h0m1-5h0m-87 9h0m18 2h0m25-2h0m5 2h0m10-1h0m27-1h0" stroke="#ffffff" stroke-width="3.2" stroke-linecap="round" fill="none"/></g><g transform="scale(0.5)"><path d="M19 -1h0m23 0h0m34 0h0m3-2h0m3 1h0m-81 3h0m0-1h0m7 10h0m2-1h0m11-6h0m0 4h0m4-4h0m8 2h0m5-5h0m9 11h0m7-11h0m3 4h0m8-4h0m5 7h0m12 2h0m7-9h0m8 1h0m0-1h0m-99 20h0m3-4h0m11 1h0m8-3h0m8-1h0m1 7h0m5-2h0m10-6h0m11 7h0m9-3h0m11 3h0m3-7h0m14 2h0m2 6h0m3-4h0m-97 18h0m9-8h0m2 7h0m5-6h0m1 8h0m6-7h0m2-2h0m10 5h0m2-6h0m4 10h0m15-2h0m4-1h0m2-6h0m11 0h0m0 3h0m9 1h0m5 5h0m9-1h0m-99 10h0m3-3h0m10-1h0m14 2h0m1 2h0m3-7h0m9 7h0m15-2h0m3-1h0m1 6h0m3-3h0m6-3h0m11-5h0m0 9h0m2-1h0m10-1h0m5 1h0m3-3h0m-97 15h0m8-4h0m6 0h0m8-2h0m5 8h0m5-2h0m12-3h0m6 4h0m22-4h0m3 1h0m7 5h0m6-8h0m3-3h0m5 8h0m-97 5h0m3-1h0m1 8h0m10-1h0m6-2h0m21-2h0m1 8h0m14-8h0m5 4h0m1-3h0m7 5h0m2-6h0m14 4h0m11-6h0m3-1h0m1 8h0m-98 11h0m3-5h0m0 9h0m12-1h0m5-10h0m9 9h0m6-8h0m0 10h0m2-8h0m6 4h0m7-6h0m3 10h0m2-3h0m6 3h0m14-5h0m7-4h0m6 7h0m8-2h0m3-5h0m-98 11h0m4 8h0m14-9h0m0 11h0m10-3h0m8-6h0m5 9h0m0-5h0m34 5h0m2-6h0m1 4h0m3 1h0m11-2h0m4-7h0m-96 12h0m0-1h0m20 3h0m4 0h0m13-3h0m16 0h0m11 0h0m24 0h0m8 1h0m0-1h0" stroke="#1f8a86" stroke-width="4.6" stroke-linecap="round" fill="none"/><path d="M42 -1h0m-41 2h0m7 9h0m13-7h0m12 2h0m5-5h0m19 4h0m32-4h0m8 1h0m-96 15h0m11 1h0m16-4h0m1 7h0m15-8h0m11 7h0m37-5h0m5 2h0m-88 10h0m8 9h0m8-9h0m37 0h0m11 0h0m-63 14h0m14 2h0m1 2h0m12 0h0m15-2h0m7 2h0m17 1h0m2-1h0m15 0h0m-94 12h0m14-4h0m13 6h0m23-1h0m32 2h0m9-11h0m5 8h0m-93 12h0m10-1h0m28 4h0m14-8h0m6 1h0m23 3h0m-63 5h0m9 9h0m6-8h0m0 10h0m8-4h0m18 4h0m14-5h0m7-4h0m-77 19h0m37 2h0m36-6h0m1 4h0m-78 4h0m37-1h0m51 0h0m8 1h0" stroke="#d8e8e8" stroke-width="1.8" stroke-linecap="round" fill="none"/></g></pattern><pattern id="tWh" width="48" height="48" patternUnits="userSpaceOnUse"><rect width="48" height="48" fill="#f4e6f2"/><g transform="scale(0.5)"><path d="M26 7h0m8-6h0m13 6h0m-19 31h0m-19 14h0m36 14h0m35-1h0m-13 8h0m-58 20h0m64-9h0m-39 13h0" stroke="#b6e32c" stroke-width="3.0" stroke-linecap="round" fill="none"/><path d="M0 -1h0m46 0h0m9 0h0m5 0h0m13-1h0m10 1h0m3-1h0m6 1h0m4 0h0m-98 10h0m5-8h0m2 4h0m5 2h0m1-3h0m0-4h0m16 0h0m6 10h0m4-8h0m0 8h0m3-5h0m4 0h0m3-3h0m4 9h0m5-4h0m10-5h0m14-2h0m14 9h0m-94 9h0m7-5h0m7 6h0m6-1h0m3 4h0m6-6h0m12-3h0m13 3h0m16 4h0m4-1h0m6-4h0m3 1h0m2 7h0m11-5h0m-86 17h0m2-6h0m7 6h0m3-2h0m7-1h0m3-1h0m8 2h0m1-5h0m6 2h0m6-1h0m4-3h0m10 8h0m10-9h0m2 8h0m4-4h0m0 4h0m5-7h0m-89 14h0m2 4h0m6 0h0m3-2h0m13 1h0m6 3h0m1 1h0m28-3h0m2-5h0m16 2h0m1-3h0m0 9h0m18-7h0m2 4h0m-99 7h0m4 0h0m5 5h0m1-8h0m3 0h0m5 0h0m2 9h0m3-6h0m9 8h0m2-1h0m4 1h0m11-9h0m1 7h0m1-1h0m0 0h0m17-2h0m6 1h0m7-3h0m10-4h0m0 3h0m0 6h0m5-6h0m4 0h0m-99 12h0m2-1h0m21 2h0m13-1h0m37-3h0m19 9h0m4-6h0m2-1h0m-96 15h0m1 6h0m7-11h0m12 7h0m4 3h0m1 0h0m16-8h0m6-1h0m0 4h0m7 5h0m6 1h0m10-8h0m2 1h0m0 5h0m2-7h0m0 7h0m6-6h0m0 5h0m5-6h0m2-1h0m5 4h0m4 0h0m1 6h0m-99 4h0m1 8h0m4-2h0m9-5h0m8 1h0m6-1h0m5-4h0m8 9h0m6 2h0m9 0h0m0-7h0m5 7h0m3-8h0m5-3h0m5 10h0m5-7h0m5 8h0m2-9h0m1 8h0m1-9h0m0 5h0m5 5h0m3-8h0m1 8h0m-93 2h0m8-1h0m16 0h0m10 2h0m10 0h0m19 0h0m14-2h0" stroke="#d6b0f4" stroke-width="3.0" stroke-linecap="round" fill="none"/><path d="M17 -1h0m11 0h0m0-1h0m31 1h0m-50 1h0m7 9h0m10 2h0m3-5h0m10 3h0m2-7h0m10 1h0m1 5h0m11 2h0m7-5h0m7 6h0m-78 3h0m5 6h0m14-5h0m26-1h0m13 7h0m10 2h0m15-5h0m13-4h0m-97 15h0m2-1h0m31 0h0m6-4h0m37 6h0m14 1h0m6-2h0m2-1h0m-88 11h0m6 6h0m3-8h0m11 1h0m30 8h0m17-6h0m7 1h0m11 1h0m-81 17h0m6-5h0m8 3h0m36-8h0m3 3h0m6-3h0m3 3h0m13-4h0m-89 23h0m42-10h0m6 10h0m22-3h0m18-3h0m8 6h0m-86 12h0m5-8h0m20-2h0m7 2h0m11-2h0m30 9h0m3-2h0m-71 12h0m1-8h0m3 11h0m11 0h0m0-1h0m31 1h0m9-9h0m9-1h0m2 8h0m-70 3h0m32 2h0" stroke="#e636de" stroke-width="3.0" stroke-linecap="round" fill="none"/><path d="M34 -1h0m42 0h0m-50 5h0m7-2h0m8 5h0m48 0h0m-84 13h0m15-8h0m5 1h0m14 5h0m0 4h0m3 1h0m20-10h0m4 2h0m21 7h0m1-9h0m4 4h0m-78 17h0m31-9h0m16 2h0m2-3h0m12 8h0m-71 12h0m36-5h0m5 6h0m7-6h0m1 6h0m27 0h0m-77 10h0m7 4h0m4-10h0m2 6h0m5 4h0m10-5h0m12-6h0m6 2h0m9 9h0m5-1h0m4 0h0m4-2h0m14-2h0m6-3h0m-79 20h0m1-4h0m6 2h0m2-6h0m10 2h0m2 2h0m25 4h0m15-5h0m3 3h0m7-6h0m3 7h0m2-9h0m-87 13h0m29 4h0m6 5h0m10-4h0m7-2h0m5-1h0m7 2h0m4 0h0m3-4h0m25 0h0m-65 16h0m2 5h0m3-9h0m27 6h0m1-8h0m11 11h0m17-11h0m-60 14h0" stroke="#f5b8b2" stroke-width="3.0" stroke-linecap="round" fill="none"/><path d="M13 -1h0m3 0h0m5 0h0m0-1h0m4 0h0m25 0h0m2 1h0m10-1h0m15 0h0m14 1h0m-93 5h0m1 2h0m4-2h0m1 6h0m1-1h0m0 0h0m4 2h0m1-11h0m1 6h0m3 5h0m1-6h0m4 1h0m4 0h0m1-2h0m8 2h0m3-1h0m1 1h0m4-6h0m2 0h0m4 11h0m3-8h0m8 2h0m2 2h0m1-4h0m3-3h0m1 9h0m2-9h0m1 6h0m1-6h0m4 1h0m1 7h0m1-4h0m1 3h0m0 2h0m1-6h0m5 2h0m0 1h0m4-3h0m1 3h0m1-5h0m3 4h0m1 5h0m3-6h0m1 2h0m-96 6h0m2 6h0m3-4h0m4 6h0m2-1h0m1 2h0m1-5h0m4 7h0m6-10h0m1 0h0m2 4h0m2 5h0m2-3h0m2 3h0m2-4h0m1-4h0m1 9h0m2-4h0m1-5h0m7 2h0m0 6h0m2-10h0m0 6h0m3-4h0m1 9h0m2-6h0m3 2h0m0 4h0m1-8h0m2-3h0m2 5h0m3 5h0m1-10h0m1 5h0m3-5h0m1 8h0m2-5h0m2 0h0m2 6h0m3-4h0m2 6h0m2-11h0m5 1h0m0 6h0m3-6h0m1 9h0m3-10h0m2 6h0m-99 9h0m3-3h0m0 2h0m2 8h0m0 1h0m1-5h0m2-4h0m1 6h0m3-7h0m0 5h0m2 1h0m1-6h0m5 4h0m2 1h0m0 3h0m1-7h0m1 0h0m3 2h0m2-3h0m6 2h0m0 2h0m2 2h0m2 0h0m4-4h0m3 6h0m4-9h0m1 8h0m1-3h0m2 4h0m1-9h0m2 9h0m2-2h0m3 0h0m3 0h0m3-1h0m0 3h0m1 2h0m3-7h0m1-2h0m4-1h0m6 0h0m0 3h0m6 6h0m2-9h0m1 6h0m1 4h0m2-1h0m1-7h0m3-3h0m0 2h0m-99 21h0m3-8h0m1-2h0m9 1h0m2 4h0m2 2h0m4-4h0m0 7h0m3-5h0m2 1h0m2-5h0m3 6h0m1-5h0m2 6h0m1-7h0m2 2h0m3 6h0m1-8h0m1 8h0m1-10h0m1 6h0m2-5h0m1 1h0m2 1h0m2-1h0m1 5h0m0 3h0m4-9h0m4 3h0m2-3h0m2 0h0m1 6h0m2-1h0m1 5h0m3-3h0m2-8h0m0 4h0m2 4h0m2-1h0m0 3h0m4-9h0m4-1h0m0 8h0m0 1h0m2-3h0m2-6h0m0 7h0m5-1h0m2 5h0m3-8h0m1-2h0m-99 20h0m1-8h0m0 5h0m10 0h0m6-2h0m6 1h0m1-4h0m1 2h0m4 5h0m1-6h0m3 0h0m2 5h0m2-7h0m2 2h0m0 4h0m3 2h0m2-7h0m1 5h0m7 1h0m2-7h0m0 2h0m3 5h0m0 4h0m1-8h0m4 1h0m0 3h0m9-6h0m5 9h0m3-4h0m5-2h0m0 4h0m2 3h0m4-4h0m6 2h0m1-8h0m0 5h0m-95 10h0m1-4h0m0 11h0m1-5h0m3-5h0m2 5h0m0 2h0m2 3h0m2-11h0m3 3h0m0 6h0m0 2h0m2-7h0m6-1h0m0 6h0m3 0h0m1-2h0m2-4h0m1-1h0m5 2h0m0 4h0m4-2h0m0 1h0m2-3h0m3-3h0m3-1h0m0 9h0m3-2h0m3-6h0m0 8h0m1-2h0m1-5h0m5 2h0m0 7h0m2-10h0m1 8h0m1-2h0m3-3h0m0-1h0m1 3h0m4 5h0m2-9h0m0 3h0m3-3h0m1-2h0m2 11h0m3-6h0m0 2h0m8-7h0m0 3h0m2 3h0m4-2h0m1-4h0m0 11h0m-97 9h0m3-7h0m0 7h0m3-3h0m3-1h0m0 3h0m4 1h0m1 1h0m3-4h0m2-3h0m1 1h0m3-1h0m3 1h0m1-3h0m3 8h0m4-4h0m0 2h0m2-6h0m2 9h0m1-1h0m6-3h0m5 2h0m4-7h0m1 9h0m2-9h0m1 6h0m2-5h0m1 4h0m0 4h0m15-3h0m11-2h0m0 6h0m3-7h0m0 7h0m0 0h0m1-9h0m5 7h0m-98 11h0m2 2h0m0 0h0m2-4h0m2 0h0m4 0h0m2-5h0m2 11h0m3 0h0m1-8h0m4 8h0m0-11h0m0 4h0m0 3h0m0 3h0m4-9h0m0 9h0m1-4h0m3-5h0m4 4h0m1 2h0m4-7h0m3 5h0m2 0h0m1-4h0m1 1h0m4 1h0m0 6h0m1-8h0m0 9h0m1-5h0m1 6h0m1-10h0m1 8h0m4-4h0m2-1h0m1 3h0m1 3h0m9-5h0m2-2h0m2-1h0m0 5h0m2 3h0m1-3h0m3 1h0m5-7h0m1 8h0m3-1h0m1 3h0m1-8h0m3 4h0m2 2h0m0 0h0m-87 3h0m30 0h0m2 0h0m21 0h0m3 0h0m2 0h0m4 1h0m15 0h0" stroke="#ffffff" stroke-width="3.0" stroke-linecap="round" fill="none"/></g></pattern></defs>
<clipPath id="c6t"><path d="M51.2 38.8L61.7 29.4L78.3 25.2L92.9 28.3L100.2 36.7L102.3 47.1L105.4 53.3L111.7 60.6L114.8 67.9L113.8 80.4L107.5 86.7L92.9 90.8L74.2 91.9L61.7 96L49.2 99.2L38.8 98.1L32.5 90.8L34.6 76.2L40.8 64.8L51.2 60.6L50.2 51.2L49.2 42.9ZM67.9 115.8L82.5 107.5L103.3 101.2L115.8 103.3L122.1 107.5L126.2 124.2L127.3 136.7L125.2 149.2L117.9 161.7L114.8 170L111.7 178.3L109.6 190.8L103.3 203.3L92.9 208.5L80.4 209.6L70 205.4L65.8 192.9L61.7 184.6L53.3 174.2L47.1 163.8L49.2 149.2L57.5 136.7L59.6 126.2Z"/></clipPath>
<g clip-path="url(#c6t)">
<rect x="28" y="20" width="104" height="194" fill="url(#tW6)"/>
<path d="M74.6 45.4c-.3 .9 -1.2 1.8 -2.2 2.4 -1 .5 -2.6 1 -3.9 .8 -1.3-.2 -2.9-1.1 -4-1.9 -1.1-.8 -2.3-1.8 -2.8-2.8 -.5-1 -.5-2.3 -.2-3.3 .3-.9 1.2-1.9 2.2-2.4 1-.5 2.7-.8 4-.6 1.3 .2 2.8 1.1 3.9 1.9 1.1 .8 2.1 1.7 2.6 2.7 .5 1 .8 2.3 .6 3.2z" fill="#fbf6fd" />
<path d="M64.7 64.8c.2 .7 -.1 1.7 -.8 2.5 -.7 .7 -2 1.5 -3.2 1.9 -1.2 .5 -2.9 .9 -4.2 .9 -1.3 0 -2.7-.4 -3.6-.9 -.9-.5 -1.7-1.3 -1.8-2 -.1-.8 .6-1.8 1.3-2.5 .7-.7 2-1.3 3.1-1.7 1.2-.4 2.6-.9 3.8-.9 1.2-0 2.7 .2 3.6 .7 .9 .4 1.5 1.3 1.7 2z" fill="#fbf6fd" />
<path d="M84.1 56c0 .6 -0 1.4 -.7 2 -.7 .6 -2 1.2 -3.2 1.4 -1.3 .2 -3.1 .2 -4.4-.1 -1.3-.2 -2.5-.8 -3.2-1.4 -.7-.6 -1.2-1.3 -1.2-2 0-.7 .5-1.4 1.2-2 .7-.5 2-1.1 3.2-1.3 1.2-.2 2.9-.1 4.2 .1 1.2 .2 2.6 .7 3.2 1.2 .7 .5 .8 1.3 .8 1.9z" fill="#fbf6fd" />
<path d="M94.1 47c0 .8 -.2 1.9 -.9 2.4 -.7 .5 -2.1 .7 -3.1 .7 -1-0 -2.3-.4 -2.9-.9 -.6-.5 -.9-1.4 -.9-2.2 -0-.7 .2-1.7 .9-2.2 .6-.5 1.9-.7 2.9-.8 1-0 2.3 .2 3 .7 .7 .5 1.1 1.5 1.1 2.2z" fill="#fbf6fd" />
<path d="M49.2 72c-0 .8 -.5 1.7 -1.2 2.2 -.7 .5 -2 .9 -3 .9 -1 0 -2.4-.3 -3.1-.9 -.7-.5 -1.2-1.5 -1.2-2.3 0-.8 .6-1.7 1.3-2.2 .7-.5 2-.9 3-1 1-0 2.4 .3 3.1 .9 .7 .5 1.1 1.6 1.1 2.3z" fill="#fbf6fd" />
<path d="M100.6 80c-0 .6 -.7 1.4 -1.4 1.8 -.7 .5 -1.8 .8 -2.7 .9 -.9 .1 -2.1 .1 -2.9-.1 -.9-.2 -1.7-.6 -2.2-1.1 -.6-.4 -1.2-1.1 -1.3-1.6 -0-.6 .5-1.2 1.1-1.7 .6-.5 1.4-1 2.4-1.2 .9-.2 2.2-.2 3.1-.1 1 .2 2.1 .6 2.8 1.1 .7 .5 1.3 1.3 1.2 1.9z" fill="#fbf6fd" />
<path d="M124.8 136.7c0 1.7 -.8 3.8 -1.6 5.1 -.8 1.3 -2.2 2.3 -3.3 2.7 -1.2 .3 -2.5-.1 -3.6-.7 -1-.6 -2.1-1.6 -2.7-2.8 -.6-1.2 -1.1-2.8 -1.1-4.3 -0-1.4 .4-3.2 1.1-4.3 .6-1.1 1.8-1.9 2.8-2.4 1-.5 2.3-.8 3.4-.5 1.1 .3 2.5 1.1 3.3 2.3 .8 1.2 1.7 3.2 1.7 4.9z" fill="#fbf6fd" />
<path d="M87.5 167c-0 .8 -.4 1.7 -1.2 2.3 -.9 .6 -2.5 1.1 -3.9 1.3 -1.5 .3 -3.4 .5 -4.9 .3 -1.5-.2 -3.3-.8 -4.3-1.4 -1-.7 -2-1.7 -1.9-2.5 0-.8 1.1-1.7 2.2-2.4 1-.6 2.6-1.3 4.1-1.5 1.5-.2 3.4-0 4.9 .3 1.5 .3 3.1 .7 4 1.3 .9 .6 1.2 1.5 1.2 2.3z" fill="#fbf6fd" />
<path d="M96.4 190c0 .8 -.3 1.9 -1 2.6 -.7 .7 -2.2 1.2 -3.4 1.4 -1.2 .2 -2.6 0 -3.8-.3 -1.1-.3 -2.3-.8 -3-1.4 -.7-.6 -.9-1.5 -1-2.3 -0-.8 .2-1.8 .8-2.4 .6-.6 1.9-1.2 3.1-1.5 1.2-.3 2.7-.4 3.9-.2 1.2 .2 2.4 .9 3.1 1.6 .7 .7 1.2 1.6 1.3 2.5z" fill="#fbf6fd" />
<path d="M116.9 124c.1 .6 -.5 1.3 -1.1 1.8 -.6 .5 -1.5 1.1 -2.5 1.3 -1 .2 -2.3 .2 -3.3-0 -1-.2 -2.1-.6 -2.7-1.1 -.6-.5 -.9-1.3 -.8-1.9 .1-.6 .6-1.3 1.2-1.7 .6-.4 1.6-.8 2.5-1 .9-.2 2-.2 2.9-0 .9 .2 1.7 .6 2.3 1 .6 .4 1.4 1.1 1.4 1.6z" fill="#fbf6fd" />
<path d="M82.3 150c-.1 .8 -.6 1.7 -1.4 2.2 -.7 .5 -1.9 .9 -2.9 .9 -1 0 -2.3-.3 -3-.8 -.7-.5 -1.4-1.5 -1.4-2.3 -0-.8 .5-1.8 1.3-2.4 .7-.6 2.1-1 3.2-1.1 1.1-0 2.5 .4 3.2 1 .7 .6 1.1 1.6 1.1 2.4z" fill="#fbf6fd" />
<path d="M80.4 118c-0 .6 -.4 1.4 -1.1 1.9 -.6 .5 -1.8 .7 -2.8 .9 -1 .2 -2.2 .3 -3 .1 -.9-.2 -1.6-.8 -2.2-1.2 -.6-.5 -1.1-1 -1.2-1.6 -.1-.6 .2-1.3 .8-1.8 .5-.5 1.5-1 2.5-1.2 1-.2 2.3-.3 3.3-.1 1 .2 2.2 .6 2.8 1.2 .6 .5 .9 1.3 .9 1.9z" fill="#fbf6fd" />
<path d="M104.2 185c-.1 .7 -.8 1.6 -1.5 2 -.7 .5 -1.8 .8 -2.7 .8 -.9-0 -2.1-.3 -2.7-.8 -.6-.5 -1-1.3 -1.1-2 -0-.7 .3-1.6 .9-2.1 .6-.5 1.8-.9 2.8-1 1-0 2.4 .3 3.1 .8 .7 .5 1.1 1.6 1.1 2.3z" fill="#fbf6fd" />
<path d="M64.1 150c-0 .7 -.5 1.7 -1.2 2.1 -.7 .5 -1.9 .7 -2.9 .7 -.9-0 -2.1-.3 -2.7-.8 -.6-.5 -1-1.4 -1-2 0-.7 .5-1.5 1.1-2 .6-.5 1.7-.9 2.7-1 .9-0 2.3 .3 3 .8 .7 .5 1.1 1.5 1.1 2.2z" fill="#fbf6fd" />
<path d="M90.8 73c-.1 1.3 -.5 2.7 -1.3 3.7 -.8 1 -2.2 1.9 -3.4 2.2 -1.2 .3 -2.8 .1 -4-.3 -1.2-.4 -2.6-1.1 -3.4-2 -.8-.9 -1.3-2.4 -1.3-3.6 -0-1.2 .5-2.7 1.3-3.7 .8-1 2.1-1.8 3.3-2.3 1.3-.4 3-.7 4.3-.4 1.3 .3 2.8 1.4 3.6 2.4 .8 1.1 1 2.6 1 3.9z" fill="#dc1c48" />
<path d="M95.7 71c-0 1 -.5 2.1 -.9 2.9 -.4 .8 -1.1 1.5 -1.7 1.8 -.6 .2 -1.4-0 -2-.3 -.6-.3 -1.2-.9 -1.6-1.6 -.4-.7 -.8-1.8 -.8-2.7 -0-.9 .3-2 .7-2.8 .4-.8 .9-1.7 1.6-2.1 .6-.4 1.5-.4 2.2-.1 .7 .3 1.4 1 1.9 1.8 .4 .8 .8 2.1 .7 3.1z" fill="#dc1c48" />
<path d="M60.5 77.7c-.6 1.1 -1.6 2.2 -2.4 2.8 -.8 .6 -1.8 .8 -2.5 .7 -.6-.1 -1.1-.7 -1.4-1.4 -.3-.6 -.5-1.4 -.3-2.4 .1-.9 .5-2.1 1-3.1 .5-.9 1.4-1.9 2.2-2.5 .7-.6 1.6-.9 2.3-1 .7-0 1.4 .2 1.8 .7 .4 .5 .8 1.4 .7 2.4 -.1 1 -.7 2.5 -1.3 3.5z" fill="#dc1c48" />
<path d="M92.3 141.9c0 1.7 -.6 3.8 -1.6 5.2 -1 1.4 -2.8 2.7 -4.4 3.3 -1.7 .6 -3.9 .8 -5.6 .3 -1.7-.5 -3.5-2 -4.5-3.4 -1-1.5 -1.6-3.6 -1.6-5.3 0-1.8 .6-3.9 1.6-5.3 1-1.4 2.9-2.7 4.5-3.2 1.7-.5 3.8-.4 5.5 .2 1.7 .5 3.5 1.7 4.5 3.1 1 1.4 1.6 3.5 1.6 5.2z" fill="#dc1c48" />
<path d="M80.8 133.8c-.3 .5 -1.3 .8 -2.1 .9 -.8 .1 -1.9-.2 -2.8-.6 -.9-.4 -1.8-.9 -2.5-1.5 -.7-.6 -1.1-1.4 -1.4-2 -.3-.7 -.5-1.5 -.3-2 .2-.5 1-.8 1.8-.9 .7-.1 1.7-.1 2.6 .2 .9 .3 2 .9 2.8 1.5 .8 .6 1.5 1.5 1.9 2.3 .3 .8 .5 1.7 .1 2.3z" fill="#dc1c48" />
<path d="M93.6 130.9c.2 .6 -0 1.5 -.4 2.2 -.4 .7 -1.2 1.4 -2 1.9 -.8 .4 -1.9 .8 -2.6 .8 -.7-0 -1.5-.4 -1.8-.9 -.3-.5 -.4-1.3 -.1-2 .3-.7 1.2-1.6 2.1-2.1 .8-.5 2.2-1 3-1 .8 0 1.7 .6 1.9 1.1z" fill="#dc1c48" />
<path d="M64.3 45c-.1 .8 -.6 1.7 -1.2 2.3 -.5 .7 -1.3 1.4 -2.1 1.6 -.8 .3 -2 .2 -2.8-0 -.8-.3 -1.8-.9 -2.2-1.5 -.4-.6 -.4-1.6 -.4-2.4 -0-.8 -.1-1.7 .3-2.5 .4-.8 1.2-1.7 2.1-2.1 .9-.4 2.4-.6 3.4-.3 .9 .3 1.8 1.4 2.2 2.2 .5 .8 .8 1.8 .7 2.6z" fill="#0e7a76" />
<path d="M61.9 45c0 .5 -.2 1.2 -.6 1.6 -.4 .3 -1.2 .5 -1.8 .5 -.6-0 -1.2-.3 -1.6-.6 -.4-.3 -.7-1 -.7-1.5 -0-.5 .2-1.2 .6-1.5 .4-.3 1.2-.6 1.7-.5 .6 0 1.2 .3 1.6 .6 .4 .3 .7 .9 .7 1.4z" fill="#fff" />
<path d="M87 39.8c.1 1 -.2 2.5 -.9 3.2 -.7 .7 -2.4 .8 -3.6 .8 -1.1-.1 -2.4-.5 -3.1-1.1 -.8-.7 -1.5-1.8 -1.5-2.8 -.1-1 .4-2.5 1.2-3.1 .8-.7 2.4-.9 3.5-.9 1.1 .1 2.3 .6 3.1 1.3 .7 .7 1.4 1.7 1.4 2.7z" fill="#0e7a76" />
<path d="M53 85.6c-.1 .8 -.9 1.7 -1.6 2.4 -.7 .7 -1.5 1.4 -2.6 1.8 -1 .3 -2.4 .4 -3.7 .2 -1.3-.2 -3.1-.4 -4-1.2 -.9-.7 -1.5-2.1 -1.6-3.3 -.1-1.2 .1-2.8 1-3.6 .9-.8 3-1.2 4.4-1.4 1.4-.2 3-.1 4.1 .3 1.1 .4 2 1.3 2.7 2.1 .7 .8 1.4 1.8 1.3 2.6z" fill="#0e7a76" />
<path d="M50.1 85.6c-0 .6 -.4 1.3 -.9 1.7 -.5 .4 -1.5 .7 -2.2 .7 -.7-0 -1.6-.4 -2.1-.8 -.5-.4 -.9-1.1 -.9-1.6 -0-.5 .4-1.2 .9-1.7 .5-.4 1.4-.9 2.2-.9 .7-0 1.8 .4 2.3 .8 .5 .4 .8 1.2 .8 1.7z" fill="#fff" />
<path d="M110.5 71c-.1 1.1 -.9 2.4 -1.9 3.2 -1 .8 -2.6 1.1 -4 1.4 -1.3 .2 -2.7 .2 -4.1 0 -1.4-.2 -3.2-.5 -4.2-1.3 -1-.8 -1.7-2.2 -1.6-3.3 .1-1.1 1.1-2.3 2-3.1 .9-.8 2.3-1.4 3.6-1.8 1.3-.3 3-.5 4.4-.3 1.4 .2 3.3 .8 4.3 1.7 .9 .9 1.5 2.4 1.4 3.5z" fill="#0e7a76" />
<path d="M76.1 129.4c-.1 1 -.7 2 -1.4 2.8 -.7 .8 -1.7 1.6 -2.8 1.9 -1.1 .3 -2.6 .4 -3.8 .2 -1.1-.3 -2.3-1.1 -3.1-1.9 -.8-.8 -1.6-2 -1.6-3 0-1 .9-2.1 1.7-3 .8-.8 1.8-1.7 3-2 1.1-.3 2.6-.2 3.8 .1 1.2 .3 2.6 .9 3.3 1.7 .7 .8 .9 2.2 .8 3.2z" fill="#0e7a76" />
<path d="M72.4 129.4c0 .5 -.3 1.1 -.7 1.5 -.4 .4 -1.1 .8 -1.7 .8 -.6 0 -1.4-.3 -1.9-.7 -.5-.4 -1-1.1 -.9-1.6 0-.5 .5-1.2 1-1.5 .5-.4 1.2-.7 1.8-.7 .6 0 1.3 .4 1.7 .8 .4 .4 .7 .9 .7 1.4z" fill="#f4c8c4" />
<path d="M106.9 110.6c-.1 .8 -.8 1.4 -1.4 1.9 -.6 .5 -1.4 .9 -2.2 .9 -.8 0 -1.8-.4 -2.3-.8 -.5-.5 -.9-1.3 -.9-2 -.1-.7 .1-1.7 .6-2.3 .5-.6 1.7-1.4 2.7-1.5 1-.1 2.5 .5 3.1 1.1 .6 .6 .6 1.9 .5 2.7z" fill="#0e7a76" />
<path d="M105.1 110.6c-0 .4 -.2 .9 -.5 1.2 -.3 .3 -.9 .5 -1.3 .5 -.4 0 -1-.2 -1.4-.5 -.3-.3 -.6-.8 -.6-1.2 -0-.4 .2-.9 .6-1.2 .3-.3 .9-.5 1.4-.5 .5 0 1 .2 1.3 .5 .3 .3 .5 .8 .5 1.2z" fill="#f8f0f4" />
<path d="M117.7 143c-.1 .9 -.6 1.8 -1.2 2.4 -.7 .6 -1.7 1.1 -2.7 1.2 -1 .1 -2.4-.1 -3.2-.7 -.8-.6 -1.7-1.9 -1.8-2.9 -0-1 .7-2.5 1.5-3.1 .8-.6 2.4-.8 3.5-.8 1.1 .1 2.4 .5 3.1 1.2 .7 .6 1 1.9 .9 2.7z" fill="#0e7a76" />
<path d="M64.5 163.8c-.1 1 -1.1 2 -1.9 2.7 -.8 .7 -1.7 1 -2.7 1.3 -1 .3 -2 .7 -3.1 .6 -1.1-.1 -2.6-.6 -3.3-1.4 -.7-.8 -1-2.3 -.8-3.3 .2-1 1-2 1.8-2.6 .7-.6 1.7-.8 2.6-1.2 .9-.3 2-1 3-.9 1 .1 2.4 .7 3.2 1.5 .7 .8 1.3 2.2 1.2 3.2z" fill="#0e7a76" />
<path d="M61.2 163.8c0 .6 -.4 1.3 -.9 1.7 -.5 .4 -1.2 .5 -1.8 .5 -.6-0 -1.4-.2 -1.8-.6 -.4-.4 -.7-1.1 -.7-1.6 0-.5 .3-1.2 .7-1.6 .4-.4 1.2-.6 1.7-.6 .6-0 1.4 .2 1.8 .6 .5 .4 .9 1.1 .9 1.6z" fill="#f4c8c4" />
<path d="M89.5 180.4c0 1 -.4 2.4 -1.2 3.2 -.7 .7 -2.2 1.2 -3.3 1.3 -1 .1 -2.2-.3 -2.9-.7 -.8-.4 -1.3-1 -1.8-1.7 -.6-.6 -1.4-1.2 -1.6-2.1 -.2-.8 -.3-2.2 .2-3 .5-.8 1.7-1.7 2.8-2 1.1-.3 2.5-.3 3.6 .1 1.1 .3 2.1 1.1 2.8 1.9 .7 .8 1.4 2 1.4 3z" fill="#0e7a76" />
<path d="M85.8 180.4c-0 .5 -.3 1.1 -.7 1.4 -.4 .3 -1 .7 -1.6 .7 -.5 0 -1.3-.3 -1.7-.6 -.4-.3 -.8-1 -.8-1.5 -0-.5 .3-1.2 .7-1.5 .4-.4 1.2-.6 1.7-.6 .5 0 1.2 .4 1.6 .7 .4 .4 .7 1 .7 1.4z" fill="#f4c8c4" />
<path d="M98.2 199c0 .5 -.2 1.2 -.6 1.6 -.4 .4 -1.1 .8 -1.6 .8 -.5-0 -1.2-.4 -1.6-.8 -.3-.4 -.4-1.1 -.4-1.6 0-.5 .2-1.1 .5-1.4 .3-.4 .9-.7 1.4-.7 .5-0 1.2 .3 1.5 .6 .4 .4 .7 1 .7 1.5z" fill="#0e7a76" />
<path d="M88.7 141.9c-.1 1 -.8 1.9 -1.4 2.8 -.6 .8 -1.3 1.7 -2.2 2.1 -.9 .4 -2.1 .6 -3.3 .4 -1.1-.2 -2.7-.6 -3.4-1.5 -.7-.9 -1.1-2.6 -.9-3.7 .1-1.1 1-2.4 1.7-3.1 .8-.8 1.8-1.1 2.8-1.4 1-.3 2.1-.5 3-.3 .9 .2 2 1 2.6 1.8 .6 .8 1.1 2.1 1 3.1z" fill="#0e7a76" />
<path d="M86.2 141.9c0 .6 -.3 1.4 -.8 1.9 -.4 .5 -1.3 .9 -1.9 .8 -.6-0 -1.4-.5 -1.8-.9 -.4-.5 -.8-1.2 -.8-1.8 0-.6 .5-1.2 .9-1.6 .4-.4 1.1-.8 1.6-.8 .6-0 1.3 .3 1.7 .7 .4 .4 .9 1.1 .9 1.7z" fill="#fff" />
<path d="M88.2 73c.1 .9 -.2 2.3 -.9 2.9 -.7 .6 -2.2 .8 -3.3 .9 -1.1 0 -2.7-.1 -3.4-.8 -.7-.6 -.9-2.1 -.8-3 .1-.9 .8-1.9 1.5-2.4 .7-.5 1.8-.6 2.7-.6 .9-0 2.2-.1 2.9 .4 .7 .5 1.2 1.7 1.2 2.6z" fill="#0e7a76" />
<path d="M86.1 73c-0 .4 -.4 1 -.7 1.3 -.4 .3 -1 .4 -1.4 .4 -.5-0 -1.1-.1 -1.4-.4 -.3-.3 -.6-.8 -.6-1.2 -0-.4 .1-1 .5-1.3 .3-.3 1-.5 1.5-.5 .5-0 1.2 .1 1.6 .4 .4 .3 .6 1 .5 1.4z" fill="#f4c8c4" />
</g>
<path d="M51.2 38.8L61.7 29.4L78.3 25.2L92.9 28.3L100.2 36.7L102.3 47.1L105.4 53.3L111.7 60.6L114.8 67.9L113.8 80.4L107.5 86.7L92.9 90.8L74.2 91.9L61.7 96.0L49.2 99.2L38.8 98.1L32.5 90.8L34.6 76.2L40.8 64.8L51.2 60.6L50.2 51.2L49.2 42.9Z M67.9 115.8L82.5 107.5L103.3 101.2L115.8 103.3L122.1 107.5L126.2 124.2L127.3 136.7L125.2 149.2L117.9 161.7L114.8 170.0L111.7 178.3L109.6 190.8L103.3 203.3L92.9 208.5L80.4 209.6L70.0 205.4L65.8 192.9L61.7 184.6L53.3 174.2L47.1 163.8L49.2 149.2L57.5 136.7L59.6 126.2Z" fill="none" stroke="#0b0b58" stroke-width="1.9" stroke-dasharray="1.6 0.5"/>
<path d="M117.7 170c0 1.6 -.2 3.7 -.6 5.1 -.4 1.4 -1.2 2.8 -1.9 3.3 -.7 .5 -1.6 0 -2.3-.5 -.7-.6 -1.5-1.6 -1.8-2.9 -.4-1.3 -.3-3.3 -.3-4.9 0-1.6 .1-3.4 .5-4.6 .4-1.2 1.1-2.1 1.7-2.6 .6-.5 1.4-.6 2.1-.2 .6 .4 1.3 1.5 1.8 2.7 .4 1.2 .8 3.1 .8 4.7z" fill="#0b0b58" />
<rect x="87" y="61" width="28.4" height="23.6" fill="none" stroke="#333" stroke-width="0.8"/>
<line x1="115.4" y1="61" x2="154.5" y2="51.5" stroke="#222" stroke-width="0.8"/>
<line x1="115.4" y1="84.6" x2="154.5" y2="201.5" stroke="#222" stroke-width="0.8"/>
<clipPath id="c6i"><path d="M161.8 58.4L247.2 57.1L265.6 59.7L282.7 57.1L297 68.9L305 87.3L307.1 118.8L305 139.8L297.1 155.6L284 171.4L265.6 183.2L242 191L215.7 193.7L181.5 191.9L163.1 189.8L161.8 118.8Z"/></clipPath>
<g clip-path="url(#c6i)">
<rect x="158" y="54" width="152" height="143" fill="url(#iBase)"/>
<path d="M162 58c13-5.7 66.3-2.7 78 0 11.7 2.7 -2.2 11.3 -8 16 -5.8 4.7 -15.3 9 -27 12 -11.7 3 -35.8 10.7 -43 6 -7.2-4.7 -13-28.3 0-34z" fill="url(#iW6o)" />
<path d="M162 152c11-7 53-5.3 66-2 13 3.3 15.8 15 12 22 -3.8 7 -22 16.7 -35 20 -13 3.3 -35.8 6.7 -43 0 -7.2-6.7 -11-33 0-40z" fill="url(#iW6o)" />
<path d="M270 58c1.3-2.5 8.5-2.8 13-1 4.5 1.8 10.3 7 14 12 3.7 5 6.3 9.7 8 18 1.7 8.3 2 23.2 2 32 0 8.8 -.3 14.8 -2 21 -1.7 6.2 -4.5 10.8 -8 16 -3.5 5.2 -7.8 10.5 -13 15 -5.2 4.5 -12.3 9.5 -18 12 -5.7 2.5 -14.7 4.3 -16 3 -1.3-1.3 3.7-7 8-11 4.3-4 13.3-8.5 18-13 4.7-4.5 7.7-8.7 10-14 2.3-5.3 3.2-12 4-18 .8-6 1.3-12.7 1-18 -.3-5.3 -1.5-9.7 -3-14 -1.5-4.3 -3.8-7.7 -6-12 -2.2-4.3 -5-9.3 -7-14 -2-4.7 -6.3-11.5 -5-14z" fill="url(#iMed)" />
<path d="M226 60c7.3-3 26.7-2 36-2 9.3 0 15-.3 20 2 5 2.3 8 7.3 10 12 2 4.7 3.3 12 2 16 -1.3 4 -6 7.3 -10 8 -4 .7 -9.7-2.7 -14-4 -4.3-1.3 -7-3.7 -12-4 -5-.3 -12.7 1.3 -18 2 -5.3 .7 -10 2 -14 2 -4 0 -8.7 .7 -10-2 -1.3-2.7 .3-9 2-14 1.7-5 .7-13 8-16z" fill="url(#iLight)" />
<path d="M272.2 156.3c.3 1 -.3 2.3 -.6 3.5 -.3 1.2 -.5 2.5 -1.4 3.4 -.9 1 -2.5 1.7 -3.9 2.4 -1.3 .7 -2.7 1.5 -4.1 1.7 -1.4 .3 -3 .2 -4.3-0 -1.3-.2 -2.6-.6 -3.6-1.3 -1-.6 -1.9-1.5 -2.1-2.5 -.2-1 .4-2.2 .8-3.3 .4-1.1 .6-2.2 1.3-3.2 .8-1 2-1.9 3.2-2.6 1.2-.7 2.7-1.4 4.1-1.7 1.4-.3 3-.3 4.3-.1 1.3 .2 2.5 .8 3.5 1.4 1 .6 2.4 1.3 2.7 2.3z" fill="url(#iLight)" />
<path d="M203.6 176c0 1.1 -.2 2.4 -1 3.4 -.7 1 -2.1 1.9 -3.4 2.6 -1.3 .7 -2.9 1.5 -4.5 1.8 -1.6 .3 -3.6 .2 -5.3-.1 -1.7-.3 -3.6-.7 -4.9-1.5 -1.2-.7 -2.1-2 -2.6-3 -.5-1 -.5-2.2 -.5-3.3 -0-1.1 -.1-2.2 .4-3.3 .5-1 1.4-2.3 2.7-3 1.3-.7 3.2-1.2 4.8-1.4 1.7-.2 3.5-.1 5.2 .2 1.6 .3 3.4 .7 4.7 1.4 1.3 .7 2.7 1.6 3.4 2.7 .7 1 1 2.3 1 3.4z" fill="url(#iLight)" />
<path d="M229.9 153c0 1.1 -.1 2.4 -.9 3.4 -.8 1 -2.5 2 -4.1 2.4 -1.6 .4 -4 .3 -5.6-.1 -1.6-.4 -3.2-1.4 -4.2-2.3 -.9-.9 -1.5-2.2 -1.5-3.4 0-1.1 .6-2.4 1.6-3.3 1-.9 2.6-1.9 4.2-2.3 1.6-.3 3.8-.1 5.4 .3 1.6 .4 3.3 1.2 4.2 2.1 .9 .9 1 2.2 1.1 3.3z" fill="url(#iLight)" />
<path d="M184.5 74c0 1.3 -.3 3 -1.3 3.9 -1 1 -3.1 1.5 -4.7 1.8 -1.6 .3 -3.6 .5 -5 .1 -1.4-.4 -2.7-1.5 -3.6-2.5 -1-1 -2.1-2.2 -2.1-3.3 -0-1.1 1-2.5 1.9-3.5 .9-1 2.3-2.1 3.8-2.5 1.5-.4 3.5-.2 5.1 .2 1.6 .3 3.6 .9 4.6 1.9 1 1 1.3 2.6 1.3 3.9z" fill="url(#iLight)" />
<path d="M193.7 120c0 .8 -.6 1.9 -1.3 2.5 -.7 .6 -1.8 1.2 -2.8 1.3 -1 .2 -2.1-.1 -3-.3 -.9-.3 -1.7-.8 -2.2-1.4 -.5-.6 -.9-1.4 -.9-2.1 -0-.7 .3-1.6 .9-2.2 .5-.6 1.5-.9 2.4-1.2 .9-.2 1.9-.4 2.8-.3 .9 .1 2 .6 2.7 1.2 .7 .6 1.4 1.6 1.5 2.5z" fill="url(#iLight)" />
<path d="M301.2 110c-0 1.4 -.5 3 -.8 4.2 -.4 1.2 -.9 2.3 -1.4 3.2 -.5 1 -1.1 2.1 -1.8 2.6 -.7 .5 -1.6 .6 -2.3 .3 -.8-.2 -1.7-.8 -2.2-1.8 -.6-1 -.9-2.7 -1.2-4.2 -.3-1.4 -.6-3 -.5-4.4 0-1.4 .4-2.9 .8-4.1 .4-1.2 .9-2.2 1.4-3.1 .5-.8 1.2-1.7 1.8-2 .7-.3 1.4-0 2.1 .1 .7 .2 1.6 .1 2.2 .9 .6 .8 .9 2.4 1.3 3.8 .3 1.4 .7 2.9 .7 4.4z" fill="url(#iLight)" />
<path d="M295.3 140c0 1 -.2 2.4 -.9 3.2 -.6 .8 -1.8 1.5 -2.8 1.8 -1 .2 -2.2 0 -3.1-.3 -.9-.3 -1.9-1 -2.5-1.7 -.5-.8 -.8-1.9 -.8-2.9 -0-1 .1-2.2 .7-3 .5-.8 1.6-1.5 2.6-1.8 1-.3 2.3-.6 3.2-.3 1 .3 2 1.2 2.6 2 .6 .8 1 2 1.1 3.1z" fill="url(#iLight)" />
<path d="M161.8 95.2c3.1-7.5 12.9 3 19.7 2.6 6.8-.5 15.8-6.2 21-5.3 5.2 .9 10.1 7.1 10.5 10.6 .4 3.5 -6.1 6.6 -7.8 10.5 -1.8 3.9 -3.6 9.2 -2.7 13.1 .9 3.9 7.9 7.4 7.9 10.5 0 3.1 -4 5.7 -7.9 7.9 -3.9 2.2 -10.4 4.4 -15.7 5.3 -5.2 .9 -11.9 1.3 -15.8 0 -3.9-1.3 -6.4 1.3 -7.9-7.9 -1.5-9.2 -4.4-39.8 -1.3-47.3z" fill="url(#iRed)" />
<path d="M177.4 128c.1 2 -0 4.4 -.5 6.2 -.5 1.8 -1.4 3.4 -2.3 4.5 -.9 1 -2 1.4 -3.1 1.7 -1 .3 -2.1 .6 -3.1 .1 -1-.4 -1.8-1.6 -2.7-2.7 -.8-1.1 -1.8-2.4 -2.3-4 -.5-1.6 -.6-3.8 -.6-5.8 -0-2 -.1-4.3 .4-6 .5-1.7 1.5-3.2 2.4-4.2 .9-1 2-1.5 2.9-1.7 1-.2 2-.1 2.9 .3 .9 .4 1.9 1.1 2.7 2.1 .8 1 1.5 2.4 2.1 4 .6 1.6 1.1 3.6 1.2 5.5z" fill="url(#iPink)" opacity="0.55"/>
<path d="M215.7 116.2c.9-3.5 5.6-7.2 8.3-10.2 2.7-3 5.2-5.5 8-8 2.8-2.5 6-5.2 9-7 3-1.8 5.5-3.5 9-4 3.5-.5 8.1 .1 12 1 3.9 .9 8.3 2.4 11.5 4.5 3.2 2.1 5.6 4.7 7.9 7.9 2.2 3.2 5.2 7.6 5.6 11.6 .4 4 -.8 8.9 -3 12.1 -2.2 3.2 -7 4.9 -10.5 6.9 -3.5 2 -7.4 3 -10.5 5 -3.1 2 -4.9 6.7 -8 7 -3.1 .3 -6.9-3.6 -10.4-5 -3.5-1.4 -7-2.4 -10.5-3.4 -3.5-1 -7.9-1.3 -10.5-2.6 -2.6-1.3 -4-2.7 -5.3-5.3 -1.3-2.6 -3.6-7 -2.6-10.5z" fill="url(#iTeal)" />
</g>
<path d="M206 132c-.8-3.3 -.5-10 .5-14 1-4 2.9-7.3 5.5-10 2.6-2.7 6.5-4.7 10-6.3 3.5-1.6 10.7-4.2 11-3.2 .3 1 -6.3 6.1 -9 9.5 -2.7 3.4 -5.4 7.2 -7 10.8 -1.6 3.5 -2.3 7.3 -2.5 10.5 -.2 3.2 2.1 7.2 1.5 8.7 -.6 1.4 -3.3 1 -5 0 -1.7-1 -4.2-2.7 -5-6z" fill="#fff" />
<path d="M256.5 68.5c.1 1.1 -.5 2.5 -1.3 3.5 -.8 1.1 -2.2 2.2 -3.6 2.9 -1.5 .6 -3.6 1 -5.2 .9 -1.6-.1 -3.5-.6 -4.5-1.3 -1-.7 -1.5-2 -1.7-3.1 -.2-1.1 -.2-2.4 .4-3.5 .7-1.1 2.1-2.5 3.6-3.2 1.6-.7 4-1.4 5.7-1.3 1.7 .1 3.5 1 4.6 1.9 1.1 .8 1.9 2.1 2 3.2z" fill="#fff" />
<path d="M277.5 74c-0 1.7 -.5 3.8 -1.4 5 -.9 1.3 -2.6 2.1 -3.9 2.5 -1.4 .4 -3 .5 -4.3 0 -1.3-.5 -2.8-1.5 -3.7-2.7 -.9-1.3 -1.7-3.2 -1.6-4.8 0-1.6 .9-3.4 1.8-4.7 .9-1.3 2.2-2.4 3.5-2.9 1.3-.5 3-.6 4.4-.2 1.4 .4 3.2 1.3 4.1 2.6 .9 1.3 1.2 3.5 1.2 5.2z" fill="#fff" />
<path d="M238.3 79.7c.2 .7 -.2 1.7 -.8 2.5 -.5 .8 -1.4 1.7 -2.4 2.4 -1 .7 -2.5 1.2 -3.8 1.5 -1.3 .3 -3.1 .5 -4.1 .3 -1.1-.3 -2-1 -2.4-1.8 -.4-.8 -.4-2 .2-2.9 .6-.9 2.3-1.9 3.6-2.6 1.3-.7 2.9-1.2 4.2-1.4 1.3-.2 2.6 .1 3.5 .4 .9 .3 1.8 .9 2 1.6z" fill="#fff" />
<path d="M290.1 84c-0 1 -.4 2.2 -.9 2.9 -.5 .7 -1.3 1.2 -2.1 1.5 -.7 .2 -1.6 .2 -2.3 0 -.7-.2 -1.6-.7 -2.1-1.4 -.5-.7 -.8-2 -.8-3 0-1 .5-2.1 1-2.9 .5-.8 1.2-1.4 2-1.7 .7-.3 1.6-.4 2.4-.2 .8 .2 1.7 .8 2.2 1.6 .5 .8 .8 2.1 .8 3.1z" fill="#fff" />
<path d="M260.7 90c0 .6 -.3 1.3 -.9 1.7 -.6 .4 -1.8 .8 -2.8 .8 -.9 0 -2.2-.3 -2.9-.7 -.7-.4 -1.2-1.2 -1.2-1.8 -0-.6 .4-1.5 1.1-1.9 .7-.4 2-.7 3-.6 1 0 2.1 .4 2.8 .8 .6 .4 .9 1.1 .9 1.7z" fill="#fff" />
<path d="M251.9 171.7c.4 .7 .3 1.7 0 2.7 -.3 1 -.7 2.1 -1.7 3.1 -.9 .9 -2.5 1.9 -3.9 2.6 -1.4 .7 -3.1 1.4 -4.6 1.7 -1.5 .3 -3.2 .3 -4.4 .1 -1.2-.2 -2.3-.7 -3-1.3 -.7-.6 -1.2-1.3 -1.4-2.1 -.2-.8 -.3-1.7 .1-2.5 .3-.9 1.2-1.8 2-2.7 .9-.8 2-1.8 3.2-2.4 1.2-.6 2.8-1 4.1-1.3 1.3-.3 2.7-.4 3.9-.3 1.2 .1 2.2 .4 3.1 .8 1 .4 2.2 .8 2.6 1.5z" fill="#fff" />
<path d="M255 150c-.4 .8 -1.4 1.5 -2.6 1.7 -1.2 .2 -2.9-.1 -4.4-.7 -1.5-.5 -3.3-1.4 -4.6-2.4 -1.3-1 -2.6-2.5 -3.1-3.7 -.5-1.2 -.5-2.5 -.1-3.4 .5-.9 1.6-1.7 2.9-1.8 1.3-.1 3.4 .5 4.9 1.2 1.5 .6 3.1 1.7 4.2 2.7 1.1 1 2.1 2.3 2.6 3.4 .5 1.1 .6 2.3 .2 3.1z" fill="#fff" />
<path d="M295.4 112c0 .9 -.3 2.1 -.7 2.8 -.4 .7 -1.2 1.2 -1.7 1.1 -.6-0 -1.2-.7 -1.6-1.3 -.4-.7 -.7-1.7 -.7-2.6 -0-.9 .2-2.1 .6-2.7 .4-.6 1.2-1 1.7-1 .6 0 1.3 .5 1.7 1.1 .4 .6 .8 1.8 .8 2.7z" fill="#fff" />
<path d="M219.3 62c-0 .5 -.3 1.1 -.8 1.5 -.5 .4 -1.3 .8 -2.1 1 -.8 .2 -1.9 .2 -2.8 0 -.8-.2 -1.6-.6 -2.2-1 -.6-.4 -1.1-1 -1.2-1.6 -.1-.6 0-1.4 .5-1.9 .5-.5 1.7-1 2.7-1.1 1-.1 2.2 0 3.1 .3 .9 .2 1.6 .7 2.1 1.2 .5 .5 .8 1 .8 1.6z" fill="#fff" />
<g transform="scale(0.5)"><path d="M552 115h0m5 0h0m6 1h0m5 0h0m4 4h0m5 3h0m4 4h0m4 4h0m5 3h0m4 4h0m2 4h0m2 5h0m2 5h0m2 4h0m2 5h0m2 4h0m2 5h0m2 5h0m0 5h0m1 5h0m0 5h0m0 6h0m1 5h0m0 5h0m0 5h0m1 6h0m0 5h0m1 5h0m0 5h0m0 6h0m-1 10h0m1-5h0m-2 16h0m1-6h0m-2 16h0m0 5h0m1-10h0m-4 20h0m2-4h0m-9 18h0m2-5h0m2-4h0m-11 22h0m2-4h0m3-5h0m-15 21h0m4-4h0m3-4h0m-16 20h0m3-4h0m3-4h0m-18 19h0m5-3h0m3-4h0m-26 19h0m5-3h0m4-3h0m5-3h0m-38 21h0m5-2h0m5-2h0m5-3h0m4-3h0m-67 23h0m6 0h0m5-1h0m5-2h0m5-1h0m6-2h0m5-2h0m5-2h0m5-1h0m-84 15h0m6 0h0m5-1h0m5 0h0m5-1h0m6 0h0m5-1h0m5 0h0" stroke="#0b0b58" stroke-width="5.4" stroke-linecap="round" fill="none"/></g>
<g transform="scale(0.5)"><path d="M590 141h0m2 6h0m3 6h0m2 6h0m3 6h0m2 6h0m3 6h0m0 6h0m1 6h0m0 6h0m0 6h0m1 7h0m0 6h0m1 6h0m0 6h0m0 6h0m1 6h0m-1 7h0m-1 7h0m0 6h0m-2 14h0m1-7h0m-5 20h0m4-6h0m-10 18h0m3-6h0m-9 18h0m3-6h0m-11 16h0m4-5h0m-17 20h0m4-5h0m4-5h0m-12 15h0" stroke="#0b0b58" stroke-width="4.8" stroke-linecap="round" fill="none"/></g>
<g transform="scale(0.5)"><path d="M586 145h0m3 8h0m4 9h0m4 9h0m3 8h0m1 9h0m0 8h0m1 9h0m0 8h0m1 9h0m0 8h0m0 8h0m-1 10h0m-1 10h0m-1 10h0m-1 10h0" stroke="#0b0b58" stroke-width="4.4" stroke-linecap="round" fill="none"/></g>
<g transform="scale(0.5)"><path d="M590 308h0m5-4h0m5-4h0m-30 22h0m5-3h0m5-3h0m5-4h0m-39 23h0m4-2h0m5-3h0m5-2h0m5-3h0m-29 15h0m5-2h0" stroke="#0b0b58" stroke-width="5.2" stroke-linecap="round" fill="none"/></g>
<rect x="154.5" y="51.5" width="162.0" height="150.0" fill="none" stroke="#333" stroke-width="1.0"/>
<clipPath id="c85t"><path d="M345.4 75.1L363.3 72.6L373.6 79L389 96.9L396.7 117.4L404.4 132.8L414.6 140.5L427.4 148.2L440.3 163.6L448 171.3L437.7 184.1L422.3 199.5L404.4 214.9L389 225.1L381.3 235.4L371 243.1L365.9 232.8L358.2 220L353.1 199.5L345.4 173.8L340.3 148.2L337.7 122.6L337.7 102L340.3 84.1Z"/></clipPath>
<clipPath id="c85u"><path d="M385.1 58.5L389 49.5L398 40.5L407 34.1L417.2 31.5L427.4 32.8L433.8 39.2L436.4 48.2L435.1 58.5L430 64.9L419.7 67.4L409.5 68.7L404.4 73.8L401.8 81.5L404.4 91.8L409.5 102L413.3 114.9L414.6 127.7L413.3 137.9L406.9 135.4L404.4 122.6L399.2 109.7L392.8 96.9L387.7 89.2L385.1 79L384.4 68.7Z"/></clipPath>
<g clip-path="url(#c85t)">
<rect x="335" y="70" width="115" height="176" fill="url(#tW85)"/>
<path d="M363 117c1.7-3.2 6-4.7 9-4 3 .7 7.7 4.3 9 8 1.3 3.7 .2 10 -1 14 -1.2 4 -3.7 8.7 -6 10 -2.3 1.3 -6 .2 -8-2 -2-2.2 -3.5-6.7 -4-11 -.5-4.3 -.7-11.8 1-15z" fill="#fefafd" />
<path d="M357 114c.1 1.2 -.5 2.6 -1.4 3.6 -.9 1 -2.4 2.2 -3.9 2.5 -1.5 .3 -3.5-0 -5.1-.4 -1.5-.4 -3.2-1.1 -4.2-2 -.9-.9 -1.4-2.4 -1.4-3.6 0-1.2 .5-2.6 1.5-3.6 .9-1 2.6-2 4-2.3 1.5-.3 3.4 .1 4.9 .5 1.5 .4 2.9 1.1 3.8 2 .9 .9 1.8 2.2 1.8 3.4z" fill="#fefafd" />
<path d="M376.8 97c0 .8 -.3 1.7 -.8 2.3 -.6 .6 -1.6 1.1 -2.5 1.4 -.9 .2 -2.1 .4 -3 .1 -.9-.2 -1.9-.8 -2.5-1.5 -.6-.6 -1-1.6 -1-2.3 0-.8 .6-1.6 1.2-2.2 .6-.6 1.6-.9 2.4-1.2 .9-.2 1.9-.4 2.8-.2 .9 .2 1.9 .7 2.4 1.3 .6 .6 .9 1.5 .9 2.3z" fill="#fefafd" />
<path d="M354.6 130c0 .7 -.2 1.5 -.6 2 -.4 .5 -1.3 1 -2 1 -.7 0 -1.6-.4 -2.1-.9 -.5-.5 -.8-1.4 -.7-2.1 0-.7 .4-1.5 .9-2 .5-.5 1.3-.9 2-.9 .7 0 1.5 .4 1.9 .9 .4 .5 .7 1.3 .7 1.9z" fill="#fefafd" />
<path d="M402.1 140c0 .8 -.2 1.9 -.9 2.4 -.7 .5 -2.1 .7 -3.1 .7 -1-0 -2.3-.4 -2.9-.9 -.6-.5 -.9-1.4 -.9-2.2 -0-.7 .2-1.7 .9-2.2 .6-.5 1.9-.7 2.9-.8 1-0 2.3 .2 3 .7 .7 .5 1.1 1.5 1.1 2.2z" fill="#fefafd" />
<path d="M362.7 101c0 .6 -.6 1.4 -1.3 1.9 -.7 .5 -1.8 .9 -2.8 1 -1 .1 -2.1-0 -3-.3 -.9-.2 -1.7-.6 -2.2-1 -.5-.4 -.9-1.1 -.9-1.6 -0-.5 .3-1.2 .9-1.6 .5-.4 1.5-.7 2.4-.9 .9-.2 1.9-.3 2.8-.2 .9 .1 2 .4 2.7 .9 .7 .5 1.4 1.2 1.5 1.8z" fill="#fefafd" />
<path d="M348.8 160c-0 1 -.2 2.1 -.6 2.9 -.4 .8 -1.2 1.3 -2 1.7 -.7 .3 -1.7 .6 -2.4 .4 -.8-.2 -1.6-1 -2.2-1.8 -.5-.8 -1-2.1 -1-3.1 0-1 .6-2.2 1.1-3 .5-.8 1.3-1.6 2-1.9 .7-.3 1.7-0 2.4 .3 .7 .3 1.6 .9 2 1.7 .4 .8 .6 1.9 .6 2.9z" fill="#fefafd" />
<path d="M383.3 100c0 .7 -.4 1.8 -1 2.3 -.6 .5 -1.6 .9 -2.3 .8 -.7-0 -1.6-.5 -2.1-1.1 -.5-.5 -.9-1.4 -.9-2.1 0-.7 .4-1.5 .9-2 .5-.5 1.3-1 2-1 .7-0 1.6 .5 2.1 1 .6 .5 1.2 1.4 1.2 2.1z" fill="#fefafd" />
<path d="M416.1 170c0 .7 -.5 1.6 -1.2 2.2 -.7 .5 -1.9 1 -2.9 1.1 -1 0 -2.3-.4 -3-1 -.7-.5 -1.3-1.5 -1.3-2.2 0-.7 .7-1.7 1.4-2.2 .7-.5 2-.7 2.9-.7 .9 0 2 .4 2.7 .9 .7 .5 1.4 1.3 1.4 2z" fill="#fefafd" />
<path d="M374.3 205c-.1 .8 -.6 1.7 -1.4 2.2 -.7 .5 -1.9 .9 -2.9 .9 -1 0 -2.3-.3 -3-.8 -.7-.5 -1.4-1.5 -1.4-2.3 -0-.8 .5-1.8 1.3-2.4 .7-.6 2.1-1 3.2-1.1 1.1-0 2.5 .4 3.2 1 .7 .6 1.1 1.6 1.1 2.4z" fill="#fefafd" />
<path d="M354.9 84.9c-.2 1.9 -.7 4.2 -1.4 5.6 -.6 1.3 -1.7 2 -2.5 2.5 -.8 .4 -1.8 .7 -2.5 .1 -.7-.6 -1.1-2.4 -1.4-3.9 -.3-1.5 -.6-3.2 -.6-5 .1-1.7 .5-3.9 1.1-5.4 .6-1.5 1.5-2.9 2.4-3.5 .8-.6 1.9-.7 2.7-0 .8 .6 1.6 2.1 2 3.7 .4 1.6 .4 4 .2 5.9z" fill="#dc1c48" />
<path d="M352.8 84.7c-.1 1.2 -.5 2.4 -.9 3.4 -.4 .9 -.8 1.9 -1.3 2.3 -.5 .4 -1 .5 -1.5 .1 -.4-.3 -1-1 -1.2-2.1 -.2-1 -.2-2.8 -.1-4.1 .1-1.3 .6-2.7 1-3.6 .4-.9 .9-1.5 1.4-1.8 .5-.3 1-.4 1.4-.1 .4 .4 .8 1.3 1 2.3 .2 1 .3 2.5 .1 3.7z" fill="#f8d2d2" />
<path d="M387.9 120c-0 1.2 -.4 2.5 -1 3.5 -.6 .9 -1.7 1.8 -2.7 2.1 -1 .3 -2.2 .1 -3.2-.2 -1-.4 -2.1-1 -2.7-1.9 -.6-.9 -1-2.3 -1-3.4 -0-1.1 .4-2.5 1-3.4 .6-.9 1.7-1.7 2.7-2.1 1-.4 2.4-.7 3.4-.4 1 .3 2.3 1.3 2.9 2.3 .6 1 .8 2.5 .8 3.7z" fill="#dc1c48" />
<path d="M385.9 120c0 .9 -.3 2.2 -.9 2.9 -.6 .6 -1.7 1 -2.6 1 -.9 0 -2.1-.3 -2.6-.9 -.6-.6 -.9-2 -.8-2.9 .1-.9 .6-2 1.1-2.6 .6-.6 1.5-.8 2.3-.8 .8-0 1.9 .1 2.4 .7 .6 .6 1 1.8 1 2.7z" fill="#f8d2d2" />
<path d="M356.5 139c-.1 .8 -.8 1.7 -1.5 2.4 -.7 .6 -1.8 1.2 -2.8 1.4 -1 .2 -2.3-0 -3.3-.3 -1-.3 -1.9-.7 -2.6-1.3 -.6-.6 -1.3-1.5 -1.3-2.2 -0-.7 .6-1.6 1.2-2.3 .6-.7 1.5-1.4 2.5-1.7 1-.3 2.5-.3 3.6-.1 1.1 .2 2.3 .8 3 1.5 .7 .7 1.2 1.7 1.2 2.6z" fill="#dc1c48" />
<path d="M354.1 139c-0 .6 -.5 1.2 -1.1 1.6 -.6 .4 -1.6 .7 -2.4 .7 -.8 0 -1.9-.3 -2.5-.7 -.6-.4 -1.2-1.1 -1.3-1.7 -.1-.6 .3-1.5 .9-1.9 .6-.5 2-.8 2.9-.8 .9 0 2 .5 2.6 1 .6 .5 1 1.2 .9 1.8z" fill="#f8d2d2" />
<path d="M365.2 155.6c-.4 2 -1.3 4.3 -2.2 5.7 -.9 1.4 -2.4 2.3 -3.5 2.5 -1.1 .2 -2.2-.5 -3-1.3 -.8-.8 -1.6-2 -1.9-3.5 -.4-1.5 -.5-3.6 -.2-5.3 .3-1.7 1.1-3.8 1.9-5.1 .8-1.3 2-2.4 3.1-2.8 1.1-.4 2.3-.4 3.3 .2 1 .6 2.1 1.8 2.5 3.4 .4 1.6 .4 4.3 0 6.3z" fill="#dc1c48" />
<path d="M362.7 155.2c-.2 1.2 -.6 2.8 -1.2 3.8 -.5 1 -1.4 1.7 -2.1 2 -.7 .3 -1.5 .2 -2-.3 -.5-.5 -.8-1.8 -1-2.9 -.2-1.1 -.3-2.5 -.1-3.7 .2-1.2 .7-2.7 1.3-3.7 .6-.9 1.4-1.7 2-1.9 .7-.2 1.4 0 1.9 .5 .5 .5 .9 1.5 1.1 2.5 .2 1 .3 2.4 .1 3.7z" fill="#f8d2d2" />
<path d="M400.7 158.9c.2 1 -.1 2.3 -.8 3.3 -.7 1 -2.2 2 -3.6 2.6 -1.4 .6 -3.4 1.1 -4.9 1 -1.5-.1 -3.3-.6 -4.3-1.3 -1-.7 -1.8-1.8 -2-2.9 -.2-1 .1-2.4 .9-3.4 .8-1 2.2-2 3.7-2.6 1.4-.6 3.3-.8 4.8-.7 1.5 .1 3.2 .5 4.3 1.1 1 .7 1.8 1.8 1.9 2.8z" fill="#dc1c48" />
<path d="M398.3 159.4c.1 .6 -.5 1.4 -1.1 2 -.5 .6 -1.2 1.4 -2.1 1.7 -.9 .4 -2.2 .4 -3.2 .4 -1-0 -2.2-.1 -3-.5 -.7-.4 -1.3-1.1 -1.5-1.7 -.2-.7 -.1-1.6 .5-2.2 .5-.7 1.7-1.3 2.7-1.7 1-.4 2.5-.7 3.5-.6 1 .1 2 .6 2.6 1 .7 .4 1.4 1 1.5 1.6z" fill="#f8d2d2" />
<path d="M397.9 204.3c-.6 1.6 -2.1 3.2 -3.3 4.1 -1.2 .9 -2.8 1.2 -4 1.2 -1.2-0 -2.5-.6 -3.3-1.4 -.8-.8 -1.3-2.3 -1.6-3.6 -.3-1.4 -.4-3.2 0-4.6 .5-1.4 1.7-2.9 2.8-3.9 1.1-1 2.5-1.8 3.8-2 1.2-.1 2.7 .3 3.7 1.1 1 .8 1.9 2.3 2.2 3.8 .3 1.5 .3 3.8 -.3 5.3z" fill="#dc1c48" />
<path d="M395.3 203.4c-.4 1.1 -1.1 2.2 -1.9 2.9 -.8 .8 -1.8 1.6 -2.7 1.7 -.9 .1 -1.9-.4 -2.4-1.1 -.5-.7 -.8-2 -.8-3 -0-1 .3-2.1 .6-3.1 .3-1 .8-2.1 1.4-2.9 .7-.8 1.7-1.6 2.6-1.7 .9-.2 2.1 0 2.7 .7 .6 .6 1 2 1.1 3.1 .1 1.1 -.2 2.4 -.6 3.5z" fill="#f8d2d2" />
<path d="M373.8 165c-.1 .7 -.7 1.6 -1.3 2.1 -.6 .5 -1.6 .8 -2.4 .8 -.8-0 -1.8-.3 -2.4-.8 -.6-.5 -.9-1.4 -1-2.1 -0-.7 .3-1.7 .8-2.2 .6-.5 1.7-1 2.6-1 .9-0 2.2 .3 2.8 .8 .6 .5 1 1.7 1 2.4z" fill="#dc1c48" />
<path d="M372 165c-0 .4 -.2 .9 -.6 1.1 -.3 .3 -.9 .5 -1.4 .5 -.5 0 -1.2-.2 -1.5-.4 -.3-.3 -.5-.8 -.5-1.2 0-.4 .2-.9 .6-1.2 .3-.3 1-.5 1.5-.5 .5 0 1.1 .3 1.4 .5 .3 .3 .6 .8 .6 1.1z" fill="#f8d2d2" />
<path d="M409.2 203.6c.3 .5 .6 1.2 .4 1.9 -.2 .7 -1.1 1.6 -1.8 2.2 -.7 .6 -1.7 1.2 -2.6 1.5 -.9 .3 -1.9 .3 -2.6 .2 -.7-.1 -1.3-.5 -1.7-1 -.3-.5 -.5-1.2 -.3-1.9 .2-.7 .8-1.7 1.5-2.3 .7-.6 1.9-1.2 2.8-1.5 .9-.3 2.1-.5 2.8-.4 .7 .1 1.2 .7 1.5 1.3z" fill="#dc1c48" />
<path d="M407.7 204.4c.2 .3 .1 .9 -.2 1.4 -.3 .5 -1.1 1.2 -1.7 1.5 -.6 .4 -1.5 .6 -2.1 .6 -.6 0 -1.2-.1 -1.4-.4 -.2-.3 -.2-.9 .2-1.4 .3-.5 1.1-1.2 1.8-1.5 .7-.4 1.6-.8 2.2-.8 .6-0 1.1 .3 1.3 .6z" fill="#f8d2d2" />
<path d="M366.5 76.4c0 .6 -.4 1.5 -1 1.9 -.5 .5 -1.5 .9 -2.3 .8 -.7-0 -1.7-.5 -2.2-.9 -.5-.5 -1-1.2 -.9-1.8 0-.6 .6-1.2 1.1-1.7 .5-.4 1.3-.8 2-.8 .7-0 1.6 .3 2.1 .7 .5 .4 1.1 1.1 1.1 1.7z" fill="#0e7a76" />
<path d="M346.6 107.2c-0 .7 -.4 1.7 -.9 2.1 -.4 .5 -1.2 .6 -1.8 .6 -.6-0 -1.3-.2 -1.7-.7 -.4-.5 -.7-1.4 -.7-2.1 -0-.7 .2-1.7 .6-2.2 .4-.5 1.2-.9 1.8-.9 .6-0 1.5 .2 2 .7 .4 .5 .7 1.6 .7 2.4z" fill="#0e7a76" />
<path d="M344.7 148.2c0 .6 -.2 1.4 -.5 1.8 -.3 .4 -1 .6 -1.4 .6 -.5-0 -1-.3 -1.3-.7 -.3-.4 -.6-1.1 -.7-1.7 -0-.6 .2-1.4 .5-1.9 .3-.4 1-.6 1.5-.6 .5 0 1 .4 1.3 .8 .3 .4 .6 1.1 .6 1.7z" fill="#0e7a76" />
<path d="M381.7 155.9c-0 .6 -.5 1.2 -1 1.7 -.5 .4 -1.3 1 -2 1 -.7 0 -1.6-.5 -2.1-.9 -.5-.4 -1-1.2 -1-1.7 -0-.6 .4-1.3 .9-1.8 .5-.5 1.4-.9 2.1-.9 .7 0 1.6 .5 2.1 .9 .5 .5 .9 1.2 .8 1.8z" fill="#0e7a76" />
<path d="M391.3 122.6c-0 .5 -.4 1.2 -.8 1.6 -.5 .4 -1.3 .8 -1.9 .8 -.6-0 -1.5-.4 -1.9-.8 -.5-.4 -.9-1.1 -.9-1.6 -0-.6 .3-1.3 .8-1.7 .5-.4 1.4-.7 2-.7 .7 0 1.5 .4 2 .8 .5 .4 .8 1.1 .8 1.7z" fill="#0e7a76" />
<path d="M434.1 158.5c-0 .5 -.5 1.2 -1 1.5 -.5 .3 -1.3 .5 -1.9 .5 -.6-0 -1.2-.3 -1.6-.6 -.4-.3 -.8-.9 -.8-1.3 -0-.5 .2-1.1 .6-1.5 .4-.4 1.2-.7 1.9-.7 .6-0 1.5 .3 2 .6 .5 .4 .9 1.1 .9 1.6z" fill="#0e7a76" />
<path d="M434.2 173.8c0 .6 -.2 1.4 -.7 1.8 -.5 .4 -1.4 .7 -2.2 .8 -.7 0 -1.8-.2 -2.3-.6 -.5-.4 -.7-1.3 -.7-1.9 0-.6 .4-1.3 .9-1.7 .5-.4 1.4-.7 2.1-.7 .7-0 1.7 .2 2.2 .6 .5 .4 .7 1.2 .7 1.8z" fill="#0e7a76" />
<path d="M422.3 184.1c0 .5 -.3 1.2 -.7 1.5 -.4 .3 -1.3 .5 -1.9 .5 -.6-0 -1.4-.3 -1.8-.6 -.4-.3 -.6-1 -.5-1.4 0-.5 .3-1 .7-1.3 .4-.3 1.1-.6 1.7-.6 .6-0 1.4 .2 1.8 .5 .4 .3 .8 1 .8 1.5z" fill="#0e7a76" />
<path d="M409.8 199.5c0 .6 -.3 1.3 -.8 1.8 -.5 .4 -1.4 .7 -2.1 .7 -.7-0 -1.6-.3 -2.1-.7 -.5-.4 -.8-1.2 -.8-1.7 0-.6 .3-1.4 .8-1.7 .5-.4 1.4-.5 2.1-.5 .7 0 1.4 .2 1.9 .6 .5 .4 1 1 1 1.6z" fill="#0e7a76" />
<path d="M367.7 189.2c-0 .7 -.8 1.6 -1.6 2.1 -.7 .5 -1.9 .8 -2.8 .8 -.9-0 -1.9-.5 -2.6-1 -.6-.5 -1.1-1.3 -1.1-1.9 0-.6 .6-1.4 1.2-1.8 .6-.5 1.6-1 2.4-1 .9-.1 2.1 .3 2.9 .7 .7 .5 1.6 1.4 1.6 2.1z" fill="#0e7a76" />
<path d="M364.9 217.4c-.1 .8 -.6 1.6 -1.1 2.2 -.5 .6 -1.2 1.1 -1.8 1.2 -.7 .1 -1.7-.2 -2.2-.7 -.6-.6 -1.1-1.7 -1.1-2.6 -0-.9 .4-2.1 1-2.7 .6-.7 1.6-1.2 2.3-1.2 .8 0 1.8 .6 2.3 1.2 .5 .7 .7 1.9 .6 2.7z" fill="#0e7a76" />
<path d="M347.5 73.8c-0 .5 -.3 1.1 -.7 1.5 -.4 .4 -1 .7 -1.5 .7 -.5-0 -1.1-.3 -1.5-.7 -.4-.4 -.7-1 -.7-1.5 -0-.5 .2-1.2 .6-1.6 .4-.4 1.1-.8 1.6-.8 .5 0 1.2 .4 1.6 .8 .4 .4 .6 1 .6 1.6z" fill="#0e7a76" />
</g>
<g clip-path="url(#c85u)">
<rect x="383" y="30" width="55" height="110" fill="url(#tW85)"/>
<path d="M433.9 40.4c.5 1.7 -.2 3.8 -.3 5.6 -.2 1.9 .1 3.7 -.7 5.7 -.8 2 -2 4.4 -3.8 6.3 -1.8 1.9 -4.6 3.8 -7.1 4.9 -2.6 1.1 -5.7 1.6 -8.3 1.6 -2.6 .1 -5.4-.3 -7.4-1.2 -2-.9 -3.7-2.6 -4.5-4.4 -.7-1.8 -.4-4.3 0-6.4 .5-2.1 1.4-4.4 2.8-6.3 1.4-1.9 3.4-3.7 5.4-5.2 2-1.6 4.2-3.2 6.5-4.1 2.3-1 5-1.5 7.3-1.6 2.4-.1 5.1-.1 6.8 .8 1.7 .9 2.8 2.8 3.3 4.5z" fill="url(#tBlue)" />
<path d="M423.5 44.6c.4 .5 .5 1.4 .3 2.2 -.1 .9 -.4 1.9 -1.1 3 -.7 1 -2 2.2 -3.2 3.2 -1.2 1 -2.4 2 -3.8 2.8 -1.3 .8 -2.8 1.5 -4.2 1.9 -1.3 .4 -3 .9 -3.9 .8 -.9-.2 -1.2-1.1 -1.5-1.8 -.2-.7 -.3-1.6 -0-2.5 .3-.9 1-2 1.7-3 .7-1 1.5-2.2 2.6-3.1 1.1-1 2.6-1.9 3.9-2.6 1.3-.7 2.8-1.3 3.9-1.6 1.2-.3 2.2-.3 3.1-.1 .9 .1 1.7 .4 2.2 .9z" fill="#fbeaea" />
<path d="M403.3 66.1c-.8 1.7 -2.1 3.8 -3.4 5.1 -1.3 1.3 -3 2.1 -4.3 2.7 -1.4 .5 -2.8 .8 -4 .6 -1.2-.2 -2.3-.7 -3.1-1.5 -.8-.9 -1.4-2.2 -1.7-3.7 -.2-1.5 -.2-3.5 .3-5.3 .5-1.8 1.4-4 2.5-5.7 1.1-1.7 2.5-3.4 3.9-4.6 1.4-1.3 3-2.5 4.3-3 1.3-.4 2.5 .1 3.6 .4 1 .3 2.2 .7 2.7 1.6 .6 .9 .6 2.5 .7 3.9 .2 1.4 .4 2.7 .2 4.3 -.2 1.6 -.8 3.5 -1.7 5.3z" fill="#dc1c48" />
<path d="M401.1 64.8c-.7 1.3 -1.8 2.6 -2.7 3.6 -1 1 -2.1 2 -3 2.4 -.9 .4 -1.6 .1 -2.3-.1 -.7-.2 -1.3-.4 -1.7-1 -.4-.6 -.5-1.5 -.5-2.5 -0-1 .1-2.1 .5-3.3 .3-1.2 .9-2.5 1.5-3.7 .6-1.3 1.4-2.7 2.3-3.8 .9-1.1 2-2 3-2.6 1-.6 2.1-1 2.8-.8 .7 .2 1.1 1.1 1.4 1.9 .3 .7 .6 1.6 .6 2.6 0 1 -.2 2.2 -.5 3.5 -.3 1.3 -.6 2.8 -1.3 4z" fill="#f6d0d0" />
<path d="M385 74c1.3-3 11.3-3 15-2 3.7 1 6.3 5 7 8 .7 3 -.5 8.3 -3 10 -2.5 1.7 -8.8 2.7 -12 0 -3.2-2.7 -8.3-13 -7-16z" fill="url(#tLime)" />
<path d="M396 92C404 102 411 115 411 135" stroke="#bdbdbd" stroke-width="3.2" fill="none"/>
</g>
<rect x="354.4" y="173.3" width="44.1" height="53.1" fill="none" stroke="#333" stroke-width="0.8"/>
<line x1="398.5" y1="173.3" x2="460.5" y2="34.5" stroke="#222" stroke-width="0.8"/>
<line x1="398.5" y1="226.4" x2="460.5" y2="253.5" stroke="#222" stroke-width="0.8"/>
<clipPath id="c85i"><path d="M468.4 39.7L612.9 38.4L614.2 203.9L607.6 225L598.5 246L510.4 246L502.5 219.7L497.3 177.6L492 146.1L489.4 120L476.3 98.8L469.7 72.5Z"/></clipPath>
<g clip-path="url(#c85i)">
<rect x="466" y="36" width="150" height="212" fill="url(#iW85)"/>
<path d="M539.1 70c-.1 1.2 -1 2.6 -2.5 3.6 -1.4 1 -4.1 1.6 -6.2 2.3 -2.1 .7 -4.1 1.4 -6.5 1.8 -2.4 .3 -5.3 .4 -8 .3 -2.7-.1 -6-.3 -8.3-1 -2.3-.7 -4.1-1.9 -5.4-3.1 -1.3-1.2 -2.3-2.6 -2.2-3.8 .2-1.2 1.8-2.5 3.1-3.6 1.4-1.1 2.9-2.2 5.1-2.9 2.1-.7 5.1-1 7.7-1.2 2.7-.3 5.6-.7 8.2-.4 2.5 .3 4.8 1.2 7 1.9 2.2 .7 4.7 1.5 6.1 2.6 1.3 1 1.9 2.5 1.8 3.7z" fill="url(#iOra)" />
<path d="M601.8 80c.1 1.5 .5 3.3 -.2 4.6 -.7 1.3 -2.4 2.5 -3.9 3.4 -1.5 .9 -3.2 1.6 -5 1.9 -1.7 .3 -3.7 .4 -5.5 .2 -1.8-.3 -3.8-.8 -5.2-1.7 -1.5-.9 -2.8-2.3 -3.7-3.7 -.8-1.4 -1.5-3.2 -1.4-4.7 .1-1.5 1.3-3 2.1-4.4 .8-1.4 1.6-3 3-3.9 1.4-.9 3.4-1.4 5.2-1.7 1.8-.3 3.9-.7 5.6-.3 1.7 .4 3.1 1.8 4.4 2.8 1.3 1 2.8 2 3.5 3.2 .8 1.3 .9 2.8 1 4.3z" fill="url(#iOra)" />
<path d="M555.6 200c0 1.5 -.2 3 -1.1 4.4 -.9 1.3 -2.5 2.7 -4.3 3.6 -1.8 1 -4.2 1.8 -6.5 2.1 -2.3 .3 -4.8-.1 -7.2-.4 -2.4-.3 -5.2-.5 -7.1-1.4 -1.9-.9 -3.3-2.4 -4.5-3.8 -1.2-1.4 -2.7-3 -2.7-4.6 0-1.5 1.5-3.2 2.9-4.5 1.3-1.3 3.2-2.5 5.1-3.2 2-.7 4.4-.8 6.6-1.1 2.2-.3 4.4-.8 6.7-.6 2.2 .1 4.9 .6 6.7 1.5 1.8 .9 3.3 2.3 4.2 3.6 .9 1.3 1.2 2.9 1.2 4.3z" fill="url(#iOra)" />
<path d="M506 140c-.1 1.4 -.7 2.7 -1.1 3.9 -.4 1.3 -.7 2.6 -1.3 3.7 -.6 1 -1.4 2.2 -2.2 2.6 -.8 .4 -1.9 .3 -2.8-.1 -.8-.4 -1.6-1.5 -2.2-2.5 -.6-1 -1.1-2.2 -1.5-3.5 -.4-1.3 -.9-2.7 -1-4.1 -.1-1.4 .1-3.2 .5-4.5 .4-1.3 1.1-2.5 1.8-3.4 .7-.9 1.6-1.7 2.4-2 .9-.3 1.8-.3 2.7-0 .9 .3 2 .6 2.7 1.5 .7 .9 1.2 2.6 1.5 4 .3 1.4 .6 3.1 .5 4.4z" fill="url(#iOra)" />
<path d="M586 120c-.1 1.2 -.9 2.6 -1.8 3.6 -.9 1 -2.2 1.7 -3.4 2.3 -1.2 .6 -2.5 .9 -3.9 1.2 -1.3 .3 -2.8 .6 -4.2 .5 -1.4-.1 -3.1-.4 -4.3-1 -1.2-.7 -2.3-1.8 -2.9-2.9 -.6-1.1 -.9-2.4 -.9-3.6 0-1.2 .2-2.6 .9-3.6 .7-1 2-2 3.2-2.7 1.2-.7 2.6-1.2 4.1-1.5 1.4-.2 2.9-.1 4.4 .1 1.5 .2 3.2 .3 4.5 .9 1.3 .6 2.6 1.7 3.3 2.9 .7 1.1 1.1 2.6 1 3.9z" fill="url(#iOra)" />
<path d="M572.6 232c.1 1 -.6 2.2 -1.5 3.1 -.8 .9 -2.1 1.9 -3.5 2.4 -1.4 .5 -3.4 .7 -5.1 .9 -1.7 .2 -3.4 .2 -5.1 .1 -1.7-.2 -3.5-.5 -4.9-1 -1.4-.6 -2.6-1.5 -3.5-2.4 -.9-.9 -1.8-2.1 -1.8-3.1 0-1 1.2-2.1 2-3 .9-.9 2-1.8 3.3-2.4 1.3-.6 3.1-1.2 4.7-1.4 1.7-.2 3.7-.2 5.4 .1 1.7 .3 3.3 .9 4.5 1.5 1.3 .7 2.2 1.5 3.1 2.4 .9 .9 2.1 1.9 2.3 2.9z" fill="url(#iOra)" />
<path d="M497.6 62c-0 1.1 -.5 2.5 -1.4 3.4 -.9 .9 -2.5 1.3 -4 1.7 -1.4 .4 -3.2 .9 -4.7 .6 -1.5-.3 -3.1-1.2 -4-2.2 -.9-1 -1.5-2.4 -1.4-3.6 .1-1.1 1.2-2.3 2.1-3.2 .9-.9 2.2-1.8 3.5-2.1 1.3-.3 3-.1 4.5 .2 1.4 .3 3.3 .8 4.2 1.6 .9 .8 1.3 2.3 1.2 3.5z" fill="url(#iOra)" />
<path d="M538.4 110c-0 1.2 -.9 2.6 -1.9 3.6 -1 1 -2.5 1.9 -4 2.3 -1.5 .4 -3.6 .4 -5.1 0 -1.5-.4 -3-1.4 -3.8-2.4 -.8-1 -1.2-2.3 -1.2-3.4 -0-1.2 .2-2.6 1-3.5 .8-1 2.5-1.8 4-2.2 1.5-.4 3.6-.6 5.1-.3 1.5 .4 3 1.4 4 2.4 1 1 1.9 2.4 1.9 3.6z" fill="url(#iOra)" />
<path d="M606.4 150c-0 1.6 -.7 3.6 -1.5 4.8 -.8 1.2 -2.1 2.1 -3.2 2.5 -1.1 .4 -2.4 .1 -3.4-.4 -1-.5 -2.1-1.5 -2.7-2.7 -.6-1.1 -1-2.7 -1.1-4.2 -.1-1.5 .1-3.4 .7-4.7 .6-1.3 1.8-2.7 2.9-3.2 1.1-.6 2.7-.6 3.9-.1 1.2 .5 2.4 1.7 3.1 3.1 .7 1.3 1.4 3.3 1.3 4.9z" fill="url(#iOra)" />
<path d="M552.8 100c.1 1.4 -.3 3 -1.2 4.2 -.9 1.2 -2.5 2.3 -4 3 -1.5 .8 -3.3 1.2 -5 1.5 -1.7 .3 -3.7 .5 -5.4 .2 -1.6-.3 -3.1-1.3 -4.5-2.1 -1.4-.8 -3.2-1.7 -3.8-2.8 -.6-1.1 -.2-2.7 -.1-4 .1-1.3 -.1-2.7 .6-3.8 .7-1.1 2.1-2.1 3.4-2.9 1.3-.8 2.9-1.6 4.5-1.8 1.6-.2 3.5 .1 5 .4 1.6 .3 3.1 .8 4.5 1.5 1.4 .7 3 1.5 4 2.6 1 1.1 1.7 2.6 1.9 4z" fill="url(#iLight)" />
<path d="M595.9 200c0 1.3 -.4 2.7 -1 4 -.6 1.3 -1.4 2.6 -2.6 3.7 -1.2 1 -2.9 2.2 -4.5 2.6 -1.7 .4 -3.7-.1 -5.5-.5 -1.7-.4 -3.5-.9 -5-1.8 -1.4-.9 -2.8-2.1 -3.7-3.4 -.9-1.3 -1.5-3.1 -1.4-4.5 .1-1.5 1.1-3.1 2-4.3 1-1.2 2.5-2 3.9-2.9 1.4-.9 2.7-2 4.2-2.3 1.6-.4 3.5-.2 5.1 .1 1.6 .3 3.5 .9 4.7 1.8 1.2 .9 1.9 2.4 2.5 3.7 .6 1.3 1.2 2.6 1.2 3.9z" fill="url(#iLight)" />
<path d="M529.2 165c.1 1.6 -.6 3.6 -1.7 4.8 -1.1 1.3 -3 2.5 -4.7 2.9 -1.7 .4 -3.9-.1 -5.4-.7 -1.6-.6 -2.9-1.7 -3.9-2.9 -1.1-1.2 -2.3-2.7 -2.4-4.2 -.1-1.5 .5-3.5 1.5-4.8 1-1.3 2.9-2.3 4.6-2.8 1.7-.4 3.8-.4 5.5 .1 1.6 .5 3.2 1.7 4.3 2.9 1.1 1.2 2.1 2.9 2.2 4.5z" fill="url(#iLight)" />
<path d="M487.5 45c-.1 .9 -1 1.8 -1.9 2.5 -.9 .7 -2 1.5 -3.3 1.9 -1.3 .3 -3.1 .4 -4.7 .2 -1.5-.2 -3.5-.7 -4.5-1.5 -1-.8 -1.6-2.1 -1.5-3.1 .1-1 .8-2.3 1.8-3 1-.7 2.9-1.1 4.4-1.3 1.5-.2 3.2-.4 4.5-.1 1.4 .3 2.8 1 3.6 1.7 .9 .7 1.6 1.8 1.5 2.7z" fill="url(#iLight)" />
<path d="M562.5 75c-.1 1.2 -.3 2.5 -1.2 3.4 -.8 .9 -2.4 1.7 -3.9 2.1 -1.5 .4 -3.4 .6 -5 .3 -1.5-.3 -3.3-1.2 -4.3-2.2 -.9-1 -1.4-2.5 -1.4-3.7 0-1.2 .7-2.6 1.6-3.6 .9-1 2.5-2 4-2.4 1.5-.4 3.5-.2 5 .2 1.5 .4 3.3 1.1 4.2 2.1 .8 1 .9 2.4 .8 3.6z" fill="url(#iLight)" />
<path d="M523.2 210c.1 1.2 -.5 2.7 -1.5 3.7 -.9 1 -2.6 2 -4.1 2.4 -1.5 .3 -3.6 0 -5-.4 -1.4-.5 -2.8-1.4 -3.6-2.3 -.8-.9 -1.2-2.2 -1.2-3.3 -0-1.1 .3-2.5 1.1-3.4 .8-.9 2.4-1.8 3.8-2.2 1.4-.3 3.3-.2 4.7 .1 1.5 .3 3 1 4 1.9 1 .9 1.8 2.3 1.9 3.5z" fill="url(#iLight)" />
<path d="M576 180c.1 1.2 -.2 2.6 -.9 3.7 -.6 1.1 -1.8 2.4 -3 2.8 -1.2 .4 -3 .2 -4.2-.3 -1.2-.5 -2.5-1.5 -3.1-2.6 -.6-1.1 -.8-2.6 -.8-3.8 .1-1.2 .4-2.6 1.1-3.5 .7-.9 1.9-1.6 3-2 1.1-.4 2.5-.5 3.6-.1 1.1 .4 2 1.4 2.7 2.3 .7 .9 1.4 2.1 1.5 3.3z" fill="url(#iLight)" />
<path d="M504.1 75c0 1 -.4 2.2 -1.1 3 -.7 .8 -2 1.3 -3.2 1.6 -1.1 .3 -2.5 .5 -3.6 .2 -1.1-.3 -2.1-1.1 -2.8-1.9 -.7-.8 -1.3-1.9 -1.3-2.8 -0-1 .5-2.1 1.2-2.9 .7-.8 1.9-1.4 3-1.7 1.1-.3 2.5-.2 3.6 .1 1.1 .3 2.4 .8 3.1 1.6 .7 .8 1.1 2 1.1 3z" fill="url(#iLight)" />
<path d="M508.9 55c-0 .7 -.5 1.6 -1.2 2 -.6 .5 -1.8 .8 -2.7 .8 -.9 0 -2.1-.2 -2.8-.7 -.7-.5 -1.3-1.4 -1.3-2.1 -0-.7 .6-1.7 1.3-2.2 .7-.5 1.9-.8 2.9-.8 1-0 2.3 .3 2.9 .8 .6 .5 1 1.5 1 2.2z" fill="url(#iPur)" />
<path d="M547.9 72c0 .7 -.3 1.7 -.7 2.2 -.5 .5 -1.4 .9 -2.2 .9 -.7 0 -1.7-.3 -2.2-.8 -.5-.5 -.9-1.5 -.9-2.2 0-.7 .4-1.7 1-2.2 .5-.5 1.5-.9 2.2-.8 .7 0 1.6 .4 2.1 .9 .5 .5 .8 1.4 .8 2.1z" fill="url(#iPur)" />
<path d="M603.8 215c-0 .7 -.4 1.6 -1 2.1 -.6 .5 -1.9 .6 -2.8 .6 -.9 0 -2.1-.2 -2.8-.6 -.7-.5 -1.2-1.4 -1.2-2.1 -0-.7 .3-1.8 1-2.3 .7-.5 2-.7 3-.7 1 0 2.3 .3 2.9 .8 .6 .5 .9 1.5 .9 2.2z" fill="url(#iPur)" />
<path d="M525.8 238c-.1 .7 -.5 1.5 -1.1 2 -.6 .4 -1.8 .7 -2.6 .6 -.9-0 -1.9-.3 -2.5-.7 -.6-.4 -1.3-1.2 -1.3-1.9 -.1-.7 .2-1.7 .9-2.2 .6-.5 2-1 3-1 1 0 2.3 .4 3 1 .6 .5 .9 1.5 .8 2.2z" fill="url(#iPur)" />
<path d="M563.2 110c0 .5 -.3 1.2 -.9 1.6 -.5 .4 -1.6 .7 -2.4 .6 -.8-0 -1.8-.3 -2.3-.7 -.6-.4 -1-1.1 -1-1.6 0-.5 .6-1.1 1.1-1.5 .6-.3 1.5-.6 2.2-.6 .7 0 1.6 .3 2.1 .6 .5 .3 1.1 .9 1.1 1.4z" fill="url(#iPur)" />
<path d="M589.3 238c-0 .8 -.7 1.7 -1.4 2.2 -.7 .5 -2 .7 -2.9 .7 -.9-0 -1.9-.5 -2.5-.9 -.6-.5 -1.2-1.2 -1.2-1.9 -.1-.7 .3-1.6 .9-2.2 .6-.6 1.9-1.1 2.9-1.2 1-0 2.4 .4 3.2 1 .7 .6 1.2 1.6 1.2 2.4z" fill="url(#iPur)" />
<path d="M481.1 60c-0 .7 -.6 1.5 -1.1 2 -.5 .5 -1.3 1.2 -2 1.2 -.7 0 -1.6-.6 -2-1.1 -.5-.5 -.9-1.4 -.9-2 0-.7 .4-1.5 .9-2 .5-.5 1.3-1.1 2-1.1 .7-0 1.7 .4 2.2 .9 .5 .5 1 1.5 1 2.2z" fill="url(#iPur)" />
<path d="M575.9 156c-.1 1.5 -.3 3.1 -.9 4.4 -.6 1.3 -1.8 2.5 -2.9 3.5 -1.2 1 -2.6 2 -4.1 2.4 -1.5 .4 -3.4 .5 -4.9 .1 -1.5-.4 -3.1-1.3 -4.3-2.3 -1.2-1 -2.2-2.3 -2.8-3.7 -.7-1.3 -1.2-2.9 -1.2-4.4 -0-1.5 .4-3.1 1.1-4.5 .7-1.3 1.8-2.6 3-3.5 1.2-.9 2.8-1.6 4.3-2 1.5-.4 3.4-.8 4.9-.5 1.6 .3 3.2 1.2 4.4 2.2 1.2 1 2.3 2.4 2.9 3.8 .6 1.4 .7 3 .6 4.5z" fill="url(#iRedB)" />
<path d="M573.3 156c-0 1.4 -.7 3.1 -1.6 4.2 -.9 1.1 -2.5 2 -3.9 2.4 -1.4 .4 -3.1 .2 -4.5-.2 -1.4-.4 -2.8-1.2 -3.7-2.3 -.9-1.1 -1.7-2.6 -1.8-4 -.1-1.4 .4-3.2 1.3-4.4 .9-1.2 2.6-2.1 4-2.5 1.5-.4 3.4-.4 4.8 0 1.5 .4 3 1.5 3.9 2.6 .9 1.2 1.5 2.9 1.5 4.3z" fill="url(#iBase)" />
<path d="M576 152C585 135 595 118 614 106" stroke="url(#iRedB)" stroke-width="6" fill="none"/>
<path d="M596 120c2.7-4.7 15-19.3 18-8 3 11.3 1.3 64 0 76 -1.3 12 -5.7-.7 -8-4 -2.3-3.3 -4.7-8.7 -6-16 -1.3-7.3 -1.3-20 -2-28 -.7-8 -4.7-15.3 -2-20z" fill="url(#iPink)" />
<path d="M597 122C596 145 598 170 608 190L614 196" stroke="url(#iRedB)" stroke-width="5" fill="none"/>
<path d="M577 149L598 148L612 152" stroke="url(#iRedB)" stroke-width="4" fill="none"/>
<path d="M552 38.5c3.8-1.6 20.2-1.9 24 0 3.8 1.9 -.2 8.4 -1 11.5 -.8 3.1 -1 5.8 -4 7 -3 1.2 -11 1.5 -14 0 -3-1.5 -3.2-5.9 -4-9 -.8-3.1 -4.8-7.9 -1-9.5z" fill="url(#iRedB)" />
<path d="M556 40c2.2-2.3 13.7-2.3 16 0 2.3 2.3 .2 11.7 -2 14 -2.2 2.3 -8.7 2.3 -11 0 -2.3-2.3 -5.2-11.7 -3-14z" fill="url(#iPink)" />
<path d="M596.3 114.8c-.4 1.1 -1 2.4 -1.6 3.3 -.6 .9 -1.5 1.9 -2.1 2.2 -.6 .3 -1.3-0 -1.6-.6 -.3-.6 -.5-1.7 -.4-2.8 .1-1.1 .5-2.6 .9-3.8 .4-1.2 1.1-2.5 1.7-3.4 .6-.9 1.5-1.8 2.1-2 .6-.2 1.3 .1 1.5 .7 .3 .6 .3 1.9 .2 2.9 -.1 1.1 -.4 2.3 -.8 3.4z" fill="url(#iLime)" />
<path d="M481 86c1.7-3 7-3.7 11-4 4-.3 9.5 .7 13 2 3.5 1.3 6.8 3.3 8 6 1.2 2.7 .3 7.3 -1 10 -1.3 2.7 -4.3 4.2 -7 6 -2.7 1.8 -6 3.9 -9 4.6 -3 .7 -6.7 1.2 -9-.6 -2.3-1.8 -4-6 -5-10 -1-4 -2.7-11 -1-14z" fill="url(#iTeal)" />
<path d="M503.8 162c-0 1.7 -.5 3.6 -1 4.9 -.6 1.3 -1.5 2.2 -2.4 2.7 -.9 .5 -1.9 .6 -2.8 .1 -.8-.5 -1.7-1.7 -2.2-3 -.5-1.3 -.9-3.1 -1-4.7 -0-1.6 .2-3.6 .8-4.9 .5-1.4 1.4-2.8 2.3-3.4 .9-.5 2.1-.3 3 .2 .9 .5 1.9 1.7 2.4 3 .6 1.4 .9 3.4 .9 5.1z" fill="url(#iTeal)" />
<path d="M497 188c2-4 9.8-3.2 13-2 3.2 1.2 5.3 5.3 6 9 .7 3.7 -.3 10.2 -2 13 -1.7 2.8 -5.3 3.7 -8 4 -2.7 .3 -6.5 2 -8-2 -1.5-4 -3-18 -1-22z" fill="url(#iTeal)" />
</g>
<path d="M492 121c1.7-2.8 7.2 .7 11 2 3.8 1.3 7.8 5.3 12 6 4.2 .7 9.5-2.7 13-2 3.5 .7 6.8 3.2 8 6 1.2 2.8 .8 8.8 -1 11 -1.8 2.2 -5.8 2.3 -10 2 -4.2-.3 -10.8-4 -15-4 -4.2 0 -7.2 4.3 -10 4 -2.8-.3 -5.7-1.8 -7-6 -1.3-4.2 -2.7-16.2 -1-19z" fill="url(#iSparse)" />
<path d="M588.7 60.9c-.1 .8 -1.3 1.4 -2.2 2.1 -.8 .6 -1.6 1.4 -2.8 1.7 -1.2 .3 -3 0 -4.5-.1 -1.5-.1 -3.1-.2 -4.4-.6 -1.4-.4 -2.7-1.1 -3.7-1.8 -1-.7 -2-1.5 -2.5-2.4 -.5-.8 -1-1.9 -.7-2.6 .3-.7 1.4-1.3 2.2-1.9 .8-.6 1.5-1.2 2.7-1.5 1.1-.3 2.6-.4 4.1-.3 1.4 0 3 .2 4.4 .6 1.4 .4 2.8 1.1 3.8 1.8 1 .7 1.8 1.6 2.4 2.4 .6 .9 1.4 1.9 1.3 2.7z" fill="#fff" />
<path d="M570.8 88c0 1 -.3 2.1 -.8 2.9 -.6 .8 -1.6 1.4 -2.5 1.7 -.9 .3 -2.1 .5 -3 .2 -.9-.3 -1.9-1.1 -2.5-1.8 -.6-.8 -1-2 -1-2.9 0-.9 .6-2.1 1.2-2.8 .6-.7 1.6-1.2 2.4-1.4 .9-.3 1.9-.5 2.8-.3 .9 .2 1.9 .9 2.4 1.6 .6 .7 .9 1.9 .9 2.8z" fill="#fff" />
<path d="M548.1 111.5c-.4 1 -.9 2.2 -1.6 3 -.8 .7 -2 1.4 -3 1.5 -1 .1 -2.2-.5 -2.9-1.2 -.7-.7 -1.2-1.9 -1.4-3 -.2-1.1 -0-2.4 .4-3.4 .4-1 1.1-2.1 2-2.8 .8-.7 2-1.3 3-1.3 .9-0 2 .6 2.7 1.3 .7 .7 1.3 1.7 1.5 2.7 .1 1 -.2 2.2 -.6 3.3z" fill="#fff" />
<path d="M543.2 134.9c-.3 1.7 -.9 3.9 -1.7 5 -.8 1.2 -2.2 1.7 -3.3 1.9 -1.1 .2 -2.3 .2 -3.1-.5 -.8-.7 -1.3-2.3 -1.7-3.6 -.4-1.4 -.8-3.1 -.5-4.6 .2-1.5 1.2-3.1 2-4.3 .8-1.2 1.9-2.5 2.9-2.8 1-.3 2.2 .2 3.1 .8 .9 .6 2 1.6 2.4 3 .4 1.4 .2 3.5 -.1 5.3z" fill="#fff" />
<path d="M602.7 96c0 1 -.6 2.4 -1.3 3.2 -.7 .8 -1.8 1.5 -2.8 1.7 -1 .2 -2.1-.1 -3-.4 -.9-.4 -1.7-1 -2.2-1.7 -.5-.7 -.9-1.8 -.9-2.7 -0-.9 .3-2 .9-2.7 .5-.7 1.5-1.2 2.4-1.5 .9-.3 1.9-.5 2.8-.3 .9 .2 2 .7 2.7 1.5 .7 .8 1.4 2 1.5 3.1z" fill="#fff" />
<path d="M527.5 182c-0 1 -.4 2.1 -1.4 2.9 -1 .8 -2.8 1.3 -4.4 1.7 -1.7 .3 -3.8 .6 -5.5 .4 -1.7-.2 -3.7-1 -4.9-1.8 -1.2-.8 -2.2-2.1 -2.1-3.1 .1-1 1.3-2.2 2.5-3 1.2-.8 2.9-1.6 4.6-1.9 1.7-.3 3.8-0 5.5 .3 1.7 .3 3.5 .9 4.5 1.7 1 .8 1.3 1.9 1.3 2.9z" fill="#fff" />
<path d="M536.3 193c0 1.5 -.2 3.3 -.9 4.5 -.6 1.2 -1.8 2.1 -2.8 2.5 -1 .3 -2.2 0 -3.1-.5 -.9-.5 -1.9-1.4 -2.5-2.4 -.5-1.1 -.8-2.7 -.8-4.1 -0-1.4 .1-3.1 .7-4.2 .5-1.1 1.6-2.1 2.6-2.5 1-.5 2.3-.8 3.2-.4 1 .4 2 1.6 2.6 2.8 .6 1.2 1 2.8 1.1 4.3z" fill="#fff" />
<path d="M570.2 194c.1 1.1 -.5 2.6 -1.1 3.6 -.6 1 -1.5 2.1 -2.5 2.5 -1 .4 -2.3 .3 -3.3-.1 -1-.4 -2.1-1.3 -2.7-2.3 -.6-1 -.9-2.6 -.8-3.8 .1-1.2 .6-2.5 1.2-3.4 .6-.9 1.6-1.6 2.5-1.9 .9-.3 2-.4 2.9-0 .9 .3 1.7 1.2 2.3 2.1 .6 .9 1.4 2.1 1.4 3.3z" fill="#fff" />
<path d="M529.1 221c0 1.2 -.4 2.7 -1.2 3.6 -.8 1 -2.3 1.8 -3.6 2.2 -1.4 .4 -3.1 .6 -4.5 .3 -1.4-.3 -3-1.2 -4-2.2 -.9-1 -1.5-2.6 -1.6-3.9 -0-1.3 .4-3 1.4-4 .9-1 2.8-1.6 4.2-1.9 1.4-.3 3.1-.1 4.4 .3 1.3 .4 2.6 1.2 3.4 2.2 .8 .9 1.5 2.3 1.5 3.5z" fill="#fff" />
<path d="M565.5 231c-0 1.3 -.6 2.8 -1.5 3.7 -.9 .9 -2.6 1.4 -3.9 1.8 -1.4 .3 -3 .6 -4.2 .2 -1.2-.4 -2.2-1.5 -3-2.5 -.8-.9 -1.6-2.1 -1.7-3.2 -.1-1.1 .3-2.6 1.1-3.6 .8-1 2.1-2 3.5-2.4 1.4-.4 3.2-.5 4.6-.2 1.4 .4 3 1.3 3.9 2.3 .9 1 1.3 2.6 1.3 3.9z" fill="#fff" />
<path d="M583.8 230c-0 1.4 -.4 2.9 -.9 4 -.6 1.1 -1.5 2 -2.4 2.4 -.9 .3 -2 .1 -2.9-.3 -.9-.4 -1.9-1.1 -2.4-2.2 -.6-1 -.9-2.6 -.9-3.9 -0-1.3 .4-2.9 .9-3.9 .6-1.1 1.5-2 2.4-2.4 .9-.5 2.1-.8 3.1-.4 .9 .4 2 1.5 2.6 2.6 .5 1.1 .7 2.8 .7 4.2z" fill="#fff" />
<path d="M481.9 49c0 .7 -.5 1.6 -1.1 2.1 -.7 .5 -1.9 .9 -2.8 .8 -.9-0 -2-.5 -2.6-1 -.6-.5 -1.1-1.3 -1.1-1.9 -0-.7 .3-1.6 .9-2.1 .6-.5 1.8-.8 2.7-.8 .9 0 2 .4 2.7 .8 .7 .5 1.2 1.3 1.2 2z" fill="#fff" />
<path d="M508.7 44c-0 .7 -.5 1.5 -1.2 2 -.7 .5 -1.9 .9 -2.9 1 -1 .1 -2.2-.1 -3.1-.3 -.9-.2 -1.9-.6 -2.5-1 -.6-.5 -1.1-1.1 -1.1-1.7 -0-.6 .4-1.3 1-1.8 .6-.5 1.6-.9 2.5-1.1 .9-.2 2.1-.3 3.2-.1 1 .1 2.4 .5 3 1 .7 .5 1.1 1.4 1.1 2z" fill="#fff" />
<path d="M532.2 54c0 .8 -.3 1.8 -.9 2.5 -.6 .7 -1.6 1.3 -2.6 1.5 -1 .3 -2.3 .4 -3.3 .1 -1-.2 -2-.9 -2.6-1.6 -.6-.7 -1-1.7 -1-2.5 0-.8 .4-1.8 1-2.5 .6-.7 1.7-1.3 2.7-1.5 1-.2 2.2-.2 3.2 .1 1 .3 2 .8 2.6 1.5 .6 .7 .9 1.6 .9 2.5z" fill="#fff" />
<path d="M544.2 44c0 .7 -.5 1.7 -1.2 2.2 -.7 .5 -2 .7 -2.9 .7 -.9-0 -2-.4 -2.6-.9 -.6-.5 -1-1.3 -1-2 -0-.7 .2-1.6 .8-2.1 .6-.5 1.9-.8 2.8-.8 1-0 2.2 .2 2.9 .7 .7 .5 1.2 1.5 1.3 2.2z" fill="#fff" />
<path d="M606.2 52c-0 .8 -.8 1.6 -1.6 2.2 -.8 .6 -1.8 1.1 -2.9 1.3 -1.1 .2 -2.4 .3 -3.5 .1 -1-.2 -2.1-.8 -2.8-1.4 -.7-.6 -1.4-1.4 -1.5-2.2 -.1-.8 .3-1.8 1-2.4 .7-.7 1.9-1.3 3.1-1.5 1.1-.2 2.7-.2 3.8 0 1.1 .3 2.2 .9 2.9 1.6 .7 .6 1.4 1.6 1.4 2.3z" fill="#fff" />
<path d="M595.7 134c-0 .6 -.1 1.3 -.6 1.8 -.5 .5 -1.7 .8 -2.6 .9 -.9 .2 -2.1 .2 -2.9 0 -.9-.2 -1.8-.6 -2.3-1.1 -.5-.5 -.9-1.1 -.9-1.7 -0-.6 .2-1.3 .7-1.7 .5-.5 1.5-1 2.4-1.2 .9-.2 2.2-.1 3.1 .1 .9 .2 2 .6 2.6 1 .5 .5 .6 1.2 .6 1.8z" fill="#fff" />
<path d="M514.8 60c0 .8 -.3 1.7 -1 2.3 -.7 .6 -1.9 1.1 -3 1.3 -1.1 .2 -2.5 .3 -3.6 .1 -1.1-.2 -2.3-.7 -3.1-1.3 -.8-.6 -1.5-1.6 -1.6-2.4 -0-.8 .7-1.8 1.5-2.4 .8-.6 2-1.3 3.1-1.5 1.1-.2 2.6-0 3.7 .2 1.1 .3 2.1 .8 2.8 1.4 .7 .6 1.2 1.5 1.3 2.2z" fill="#fff" />
<path d="M490.5 70c-0 .8 -.7 1.8 -1.4 2.4 -.7 .6 -1.7 1.1 -2.6 1.3 -.9 .2 -2-0 -2.9-.3 -.9-.2 -1.8-.6 -2.5-1.2 -.6-.6 -1.3-1.4 -1.3-2.2 -.1-.8 .3-1.9 .9-2.5 .6-.6 1.8-1.1 2.7-1.4 1-.2 2.2-.3 3.2-.1 .9 .2 1.9 .9 2.5 1.5 .6 .7 1.3 1.6 1.3 2.4z" fill="#fff" />
<path d="M534.1 75c-0 .9 -.8 2 -1.5 2.6 -.7 .6 -1.7 1.2 -2.6 1.2 -.9 0 -2-.5 -2.7-1.1 -.6-.6 -1.1-1.8 -1.1-2.7 0-.9 .6-1.9 1.2-2.5 .6-.6 1.6-1.3 2.5-1.3 .9-0 2.1 .4 2.8 1.1 .7 .6 1.4 1.9 1.3 2.8z" fill="#fff" />
<path d="M552 70c0 .7 -.3 1.8 -1 2.3 -.7 .5 -2.1 .7 -3 .7 -1-0 -2.1-.4 -2.8-.9 -.7-.5 -1.3-1.4 -1.3-2.1 -0-.7 .4-1.8 1.1-2.3 .7-.5 2-.8 3-.7 1 0 2.1 .4 2.8 .9 .7 .5 1.2 1.4 1.2 2.1z" fill="#fff" />
<path d="M526 100c-.1 .9 -.8 1.9 -1.4 2.5 -.7 .6 -1.7 1.2 -2.5 1.2 -.9 0 -2-.4 -2.7-1 -.7-.6 -1.5-1.8 -1.6-2.7 -.1-1 .5-2.3 1.2-3.1 .7-.8 2.1-1.5 3.1-1.5 1 0 2.4 .8 3 1.5 .7 .8 1 2.1 .9 3z" fill="#fff" />
<path d="M535.2 160c-0 .8 -.5 1.8 -1.2 2.3 -.6 .6 -1.7 1 -2.6 1.2 -.9 .2 -1.9 .2 -2.9 0 -.9-.2 -2.1-.6 -2.7-1.1 -.6-.6 -1-1.6 -1-2.4 0-.8 .6-1.7 1.2-2.3 .6-.6 1.5-1.1 2.5-1.4 .9-.2 2.1-.3 3-.1 1 .2 2.1 .7 2.7 1.3 .6 .6 1 1.7 1 2.5z" fill="#fff" />
<path d="M548.7 175c0 .9 -.3 2.1 -.9 2.8 -.6 .7 -1.8 1.2 -2.8 1.2 -.9 0 -2.2-.5 -2.9-1.1 -.7-.7 -1.2-1.9 -1.2-2.9 -0-1 .4-2.3 1.1-3 .7-.7 2-1.1 3-1 1 0 2.1 .6 2.8 1.3 .6 .7 .9 1.8 .9 2.8z" fill="#fff" />
<path d="M588.7 210c-.1 .9 -.7 1.9 -1.3 2.4 -.6 .6 -1.6 1.1 -2.4 1.1 -.8 0 -1.9-.4 -2.5-1 -.6-.6 -1-1.6 -1-2.5 -0-.9 .2-2 .8-2.7 .6-.7 1.8-1.5 2.7-1.5 .9-0 2.4 .5 3 1.2 .6 .7 .8 2.1 .8 3z" fill="#fff" />
<path d="M543.7 215c-0 .7 -.5 1.5 -1.1 1.9 -.6 .5 -1.7 .8 -2.6 .9 -.9 0 -2.1-.2 -2.9-.7 -.7-.5 -1.4-1.4 -1.4-2.1 -0-.7 .6-1.8 1.3-2.2 .7-.5 2-.7 3-.7 1 0 2.1 .4 2.8 .9 .6 .5 1 1.4 1 2.1z" fill="#fff" />
<path d="M603.9 232c0 .9 -.5 2.1 -1.2 2.7 -.6 .6 -1.8 .9 -2.7 .9 -.9 0 -2.1-.3 -2.8-.9 -.7-.6 -1.5-1.8 -1.5-2.8 -0-.9 .6-2.3 1.4-2.9 .7-.6 2-.9 2.9-.9 .9 0 2 .5 2.6 1.1 .6 .6 1.2 1.7 1.2 2.6z" fill="#fff" />
<path d="M512.9 95c0 1.1 -.2 2.5 -.6 3.3 -.4 .8 -1.2 1.4 -1.8 1.6 -.6 .2 -1.3-.1 -1.8-.5 -.5-.4 -.9-1.1 -1.3-1.8 -.3-.7 -.7-1.6 -.8-2.6 -.1-1 -0-2.3 .3-3.2 .3-.9 1-1.7 1.6-2.1 .6-.3 1.4-.3 2 .1 .6 .3 1.2 1.2 1.6 2 .4 .9 .7 2.1 .7 3.2z" fill="#fff" />
<path d="M506.8 200c0 .9 -.3 2 -.8 2.7 -.5 .6 -1.3 1.2 -2 1.2 -.7-0 -1.5-.6 -2-1.3 -.4-.6 -.7-1.8 -.6-2.6 0-.9 .3-1.9 .7-2.5 .4-.6 1.2-1.1 1.9-1.2 .6-0 1.5 .5 1.9 1.1 .5 .6 .8 1.7 .8 2.6z" fill="#fff" />
<path d="M608.9 60c-0 1.1 -.5 2.3 -.9 3.2 -.5 .9 -1.1 1.8 -1.8 2.2 -.7 .4 -1.6 .5 -2.4 .2 -.8-.3 -1.8-.9 -2.3-1.8 -.5-.9 -.8-2.6 -.7-3.8 .1-1.2 .6-2.6 1.1-3.4 .5-.9 1.3-1.5 2-1.8 .7-.3 1.6-.5 2.3-.2 .7 .3 1.5 1.1 2 2 .5 .9 .8 2.3 .8 3.4z" fill="#fff" />
<path d="M562.9 62c0 .7 -.2 1.7 -.7 2.2 -.5 .5 -1.4 .7 -2.2 .7 -.7 0 -1.7-.2 -2.2-.7 -.5-.5 -.7-1.5 -.7-2.2 0-.7 .5-1.5 1-1.9 .5-.4 1.3-.6 1.9-.6 .7-0 1.5 .1 2 .5 .5 .4 .8 1.3 .8 2z" fill="#fff" />
<path d="M515.7 150.5c-0-.6 .1-1.4 .5-1.7 .4-.4 1.1-.6 1.7-.5 .5 .1 1.2 .6 1.4 1.1 .3 .5 .3 1.4 .1 2 -.2 .5 -.9 1.1 -1.4 1.3 -.5 .1 -1.3-.1 -1.7-.5 -.4-.4 -.6-1.1 -.6-1.7z" fill="#fff" />
<path d="M500.6 72.3c-.2-.2 -.4-.6 -.4-.9 0-.3 .2-.8 .4-1.1 .3-.3 .8-.5 1.2-.5 .4 0 .9 .4 1 .8 .1 .4 -.1 1 -.3 1.4 -.2 .3 -.7 .6 -1.1 .7 -.3 .1 -.8-.1 -1-.3z" fill="#fff" />
<path d="M590.7 236.2c-.5-.4 -.9-1.4 -.9-2.1 0-.7 .5-1.7 1.1-2.2 .6-.5 1.6-1.1 2.3-1 .7 .1 1.5 .9 1.8 1.5 .3 .7 .4 1.9 .1 2.6 -.3 .7 -1.4 1.4 -2.1 1.6 -.7 .2 -1.8 0 -2.3-.4z" fill="#fff" />
<path d="M592.6 197.9c-.6-.2 -1.2-.8 -1.5-1.5 -.2-.6 -.2-1.8 .2-2.4 .4-.6 1.5-1 2.2-1 .7-0 1.6 .4 2 .9 .4 .5 .5 1.5 .3 2.1 -.2 .6 -.7 1.2 -1.3 1.5 -.5 .3 -1.3 .6 -1.9 .4z" fill="#fff" />
<path d="M602.1 67.3c-.9 .4 -2.3 .6 -3.2 .2 -.9-.3 -1.9-1.2 -2-2.1 -.1-.8 .5-2.1 1.1-2.9 .7-.7 2.1-1.6 3-1.6 .9-0 1.9 .8 2.5 1.5 .6 .7 1.1 1.7 .8 2.6 -.2 .8 -1.4 1.9 -2.3 2.3z" fill="#fff" />
<path d="M537.2 64.1c-.4-.4 -.5-1.2 -.2-2 .2-.7 .9-1.9 1.6-2.4 .7-.5 2.1-.9 2.7-.7 .7 .1 1.3 .9 1.3 1.6 0 .7 -.5 1.9 -1 2.5 -.6 .6 -1.7 1.2 -2.4 1.4 -.7 .2 -1.6 .1 -2-.3z" fill="#fff" />
<path d="M562.4 206.7c-.7-.5 -1.5-1.6 -1.6-2.3 -.1-.8 .4-1.8 1-2.3 .6-.5 1.7-.7 2.5-.5 .8 .2 2 .8 2.4 1.5 .4 .7 .5 1.9 .3 2.6 -.3 .7 -1.1 1.4 -1.8 1.6 -.8 .2 -2 0 -2.7-.5z" fill="#fff" />
<path d="M572 90.5c-.1-.4 -.2-1.1 0-1.5 .2-.4 .8-.8 1.3-.8 .5-0 1.2 .3 1.5 .7 .3 .4 .4 1.2 .3 1.6 -.1 .4 -.6 .9 -1 1 -.4 .1 -.9 0 -1.2-.2 -.4-.2 -.7-.5 -.9-.9z" fill="#fff" />
<path d="M590.6 185.6c-.8-.2 -1.8-1.1 -2.2-1.8 -.3-.7 -.1-1.8 .2-2.4 .4-.6 1.2-1 1.9-1.1 .7-.1 1.6 0 2.2 .4 .6 .4 1.2 1.2 1.3 1.9 .1 .7 -.1 1.8 -.7 2.4 -.6 .5 -1.9 .9 -2.7 .7z" fill="#fff" />
<path d="M535.1 241.9c-.7 .2 -1.8 .1 -2.5-.3 -.7-.4 -1.5-1.1 -1.6-1.9 -.1-.7 .4-2 1.1-2.6 .7-.6 2.2-.9 3-.8 .9 .1 1.8 1 2.1 1.6 .3 .7 0 1.6 -.4 2.3 -.4 .6 -1.1 1.4 -1.8 1.6z" fill="#fff" />
<path d="M578 201c-.1-.3 0-.8 .2-1.1 .2-.2 .7-.4 1.1-.4 .3 0 .8 .2 1 .5 .2 .2 .4 .7 .3 1 -.1 .3 -.5 .6 -.8 .8 -.3 .2 -.9 .3 -1.2 .1 -.3-.1 -.5-.6 -.6-.9z" fill="#fff" />
<path d="M493.6 143c-.2 .2 -.8 .3 -1.2 .2 -.4-.1 -1.1-.5 -1.4-.9 -.3-.4 -.6-1 -.6-1.4 -0-.4 .2-.9 .6-.9 .4-.1 1.1 .3 1.5 .6 .4 .3 .9 .8 1.1 1.2 .2 .4 .2 1 .1 1.2z" fill="#fff" />
<path d="M550.5 224.7c-.4-.6 -.6-1.6 -.6-2.3 .1-.7 .5-1.7 1-1.9 .5-.2 1.6 .3 2.2 .7 .6 .4 1.4 1.1 1.6 1.8 .2 .7 .1 1.7 -.3 2.2 -.4 .5 -1.2 .8 -1.9 .8 -.7-.1 -1.7-.6 -2.1-1.2z" fill="#fff" />
<path d="M517.4 212.9c-.3 .3 -.8 .5 -1.2 .6 -.4 0 -.8-.1 -1-.3 -.2-.3 -.4-.8 -.3-1.2 .1-.4 .5-1 .9-1.2 .4-.3 1.1-.4 1.4-.3 .3 .1 .5 .7 .6 1.2 0 .4 -.1 1 -.4 1.3z" fill="#fff" />
<path d="M544.6 95.7c-.1-.4 .1-1 .5-1.3 .4-.3 1.5-.7 2.1-.7 .6 0 1.4 .5 1.7 .9 .3 .4 .3 1 0 1.4 -.3 .4 -1 .7 -1.6 .8 -.6 .1 -1.4 .2 -1.9-0 -.5-.2 -.9-.7 -.9-1.1z" fill="#fff" />
<path d="M471.7 74c-.4 .2 -.9 .2 -1.3-0 -.4-.2 -.9-.9 -1.1-1.4 -.2-.6 -.2-1.5 .1-1.9 .3-.4 1-.9 1.5-.8 .5 .1 1.2 .8 1.5 1.3 .3 .5 .5 1.4 .4 1.8 -.1 .5 -.6 .8 -1 1z" fill="#fff" />
<path d="M538.1 230c-.1-.4 -0-1.1 .3-1.5 .3-.3 1.1-.6 1.6-.6 .5-0 1.1 .2 1.4 .5 .3 .3 .3 .9 .2 1.3 -.1 .4 -.5 .8 -.9 1.1 -.4 .2 -1.1 .4 -1.5 .2 -.4-.1 -.9-.6 -1-1.1z" fill="#fff" />
<path d="M554.8 240.5c-.8-.1 -1.8-.8 -2.3-1.5 -.5-.7 -.8-2.1 -.5-2.8 .3-.8 1.4-1.5 2.3-1.8 .9-.3 2.2-.3 2.9 .2 .7 .5 1.4 1.7 1.4 2.6 0 .8 -.6 1.9 -1.3 2.5 -.6 .6 -1.7 1 -2.5 .9z" fill="#fff" />
<path d="M579.8 203.4c-.3 .6 -1.2 1.3 -1.9 1.4 -.7 .1 -1.7-.2 -2.2-.7 -.5-.5 -.7-1.4 -.6-2 0-.7 .2-1.6 .7-2 .5-.4 1.5-.5 2.2-.3 .7 .2 1.6 .7 1.9 1.3 .3 .6 .3 1.7 -0 2.4z" fill="#fff" />
<path d="M522.9 218.3c-.4-.3 -.7-1.1 -.7-1.6 -0-.5 .2-1.2 .6-1.6 .4-.4 1.1-.7 1.6-.6 .5 0 1.2 .4 1.4 .8 .3 .4 .4 1.2 .2 1.7 -.2 .5 -.7 1.1 -1.2 1.3 -.5 .2 -1.4 .3 -1.8 0z" fill="#fff" />
<path d="M576.2 90.1c-.4 .1 -.9 .1 -1.2-.2 -.3-.2 -.6-.8 -.6-1.2 -0-.4 .1-1 .3-1.2 .2-.3 .7-.5 1.1-.4 .4 .1 .8 .4 1.1 .7 .2 .4 .4 1 .3 1.4 -.1 .4 -.6 .7 -1 .9z" fill="#fff" />
<path d="M514.3 40.6c-.2 .3 -.7 .7 -1.1 .6 -.4-0 -1-.5 -1.3-.8 -.3-.4 -.3-1 -.2-1.4 .1-.3 .6-.6 .9-.7 .3-.1 .8 0 1.1 .2 .3 .2 .7 .6 .8 .9 .1 .3 0 .9 -.2 1.2z" fill="#fff" />
<path d="M514.2 189.2c-1 .3 -2.6 .2 -3.4-.3 -.8-.4 -1.5-1.5 -1.5-2.3 -0-.8 .6-2 1.3-2.6 .7-.6 2.2-1.1 3.1-1.1 .9 .1 1.9 .7 2.5 1.4 .5 .7 1 1.9 .6 2.7 -.3 .8 -1.7 1.9 -2.7 2.2z" fill="#fff" />
<path d="M562.5 116.6c-.3-1 .1-2.6 .6-3.3 .5-.7 1.7-1.1 2.4-1.1 .8 .1 1.6 .7 2.1 1.4 .5 .6 1.1 1.6 1.1 2.5 0 .9 -.3 2.2 -1 2.8 -.7 .6 -2.1 .9 -3 .5 -.9-.4 -2-1.8 -2.3-2.8z" fill="#fff" />
<path d="M522.7 149c-.5-.2 -.9-.8 -1-1.3 -.1-.5 -0-1.4 .3-1.9 .3-.5 1.1-.9 1.6-1 .5-0 1.2 .3 1.6 .7 .3 .4 .6 1.3 .5 1.8 -.1 .6 -.7 1.3 -1.2 1.5 -.5 .3 -1.2 .3 -1.7 .1z" fill="#fff" />
<path d="M524.3 201.8c-.2-.7 -.1-1.6 .2-2.2 .3-.6 1.1-1.2 1.7-1.3 .7-.1 1.7 .2 2.2 .6 .5 .5 .9 1.4 .8 2.1 -0 .7 -.4 1.7 -1 2.1 -.6 .4 -1.8 .7 -2.4 .5 -.7-.2 -1.4-1.1 -1.6-1.8z" fill="#fff" />
<path d="M498.1 66.7c-.4 .9 -1.3 1.9 -2.1 2.2 -.8 .4 -2.1 .3 -2.8-.1 -.7-.5 -1.4-1.7 -1.5-2.7 -.1-1 .3-2.6 1-3.3 .7-.8 2.1-1.3 3.1-1.2 1 .1 2.3 .8 2.7 1.7 .4 .8 .1 2.5 -.3 3.4z" fill="#fff" />
<path d="M531.9 140.8c0-.5 .7-1.2 1.4-1.5 .6-.3 1.7-.4 2.4-.3 .7 .1 1.3 .7 1.6 1.1 .3 .4 .4 1 .1 1.4 -.3 .4 -1 .8 -1.7 1 -.7 .1 -1.8 .1 -2.5-.2 -.6-.3 -1.3-1 -1.3-1.5z" fill="#fff" />
<path d="M555.2 54c-.1 .4 -.6 .9 -1 1.1 -.4 .2 -.9 .2 -1.2-0 -.3-.2 -.6-.6 -.6-1 -.1-.4 .1-.9 .3-1.3 .2-.3 .7-.8 1-.8 .3-0 .8 .3 1 .6 .2 .3 .5 1 .5 1.4z" fill="#fff" />
<path d="M523.7 77.1c-.4 .3 -1.1 .4 -1.5 .3 -.4-.1 -.9-.3 -1.1-.7 -.2-.4 -.1-1 .1-1.4 .2-.4 .7-1 1.2-1.2 .5-.2 1.3-.1 1.6 .1 .4 .3 .6 .9 .6 1.4 -.1 .5 -.5 1.2 -.9 1.5z" fill="#fff" />
<path d="M525.4 115.1c-.9 .4 -2 .5 -2.9 .2 -.9-.3 -2-1 -2.2-1.9 -.3-.9 -0-2.5 .7-3.4 .7-.8 2.5-1.5 3.6-1.5 1.1-0 2.7 .7 3.2 1.5 .5 .8 .3 2.3 -.1 3.1 -.4 .9 -1.4 1.6 -2.3 2z" fill="#fff" />
<path d="M513.4 56.4c-.1 .5 -.4 1 -.9 1.3 -.5 .3 -1.3 .4 -1.9 .2 -.5-.2 -1.1-.8 -1.3-1.2 -.2-.5 -.2-1.3 .1-1.6 .3-.4 1.1-.6 1.7-.6 .6-0 1.5 .1 1.8 .4 .4 .3 .5 1.1 .4 1.6z" fill="#fff" />
<path d="M565.9 112.3c-.3-.1 -.7-.4 -.8-.9 -.1-.4 0-1.3 .2-1.7 .2-.5 .8-1 1.1-1.1 .4-.1 .9 .1 1.1 .4 .2 .3 .3 1 .2 1.5 -.1 .5 -.4 1.1 -.7 1.4 -.3 .3 -.8 .5 -1.1 .4z" fill="#fff" />
<path d="M534.1 168.4c-.2 .4 -1 .6 -1.5 .7 -.6 0 -1.4-.2 -1.8-.4 -.4-.3 -.7-.9 -.8-1.3 -.1-.4 -.1-.9 .2-1.2 .3-.3 1.1-.6 1.7-.5 .6 .1 1.4 .7 1.8 1.2 .4 .5 .6 1.2 .5 1.6z" fill="#fff" />
<path d="M530.2 95.1c-0 .8 -.2 1.9 -.8 2.4 -.5 .5 -1.7 .9 -2.5 .7 -.8-.2 -1.8-.9 -2.2-1.7 -.4-.8 -.5-2.2 -.1-3 .4-.8 1.5-1.5 2.3-1.6 .8-.2 2 .2 2.6 .7 .5 .5 .7 1.6 .7 2.5z" fill="#fff" />
<path d="M610.3 40.6c-.2 0 -.6-.1 -.8-.3 -.2-.2 -.5-.6 -.5-.9 -.1-.3 0-.7 .2-1 .2-.2 .5-.5 .7-.5 .3 .1 .6 .5 .8 .9 .2 .4 .3 .9 .3 1.2 -.1 .3 -.5 .5 -.7 .6z" fill="#fff" />
<path d="M527.6 202.8c-.5 0 -1.2-.2 -1.6-.5 -.4-.3 -.6-.9 -.5-1.3 .1-.4 .6-1 1-1.2 .4-.2 1.2-.2 1.6-.1 .5 .1 1.1 .5 1.2 .9 .2 .4 -0 1.1 -.3 1.4 -.3 .4 -.9 .7 -1.5 .7z" fill="#fff" />
<path d="M505.1 181c-.8-0 -1.8-.6 -2.3-1.2 -.4-.6 -.6-1.6 -.4-2.3 .2-.7 .9-1.6 1.6-1.9 .7-.3 2-.3 2.8 0 .7 .4 1.4 1.4 1.5 2.1 .1 .7 -.3 1.7 -.9 2.3 -.5 .5 -1.6 1 -2.4 1z" fill="#fff" />
<path d="M562.8 83.6c-.5 .7 -1.8 1.4 -2.5 1.5 -.8 .1 -1.7-.5 -2.1-1.1 -.5-.6 -.8-1.4 -.7-2.2 .1-.8 .5-1.9 1.2-2.5 .7-.5 2-1 2.8-.8 .8 .2 1.6 1.2 1.9 2.1 .2 .9 .1 2.3 -.4 3z" fill="#fff" />
<path d="M509.1 85.9c-.2-.7 0-1.8 .6-2.5 .6-.7 1.9-1.4 2.8-1.5 .9-0 2.1 .7 2.7 1.3 .5 .6 .9 1.7 .6 2.5 -.2 .8 -1.2 1.7 -2 2 -.8 .3 -2.1 .3 -2.9-0 -.8-.3 -1.5-1.1 -1.7-1.8z" fill="#fff" />
<path d="M565.1 183c-.1-.3 0-.8 .3-1.1 .3-.3 .8-.5 1.2-.5 .4-0 1 .1 1.3 .4 .3 .3 .5 .8 .4 1.2 -.1 .4 -.6 .8 -1 1 -.4 .2 -1.1 .1 -1.4-0 -.4-.2 -.6-.6 -.7-.9z" fill="#fff" />
<path d="M536.3 108c-0 .3 -.3 .8 -.6 1 -.3 .2 -.9 .3 -1.2 .2 -.3-.1 -.6-.5 -.8-.8 -.1-.3 -.2-.8 -.1-1 .1-.3 .6-.5 .9-.6 .3-.1 .9-0 1.1 .2 .3 .2 .5 .7 .5 1z" fill="#fff" />
<path d="M514.4 82c-.3-.2 -.4-.8 -.3-1.3 .1-.5 .3-1.2 .6-1.6 .4-.4 1-.9 1.5-1 .5-.1 1.1 .2 1.3 .6 .2 .4 0 1.4 -.2 2 -.3 .6 -1 1.2 -1.5 1.4 -.5 .2 -1.1 .2 -1.4-.1z" fill="#fff" />
<path d="M491.7 147c-.3-.7 -0-2.1 .4-2.7 .4-.6 1.4-1 2.1-1.1 .7-0 1.7 .3 2.1 .8 .5 .5 .8 1.5 .7 2.2 -0 .7 -.5 1.7 -1 2.1 -.6 .4 -1.6 .6 -2.3 .4 -.7-.2 -1.8-1 -2.1-1.7z" fill="#fff" />
<path d="M523.2 205.3c-.7-.2 -1.5-1 -1.8-1.7 -.3-.7 -.4-1.9 -.1-2.7 .3-.8 1.3-2 2.1-2.2 .8-.2 2.1 .3 2.8 .9 .6 .6 1.1 1.9 1.1 2.8 -.1 .9 -.8 2.1 -1.4 2.6 -.7 .5 -1.9 .6 -2.6 .4z" fill="#fff" />
<path d="M497.1 74.5c-.1 .3 -.5 .5 -.9 .6 -.3 0 -.9-.1 -1.2-.3 -.3-.2 -.4-.7 -.4-1 -0-.3 .1-.6 .3-.8 .2-.2 .7-.3 1-.2 .3 .1 .8 .4 .9 .7 .2 .3 .2 .7 .1 1z" fill="#fff" />
<path d="M503.4 44.1c-.5 0 -1.2-.4 -1.5-.9 -.4-.5 -.7-1.5 -.6-2.2 .1-.7 .6-1.7 1.1-2 .5-.3 1.3 .1 1.8 .4 .5 .3 1 1 1.1 1.6 .1 .6 -.1 1.5 -.4 2 -.3 .5 -.9 1 -1.4 1z" fill="#fff" />
<path d="M548.7 97c-.4 .6 -1.2 1.3 -1.9 1.4 -.7 .1 -1.8-.2 -2.2-.7 -.4-.5 -.6-1.7 -.4-2.4 .2-.8 1-1.7 1.6-2.1 .6-.3 1.7-.2 2.2 .1 .6 .3 1.1 1 1.2 1.6 .1 .6 -.1 1.5 -.5 2.1z" fill="#fff" />
<path d="M496.6 139.8c-.4-.6 -.4-1.7 -.2-2.5 .2-.8 .9-1.6 1.6-2.1 .7-.5 1.8-.9 2.6-.8 .8 .1 2 .8 2.2 1.6 .3 .8 -.1 2.4 -.7 3.3 -.6 .8 -2.2 1.7 -3.1 1.7 -.9 .1 -2-.7 -2.4-1.3z" fill="#fff" />
<path d="M515.8 136.7c-.2-.3 -.4-.9 -.3-1.3 .1-.4 .5-.9 .9-1.1 .4-.2 1.1-.2 1.5 .1 .4 .2 .7 .8 .8 1.2 .1 .4 -.2 1 -.5 1.3 -.3 .3 -.8 .4 -1.2 .4 -.4-0 -.9-.2 -1.1-.6z" fill="#fff" />
<path d="M515.6 53.3c-.1 .7 -.8 1.5 -1.3 1.8 -.5 .3 -1.4 .5 -1.9 .2 -.5-.2 -1.1-1 -1.2-1.6 -.1-.6 0-1.6 .4-2.2 .3-.5 1.1-1 1.7-1.1 .6-.1 1.3 .3 1.7 .7 .4 .5 .8 1.5 .7 2.1z" fill="#fff" />
<path d="M524.3 163.2c-.4 .3 -1.2 .5 -1.7 .3 -.5-.1 -1-.6 -1.2-1.1 -.2-.4 -.1-1.2 .1-1.6 .2-.4 .8-.9 1.3-1 .5-.1 1.3-.1 1.7 .2 .4 .3 .7 1.1 .7 1.6 -0 .5 -.5 1.2 -.9 1.5z" fill="#fff" />
<path d="M584.8 78.5c-.3-.1 -.6-.4 -.7-.8 -.2-.4 -.3-1 -.2-1.4 .1-.4 .4-.8 .7-1 .3-.2 .7-.3 .9-.1 .2 .2 .5 .8 .5 1.2 0 .5 -0 1.2 -.2 1.5 -.2 .3 -.7 .5 -1 .5z" fill="#fff" />
<path d="M571.2 179.7c-.4-.2 -.7-.6 -.9-1 -.1-.4 -.2-.8 0-1.2 .2-.3 .7-.7 1.2-.7 .5 0 1.2 .4 1.6 .7 .4 .4 .7 1.1 .6 1.5 -.1 .4 -.7 .8 -1.1 .9 -.4 .1 -1.1-0 -1.4-.2z" fill="#fff" />
<path d="M558 241.1c-.1-.3 .1-.8 .5-1 .3-.3 1.1-.5 1.6-.5 .5-0 1.2 .2 1.5 .4 .3 .2 .3 .7 .1 1 -.2 .3 -.7 .7 -1.2 .9 -.5 .1 -1.2 0 -1.6-.1 -.4-.1 -.8-.4 -.9-.7z" fill="#fff" />
<path d="M605.8 87.2c-.2 .1 -.6-.1 -.9-.4 -.2-.3 -.5-.8 -.5-1.2 -0-.4 .1-1 .3-1.2 .2-.2 .6-.3 .9-.2 .3 .1 .6 .6 .7 1 .1 .4 .1 .9 0 1.2 -.1 .3 -.3 .7 -.5 .8z" fill="#fff" />
<path d="M525.6 166.6c-.2 .2 -.9 .2 -1.4 .1 -.5-.1 -1.1-.6 -1.4-1 -.3-.4 -.6-1 -.6-1.4 -0-.4 .2-.9 .5-1 .4-.1 1.1 .1 1.6 .4 .5 .3 1.1 1 1.3 1.4 .2 .5 .2 1.1 -.1 1.4z" fill="#fff" />
<path d="M565.6 236.1c-.2 .3 -.7 .6 -1.1 .6 -.3-0 -.8-.4 -1-.7 -.2-.3 -.1-.8 0-1.1 .1-.3 .5-.6 .8-.7 .3-.1 .7-.1 .9 .1 .3 .1 .6 .4 .6 .7 0 .3 -.1 .8 -.3 1.1z" fill="#fff" />
<path d="M528.5 168.7c-.3 .6 -1 1 -1.5 1.1 -.5 .1 -1.2 .1 -1.5-.2 -.4-.3 -.6-1 -.6-1.6 0-.6 .2-1.5 .7-1.9 .4-.4 1.3-.7 1.8-.7 .6 .1 1.4 .5 1.6 1.1 .2 .5 -.1 1.7 -.4 2.2z" fill="#fff" />
<path d="M573.6 239.3c-.3 .5 -1.1 1.1 -1.6 1.2 -.6 .1 -1.5-.2 -1.9-.6 -.4-.4 -.7-1.2 -.6-1.8 .1-.6 .5-1.4 1-1.7 .5-.3 1.3-.5 1.9-.3 .6 .2 1.4 .7 1.6 1.3 .2 .6 -0 1.5 -.4 2.1z" fill="#fff" />
<path d="M571 210.7c-.4-.3 -.7-.9 -.6-1.5 .1-.6 .9-1.6 1.4-2 .6-.4 1.5-.6 2-.5 .5 .1 1 .6 1 1.1 .1 .5 -.3 1.4 -.7 1.9 -.4 .5 -1.1 1 -1.6 1.2 -.5 .2 -1.2 .2 -1.6-.1z" fill="#fff" />
<path d="M510.4 108c-.4-1 -.4-2.6 0-3.6 .5-1 1.8-2.1 2.7-2.2 1-0 2.4 1 3.1 1.9 .7 .9 1.2 2.5 1.1 3.5 -.1 1 -1.1 2.1 -1.8 2.6 -.8 .5 -2 .5 -2.9 .1 -.9-.4 -1.9-1.3 -2.3-2.3z" fill="#fff" />
<path d="M548.4 156.8c-.5-.3 -.9-1.1 -1-1.6 -.1-.5 .3-1.2 .6-1.5 .4-.4 1-.7 1.5-.7 .5 0 1.1 .5 1.5 .9 .3 .4 .6 1.2 .4 1.7 -.1 .5 -.7 1 -1.3 1.2 -.5 .2 -1.4 .2 -1.8-.1z" fill="#fff" />
<path d="M517.8 154.6c-.3 0 -.7-.3 -.9-.5 -.2-.2 -.3-.7 -.3-1 0-.3 .2-.8 .5-1 .3-.2 .7-.3 1.1-.2 .3 .1 .9 .5 1 .8 .1 .3 -.1 1 -.3 1.3 -.2 .3 -.6 .6 -.9 .6z" fill="#fff" />
<path d="M534.1 117.3c0-.6 .5-1.3 1.1-1.7 .6-.4 1.9-.7 2.7-.6 .9 .1 2 .7 2.4 1.2 .4 .6 .5 1.6 .1 2.1 -.4 .5 -1.6 1 -2.5 1.1 -.9 .1 -2.1-.1 -2.7-.4 -.6-.4 -1.1-1.1 -1.1-1.7z" fill="#fff" />
<path d="M575.9 178.6c-.4 .2 -1.1 .1 -1.6-.1 -.4-.2 -.9-.8 -1-1.3 -.1-.5 .1-1.2 .4-1.5 .3-.4 .9-.6 1.4-.6 .5 0 1.1 .3 1.4 .7 .3 .4 .5 1.2 .3 1.7 -.1 .5 -.6 1 -1 1.2z" fill="#fff" />
<path d="M514.2 135.3c-.4-.2 -.7-.8 -.8-1.2 -.1-.4 .2-1 .5-1.3 .3-.3 .9-.4 1.3-.3 .4 .1 .9 .5 1.1 .8 .2 .3 .2 .9 0 1.3 -.1 .4 -.5 .8 -.9 .9 -.4 .1 -1-0 -1.3-.3z" fill="#fff" />
<path d="M508.1 81.2c-.4 0 -.9-.1 -1.2-.4 -.3-.3 -.5-.9 -.5-1.3 0-.4 .3-1.1 .7-1.3 .4-.2 1.1-.3 1.5-.2 .4 .2 .8 .8 .9 1.2 .1 .4 0 1.1 -.2 1.4 -.2 .3 -.7 .6 -1.1 .6z" fill="#fff" />
<path d="M520.5 138.6c-.5 .1 -1.3-.3 -1.7-.7 -.4-.4 -.7-1.1 -.8-1.7 -.1-.6 -0-1.3 .3-1.7 .3-.4 .9-.6 1.4-.5 .5 .1 1.1 .5 1.5 1 .3 .5 .6 1.5 .5 2.1 -.1 .6 -.7 1.4 -1.1 1.5z" fill="#fff" />
<path d="M581.4 201.2c-.8 .4 -2.4 .3 -3.2 0 -.8-.3 -1.7-1.2 -1.7-2 -.1-.7 .7-1.9 1.4-2.5 .7-.6 1.9-1.1 2.7-1.2 .9-0 2 .4 2.4 .9 .4 .5 .5 1.6 .2 2.3 -.3 .8 -1 2 -1.8 2.3z" fill="#fff" />
<path d="M584.8 104.9c-.4-.1 -.9-.7 -1-1.3 -.2-.6 -.2-1.6 .1-2.3 .3-.7 1-1.6 1.5-1.9 .5-.2 1.3 .1 1.6 .6 .3 .5 .5 1.5 .4 2.2 -.1 .7 -.6 1.7 -1 2.1 -.4 .5 -1.1 .7 -1.6 .6z" fill="#fff" />
<path d="M494.7 40.6c-.2 .5 -.8 1.1 -1.4 1.3 -.6 .2 -1.5 .1 -2.1-.2 -.6-.3 -1.4-1.1 -1.5-1.7 -.1-.6 .4-1.5 .9-1.9 .5-.4 1.4-.8 2-.7 .6 .1 1.4 .8 1.7 1.3 .3 .5 .5 1.3 .4 1.8z" fill="#fff" />
<path d="M590.4 44.2c-.5-0 -1.2-.9 -1.4-1.6 -.2-.7 -.1-1.9 .1-2.6 .2-.7 .8-1.4 1.2-1.6 .4-.2 1 0 1.3 .3 .4 .3 .9 1 .9 1.6 .1 .7 -.2 1.8 -.6 2.4 -.4 .6 -1.1 1.5 -1.6 1.4z" fill="#fff" />
<path d="M592.1 47.7c-.7-.5 -1.5-1.7 -1.5-2.4 -.1-.7 .6-1.6 1.1-2 .6-.5 1.5-1 2.2-.8 .7 .1 1.7 .8 2.2 1.5 .5 .7 1 1.8 .8 2.5 -.2 .7 -1 1.7 -1.8 1.9 -.8 .2 -2.2-.1 -3-.6z" fill="#fff" />
<path d="M518.6 127.2c-.3 0 -.6-.2 -.8-.5 -.2-.2 -.3-.7 -.3-1 0-.3 .1-.9 .4-1.1 .2-.2 .7-.2 1-.1 .3 .1 .6 .5 .7 .9 .1 .3 0 .9 -.1 1.2 -.2 .3 -.5 .5 -.8 .6z" fill="#fff" />
<path d="M530.6 74.3c-.3-.3 -.4-1.1 -.2-1.5 .1-.4 .7-.9 1.1-1 .4-.1 .9 0 1.2 .2 .3 .2 .6 .5 .7 .8 .1 .3 -.1 .8 -.3 1.1 -.2 .3 -.7 .6 -1.1 .7 -.4 0 -1.1-.1 -1.4-.4z" fill="#fff" />
<path d="M529.3 45.2c-.5 .6 -1.7 1.1 -2.5 1.1 -.8-0 -2-.5 -2.5-1.1 -.5-.6 -.8-1.8 -.6-2.6 .2-.8 .9-1.7 1.6-2.1 .7-.4 2.1-.6 2.9-.3 .8 .3 1.6 1.5 1.8 2.4 .2 .9 -.1 2.1 -.6 2.8z" fill="#fff" />
<path d="M604.1 227c-.5 .1 -1.1-0 -1.5-.3 -.4-.3 -.8-.9 -.8-1.4 -.1-.5 .1-1.2 .4-1.5 .3-.3 .9-.5 1.4-.5 .5 .1 1.2 .4 1.5 .9 .3 .5 .5 1.4 .3 1.9 -.2 .5 -.8 .9 -1.3 1z" fill="#fff" />
<path d="M544 189.9c-.2 .9 -.6 1.8 -1.2 2.3 -.6 .5 -1.5 .8 -2.2 .6 -.7-.2 -1.7-1 -2-1.9 -.3-.9 -.2-2.8 .3-3.7 .5-.9 1.8-1.6 2.6-1.6 .8-0 1.9 .7 2.3 1.4 .4 .7 .3 2.1 .2 2.9z" fill="#fff" />
<path d="M586.2 50.5c-.8 .4 -2 .5 -2.7 .2 -.7-.3 -1.4-1.4 -1.7-2.2 -.2-.8 -.1-2 .4-2.6 .4-.7 1.5-1.2 2.3-1.3 .8-.1 2.1 .2 2.7 .9 .6 .6 1.1 2.1 .9 2.9 -.2 .8 -1.2 1.7 -2 2.1z" fill="#fff" />
<path d="M548.2 53.2c-.1 .4 -.5 1 -.9 1.2 -.5 .2 -1.3 .4 -1.9 .2 -.5-.2 -1.2-.9 -1.3-1.4 -.1-.5 .2-1.2 .6-1.5 .4-.3 1-.6 1.5-.5 .5 0 1.1 .3 1.5 .7 .3 .3 .6 .9 .6 1.4z" fill="#fff" />
<path d="M473.6 42.5c-.7-.2 -1.7-.8 -2.1-1.3 -.4-.6 -.7-1.6 -.4-2.2 .3-.6 1.3-1.2 2.1-1.2 .8-.1 2.1 .3 2.7 .7 .6 .5 1.1 1.4 1.1 2 -0 .6 -.5 1.3 -1.1 1.7 -.6 .3 -1.6 .5 -2.4 .3z" fill="#fff" />
<path d="M540 246.1c-.5-.6 -.9-1.5 -.8-2.2 .1-.7 .6-1.6 1.2-2 .6-.3 1.6-.3 2.3-0 .7 .3 1.7 1 1.9 1.7 .3 .7 .1 1.9 -.3 2.6 -.4 .6 -1.4 1.3 -2.2 1.3 -.7-0 -1.7-.7 -2.2-1.3z" fill="#fff" />
<path d="M502.2 128.3c-.4 0 -1-.4 -1.2-.8 -.2-.4 -.3-1.3 -.2-1.8 .1-.5 .4-1 .7-1.2 .3-.2 .7-.2 1-0 .3 .2 .7 .6 .8 1 .1 .5 .2 1.4 -0 1.9 -.2 .5 -.7 .9 -1.1 .9z" fill="#fff" />
<path d="M546.5 202.8c-.2-.7 -.1-1.9 .4-2.5 .5-.6 1.6-1.2 2.4-1.2 .8-.1 2 .3 2.5 .8 .6 .6 1 1.7 .9 2.5 -.2 .8 -1 1.8 -1.8 2.1 -.7 .3 -1.9 .2 -2.6-.1 -.7-.3 -1.5-1 -1.7-1.7z" fill="#fff" />
<path d="M575.5 102.4c-.1 .4 -.7 .9 -1.3 1.1 -.5 .2 -1.3 .1 -1.8-.1 -.5-.2 -1-.8 -1.1-1.3 -.1-.5 -.1-1.2 .3-1.6 .3-.4 1.2-.8 1.8-.7 .6 .1 1.3 .6 1.7 1.1 .4 .4 .6 1.1 .5 1.6z" fill="#fff" />
<path d="M539.1 227.6c-.1 1 -.9 2.4 -1.7 2.9 -.8 .5 -2.1 .5 -2.9 .1 -.8-.4 -1.6-1.4 -1.9-2.3 -.3-.9 -.1-2.4 .4-3.3 .5-.8 1.6-1.6 2.5-1.7 .8-.1 2 .4 2.6 1.1 .6 .7 1.1 2.1 1 3.1z" fill="#fff" />
<path d="M527.4 64.7c-.6 .1 -1.5-.1 -2-.6 -.5-.5 -.9-1.5 -.8-2.3 0-.7 .5-1.9 1-2.2 .5-.3 1.5-.1 2.1 .1 .6 .3 1.3 .9 1.5 1.5 .2 .6 0 1.6 -.3 2.1 -.3 .6 -.9 1.2 -1.5 1.3z" fill="#fff" />
<path d="M585.3 48.8c-.3-.6 -.4-1.8 -.1-2.4 .3-.6 1.2-1.3 1.9-1.4 .7-.1 1.6 .3 2.1 .7 .5 .4 .9 1.2 .9 1.9 0 .6 -.3 1.5 -.8 1.9 -.5 .4 -1.4 .9 -2.1 .8 -.7-.1 -1.6-.8 -1.9-1.4z" fill="#fff" />
<path d="M605 58.8c-.4 .5 -1.1 1 -1.7 .9 -.6-.1 -1.6-.8 -2-1.3 -.4-.6 -.7-1.5 -.6-2.1 .1-.6 .7-1.2 1.2-1.4 .6-.2 1.5 .1 2.1 .4 .6 .4 1.3 1.1 1.5 1.7 .2 .6 -.1 1.4 -.4 1.8z" fill="#fff" />
<path d="M589 219.1c-.4-.1 -1-.4 -1.2-.9 -.3-.4 -.5-1.2 -.4-1.7 .2-.5 .7-1.2 1.3-1.4 .5-.2 1.5-.1 2 .3 .4 .3 .7 1.3 .6 1.8 -0 .5 -.5 1 -.9 1.4 -.4 .3 -.9 .6 -1.4 .5z" fill="#fff" />
<path d="M498.7 49.6c-.2 .1 -.5 0 -.8-.2 -.2-.2 -.6-.6 -.7-.9 -.1-.3 -0-.9 .1-1.1 .1-.2 .5-.3 .7-.2 .2 .1 .6 .4 .7 .7 .2 .3 .2 .7 .2 1 -0 .3 -.2 .6 -.3 .7z" fill="#fff" />
<path d="M537.1 109.6c-.2-.2 -.2-.6 -.2-1 .1-.3 .2-.9 .5-1.1 .3-.2 .8-.4 1.2-.3 .3 .1 .8 .3 .9 .6 .1 .3 -0 .9 -.3 1.3 -.2 .3 -.8 .7 -1.1 .7 -.3 .1 -.8-.1 -1-.3z" fill="#fff" />
<path d="M575.9 177.2c-.4-.3 -.7-1 -.6-1.6 .1-.6 .7-1.6 1.3-2.1 .6-.5 1.9-1.1 2.5-1 .6 .1 1.2 1 1.3 1.7 .1 .7 -.4 1.8 -.8 2.4 -.5 .6 -1.4 1 -2 1.2 -.6 .1 -1.3-.1 -1.6-.4z" fill="#fff" />
<path d="M581.9 89.1c-.2 .2 -.7 .3 -1.1 .2 -.4-.1 -1.1-.6 -1.3-1 -.3-.4 -.3-1.1 -.2-1.4 .1-.3 .5-.5 .8-.5 .3 0 .8 .2 1.1 .5 .3 .3 .7 .7 .8 1 .1 .4 .1 .9 -.1 1.1z" fill="#fff" />
<path d="M562.2 92.4c-.8 .1 -2-.2 -2.5-.7 -.5-.5 -.7-1.7 -.5-2.4 .1-.7 .7-1.5 1.3-1.9 .6-.3 1.6-.4 2.2-.2 .7 .2 1.4 .8 1.7 1.5 .3 .7 .4 1.8 0 2.5 -.4 .6 -1.4 1.2 -2.2 1.3z" fill="#fff" />
<path d="M470.5 50.8c-1-.4 -2.3-1.5 -2.6-2.5 -.4-.9 -.3-2.5 .3-3.2 .6-.8 2.2-1.5 3.2-1.4 1.1 .1 2.5 1.1 3.2 1.9 .8 .8 1.5 2.1 1.3 2.9 -.1 .9 -1.1 1.9 -2 2.2 -.9 .4 -2.4 .4 -3.4 0z" fill="#fff" />
<path d="M523.3 144.4c-.5 .1 -1.3-.1 -1.7-.4 -.4-.3 -.7-1 -.7-1.6 -0-.5 .3-1.3 .7-1.7 .4-.3 1.3-.4 1.8-.2 .5 .1 1.2 .6 1.4 1.1 .2 .5 .2 1.3 -0 1.8 -.2 .5 -.9 1 -1.4 1.1z" fill="#fff" />
<path d="M578.9 173.7c-.1 1.1 -.9 2.3 -1.7 3 -.8 .7 -2 1.2 -2.9 .9 -.8-.2 -1.7-1.4 -2.1-2.4 -.4-1 -.7-2.6 -.3-3.5 .4-1 1.6-2 2.5-2.2 .9-.2 2.4 .1 3.1 .8 .7 .7 1.4 2.4 1.3 3.5z" fill="#fff" />
<path d="M517.9 108.2c-.1 .3 -.5 .6 -.8 .7 -.4 .1 -1-.1 -1.4-.3 -.4-.2 -.9-.6 -1-1 -.1-.3 .3-.7 .6-.9 .3-.2 .8-.3 1.2-.3 .4 .1 .9 .4 1.1 .7 .2 .3 .3 .7 .3 1z" fill="#fff" />
<path d="M523.7 176.3c-.6-.4 -1.3-1.3 -1.4-2 -.1-.7 .3-1.8 .8-2.3 .6-.5 1.8-.8 2.5-.6 .8 .2 1.7 1 2.1 1.7 .4 .7 .4 1.8 .1 2.4 -.3 .6 -1.2 1.2 -1.9 1.3 -.7 .1 -1.6-.1 -2.3-.5z" fill="#fff" />
<path d="M509.1 150.7c-1 .4 -2.5 .4 -3.5 0 -.9-.4 -1.9-1.4 -2-2.3 -.2-.9 .4-2.2 1.1-3 .7-.8 2.1-1.6 3.1-1.7 1-0 2.2 .7 2.8 1.4 .6 .7 1.3 2 1 3 -.3 .9 -1.5 2.2 -2.5 2.6z" fill="#fff" />
<path d="M557.7 62.3c-.2 .1 -.6-0 -.9-.2 -.3-.2 -.7-.6 -.9-.9 -.2-.4 -.2-.9 -.1-1.2 .1-.3 .5-.4 .7-.3 .3 0 .7 .2 1 .5 .3 .3 .5 .9 .6 1.2 0 .4 -.1 .8 -.4 .9z" fill="#fff" />
<path d="M595.1 71.9c-.4 .4 -1.3 .7 -1.9 .5 -.6-.2 -1.5-.9 -1.9-1.5 -.4-.6 -.8-1.4 -.7-1.9 0-.5 .5-1.1 1-1.3 .5-.2 1.5-.2 2.2 .1 .7 .4 1.8 1.4 2 2.1 .2 .7 -.2 1.6 -.6 2z" fill="#fff" />
<path d="M510.5 40c-.1-.3 0-.9 .3-1.2 .3-.3 1-.7 1.5-.7 .5 0 1 .5 1.2 .9 .2 .3 .1 .9 -.1 1.2 -.2 .3 -.7 .5 -1 .6 -.4 .1 -.8 .1 -1.1-.1 -.3-.1 -.7-.4 -.8-.7z" fill="#fff" />
<path d="M488.3 79c-.6 .1 -1.4-.1 -1.8-.5 -.4-.4 -.8-1.3 -.8-1.9 0-.6 .5-1.3 1-1.7 .5-.3 1.3-.4 1.8-.2 .5 .2 1 .7 1.2 1.3 .2 .5 .4 1.3 .2 1.8 -.2 .5 -.9 1.1 -1.5 1.2z" fill="#fff" />
<path d="M537.6 110.9c-.7 .7 -1.8 1 -2.7 1 -.9 0 -2-.2 -2.5-.8 -.5-.6 -.8-2 -.5-3 .3-1 1.4-2.3 2.4-2.8 1-.5 2.6-.5 3.3-0 .8 .4 1.3 1.8 1.2 2.7 -0 .9 -.7 2.2 -1.3 2.9z" fill="#fff" />
<path d="M509.6 136.6c-.6-.1 -1.4-.7 -1.7-1.2 -.3-.5 -.2-1.4 .1-1.8 .3-.4 1-.7 1.6-.8 .6-.1 1.4-.1 1.9 .2 .5 .3 .8 1.1 .8 1.7 0 .6 -.3 1.4 -.7 1.7 -.5 .3 -1.4 .5 -2 .3z" fill="#fff" />
<path d="M544.8 134.5c-1.1-.7 -2.3-2.2 -2.5-3.3 -.2-1.1 .4-2.6 1.2-3.2 .8-.7 2.5-1.1 3.6-.8 1.1 .3 2.5 1.5 3.2 2.5 .7 1 1.3 2.6 1 3.5 -.3 .9 -1.6 1.9 -2.7 2.1 -1.1 .2 -2.8-.2 -3.9-.9z" fill="#fff" />
<path d="M574.5 179.8c-1-.3 -2.2-1.1 -2.6-1.8 -.4-.7 -.1-1.8 .3-2.6 .4-.7 1.2-1.7 2.1-1.9 .9-.2 2.7 .1 3.5 .7 .8 .6 1.4 2 1.4 2.9 -0 .9 -.7 2.1 -1.5 2.5 -.8 .4 -2.3 .4 -3.3 .1z" fill="#fff" />
<rect x="460.5" y="34.5" width="165.0" height="219.0" fill="none" stroke="#333" stroke-width="1.0"/>
<clipPath id="c11t"><path d="M22.8 219.6L80.5 220.8L133.4 273L82.9 270L108.2 301.3L135.8 341L43.8 461.4L19.7 413.2L14.2 330L14.4 253Z"/></clipPath>
<g clip-path="url(#c11t)">
<rect x="12" y="216" width="126" height="248" fill="url(#tW11)"/>
<path d="M26 261L40 278L52 298L60 320L72 337L92 345L110 349" stroke="url(#tWh)" stroke-width="13" fill="none" stroke-linejoin="round" stroke-linecap="round" opacity="0.85"/>
<path d="M62 335L64 360L62 390L60 420" stroke="url(#tWh)" stroke-width="8" fill="none" stroke-linejoin="round" stroke-linecap="round" opacity="0.75"/>
<path d="M60 232L70 250L78 268" stroke="url(#tWh)" stroke-width="6" fill="none" stroke-linejoin="round" stroke-linecap="round" opacity="0.6"/>
<path d="M15.3 254.4L26 259L36 264" stroke="#fff" stroke-width="1.6" fill="none" stroke-linejoin="round" stroke-linecap="round" opacity="1"/>
<path d="M77.8 293L90 300L97 304.4" stroke="#fff" stroke-width="1.3" fill="none" stroke-linejoin="round" stroke-linecap="round" opacity="1"/>
<path d="M111 326.7L120 329L127.8 332" stroke="#fff" stroke-width="1.3" fill="none" stroke-linejoin="round" stroke-linecap="round" opacity="1"/>
<path d="M53.5 304C53 318 55 330 58 336C61 341 65 342 68 341" stroke="#a2a2a2" stroke-width="5.5" fill="none" stroke-linecap="round"/>
<path d="M54 306C54 316 55 324 56 330" stroke="#f6dcd4" stroke-width="2" fill="none" stroke-linecap="round"/>
<path d="M38.6 301.5c-.3 1.7 -.6 3.6 -1 5 -.5 1.3 -1.1 2.1 -1.7 3 -.6 .9 -1.1 2 -1.6 2.2 -.5 .2 -.9-.6 -1.4-1.1 -.4-.4 -.9-.7 -1.2-1.6 -.3-.9 -.5-2.3 -.6-3.7 -.1-1.4 0-3.2 .2-4.9 .2-1.7 .5-3.6 1-5.1 .4-1.5 1.1-3 1.6-4 .6-1 1.3-1.8 1.8-2 .6-.2 1.1 .2 1.6 .7 .4 .5 .8 1.4 1.1 2.4 .3 1 .7 2.2 .7 3.7 0 1.5 -.2 3.5 -.5 5.2z" fill="#d86a5a" />
<path d="M36.9 301.3c-.2 1.7 -.6 3.8 -1 5.1 -.4 1.3 -1 2.1 -1.4 2.4 -.4 .4 -.8 .4 -1.1-.2 -.3-.5 -.4-1.8 -.5-3.1 -0-1.3 0-3.2 .2-4.8 .2-1.6 .7-3.5 1.1-4.7 .4-1.2 .9-2.1 1.3-2.5 .4-.4 .8-.5 1.1-.1 .3 .5 .5 1.5 .6 2.9 0 1.3 -.1 3.3 -.3 5z" fill="#f8dcd4" />
<path d="M67.4 315c-0 1.1 -.3 2.3 -.7 3.1 -.4 .8 -1.1 1.6 -1.7 1.9 -.6 .3 -1.4 .1 -2-.2 -.6-.3 -1.3-.9 -1.7-1.7 -.4-.8 -.7-2.1 -.7-3.1 -0-1 .3-2.3 .6-3.1 .4-.8 1-1.5 1.7-1.9 .6-.4 1.5-.6 2.1-.3 .7 .3 1.4 1.2 1.8 2 .4 .9 .5 2.2 .5 3.3z" fill="#d86a5a" />
<path d="M65.9 315c-0 .9 -.3 2 -.6 2.7 -.3 .6 -.9 1 -1.3 1 -.4-0 -1-.4 -1.3-1.1 -.3-.6 -.6-1.8 -.6-2.6 0-.9 .3-2 .6-2.6 .3-.6 .8-1 1.3-1 .4-0 1 .3 1.3 .9 .3 .6 .6 1.8 .6 2.7z" fill="#f8dcd4" />
<path d="M89.4 315c0 .7 -.4 1.6 -1 2.1 -.6 .5 -1.7 .9 -2.4 .8 -.8-0 -1.7-.5 -2.2-1 -.5-.5 -.9-1.3 -.9-1.9 -0-.7 .3-1.6 .8-2.1 .5-.5 1.6-.8 2.4-.8 .8 0 1.8 .4 2.3 .8 .6 .5 1.1 1.3 1.1 2z" fill="#d86a5a" />
<path d="M87.9 315c-0 .4 -.2 .9 -.5 1.2 -.3 .3 -.9 .5 -1.3 .5 -.4-0 -1-.3 -1.3-.5 -.3-.3 -.5-.8 -.5-1.2 -0-.4 .2-.9 .5-1.2 .3-.3 .8-.6 1.3-.6 .4-0 1.1 .3 1.4 .6 .3 .3 .5 .8 .5 1.2z" fill="#f8dcd4" />
<path d="M65.4 352.6c-.4 2 -1.1 4.3 -1.7 5.7 -.7 1.4 -1.6 2.4 -2.3 2.7 -.7 .3 -1.3-.4 -1.7-1.1 -.4-.7 -.8-1.8 -.9-3.3 -.1-1.4 -.1-3.5 .2-5.2 .3-1.7 .9-3.8 1.5-5.1 .6-1.3 1.4-2.4 2.1-2.9 .7-.5 1.4-.6 1.9-0 .5 .5 1.2 1.6 1.3 3.2 .1 1.5 -.1 4.1 -.4 6.1z" fill="#d86a5a" />
<path d="M63.3 352.2c-.2 1.2 -.6 2.4 -.9 3.3 -.3 .9 -.7 1.7 -1 2.1 -.3 .4 -.7 .6 -.9 .2 -.2-.3 -.3-1.3 -.3-2.3 0-1 .2-2.6 .4-3.8 .2-1.2 .6-2.6 .9-3.5 .3-1 .8-1.9 1.1-2.2 .3-.3 .6-.1 .8 .4 .2 .4 .4 1.2 .4 2.1 -0 1 -.2 2.6 -.5 3.8z" fill="#f8dcd4" />
<path d="M57.5 373.3c-.6 1.6 -1.3 3.2 -2.1 4.6 -.7 1.3 -1.6 2.6 -2.3 3.4 -.8 .9 -1.6 1.7 -2.2 1.9 -.6 .2 -1.2-.2 -1.5-.8 -.3-.6 -.5-1.6 -.6-2.7 -0-1.1 .1-2.6 .4-4.1 .3-1.5 .8-3.3 1.4-4.9 .6-1.6 1.4-3.2 2.1-4.5 .7-1.3 1.6-2.7 2.3-3.4 .7-.7 1.4-1 2-1.1 .6-.1 1.1-0 1.5 .4 .3 .5 .5 1.5 .6 2.5 .1 1 .3 2.2 0 3.6 -.3 1.4 -.9 3.4 -1.5 5z" fill="#d86a5a" />
<path d="M55.5 372.6c-.5 1.4 -1.2 2.8 -1.8 3.9 -.6 1.1 -1.4 2.5 -1.9 3 -.5 .4 -.8 .1 -1-.5 -.2-.5 -.2-1.6 0-2.8 .3-1.3 1-3.2 1.5-4.7 .6-1.5 1.3-3.2 1.9-4.2 .6-1.1 1.3-1.9 1.7-2.2 .5-.4 1-.5 1.1-0 .1 .5 0 1.9 -.3 3.2 -.3 1.3 -.8 3.1 -1.4 4.5z" fill="#f8dcd4" />
<path d="M70.3 371.7c.1 1.5 0 3.3 -.1 4.6 -.1 1.3 -.4 2.3 -.7 3.1 -.3 .8 -.7 1.4 -1 1.7 -.4 .3 -.8 .1 -1.2-.1 -.4-.2 -.9-.3 -1.3-1 -.4-.8 -.8-2.2 -1.1-3.5 -.3-1.3 -.6-2.7 -.8-4.1 -.2-1.4 -.2-3.1 -.2-4.5 0-1.4 .2-2.9 .4-4.1 .2-1.1 .6-2.3 1-2.7 .4-.4 1-0 1.5 .4 .5 .4 1 .9 1.5 1.8 .5 .9 .9 2.4 1.2 3.8 .3 1.4 .7 3.1 .8 4.6z" fill="#d86a5a" />
<path d="M68.4 371.9c.1 1.4 .2 3.2 .1 4.4 -.1 1.2 -.2 2.5 -.5 3 -.2 .5 -.6 .5 -.9 .1 -.3-.4 -.7-1.5 -1-2.7 -.3-1.2 -.5-3 -.7-4.5 -.1-1.5 -.2-3.4 -.1-4.6 .1-1.2 .3-2.2 .6-2.6 .2-.4 .6-.4 .9 0 .3 .4 .7 1.5 .9 2.6 .3 1.1 .5 2.8 .7 4.3z" fill="#f8dcd4" />
<path d="M88.5 371.4c.3 2.1 .4 4.4 .5 6.2 .1 1.8 -0 3.4 -.2 4.8 -.1 1.3 -.4 2.6 -.7 3.2 -.4 .6 -.9 .4 -1.5 .1 -.5-.3 -1.2-.6 -1.8-1.7 -.6-1.1 -1.3-2.9 -1.9-4.8 -.6-1.9 -1.1-4.3 -1.5-6.5 -.4-2.2 -.7-4.8 -.8-6.6 -.1-1.9 .2-3.1 .4-4.5 .2-1.4 .2-3.5 .6-4 .4-.5 1.1 .4 1.7 .9 .6 .4 1.2 .6 1.8 1.7 .6 1.1 1.3 3.2 1.8 5.1 .6 1.9 1.2 4.2 1.6 6.3z" fill="#d86a5a" />
<path d="M86.6 371.7c.3 1.6 .6 3.3 .7 4.7 .1 1.4 .1 2.4 .1 3.5 0 1.1 .1 2.7 -.1 3.2 -.1 .5 -.5 .3 -.8-.1 -.3-.4 -.7-1 -1.1-2 -.4-1 -.8-2.5 -1.2-3.9 -.4-1.4 -.8-3.1 -1.1-4.7 -.3-1.6 -.6-3.6 -.7-5.1 -.2-1.6 -.3-3.2 -.2-4.3 0-1.1 .1-2 .3-2.4 .2-.4 .5-.7 .8-.2 .3 .5 .8 2 1.2 3 .4 1.1 .8 2 1.2 3.4 .3 1.4 .6 3.3 .9 4.9z" fill="#f8dcd4" />
<path d="M116.7 348.1c-.3 .4 -1.2 .4 -2.1 .3 -.9-.1 -2-.6 -3.1-1 -1.1-.4 -2.3-1 -3.5-1.7 -1.1-.7 -2.4-1.6 -3.4-2.5 -1-.9 -2-1.8 -2.8-2.6 -.8-.9 -1.5-1.8 -1.9-2.6 -.4-.7 -.6-1.6 -.4-1.9 .3-.4 1.2-.4 2-.3 .8 .1 1.9 .5 3 .9 1.1 .4 2.3 1.1 3.4 1.7 1.1 .7 2.3 1.5 3.4 2.4 1.1 .9 2.4 1.8 3.3 2.8 .9 .9 1.6 1.9 1.9 2.7 .3 .8 .4 1.5 .1 1.8z" fill="#d86a5a" />
<path d="M113.3 345.7c-.2 .3 -.7 .5 -1.5 .3 -.8-.2 -2.1-.9 -3.2-1.5 -1.1-.6 -2.3-1.4 -3.2-2.2 -.9-.7 -1.7-1.7 -2.1-2.3 -.4-.6 -.6-1.3 -.4-1.6 .2-.3 .9-.3 1.6-.1 .8 .2 1.9 .6 2.9 1.2 1 .6 2.3 1.5 3.2 2.3 .9 .8 1.7 1.7 2.2 2.3 .4 .7 .7 1.3 .5 1.6z" fill="#f8dcd4" />
<path d="M47.1 345c-0 .7 -.5 1.6 -1 2.1 -.5 .5 -1.4 .8 -2.1 .8 -.7-0 -1.6-.3 -2.1-.8 -.5-.5 -.9-1.4 -1-2.1 -0-.7 .2-1.8 .7-2.3 .5-.5 1.6-.8 2.3-.8 .7 0 1.6 .4 2.2 1 .5 .5 .9 1.4 .9 2.2z" fill="#d86a5a" />
<path d="M45.4 345c-0 .4 -.2 .9 -.4 1.1 -.2 .3 -.7 .5 -1 .5 -.3 0 -.8-.2 -1-.5 -.3-.3 -.5-.8 -.5-1.2 -0-.4 .2-.9 .5-1.2 .3-.3 .7-.5 1.1-.5 .3 0 .8 .3 1 .6 .2 .3 .4 .8 .4 1.1z" fill="#f8dcd4" />
<path d="M63.3 410c-0 1.8 -.4 4 -.8 5.4 -.4 1.4 -1 2.6 -1.6 2.9 -.5 .4 -1.2-.1 -1.7-.6 -.5-.5 -1.1-1.4 -1.5-2.7 -.4-1.3 -.8-3.3 -.8-5 -0-1.8 .2-4.2 .5-5.6 .4-1.4 1.1-2.5 1.6-3.1 .6-.5 1.3-.7 1.9-.1 .6 .6 1.1 2 1.5 3.4 .4 1.5 .8 3.6 .8 5.4z" fill="#d86a5a" />
<path d="M61.3 410c0 1.2 -.1 2.7 -.2 3.7 -.1 1 -.4 2.1 -.7 2.5 -.3 .4 -.6 .5 -.9 0 -.3-.4 -.5-1.5 -.7-2.5 -.2-1 -.3-2.4 -.3-3.7 -0-1.3 .1-2.8 .2-3.9 .2-1.1 .4-2.4 .7-2.8 .3-.4 .7-0 .9 .5 .3 .5 .5 1.6 .6 2.6 .1 1 .3 2.3 .3 3.5z" fill="#f8dcd4" />
<path d="M24.6 376.9c-.4 1.2 -1 2.6 -1.6 3.7 -.6 1.1 -1.3 2.3 -1.8 3 -.6 .7 -1.2 1.1 -1.7 1.3 -.5 .1 -.9 0 -1.2-.5 -.2-.5 -.2-1.5 -.2-2.4 -0-.9 -.1-1.8 .1-2.9 .2-1.2 .5-2.7 .9-4.1 .5-1.4 1.1-3.1 1.8-4.3 .6-1.2 1.5-2.2 2.1-2.9 .6-.6 1.2-.9 1.7-1 .5-.1 .9 .1 1.2 .6 .2 .5 .2 1.6 .2 2.6 -0 1 -.1 2 -.4 3.2 -.2 1.2 -.6 2.5 -1 3.8z" fill="#d86a5a" />
<path d="M23.4 376.5c-.5 1.4 -1.2 3.1 -1.8 4.2 -.6 1.1 -1.3 2.2 -1.7 2.5 -.4 .3 -.6-.2 -.7-.8 -.1-.6 -.1-1.6 .2-2.7 .3-1.2 .9-2.9 1.4-4.2 .5-1.3 1.1-2.8 1.6-3.8 .5-1 1.1-1.7 1.5-2 .4-.3 .7-.3 .8 .1 .1 .4 .1 1.4 -.2 2.5 -.2 1.1 -.6 2.7 -1.1 4.1z" fill="#f8dcd4" />
<path d="M47 242c0 .7 -.3 1.8 -1 2.3 -.7 .5 -2.1 .7 -3 .7 -1-0 -2.1-.4 -2.8-.9 -.7-.5 -1.3-1.4 -1.3-2.1 -0-.7 .4-1.8 1.1-2.3 .7-.5 2-.8 3-.7 1 0 2.1 .4 2.8 .9 .7 .5 1.2 1.4 1.2 2.1z" fill="#d86a5a" />
<path d="M45.2 242c-0 .4 -.4 .9 -.7 1.1 -.4 .2 -1 .3 -1.5 .3 -.5-0 -1.1-.1 -1.4-.4 -.3-.2 -.6-.7 -.6-1.1 -0-.4 .2-.9 .5-1.2 .3-.3 1-.5 1.5-.5 .5-0 1.3 .1 1.7 .4 .4 .3 .6 .9 .6 1.3z" fill="#f8dcd4" />
<path d="M57 252c-.1 .8 -.8 1.7 -1.4 2.2 -.7 .5 -1.7 1 -2.5 1 -.9 0 -2-.3 -2.7-.9 -.7-.5 -1.5-1.5 -1.6-2.4 -.1-.8 .5-2 1.2-2.7 .7-.7 2.1-1.3 3.1-1.3 1 0 2.4 .7 3 1.4 .7 .7 1 1.8 .9 2.6z" fill="#d86a5a" />
<path d="M55 252c0 .5 -.2 1.1 -.5 1.4 -.3 .3 -1 .5 -1.5 .5 -.5-0 -1.1-.2 -1.4-.6 -.4-.3 -.7-.9 -.7-1.3 -0-.5 .2-1.2 .5-1.5 .4-.3 1.1-.5 1.6-.5 .5 0 1.1 .3 1.4 .6 .3 .3 .6 .9 .6 1.3z" fill="#f8dcd4" />
<path d="M76 257c0 .9 -.4 2.2 -.9 2.8 -.5 .6 -1.4 .9 -2.1 .9 -.7-0 -1.5-.5 -2-1.1 -.5-.6 -1-1.7 -1.1-2.6 -0-.9 .4-2.3 .9-2.9 .5-.6 1.5-1 2.2-1 .7 0 1.5 .5 2 1.2 .5 .6 1 1.8 1 2.7z" fill="#d86a5a" />
<path d="M74.4 257c-0 .6 -.2 1.2 -.4 1.6 -.2 .4 -.6 .9 -.9 .9 -.3 0 -.7-.4 -1-.9 -.2-.4 -.5-1.1 -.5-1.7 -0-.6 .2-1.3 .4-1.7 .2-.4 .7-.9 1-.9 .3 0 .8 .5 1 .9 .2 .4 .4 1.1 .4 1.7z" fill="#f8dcd4" />
<path d="M35.9 293c0 .6 -.2 1.3 -.5 1.8 -.3 .4 -.9 .9 -1.4 .9 -.5 0 -1.1-.3 -1.5-.8 -.4-.4 -.7-1.3 -.7-1.9 0-.6 .4-1.4 .8-1.7 .4-.4 1-.5 1.4-.5 .4 0 .9 .3 1.3 .7 .3 .4 .6 1 .6 1.6z" fill="#4363d8" />
<path d="M35.9 312c0 .5 -.1 1.1 -.5 1.4 -.3 .4 -.9 .7 -1.4 .7 -.5 0 -1.1-.3 -1.4-.7 -.3-.4 -.4-1 -.4-1.4 0-.5 .3-1 .6-1.3 .3-.3 .9-.5 1.3-.5 .4-0 1 .2 1.3 .5 .3 .3 .5 .9 .6 1.3z" fill="#4363d8" />
<path d="M64.9 311c-0 .5 -.2 1.1 -.5 1.3 -.3 .3 -.9 .4 -1.3 .4 -.4-0 -1-.1 -1.3-.4 -.3-.3 -.6-.9 -.6-1.3 -0-.5 .2-1.1 .5-1.4 .3-.3 1-.4 1.4-.4 .5 0 1.1 .1 1.4 .5 .3 .3 .5 .9 .4 1.4z" fill="#4363d8" />
<path d="M64.3 346c-0 .5 -.3 1 -.7 1.3 -.4 .3 -1.1 .7 -1.7 .7 -.6 0 -1.4-.3 -1.8-.6 -.4-.3 -.7-1 -.7-1.4 0-.5 .3-1 .7-1.3 .4-.3 1.1-.5 1.7-.5 .6-0 1.4 .2 1.8 .5 .4 .3 .6 1 .6 1.4z" fill="#4363d8" />
<path d="M62.2 378c0 .6 -.3 1.5 -.6 1.9 -.4 .4 -1 .7 -1.5 .7 -.5-0 -1.1-.3 -1.5-.8 -.3-.4 -.6-1.3 -.6-1.9 0-.6 .4-1.3 .7-1.7 .3-.4 .9-.7 1.3-.8 .5-0 1.1 .2 1.4 .6 .4 .4 .7 1.2 .7 1.8z" fill="#4363d8" />
<path d="M87.4 360c-0 .5 -.4 1 -.8 1.3 -.4 .3 -1.1 .6 -1.7 .7 -.6 0 -1.5-.1 -1.9-.5 -.5-.3 -.8-1 -.8-1.5 -0-.5 .3-1.2 .8-1.6 .5-.4 1.4-.7 2-.7 .6 0 1.5 .4 1.9 .8 .4 .4 .6 1 .6 1.5z" fill="#4363d8" />
<path d="M116.7 345c0 .5 -.3 1.2 -.5 1.6 -.3 .4 -.8 .7 -1.2 .6 -.4-0 -.8-.4 -1.1-.8 -.2-.4 -.4-1 -.4-1.4 0-.5 .2-1 .4-1.3 .2-.3 .6-.7 1-.8 .4-0 .9 .2 1.2 .5 .3 .3 .6 1 .6 1.6z" fill="#4363d8" />
<path d="M58.5 392c-0 .5 -.2 1.1 -.4 1.4 -.2 .3 -.7 .5 -1.1 .5 -.3-0 -.7-.3 -1-.6 -.2-.3 -.4-.9 -.4-1.3 -0-.5 .1-1.1 .4-1.4 .2-.3 .7-.5 1.1-.5 .4-0 .8 .2 1.1 .5 .2 .3 .4 1 .4 1.4z" fill="#4363d8" />
</g>
<rect x="48" y="252" width="15.0" height="11.4" fill="none" stroke="#333" stroke-width="0.8"/>
<line x1="63" y1="252" x2="152" y2="249" stroke="#222" stroke-width="0.8"/>
<line x1="63" y1="263.4" x2="152" y2="413" stroke="#222" stroke-width="0.8"/>
<clipPath id="c11i"><path d="M158 254.7L310.6 254.7L310.6 405.8L158 405.8Z"/></clipPath>
<g clip-path="url(#c11i)">
<rect x="156" y="252" width="157" height="156" fill="url(#iW11)"/>
<path d="M232.1 355c-.1 1.9 -1.5 4 -2.6 5.5 -1.1 1.6 -2.5 2.9 -4 3.9 -1.5 1 -3.1 1.7 -4.9 2.2 -1.7 .5 -3.7 1 -5.5 .8 -1.8-.2 -4-.9 -5.4-2 -1.5-1.1 -2.7-3 -3.4-4.7 -.7-1.7 -.7-3.8 -.5-5.6 .2-1.8 .6-3.6 1.4-5.2 .8-1.5 2-3 3.3-4.1 1.3-1.1 3-2.2 4.7-2.6 1.7-.3 3.6 .1 5.3 .5 1.8 .3 3.7 .6 5.2 1.6 1.5 .9 3 2.5 4 4.1 1.1 1.6 2.3 3.8 2.3 5.7z" fill="url(#iLP)" />
<path d="M305 282c.1 1.5 .1 3.3 -.3 4.6 -.4 1.3 -1.4 2.4 -2.3 3.3 -.8 .9 -1.8 1.8 -2.8 2.1 -1 .4 -2.2 .4 -3.2 0 -1-.4 -1.9-1.4 -2.7-2.4 -.7-1 -1.3-2.2 -1.8-3.5 -.5-1.3 -.8-2.7 -1-4.2 -.1-1.5 -.3-3.4 .1-4.8 .4-1.4 1.3-2.9 2.2-3.8 .9-.9 2.1-1.6 3.2-1.7 1.1-.1 2.2 .4 3.2 .9 .9 .5 1.7 1.5 2.4 2.3 .8 .9 1.6 1.7 2.1 2.9 .5 1.2 .9 2.7 1 4.2z" fill="url(#iLP)" />
<path d="M192.2 388c0 1.6 -.7 3.4 -1.6 4.8 -.9 1.3 -2.4 2.7 -3.9 3.3 -1.5 .5 -3.7 .4 -5.2-.1 -1.5-.6 -3-1.9 -3.9-3.2 -.9-1.3 -1.3-3.1 -1.4-4.7 -.1-1.6 .2-3.6 1.1-4.9 .9-1.3 2.7-2.3 4.2-2.8 1.6-.5 3.6-.8 5.1-.3 1.5 .5 2.9 2 3.8 3.3 .9 1.3 1.7 3.1 1.7 4.7z" fill="url(#iLP)" />
<path d="M281.4 320c-.1 .8 -.9 1.7 -1.7 2.3 -.8 .6 -2 1 -3 1.2 -1.1 .2 -2.3 .2 -3.3-0 -1.1-.2 -2.4-.5 -3.1-1.1 -.8-.6 -1.4-1.5 -1.4-2.3 -0-.8 .4-1.8 1.1-2.5 .7-.7 2-1.2 3.2-1.5 1.2-.3 2.7-.3 3.9-.1 1.2 .2 2.7 .8 3.4 1.5 .7 .7 1.1 1.8 1 2.6z" fill="url(#iLP)" />
<path d="M177.4 292c-0 1.1 -.5 2.3 -1.1 3.1 -.6 .8 -1.7 1.5 -2.7 1.7 -.9 .2 -2.1-.1 -3-.5 -.9-.4 -1.6-1.1 -2.1-1.8 -.5-.7 -.7-1.7 -.7-2.6 -0-.9 .2-1.8 .7-2.6 .5-.8 1.2-1.6 2.1-2 .9-.4 2.2-.6 3.1-.4 1 .2 2.2 1 2.8 1.8 .6 .8 1 2.2 .9 3.2z" fill="url(#iLP)" />
<path d="M297.4 340c-0 .8 -.5 1.9 -1.1 2.5 -.6 .6 -1.8 1 -2.8 1.2 -1 .2 -2.2 .3 -3 .1 -.9-.3 -1.6-1 -2.1-1.6 -.5-.6 -1-1.4 -1-2.1 0-.7 .5-1.5 1.1-2.1 .5-.6 1.3-1.2 2.2-1.4 .9-.3 2-.4 3-.2 1 .2 2.2 .6 2.9 1.2 .6 .6 1 1.7 .9 2.6z" fill="url(#iLP)" />
<path d="M170.3 262c-0 1 -.5 2.4 -1.2 3.1 -.7 .7 -2.1 1 -3.1 1 -1-0 -2.4-.3 -3.1-1 -.7-.7 -.9-2.1 -.8-3.1 0-1 .3-2.3 1-2.9 .7-.7 1.9-1.2 2.9-1.2 1-0 2.5 .3 3.2 1 .7 .7 1.1 2.1 1.1 3.2z" fill="url(#iLP)" />
<path d="M253.3 385c-0 1.2 -.7 2.6 -1.7 3.6 -.9 1 -2.4 2 -4 2.4 -1.5 .4 -3.7 .6 -5.3 .2 -1.6-.4 -3.1-1.5 -4.1-2.6 -1-1 -1.9-2.5 -1.9-3.7 0-1.2 1-2.6 2.1-3.6 1-1 2.5-1.9 4-2.3 1.5-.4 3.6-.5 5.2-.1 1.6 .4 3.3 1.3 4.2 2.3 .9 1 1.5 2.5 1.4 3.7z" fill="url(#iLP)" />
<path d="M302.6 382c-.4 2.2 -2.3 4.4 -4.4 6.3 -2.1 1.9 -4.9 3.8 -8.3 4.9 -3.4 1.1 -8 1.4 -12 1.7 -4 .3 -8.2 .7 -11.9 .2 -3.7-.4 -7.2-1.7 -10.4-2.9 -3.2-1.2 -6.6-2.5 -8.6-4.3 -2-1.7 -3.3-4 -3.6-6 -.2-2.1 .4-4.5 2.2-6.4 1.8-1.9 5.1-3.6 8.5-4.9 3.3-1.3 7.3-2.4 11.5-3 4.1-.6 8.8-.8 13.2-.5 4.4 .3 9.7 .9 13.3 2.2 3.6 1.3 6.5 3.7 8.3 5.7 1.8 2.1 2.7 4.6 2.3 6.8z" fill="url(#iOL)" />
<path d="M310 318c-.1 2.3 -.6 4.5 -1 6.6 -.5 2 -1 4.1 -1.7 5.6 -.7 1.4 -1.7 2.2 -2.7 2.9 -1 .7 -2.1 1.7 -3.1 1.5 -1-.2 -2.2-1.4 -3.1-2.8 -.9-1.4 -1.9-3.6 -2.3-5.9 -.4-2.3 -.2-5.3 -0-7.8 .1-2.4 .5-4.7 .9-6.8 .5-2.1 1.1-4.1 1.8-5.6 .8-1.5 1.8-2.7 2.8-3.2 1-.5 2.1-.3 3.1 .2 1 .5 1.9 1.7 2.8 3.1 .8 1.4 1.7 3.2 2.1 5.2 .5 2 .7 4.8 .6 7.1z" fill="url(#iOL)" />
<path d="M176.1 337c-0 1 -.8 2.1 -1.8 2.9 -.9 .8 -2.4 1.6 -3.9 1.9 -1.5 .3 -3.5 .3 -4.9-.1 -1.4-.3 -2.8-1.1 -3.7-1.9 -.9-.8 -1.6-1.8 -1.7-2.8 -.1-1 .3-2.2 1.1-3 .9-.8 2.6-1.6 4.1-1.9 1.5-.3 3.6-.2 5.1 .1 1.5 .3 3.1 1.1 4 1.9 .9 .8 1.6 2 1.6 3z" fill="url(#iOL)" />
<path d="M179.9 270c.1 1.2 -.3 2.7 -1.2 3.6 -.9 1 -2.7 1.8 -4.2 2.1 -1.5 .3 -3.3 .1 -4.9-.2 -1.5-.4 -3.2-1 -4.2-1.9 -1-.9 -2-2.4 -2-3.6 -0-1.2 .8-2.7 1.9-3.6 1-.9 2.8-1.6 4.3-1.9 1.5-.2 3.1 .2 4.5 .5 1.4 .4 3 .8 3.9 1.7 1 .8 1.8 2.1 1.9 3.3z" fill="url(#iOL)" />
<path d="M290.8 262c-.1 .9 -.8 1.8 -1.5 2.6 -.7 .8 -1.5 1.7 -2.5 2.1 -1 .4 -2.5 .3 -3.7 0 -1.2-.2 -2.6-.7 -3.4-1.5 -.8-.8 -1.3-2.1 -1.3-3.2 0-1 .7-2.3 1.5-3 .8-.8 2.1-1.4 3.2-1.7 1.1-.3 2.5-.2 3.6 .2 1.1 .3 2.3 1 2.9 1.7 .7 .8 1.2 1.9 1.1 2.8z" fill="url(#iOL)" />
<path d="M232.8 398c-0 1.3 -.1 2.7 -1 3.7 -.9 1 -2.6 1.8 -4.2 2.3 -1.6 .4 -3.8 .7 -5.3 .3 -1.5-.4 -2.9-1.7 -3.7-2.8 -.8-1.1 -1.2-2.4 -1.1-3.5 0-1.1 .6-2.4 1.4-3.4 .8-1 2.1-2.2 3.6-2.6 1.5-.4 3.6-.3 5.2 .1 1.6 .4 3.5 1.1 4.4 2.1 .9 1 .9 2.5 .8 3.8z" fill="url(#iOL)" />
<path d="M311.2 398c.1 1.6 -.3 3.7 -1 5 -.7 1.3 -2.1 2.3 -3.3 2.8 -1.2 .5 -2.6 .4 -3.8-.1 -1.2-.4 -2.6-1.3 -3.4-2.6 -.8-1.3 -1.2-3.4 -1.2-5.1 0-1.7 .6-3.8 1.4-5 .8-1.2 2.3-1.9 3.4-2.2 1.1-.3 2.3-0 3.4 .4 1.1 .5 2.2 1.2 2.9 2.3 .8 1.1 1.5 2.9 1.6 4.5z" fill="url(#iOL)" />
<path d="M266.1 355c.1 1.7 -.1 3.8 -1 5.2 -.9 1.4 -2.8 2.6 -4.5 3 -1.6 .4 -3.6 .2 -5.2-.4 -1.6-.5 -3.3-1.6 -4.2-2.9 -1-1.3 -1.6-3.3 -1.6-4.9 -.1-1.7 .4-3.8 1.3-5.2 .9-1.4 2.8-2.8 4.4-3.2 1.6-.4 3.7 0 5.2 .6 1.6 .6 3.2 1.6 4.2 2.9 .9 1.3 1.3 3.2 1.4 4.9z" fill="url(#iOL)" />
<path d="M287.8 322c-0 1.8 .3 3.8 -.5 5.5 -.9 1.7 -2.8 3.3 -4.7 4.4 -1.9 1.2 -4.3 2.3 -6.7 2.7 -2.4 .4 -5.3 .3 -7.6-.2 -2.3-.5 -4.4-1.7 -6.4-2.8 -2-1.1 -4.4-2.3 -5.7-3.9 -1.3-1.6 -2-3.8 -1.9-5.7 .1-1.9 1.2-4 2.5-5.5 1.3-1.5 3.5-2.8 5.5-3.7 2-.9 4.3-1 6.5-1.4 2.2-.4 4.6-1.2 6.8-.9 2.2 .2 4.4 1.3 6.3 2.3 2 1 4.5 2.2 5.5 3.7 1 1.5 .4 3.7 .4 5.5z" fill="url(#iLight)" />
<path d="M198.9 322c.1 1.6 -.5 3.5 -1.5 4.8 -1 1.3 -2.8 2.6 -4.5 3.1 -1.7 .5 -4.1 .6 -5.8 .1 -1.7-.5 -3.7-1.7 -4.7-3.1 -1-1.3 -1.5-3.3 -1.4-4.9 .1-1.6 .7-3.5 1.8-4.6 1.1-1.1 3.1-1.7 4.7-2.2 1.6-.4 3.5-.7 5.1-.3 1.6 .4 3.4 1.4 4.4 2.6 1 1.2 1.8 3 1.8 4.5z" fill="url(#iLight)" />
<path d="M306 368c0 1 -.3 2.2 -1 3 -.7 .9 -1.8 1.8 -3 2.2 -1.2 .4 -2.9 .5 -4.1 .1 -1.2-.4 -2.3-1.4 -3-2.3 -.7-.9 -1-2.1 -1-3.1 .1-1 .7-2 1.4-2.8 .7-.8 1.7-1.7 2.8-2 1.1-.3 2.6-.3 3.8 0 1.1 .3 2.2 1.1 2.9 1.9 .7 .8 1.2 1.9 1.2 2.9z" fill="url(#iLight)" />
<path d="M220.3 272c-0 .8 -.4 1.9 -1.1 2.5 -.6 .6 -1.8 1 -2.7 1.3 -1 .2 -2.2 .4 -3.1 .1 -.9-.2 -1.8-1 -2.3-1.6 -.5-.6 -1-1.5 -1-2.3 -0-.8 .4-1.7 1-2.3 .6-.6 1.5-1.2 2.4-1.5 .9-.3 2.1-.4 3.1-.2 1 .2 2.1 .8 2.7 1.4 .6 .7 1.1 1.7 1.1 2.5z" fill="url(#iLight)" />
<path d="M175.6 398c0 .9 -.2 2.2 -.8 2.9 -.6 .7 -2 1.2 -3.1 1.6 -1.1 .3 -2.5 .6 -3.6 .3 -1.1-.3 -2.3-1 -3-1.8 -.7-.8 -1.2-2 -1.3-3 -0-1 .4-2.3 1.1-3.1 .7-.8 2-1.4 3.2-1.7 1.1-.3 2.6-.3 3.7 0 1.1 .3 2.1 1.2 2.8 1.9 .6 .8 1 1.8 1 2.8z" fill="url(#iLight)" />
<path d="M256.4 345c0 1 -.6 2.3 -1.6 3.1 -1 .8 -2.8 1.4 -4.4 1.7 -1.6 .3 -3.6 .4 -5.1 .1 -1.5-.3 -3.1-1.1 -4.1-1.9 -1-.8 -1.7-2 -1.7-3 -0-1 .6-2.3 1.6-3.1 1-.8 2.8-1.3 4.4-1.6 1.6-.3 3.5-.6 5.1-.3 1.5 .3 3.2 1.1 4.1 2 1 .8 1.7 2 1.7 3.1z" fill="url(#iLight)" />
<path d="M238.5 395c0 1.1 -.4 2.3 -1.4 3.2 -1 .9 -2.7 1.7 -4.3 2.1 -1.6 .3 -4 .3 -5.5-.1 -1.5-.4 -2.9-1.4 -3.8-2.3 -.8-.9 -1.3-2 -1.2-3 .1-.9 1-1.9 1.9-2.6 .9-.8 2-1.7 3.4-2 1.4-.4 3.3-.4 4.9-.1 1.6 .2 3.5 .8 4.5 1.6 1 .8 1.5 2.1 1.6 3.2z" fill="url(#iLight)" />
<path d="M189.8 355c-0 1.1 -.5 2.3 -1.1 3.3 -.6 1 -1.7 1.8 -2.8 2.6 -1.1 .7 -2.3 1.5 -3.7 1.8 -1.4 .3 -3.1 .4 -4.4 .2 -1.4-.3 -2.7-1.1 -3.8-1.8 -1.1-.7 -2.2-1.6 -2.8-2.7 -.6-1 -.7-2.3 -.7-3.4 0-1.1 .2-2.4 .8-3.4 .7-.9 2.1-1.5 3.1-2.3 1.1-.7 2.1-1.7 3.4-2.1 1.3-.4 3.1-.5 4.5-.3 1.4 .2 3 .9 4.1 1.6 1.1 .8 1.8 1.9 2.4 3 .6 1.1 1 2.3 1 3.4z" fill="url(#iLight)" />
<path d="M213.6 385c-0 1.2 -1 2.7 -2 3.6 -1 .9 -2.7 1.6 -4.2 2 -1.5 .4 -3.4 .5 -4.9 .2 -1.5-.3 -3-1.3 -3.9-2.3 -.9-1 -1.6-2.3 -1.6-3.5 -0-1.2 .4-2.7 1.4-3.6 .9-.9 2.6-1.7 4.1-2.1 1.5-.4 3.6-.7 5.1-.4 1.5 .3 3 1.4 4 2.5 1 1 1.9 2.4 1.9 3.6z" fill="url(#iLight)" />
<path d="M301 300c-0 1.2 -1.2 2.7 -2.3 3.7 -1.1 .9 -2.8 1.6 -4.3 1.9 -1.5 .3 -3.2 .1 -4.7-.2 -1.5-.3 -3-1 -4-1.9 -1-.9 -1.9-2.3 -1.9-3.4 -0-1.2 .8-2.6 1.8-3.5 1-.9 2.5-1.8 4-2.2 1.5-.4 3.4-.4 4.9-.1 1.6 .3 3.3 1 4.4 2 1.1 1 2.2 2.5 2.1 3.8z" fill="url(#iLight)" />
<path d="M267.9 260c0 .8 -.5 1.6 -1.1 2.3 -.6 .7 -1.6 1.6 -2.8 1.9 -1.1 .3 -2.9 .2 -4.1-.1 -1.2-.3 -2.5-.9 -3.3-1.6 -.8-.7 -1.2-1.7 -1.3-2.6 -0-.9 .2-2 1-2.7 .8-.7 2.3-1.2 3.6-1.4 1.3-.2 2.9-.3 4 0 1.1 .3 2 1.1 2.7 1.8 .7 .7 1.2 1.5 1.2 2.3z" fill="url(#iLight)" />
<path d="M171.1 280c-0 1.2 -.5 2.6 -1.2 3.6 -.7 .9 -1.9 1.8 -3.1 2.1 -1.1 .3 -2.5 .1 -3.6-.2 -1.1-.4 -2.3-1.1 -3-2 -.7-.9 -1.3-2.3 -1.3-3.5 0-1.1 .7-2.4 1.4-3.4 .7-1 1.7-2.1 2.8-2.4 1.1-.4 2.6-.1 3.7 .3 1.1 .4 2.4 1 3.1 1.9 .7 .9 1.1 2.4 1.1 3.6z" fill="url(#iLight)" />
<path d="M205 262C200 280 203 300 212 312" stroke="url(#iLime)" stroke-width="7" fill="none"/>
<path d="M246 331C262 328 272 318 276 300" stroke="url(#iLime)" stroke-width="6" fill="none"/>
<path d="M208 298C215 318 235 330 258 326" stroke="url(#iBlue)" stroke-width="7" fill="none"/>
<path d="M216 256L232 256" stroke="url(#iBlue)" stroke-width="6" fill="none"/>
<path d="M278.2 283c.1 4.5 -1.3 9.5 -3.6 13.5 -2.2 4 -5.8 8 -9.8 10.7 -4 2.7 -9.2 4.7 -14.1 5.7 -4.9 1 -10.5 1.2 -15.4 .3 -4.9-.9 -10.2-3 -14.1-5.8 -3.9-2.8 -7.1-7 -9.3-11 -2.2-4.1 -4-8.9 -4-13.3 -0-4.4 1.7-9.3 4-13.3 2.2-4 5.5-8.1 9.4-10.9 3.9-2.8 9.1-4.9 14.1-5.9 4.9-1 10.7-1 15.6-0 4.9 1 10 3.3 13.9 6.1 3.9 2.8 7.1 6.8 9.3 10.8 2.3 4 4.1 8.8 4.2 13.2z" fill="url(#iRed)" />
<path d="M274.9 282.5c0 4.1 -1.2 8.6 -3.2 12.3 -2 3.6 -5.4 7.2 -9 9.6 -3.6 2.5 -8.3 4.3 -12.7 5.1 -4.4 .8 -9.4 .7 -13.8-.2 -4.4-.9 -8.9-2.8 -12.4-5.2 -3.5-2.5 -6.6-6 -8.6-9.6 -2-3.6 -3.3-8 -3.3-11.9 -0-4 1.2-8.4 3.2-12 2-3.6 5.2-7 8.7-9.5 3.5-2.5 8-4.6 12.4-5.6 4.4-.9 9.5-1 13.9-.1 4.5 .8 9.2 2.6 12.8 5.1 3.6 2.5 6.6 6.2 8.6 9.9 2 3.7 3.4 8.1 3.5 12.2z" fill="url(#iPink)" />
<path d="M304.6 351c-.1 1.5 -1 3.1 -2 4.5 -1 1.4 -2.2 2.9 -3.9 3.8 -1.7 .9 -4.2 1.3 -6.3 1.7 -2.2 .4 -4.7 .8 -6.8 .5 -2.1-.3 -4.2-1.4 -6-2.4 -1.7-1 -3.6-2.2 -4.5-3.6 -.9-1.4 -.9-3.1 -.9-4.6 0-1.5 .1-3.2 .9-4.6 .8-1.4 2.2-2.9 3.9-4 1.7-1.1 4-2.2 6.3-2.7 2.3-.5 5.2-.6 7.6-.3 2.4 .4 4.9 1.4 6.6 2.6 1.7 1.1 3 2.8 3.8 4.3 .9 1.5 1.4 3.2 1.3 4.7z" fill="url(#iTeal)" />
<path d="M313.4 388c-0 1.6 -.5 3.4 -1.1 4.8 -.6 1.4 -1.6 2.4 -2.5 3.3 -.9 .9 -1.9 1.6 -3 2.1 -1.1 .4 -2.3 .8 -3.5 .6 -1.2-.2 -2.6-.6 -3.6-1.6 -.9-1 -1.7-2.8 -2.1-4.3 -.4-1.5 -.6-3.3 -.5-4.9 .1-1.6 .5-3.1 1-4.6 .4-1.5 .8-3.3 1.7-4.6 .8-1.2 2.1-2.4 3.4-2.8 1.2-.4 2.7 .1 3.9 .6 1.2 .5 2.3 1.6 3.2 2.7 .9 1.1 1.7 2.5 2.2 3.9 .5 1.5 1.1 3.2 1.1 4.8z" fill="url(#iTeal)" />
<path d="M158 300c2.2-6 9.7-3.7 13-2 3.3 1.7 6 7.3 7 12 1 4.7 .2 12 -1 16 -1.2 4 -2.8 6.7 -6 8 -3.2 1.3 -10.8 5.7 -13 0 -2.2-5.7 -2.2-28 0-34z" fill="url(#iTeal)" />
</g>
<path d="M254.8 283.7c-.3 1.5 -1 2.9 -1.9 4 -.9 1.2 -2.2 2.1 -3.6 3 -1.4 .9 -2.8 2 -4.5 2.3 -1.7 .4 -3.8 .2 -5.5-.2 -1.7-.4 -3.3-1.1 -4.7-2 -1.4-.8 -2.6-1.9 -3.6-3.1 -1-1.2 -2.2-2.6 -2.4-4.1 -.2-1.4 .4-3.2 1.2-4.6 .8-1.4 2-3 3.6-3.9 1.6-.9 3.8-1.1 5.8-1.4 2-.3 4.1-.9 6-.6 1.9 .3 3.8 1.3 5.4 2.3 1.6 1 3.6 2.1 4.3 3.5 .7 1.4 .3 3.3 -0 4.7z" fill="#fff" />
<path d="M160.8 312c1.2-2.2 5.1-3.7 7.2-3.2 2.1 .5 4.6 3.3 5.3 6.2 .7 2.9 .1 8.7 -1.3 11 -1.4 2.3 -5.1 3.7 -7 3 -1.9-.7 -3.5-4.2 -4.2-7 -.7-2.8 -1.2-7.8 0-10z" fill="#fff" />
<path d="M195.8 288.5c-.1 1.3 -.4 2.6 -1 3.8 -.6 1.2 -1.5 2.4 -2.6 3.2 -1.1 .8 -2.7 1.4 -4.1 1.6 -1.4 .2 -3 .1 -4.3-.2 -1.3-.4 -2.5-1.2 -3.6-2 -1.1-.8 -2.2-1.7 -2.8-2.8 -.6-1.1 -.8-2.5 -.8-3.7 0-1.2 .3-2.6 .9-3.7 .6-1.1 1.7-2 2.8-2.8 1.1-.8 2.3-1.4 3.6-1.8 1.3-.4 2.9-.6 4.3-.5 1.5 .1 3.2 .5 4.4 1.3 1.2 .8 2 2.3 2.5 3.5 .5 1.2 .8 2.7 .7 4z" fill="url(#iSparse)" />
<path d="M204.2 335c-0 1 -.7 2.1 -1.4 3 -.7 .9 -1.7 1.8 -3 2.4 -1.2 .6 -2.9 1 -4.4 1.2 -1.5 .2 -3.2 .1 -4.7-.1 -1.5-.2 -3.2-.5 -4.4-1.1 -1.2-.6 -2.2-1.5 -2.9-2.4 -.8-.9 -1.4-1.9 -1.6-3 -.2-1 -.1-2.3 .6-3.3 .7-1 2.1-1.9 3.5-2.5 1.4-.6 3.1-.9 4.7-1.1 1.6-.2 3.3-.1 4.9 .1 1.6 .2 3.3 .5 4.6 1.2 1.2 .6 2.1 1.6 2.8 2.6 .7 .9 1.3 2 1.3 3z" fill="#fff" />
<path d="M170.5 346c2.9-3.7 13.3-4.5 17.5-3 4.2 1.5 7.7 7.8 7.5 12 -.2 4.2 -5.6 9.7 -8.5 13 -2.9 3.3 -6.2 7.5 -9 7 -2.8-.5 -6.2-5.2 -7.5-10 -1.2-4.8 -2.9-15.3 0-19z" fill="url(#iSparse)" />
<path d="M195.5 388c1-4.8 5.4-8.2 8.5-11 3.1-2.8 6.7-5.3 10-6 3.3-.7 6.5 1 10 2 3.5 1 6.7 4.8 11 4 4.3-.8 10.5-8.7 15-9 4.5-.3 8.7 3 12 7 3.3 4 7.3 11.8 8 17 .7 5.2 8 11.7 -4 14 -12 2.3 -56.2 3 -68 0 -11.8-3 -3.5-13.2 -2.5-18z" fill="url(#iSparse)" />
<path d="M311 268c0 1.1 -.6 2.2 -1.2 3.3 -.6 1 -1.4 2.3 -2.7 2.9 -1.2 .7 -3.2 .9 -4.7 1.1 -1.6 .1 -3.2-.1 -4.6-.4 -1.4-.4 -2.5-1.1 -3.6-1.7 -1.1-.6 -2.4-1.3 -3.1-2.1 -.8-.9 -1.4-2 -1.5-3 -.1-1.1 -0-2.4 .7-3.3 .7-.9 2.3-1.6 3.5-2.2 1.3-.6 2.5-1.3 4-1.5 1.4-.2 3-.1 4.5 0 1.6 .1 3.5 .2 4.8 .8 1.2 .6 2 1.9 2.6 2.9 .7 1 1.3 2.2 1.3 3.3z" fill="#fff" />
<path d="M189.7 262c-.1 .9 -.7 1.9 -1.5 2.7 -.8 .8 -1.9 1.7 -3.1 2 -1.2 .3 -3 .2 -4.2-.1 -1.2-.3 -2.5-1.1 -3.2-1.9 -.7-.8 -1.1-1.8 -1.1-2.7 0-.9 .6-1.9 1.3-2.6 .7-.8 1.8-1.6 3-2 1.2-.4 3-.4 4.2-.1 1.3 .3 2.7 1 3.4 1.8 .8 .8 1.2 2 1.1 2.9z" fill="#fff" />
<path d="M228.9 258c-0 .5 -.4 1 -.9 1.3 -.5 .3 -1.3 .5 -2 .5 -.7-0 -1.4-.2 -1.9-.5 -.5-.3 -.9-.8 -.9-1.3 -0-.5 .2-1.1 .6-1.5 .5-.3 1.5-.6 2.2-.6 .7 0 1.6 .3 2.1 .6 .5 .3 .8 1 .7 1.4z" fill="#fff" />
<path d="M296 300c-0 .7 -.6 1.6 -1.2 2.1 -.7 .5 -1.8 1 -2.8 1 -1 0 -2.4-.3 -3.1-.8 -.7-.5 -1-1.6 -1-2.3 0-.8 .5-1.7 1.2-2.2 .7-.5 1.9-1 2.9-1 1-0 2.3 .4 3 .9 .7 .5 1 1.5 1 2.3z" fill="#fff" />
<path d="M266.4 342c0 .8 -.6 1.7 -1.3 2.3 -.7 .5 -2 .9 -3 .9 -1-0 -2.2-.5 -2.9-1 -.7-.5 -1.1-1.4 -1.1-2.1 0-.7 .5-1.6 1.2-2.1 .7-.5 1.8-.9 2.8-1 1-0 2.3 .3 3 .8 .7 .5 1.4 1.5 1.4 2.3z" fill="#fff" />
<path d="M285.2 308c-0 .7 -.5 1.6 -1.1 2.1 -.5 .5 -1.4 .9 -2.1 .9 -.7 0 -1.6-.4 -2.1-.9 -.5-.5 -1-1.4 -1-2.1 -0-.7 .4-1.7 .9-2.2 .5-.5 1.5-.9 2.2-.9 .8-0 1.7 .3 2.3 .8 .5 .5 .9 1.5 .9 2.3z" fill="#fff" />
<path d="M170.6 392c.1 1.1 -.3 2.6 -.8 3.4 -.5 .8 -1.6 1.3 -2.5 1.6 -.8 .3 -1.8 .3 -2.6-.1 -.8-.3 -1.6-1.1 -2.1-1.9 -.5-.8 -.8-2.1 -.8-3 0-1 .5-2.2 1-2.9 .5-.7 1.3-1 2.1-1.3 .7-.3 1.6-.6 2.3-.4 .7 .2 1.6 .8 2.2 1.6 .6 .8 1.1 2 1.2 3.1z" fill="#fff" />
<path d="M303 330c0 .7 -.5 1.5 -1 2 -.5 .5 -1.3 .9 -2 .8 -.6-0 -1.3-.5 -1.8-1 -.5-.5 -1-1.2 -1-1.8 -0-.6 .4-1.5 .9-2 .5-.5 1.3-1 2-1 .7 0 1.5 .5 2 1 .5 .5 1 1.3 1 2z" fill="#fff" />
<path d="M168.2 362c0 1.2 -.4 2.6 -.9 3.6 -.5 .9 -1.3 1.8 -2.1 2.1 -.7 .3 -1.7 .2 -2.4-.2 -.7-.4 -1.5-1.2 -1.9-2.1 -.4-.9 -.7-2.3 -.7-3.4 0-1.1 .5-2.3 .9-3.1 .4-.9 1.1-1.7 1.8-2.1 .7-.4 1.6-.4 2.3-.1 .7 .3 1.5 1 2 1.9 .5 .9 .9 2.3 1 3.5z" fill="#fff" />
<path d="M233.9 366c0 .7 -.3 1.7 -.9 2.2 -.7 .5 -2 .9 -3 .9 -1-0 -2.3-.4 -2.9-.9 -.7-.5 -1.1-1.5 -1.1-2.2 0-.7 .4-1.7 1.1-2.2 .7-.5 2-.8 2.9-.8 1 0 2.2 .4 2.8 .9 .7 .5 1 1.4 1.1 2.1z" fill="#fff" />
<path d="M302.4 334.4c-.5 .6 -1.8 1 -2.6 .8 -.8-.1 -1.7-.9 -2.2-1.5 -.4-.7 -.6-1.7 -.4-2.4 .2-.7 .9-1.6 1.6-1.8 .7-.3 1.9-.2 2.6 .2 .7 .4 1.5 1.4 1.6 2.2 .2 .8 -.2 2 -.7 2.6z" fill="#fff" />
<path d="M168.4 362.5c-.4 0 -1-.3 -1.2-.6 -.2-.4 -.3-1.1 -.2-1.5 .1-.4 .6-.9 .9-1 .4-.1 .9 .1 1.2 .3 .3 .2 .7 .6 .7 1 0 .4 -.2 .9 -.4 1.2 -.2 .3 -.7 .6 -1.1 .6z" fill="#fff" />
<path d="M197.4 266.6c-.6-.3 -1.4-.9 -1.5-1.5 -.1-.6 .4-1.5 .8-2.1 .4-.5 1.1-1.1 1.7-1.2 .6-.1 1.6 .3 2 .8 .4 .5 .6 1.6 .5 2.2 -.2 .7 -.8 1.7 -1.4 1.9 -.6 .3 -1.5 0 -2.2-.3z" fill="#fff" />
<path d="M265.2 361.6c-.3-.5 -.4-1.3 -.3-1.8 .1-.5 .6-1.3 1.1-1.5 .5-.2 1.6-.2 2.2 .2 .6 .4 1.1 1.6 1.2 2.3 .1 .7 -.4 1.7 -.8 2 -.5 .3 -1.4 .3 -1.9 .1 -.5-.2 -1.1-.8 -1.3-1.3z" fill="#fff" />
<path d="M229 380.9c-.6-.1 -1.3-.8 -1.5-1.4 -.3-.6 -.4-1.4 -.1-1.9 .3-.5 1.1-.9 1.6-1 .6-.1 1.3 0 1.8 .4 .5 .3 1 1 1 1.6 0 .6 -.4 1.3 -.8 1.7 -.5 .4 -1.4 .8 -2 .6z" fill="#fff" />
<path d="M269.6 399.1c-.1 .4 -.6 .8 -1 1 -.5 .2 -1.3 .3 -1.8 .2 -.5-.2 -1.1-.7 -1.3-1.1 -.2-.4 -.3-1.1 .1-1.5 .3-.4 1.2-.7 1.8-.7 .6 0 1.3 .5 1.7 .8 .4 .4 .7 1 .6 1.3z" fill="#fff" />
<path d="M284.2 306.6c-.5-.1 -1-.7 -1.2-1.2 -.2-.5 -.2-1.3 -0-1.8 .2-.5 .7-1.1 1.2-1.2 .4-.2 1.1-.1 1.5 .2 .4 .3 .8 1 .8 1.6 0 .5 -.3 1.3 -.7 1.7 -.4 .4 -1.1 .8 -1.6 .7z" fill="#fff" />
<path d="M204.7 365.4c-.6 .9 -2 1.8 -3 2 -1 .2 -2.4-.1 -3-.8 -.6-.7 -.9-2.2 -.7-3.3 .2-1.1 1.1-2.6 2-3.3 .9-.7 2.7-1.3 3.5-1 .9 .3 1.6 1.7 1.8 2.8 .2 1.1 -0 2.7 -.6 3.6z" fill="#fff" />
<path d="M203.6 394.1c-.4 0 -1.1-.4 -1.4-.9 -.3-.5 -.5-1.6 -.3-2.2 .1-.6 .7-1.4 1.1-1.6 .4-.2 1 0 1.4 .3 .4 .3 .9 .9 1 1.4 .1 .6 -.2 1.4 -.5 1.9 -.3 .5 -.8 1 -1.3 1.1z" fill="#fff" />
<path d="M260.9 378.6c-.2-.9 -.3-2.3 .2-3.1 .5-.7 1.7-1.4 2.7-1.4 .9 0 2.3 .7 2.9 1.6 .6 .9 .7 2.7 .4 3.6 -.3 .9 -1.4 1.8 -2.2 2.1 -.8 .3 -2 .3 -2.7-.2 -.7-.5 -1.1-1.7 -1.3-2.6z" fill="#fff" />
<path d="M261.4 400.8c-.2 .6 -.8 1.3 -1.4 1.5 -.6 .2 -1.6 .1 -2.1-.3 -.4-.4 -.6-1.4 -.6-2.1 .1-.7 .5-1.5 1-1.9 .5-.3 1.3-.3 1.8-.2 .5 .1 1.2 .5 1.4 1 .2 .5 .1 1.3 -.1 1.9z" fill="#fff" />
<path d="M246.1 401.4c-.5-.2 -1-.8 -1.1-1.3 -.2-.5 -.2-1.1 0-1.6 .2-.5 .6-1.1 1.1-1.3 .5-.2 1.4-.2 1.9 .1 .5 .3 1.1 1.2 1.1 1.8 0 .6 -.5 1.6 -1 1.9 -.5 .4 -1.4 .4 -1.9 .2z" fill="#fff" />
<path d="M217.2 358.2c-.3 .2 -.9 .3 -1.4 .1 -.5-.2 -1.1-.7 -1.3-1.1 -.3-.4 -.3-1 -.3-1.4 .1-.4 .3-.9 .7-.9 .4-.1 1.1 .2 1.5 .5 .5 .3 1.1 1 1.2 1.5 .1 .5 -.2 1.1 -.5 1.3z" fill="#fff" />
<path d="M177.9 369.3c-.3 .1 -.9-.1 -1.2-.4 -.3-.3 -.4-1 -.4-1.4 0-.4 .3-.8 .5-1 .2-.2 .6-.3 .9-.3 .3 .1 .6 .4 .8 .8 .2 .3 .4 .9 .3 1.3 -.1 .4 -.5 .9 -.8 1z" fill="#fff" />
<path d="M159 333c-.1-.6 .4-1.4 1-1.9 .6-.4 1.9-.8 2.7-.8 .8 .1 1.6 .6 2 1.1 .4 .5 .7 1.2 .5 1.8 -.3 .5 -1.2 1.2 -2 1.5 -.8 .2 -2 .1 -2.7-.2 -.7-.3 -1.4-1 -1.5-1.5z" fill="#fff" />
<path d="M287.5 314c-.3 .2 -.8 .2 -1.2 0 -.4-.2 -.9-.8 -1.1-1.2 -.2-.4 -.4-1.1 -.3-1.4 .1-.3 .5-.5 .9-.5 .4 0 .9 .2 1.3 .5 .4 .3 .9 1 1 1.4 .1 .4 -.2 1 -.4 1.2z" fill="#fff" />
<path d="M170.2 349.8c-.3-.5 -.2-1.5 .2-2.1 .4-.6 1.4-1.1 2.2-1.3 .7-.2 1.7-0 2.2 .3 .5 .3 .7 1.1 .6 1.7 -.1 .6 -.5 1.4 -1.1 1.8 -.6 .4 -1.7 .8 -2.3 .7 -.7-.1 -1.5-.6 -1.7-1.2z" fill="#fff" />
<path d="M273.4 381.3c-.2 .2 -.7 .3 -1.1 .3 -.4-.1 -.8-.4 -1.1-.7 -.2-.3 -.4-.9 -.4-1.2 .1-.3 .4-.7 .8-.8 .3-.1 1-0 1.3 .2 .3 .2 .6 .8 .6 1.2 .1 .4 0 .9 -.2 1.1z" fill="#fff" />
<path d="M179 268.7c-.2 .3 -.8 .4 -1.3 .3 -.5-.1 -1.1-.3 -1.5-.6 -.4-.3 -.6-.9 -.7-1.2 -0-.4 .2-.8 .5-1 .3-.1 1-0 1.5 .2 .4 .2 1 .7 1.2 1 .2 .4 .4 1 .2 1.3z" fill="#fff" />
<path d="M207.3 397.9c-.1-.4 0-.9 .4-1.3 .4-.3 1.2-.7 1.8-.7 .5-0 1.2 .2 1.5 .5 .3 .3 .5 .7 .3 1.1 -.1 .4 -.7 .8 -1.2 1 -.5 .2 -1.3 .4 -1.8 .3 -.5-.1 -.9-.5 -1-.9z" fill="#fff" />
<path d="M297.9 405.4c-1 .7 -2.5 1.3 -3.5 1.2 -1-.1 -2.1-1.1 -2.4-1.9 -.2-.8 .3-2.2 .9-3.1 .6-.9 1.7-1.9 2.7-2.2 1-.3 2.4-.1 3.2 .4 .8 .5 1.5 1.8 1.3 2.7 -.2 1 -1.3 2.3 -2.3 3z" fill="#fff" />
<path d="M160.2 400c-.7 .1 -1.7-.6 -2.2-1.2 -.5-.6 -.8-1.7 -.8-2.4 -0-.7 .3-1.5 .8-2 .4-.5 1.1-1.1 1.8-1 .7 .1 1.8 .8 2.2 1.6 .4 .8 .5 2.4 .3 3.2 -.3 .8 -1.3 1.7 -2 1.8z" fill="#fff" />
<path d="M292.3 322.6c-.5 .4 -1.3 .7 -1.8 .7 -.6-.1 -1.3-.6 -1.5-1.2 -.2-.5 -.2-1.5 .1-2 .3-.5 1.2-.9 1.8-1 .6-.1 1.3 .1 1.7 .5 .4 .3 .8 1 .8 1.5 -0 .5 -.5 1.2 -.9 1.6z" fill="#fff" />
<path d="M221.8 317.4c-.5-.2 -1-.7 -1.1-1.2 -.1-.5 -.1-1.4 .2-1.8 .3-.5 1.1-.9 1.6-.9 .5-0 1.3 .2 1.6 .7 .3 .4 .4 1.2 .3 1.8 -.1 .5 -.5 1.3 -1 1.5 -.4 .3 -1.2 .3 -1.7 .1z" fill="#fff" />
<path d="M284.8 271.9c-.7 0 -1.5-.4 -2-1 -.5-.5 -1.2-1.5 -1.2-2.2 0-.7 .7-1.6 1.4-2.1 .6-.5 1.7-1 2.4-.8 .7 .2 1.5 1.3 1.7 2.2 .3 .8 .2 2.1 -.2 2.7 -.4 .6 -1.4 1.1 -2.1 1.1z" fill="#fff" />
<path d="M283.6 297.6c-.3-.5 -.6-1.3 -.5-1.9 .1-.5 .6-1.1 1.1-1.2 .5-.1 1.3 .1 1.7 .5 .5 .4 .9 1.1 1 1.7 .1 .5 -.1 1.2 -.4 1.6 -.3 .4 -.9 .8 -1.4 .7 -.5-.1 -1.1-.7 -1.5-1.3z" fill="#fff" />
<path d="M246.8 325.5c-.3-.4 -.4-1.2 -.3-1.7 .1-.5 .4-1 .8-1.1 .4-.1 1.1-0 1.5 .3 .4 .3 1 1 1.1 1.5 .1 .5 -0 1.3 -.3 1.6 -.3 .3 -.9 .3 -1.4 .2 -.5-.1 -1.1-.4 -1.4-.8z" fill="#fff" />
<path d="M186.2 267.7c-.2 .5 -.7 1.1 -1.2 1.4 -.5 .3 -1.1 .4 -1.6 .2 -.4-.2 -.8-.9 -.9-1.5 -.1-.6 .2-1.4 .5-1.9 .3-.5 1-.9 1.5-1 .5-0 1.1 .4 1.4 .9 .3 .5 .4 1.3 .3 1.9z" fill="#fff" />
<path d="M206.9 292.1c-.2 .6 -.9 1.2 -1.4 1.4 -.5 .2 -1.3 0 -1.7-.3 -.4-.3 -.7-1 -.7-1.6 -0-.6 .1-1.4 .5-1.9 .4-.4 1.3-.9 1.8-.8 .5 .1 1.2 .7 1.5 1.2 .2 .5 .2 1.5 0 2z" fill="#fff" />
<path d="M236.2 370.9c-.3-.5 -.5-1.3 -.4-1.8 .1-.5 .6-1.1 1.2-1.3 .5-.2 1.5-.1 2 .3 .5 .4 .9 1.4 .9 2.1 0 .6 -.2 1.4 -.6 1.8 -.4 .3 -1.1 .3 -1.6 .1 -.5-.2 -1.1-.6 -1.4-1.1z" fill="#fff" />
<path d="M243.8 401.9c-.6 .1 -1.4 .1 -1.9-.2 -.5-.3 -1.2-1 -1.2-1.6 -0-.6 .4-1.7 1-2.1 .6-.4 1.9-.7 2.7-.5 .7 .2 1.4 1 1.6 1.6 .2 .6 0 1.5 -.3 2 -.4 .5 -1.2 .7 -1.8 .8z" fill="#fff" />
<path d="M291.9 273.7c-.9 .4 -2.2 .3 -3-.1 -.8-.4 -1.4-1.3 -1.6-2.1 -.1-.8 .1-2 .7-2.7 .6-.7 2-1.4 2.9-1.4 .9-0 2.1 .6 2.6 1.3 .5 .7 .7 1.9 .4 2.7 -.3 .8 -1.3 1.9 -2.2 2.2z" fill="#fff" />
<path d="M305.4 316.1c-.3 .3 -.9 .8 -1.3 .8 -.4 0 -.9-.3 -1.1-.6 -.2-.3 -.3-1 -.1-1.4 .2-.4 .8-1 1.2-1.1 .4-.2 1-.2 1.3 0 .3 .2 .5 .7 .5 1.1 -0 .4 -.2 .9 -.5 1.2z" fill="#fff" />
<path d="M182.6 345.8c-.3-.2 -.5-.7 -.5-1 -0-.3 .2-.7 .4-.9 .2-.2 .6-.3 .9-.2 .3 0 .7 .3 .9 .5 .2 .3 .3 .8 .2 1.1 -.1 .3 -.5 .6 -.9 .7 -.3 .1 -.9-0 -1.1-.2z" fill="#fff" />
<path d="M184.9 258.3c-.3 .4 -1.1 .8 -1.5 .8 -.4-0 -1-.4 -1.2-.8 -.2-.4 -.1-1.1 .1-1.5 .2-.4 .8-.9 1.3-1 .4-.2 1.1-.1 1.4 .1 .3 .2 .5 .8 .5 1.2 -0 .4 -.2 1 -.6 1.4z" fill="#fff" />
<path d="M186.8 259.9c-.4 .4 -1.1 .8 -1.6 .9 -.5 .1 -1.2-.2 -1.6-.6 -.3-.4 -.6-1.3 -.4-1.9 .2-.6 .9-1.4 1.4-1.7 .6-.3 1.5-.2 1.9 0 .5 .3 .9 .9 .9 1.5 0 .5 -.4 1.3 -.7 1.8z" fill="#fff" />
<path d="M284.4 378.2c-.8 .4 -2.1 .6 -2.8 .3 -.7-.2 -1.2-1.1 -1.2-1.8 -.1-.7 .2-1.6 .7-2.1 .5-.5 1.5-.7 2.2-.8 .7-.1 1.5-0 2 .4 .5 .4 1.1 1.3 .9 1.9 -.2 .7 -1.1 1.7 -1.9 2.1z" fill="#fff" />
<path d="M285.1 285.8c-.4-.1 -1-.6 -1.2-1 -.2-.4 -.1-1.1 0-1.6 .2-.5 .6-1.1 1-1.2 .4-.1 1 .1 1.4 .4 .4 .3 .8 .8 .9 1.2 .1 .5 -.3 1.2 -.6 1.5 -.3 .4 -1 .7 -1.5 .6z" fill="#fff" />
<path d="M189.2 324.1c-.4 .2 -1.2 .2 -1.7-.1 -.5-.3 -1.2-1 -1.4-1.7 -.3-.7 -.4-1.7 -.1-2.2 .2-.5 1-1 1.6-1 .6 0 1.5 .7 1.9 1.3 .4 .6 .6 1.5 .5 2.2 -0 .6 -.3 1.3 -.7 1.5z" fill="#fff" />
<path d="M195 401.6c-.7-.1 -1.5-.9 -1.8-1.7 -.3-.8 -.5-2.1 -.2-3 .3-.8 1.1-1.8 1.8-2.1 .7-.3 1.8-.3 2.4 .2 .6 .5 1.1 1.7 1.1 2.6 0 .9 -.4 2.2 -.9 2.9 -.5 .7 -1.6 1.1 -2.3 1z" fill="#fff" />
<path d="M298.9 267.4c-.2-.5 -.1-1.3 .1-1.7 .2-.4 .8-.9 1.3-.9 .5-.1 1.3 .1 1.7 .5 .4 .4 .7 1.2 .7 1.8 -0 .6 -.4 1.4 -.9 1.7 -.4 .3 -1.3 .3 -1.8 .1 -.5-.2 -1-.9 -1.1-1.4z" fill="#fff" />
<path d="M208.5 392.3c-.2-.5 -.1-1.4 .4-1.9 .5-.5 1.7-1.1 2.5-1.2 .8-.1 2 .1 2.5 .4 .4 .4 .4 1.2 .2 1.8 -.2 .6 -.8 1.4 -1.4 1.7 -.6 .3 -1.7 .2 -2.4 .1 -.7-.1 -1.5-.4 -1.7-.9z" fill="#fff" />
<path d="M219.1 359.1c-.3-.3 -.6-.8 -.5-1.2 .1-.4 .5-1 .8-1.2 .4-.2 1-.2 1.4-.1 .4 .2 .6 .6 .7 1 .1 .4 -0 .9 -.2 1.2 -.2 .3 -.7 .6 -1.1 .6 -.4 0 -.9-.1 -1.1-.4z" fill="#fff" />
<path d="M177 302.9c-.3 .1 -.9 0 -1.2-.2 -.4-.3 -.9-.8 -1-1.3 -.1-.5 .1-1.3 .3-1.6 .3-.3 .9-.5 1.3-.4 .4 .1 .9 .6 1.2 1 .3 .4 .4 1.2 .3 1.6 -.1 .4 -.5 .8 -.8 1z" fill="#fff" />
<path d="M268.1 330.7c-1.1 .4 -2.8 .3 -3.7-.2 -.9-.5 -1.7-1.7 -1.8-2.6 -0-.9 .9-2.2 1.7-2.9 .9-.6 2.4-1 3.4-1 1 .1 2 .8 2.5 1.5 .5 .7 .8 1.9 .4 2.7 -.4 .8 -1.6 2 -2.7 2.3z" fill="#fff" />
<path d="M188.1 340c-.2 .3 -.7 .6 -1.1 .6 -.3-0 -.8-.4 -1-.7 -.2-.3 -.3-.7 -.3-1 .1-.3 .3-.6 .6-.8 .3-.1 .7-.2 1-0 .3 .1 .6 .5 .8 .8 .1 .3 .1 .9 -0 1.1z" fill="#fff" />
<path d="M312.1 285.1c-.2 .5 -.9 1.1 -1.4 1.3 -.5 .2 -1.3 .2 -1.7-0 -.4-.3 -.7-1.1 -.7-1.7 -0-.6 .3-1.4 .7-1.8 .4-.4 1.2-.8 1.7-.8 .5 0 1.2 .5 1.4 1.1 .2 .5 .3 1.5 .1 2z" fill="#fff" />
<path d="M177.6 309.2c-.2 .7 -.9 1.8 -1.6 2.1 -.8 .3 -2.2-0 -2.9-.5 -.7-.5 -1.2-1.7 -1.2-2.4 -0-.7 .6-1.5 1.2-1.9 .5-.4 1.3-.5 2-.4 .6 .1 1.4 .4 1.9 .9 .4 .5 .8 1.5 .7 2.2z" fill="#fff" />
<path d="M172.4 346.2c-.3-.3 -.6-.8 -.6-1.2 -0-.4 .3-.9 .6-1 .3-.2 .8-.1 1.2 0 .4 .1 .9 .4 1.1 .7 .2 .3 0 .9 -.1 1.2 -.2 .3 -.5 .7 -.9 .8 -.4 .1 -1-.2 -1.3-.4z" fill="#fff" />
<path d="M294 278.8c-.4 .1 -.9-.1 -1.2-.3 -.3-.2 -.5-.7 -.5-1.1 -0-.4 .2-.9 .5-1.2 .3-.3 .9-.5 1.3-.4 .4 .1 1 .5 1.2 .9 .2 .4 .1 1.1 -.1 1.4 -.2 .4 -.7 .7 -1.1 .7z" fill="#fff" />
<path d="M195.2 347.3c-.2 .6 -.8 1.3 -1.3 1.6 -.6 .3 -1.5 .4 -2 .1 -.5-.3 -1.1-1.2 -1.2-1.9 -.1-.7 .4-1.8 .8-2.3 .5-.5 1.4-.8 1.9-.8 .6 .1 1.3 .6 1.6 1.1 .3 .5 .4 1.5 .2 2.1z" fill="#fff" />
<path d="M286.3 308.5c-.4 0 -1.1-.3 -1.4-.6 -.3-.3 -.5-.9 -.4-1.3 .1-.4 .6-.9 1.1-1.1 .4-.2 1.2-.1 1.6 .1 .4 .2 .7 .7 .8 1.1 .1 .4 -.1 .8 -.4 1.1 -.3 .3 -.8 .6 -1.2 .6z" fill="#fff" />
<path d="M285.3 282.2c-.5-.1 -1.3-.5 -1.6-.9 -.2-.4 -.1-1.2 .2-1.6 .3-.4 .9-.7 1.4-.7 .5-.1 1.1 .1 1.5 .3 .4 .3 .6 .8 .7 1.2 0 .4 -.1 1.1 -.4 1.4 -.4 .3 -1.1 .3 -1.7 .2z" fill="#fff" />
<path d="M223.2 398.1c-.1 .4 -.6 .9 -1 1 -.4 .1 -1.2 .1 -1.6-.1 -.4-.3 -.6-1 -.6-1.4 -0-.4 .3-.9 .6-1.1 .3-.2 .8-.3 1.2-.3 .4 .1 .8 .3 1 .6 .2 .3 .5 .9 .4 1.2z" fill="#fff" />
<path d="M276.3 314.7c-.3-.3 -.5-.9 -.5-1.4 0-.5 .4-1.1 .8-1.3 .4-.3 1.1-.4 1.5-.2 .4 .1 .9 .6 1 1 .1 .4 0 1.1 -.2 1.5 -.2 .4 -.8 .8 -1.2 .9 -.4 .1 -1.1-.1 -1.4-.4z" fill="#fff" />
<path d="M203.8 313.9c-0 .8 -.4 1.9 -1 2.3 -.6 .4 -1.9 .5 -2.7 .3 -.8-.2 -1.8-.8 -2.1-1.5 -.3-.7 -.2-1.8 .1-2.5 .4-.7 1.3-1.4 2-1.5 .8-.2 2 .1 2.6 .5 .6 .5 1 1.5 1 2.3z" fill="#fff" />
<path d="M161.4 370.8c-0-.4 .2-1.1 .5-1.4 .3-.4 .9-.8 1.3-.7 .4 .1 .8 .8 1 1.2 .2 .5 .3 1.2 .1 1.6 -.2 .4 -.7 .7 -1.1 .8 -.4 .1 -.9-.1 -1.1-.3 -.3-.3 -.6-.8 -.6-1.3z" fill="#fff" />
<path d="M217.4 369.3c-.6-.4 -1.4-1.1 -1.6-1.7 -.2-.6 0-1.5 .5-2 .4-.4 1.4-.7 2.1-.6 .7 .1 1.8 .6 2.3 1.1 .5 .6 .6 1.6 .5 2.2 -.2 .6 -.8 1.3 -1.4 1.5 -.6 .2 -1.7-.1 -2.3-.5z" fill="#fff" />
<path d="M285.9 255.2c-0-.5 .3-1.2 .6-1.6 .3-.4 1-.7 1.4-.6 .5 .1 1.2 .5 1.5 1 .3 .5 .4 1.6 .2 2.1 -.2 .6 -.9 1.2 -1.4 1.3 -.5 .1 -1.2-.3 -1.5-.7 -.4-.4 -.7-1 -.8-1.5z" fill="#fff" />
<path d="M212.8 309.8c-.4 0 -.9-.2 -1.2-.5 -.3-.3 -.5-1 -.4-1.5 0-.5 .3-1.1 .6-1.4 .3-.3 .9-.3 1.3-.2 .4 .2 .7 .7 .9 1.2 .2 .5 .2 1.3 0 1.7 -.2 .4 -.8 .6 -1.2 .6z" fill="#fff" />
<path d="M178.5 317.1c-.7 .3 -1.7 .5 -2.4 .3 -.7-.2 -1.5-1 -1.7-1.7 -.2-.7 -0-1.8 .5-2.5 .5-.7 1.6-1.6 2.5-1.6 .8-.1 2 .6 2.6 1.2 .5 .6 .8 1.9 .6 2.6 -.2 .7 -1.3 1.4 -2 1.7z" fill="#fff" />
<path d="M176.5 356.1c-.7-.3 -1.4-1 -1.7-1.8 -.2-.7 -.2-1.9 .2-2.7 .4-.8 1.2-1.7 2-1.9 .8-.3 2.2-.2 2.7 .4 .6 .6 .8 2.1 .7 3.1 -.1 1 -.8 2.3 -1.4 2.8 -.7 .5 -1.9 .4 -2.6 .2z" fill="#fff" />
<path d="M241.8 333.6c-.7-.2 -1.5-1 -1.8-1.6 -.3-.6 -.3-1.4 0-1.8 .3-.4 1.2-.8 1.8-.8 .6-0 1.5 .2 2 .6 .5 .4 .9 1 1 1.6 .1 .6 -.1 1.4 -.7 1.7 -.5 .4 -1.7 .6 -2.4 .4z" fill="#fff" />
<path d="M209.6 360.9c-0 .2 -.3 .6 -.6 .7 -.3 .1 -.8 .1 -1.2 0 -.4-.1 -.8-.2 -1-.4 -.2-.2 -.2-.5 -0-.7 .2-.2 .6-.5 .9-.5 .4-.1 1 .1 1.3 .2 .3 .2 .5 .5 .5 .8z" fill="#fff" />
<path d="M284.5 280c-.4 .3 -1 .4 -1.5 .2 -.4-.1 -1-.6 -1.2-1.1 -.2-.4 -.3-1.2 -.1-1.6 .2-.4 .8-.8 1.3-.8 .5-.1 1.2 0 1.6 .3 .4 .3 .7 1.1 .7 1.6 -0 .5 -.4 1.1 -.8 1.3z" fill="#fff" />
<path d="M190.1 309.3c-.1 .4 -.5 .7 -.9 .9 -.4 .2 -.9 .3 -1.3 .1 -.4-.1 -1-.5 -1.1-.9 -.2-.4 -0-1 .2-1.4 .3-.4 .9-.7 1.3-.7 .5-0 1.1 .4 1.4 .7 .3 .3 .5 .9 .4 1.3z" fill="#fff" />
<path d="M242.4 385.1c-.3-.3 -.6-1 -.6-1.4 -0-.4 .2-1 .6-1.2 .3-.2 1-.2 1.5-0 .5 .2 1.3 .6 1.5 1.1 .2 .5 .1 1.3 -.1 1.7 -.3 .4 -.9 .5 -1.4 .5 -.5-0 -1.1-.3 -1.4-.7z" fill="#fff" />
<path d="M242.1 325.7c0 .5 -.3 1.2 -.7 1.6 -.4 .3 -1.1 .4 -1.6 .3 -.4-.2 -1-.7 -1.1-1.2 -.1-.5 0-1.2 .2-1.6 .2-.4 .8-.9 1.2-.9 .4-.1 .9 .3 1.2 .6 .3 .3 .7 .8 .7 1.3z" fill="#fff" />
<path d="M278.4 381.7c-.5-.2 -1.1-.8 -1.2-1.3 -.2-.5 -.1-1.2 .2-1.5 .3-.3 1.1-.5 1.6-.5 .5 .1 1.2 .5 1.6 .9 .3 .4 .6 1 .5 1.4 -.1 .4 -.4 1 -.9 1.1 -.4 .2 -1.3 .1 -1.8-.2z" fill="#fff" />
<path d="M210.7 373.3c-.4 .3 -1.1 .4 -1.5 .3 -.5-.1 -1.1-.4 -1.3-.8 -.2-.4 -.1-1.3 .2-1.8 .3-.5 1.2-.9 1.7-1 .5-.1 1.3 .2 1.6 .6 .3 .3 .4 1 .3 1.4 -.1 .5 -.5 1 -.9 1.3z" fill="#fff" />
<rect x="152" y="249" width="164.5" height="164.0" fill="none" stroke="#333" stroke-width="1.0"/>
<clipPath id="c12t"><path d="M341 253.7L448 257L444 323.7L441.8 372.8L436.9 422L431.9 466L430.7 472.3L379 475.5L369.3 446.5L359.5 409.7L353.3 368L347.2 328.6L343.5 286.8Z"/></clipPath>
<g clip-path="url(#c12t)">
<rect x="339" y="251" width="111" height="227" fill="url(#tW12)"/>
<path d="M385 255c.7-1.8 4.8-1.5 6 0 1.2 1.5 1.7 7.2 1 9 -.7 1.8 -3.8 3.5 -5 2 -1.2-1.5 -2.7-9.2 -2-11z" fill="#fdf6f6" />
<path d="M366 298c-.3-1.8 2-6.5 4-9 2-2.5 5-5 8-6 3-1 8.5-1.3 10 0 1.5 1.3 .3 5.7 -1 8 -1.3 2.3 -4.5 4.5 -7 6 -2.5 1.5 -5.7 2.8 -8 3 -2.3 .2 -5.7-.2 -6-2z" fill="#fdf6f6" />
<path d="M388 300c.7-.7 5.3 3 8 5 2.7 2 7.3 5.5 8 7 .7 1.5 -2 2.5 -4 2 -2-.5 -6-2.7 -8-5 -2-2.3 -4.7-8.3 -4-9z" fill="#fdf6f6" />
<path d="M347 320c1.5-2.5 6.2-3.3 9-3 2.8 .3 7 2.3 8 5 1 2.7 0 8.7 -2 11 -2 2.3 -7.5 3.2 -10 3 -2.5-.2 -4.2-1.3 -5-4 -.8-2.7 -1.5-9.5 0-12z" fill="#fdf6f6" />
<path d="M352 350c1.3-2.5 6.7-3.3 10-3 3.3 .3 7 1.5 10 5 3 3.5 7 10.7 8 16 1 5.3 -.3 13.5 -2 16 -1.7 2.5 -5.3 1 -8-1 -2.7-2 -5.3-7.5 -8-11 -2.7-3.5 -6.3-6.3 -8-10 -1.7-3.7 -3.3-9.5 -2-12z" fill="#fdf6f6" />
<path d="M366 338c1-1.3 7.7-2.7 10-2 2.3 .7 5 4.7 4 6 -1 1.3 -7.7 2.7 -10 2 -2.3-.7 -5-4.7 -4-6z" fill="#fdf6f6" />
<path d="M409.2 326c-0 .7 -.6 1.6 -1.3 2.1 -.7 .5 -1.9 1.1 -2.9 1 -.9-0 -2.1-.6 -2.8-1.1 -.7-.5 -1.3-1.4 -1.3-2.1 -0-.7 .6-1.6 1.2-2.1 .7-.5 1.9-.9 2.8-.9 1-0 2.2 .4 2.9 .9 .7 .5 1.3 1.5 1.3 2.2z" fill="#fdf6f6" />
<path d="M418.7 399c0 .7 -.1 1.6 -.6 2.1 -.4 .5 -1.4 .8 -2.1 .8 -.7 0 -1.6-.3 -2.1-.8 -.5-.5 -.8-1.4 -.8-2.1 -0-.7 .4-1.7 .8-2.1 .5-.5 1.5-.7 2.1-.7 .7 0 1.4 .5 1.9 .9 .4 .5 .8 1.2 .8 1.9z" fill="#fdf6f6" />
<path d="M384.4 440c0 .4 -0 .8 -.5 1.1 -.5 .3 -1.4 .7 -2.3 .8 -.9 .1 -2.2 .1 -3.1-0 -.9-.1 -1.8-.5 -2.3-.8 -.5-.3 -.9-.7 -.8-1.1 0-.4 .3-.8 .9-1.1 .5-.3 1.4-.6 2.3-.8 .9-.1 2.1-0 3 .1 .9 .1 1.8 .4 2.3 .7 .5 .3 .6 .7 .6 1.1z" fill="#fdf6f6" />
<path d="M401.5 398.8c.2 .4 .3 1 -.2 1.6 -.5 .7 -1.7 1.6 -2.7 2.3 -1 .7 -2.2 1.5 -3.2 1.9 -1 .4 -2 .6 -2.8 .6 -.8 .1 -1.7 .2 -1.9-.2 -.2-.3 .2-1.1 .7-1.7 .5-.6 1.1-1.5 2-2.1 .9-.7 2.2-1.3 3.3-1.9 1.1-.5 2.5-1.1 3.3-1.2 .8-.1 1.3 .2 1.5 .6z" fill="#fdf6f6" />
<path d="M402.9 345c-0 .5 -.4 1.1 -.8 1.4 -.5 .3 -1.4 .5 -2.1 .5 -.7 0 -1.7-.1 -2.2-.4 -.5-.3 -1-1 -1-1.5 -0-.5 .3-1.2 .9-1.5 .5-.3 1.6-.5 2.3-.5 .7 0 1.6 .3 2.1 .6 .5 .3 .8 1 .8 1.4z" fill="#fdf6f6" />
<path d="M358.3 300c0 .5 -.4 1.2 -1 1.5 -.6 .3 -1.6 .6 -2.3 .5 -.7-0 -1.6-.4 -2.1-.7 -.5-.3 -.9-.9 -.9-1.4 0-.5 .4-1 .9-1.4 .5-.3 1.3-.7 2-.7 .7-0 1.6 .3 2.1 .6 .6 .3 1.2 .9 1.2 1.4z" fill="#fdf6f6" />
<path d="M423.1 455c0 .5 -.4 1.1 -.9 1.4 -.5 .4 -1.4 .7 -2.2 .7 -.7 0 -1.7-.3 -2.2-.6 -.5-.4 -1-1 -1-1.5 0-.5 .5-1.1 1-1.4 .5-.3 1.5-.5 2.2-.5 .7 0 1.5 .3 2 .6 .5 .3 1 .9 1 1.4z" fill="#fdf6f6" />
<path d="M416 429.5c-.2 .5 -1 .8 -1.8 .9 -.8 .1 -2-.1 -2.9-.5 -.9-.3 -2.1-1 -2.7-1.5 -.6-.6 -1-1.4 -.8-1.9 .2-.5 .9-.9 1.7-1.1 .8-.1 2.2 .1 3.2 .4 1 .4 2.3 1.1 2.8 1.7 .5 .6 .7 1.4 .4 1.9z" fill="#fdf6f6" />
<path d="M397.4 470c-0 .4 -.4 .9 -1.1 1.2 -.6 .3 -1.8 .5 -2.8 .6 -1 .1 -2.2 .2 -3 .1 -.9-.1 -1.6-.5 -2.2-.8 -.6-.3 -1.1-.7 -1.2-1.1 -.1-.4 .2-.9 .8-1.2 .5-.3 1.5-.7 2.5-.8 1-.1 2.3-.2 3.3-.1 1 .1 2.2 .4 2.8 .8 .6 .3 .9 .9 .9 1.3z" fill="#fdf6f6" />
<path d="M399.9 270c-0 1.5 -.3 3.1 -.6 4.2 -.3 1.2 -.8 2.4 -1.4 2.8 -.5 .5 -1.2 .4 -1.8-0 -.5-.5 -1.1-1.5 -1.4-2.7 -.3-1.2 -.4-2.9 -.4-4.3 -0-1.5 .1-3.1 .3-4.4 .3-1.3 .8-2.7 1.4-3.3 .6-.6 1.4-.8 2-.3 .6 .5 1.1 2.1 1.4 3.4 .3 1.3 .5 3.1 .5 4.5z" fill="#e44a60" />
<path d="M398.8 270c0 1.2 -.1 2.7 -.3 3.6 -.2 .9 -.6 1.5 -1 1.8 -.3 .3 -.7 .3 -1-0 -.3-.3 -.6-1.2 -.8-2.1 -.2-.9 -.4-2.2 -.4-3.4 -0-1.1 .2-2.5 .4-3.4 .2-.9 .6-1.5 .9-1.9 .3-.3 .7-.5 1-.2 .3 .3 .7 1 .9 1.9 .2 .9 .3 2.3 .4 3.5z" fill="#fadcd8" />
<path d="M360.3 276.1c.9 1.1 1.9 2.6 2.3 3.6 .4 1 .3 2 .2 2.6 -.2 .6 -.6 1.1 -1.3 1.1 -.7 0 -1.7-.2 -2.6-.8 -1-.6 -2.3-1.7 -3.1-2.7 -.9-1 -1.6-2.5 -2-3.5 -.4-1.1 -.6-2.1 -.5-2.8 .1-.7 .6-1.2 1.2-1.3 .6-.1 1.7 0 2.7 .7 1 .6 2.3 2 3.2 3.1z" fill="#e44a60" />
<path d="M359.3 276.9c.8 .9 1.5 2.3 1.9 3.1 .3 .8 .3 1.5 0 1.8 -.3 .2 -1 .1 -1.7-.4 -.7-.5 -1.9-1.5 -2.6-2.4 -.7-.9 -1.5-2.2 -1.8-3 -.3-.8 -.3-1.4 -0-1.7 .3-.3 .9-.3 1.6 .2 .7 .4 2 1.5 2.7 2.4z" fill="#fadcd8" />
<path d="M391.3 318c-.1 1.1 -.6 2.3 -1.2 3 -.5 .7 -1.4 1.4 -2.1 1.4 -.7 0 -1.7-.5 -2.2-1.2 -.6-.7 -1.2-2.1 -1.3-3.3 -.1-1.2 .4-2.8 1-3.7 .6-.9 1.7-1.8 2.6-1.8 .8 0 1.9 .9 2.5 1.9 .5 .9 .8 2.5 .8 3.6z" fill="#e44a60" />
<path d="M390 318c-0 .8 -.2 1.9 -.6 2.4 -.3 .6 -1 1 -1.4 1 -.5-0 -1-.5 -1.3-1.1 -.3-.6 -.6-1.5 -.6-2.3 -0-.8 .2-1.8 .6-2.4 .3-.6 .9-1.2 1.4-1.2 .5-0 1.1 .5 1.5 1.1 .3 .6 .5 1.7 .5 2.5z" fill="#fadcd8" />
<path d="M413.4 350c-0 1.2 -.4 2.5 -.8 3.4 -.4 .9 -1.1 1.4 -1.7 1.7 -.6 .3 -1.3 .3 -1.9 0 -.6-.3 -1.4-.8 -1.8-1.7 -.4-.9 -.7-2.3 -.7-3.5 0-1.1 .4-2.4 .8-3.3 .4-.9 1-1.6 1.6-2 .6-.4 1.4-.5 2-.2 .6 .3 1.4 1 1.8 1.9 .4 .9 .7 2.4 .6 3.6z" fill="#e44a60" />
<path d="M411.8 350c-0 .9 -.3 1.9 -.6 2.6 -.3 .6 -.8 1.1 -1.2 1.2 -.4 0 -1-.3 -1.3-.9 -.3-.6 -.6-1.9 -.6-2.8 -0-.9 .3-2.2 .6-2.9 .3-.6 .9-1 1.3-1 .4-0 1.1 .3 1.4 1 .3 .6 .4 2 .4 2.9z" fill="#fadcd8" />
<path d="M375.1 377.1c-.5 1.3 -1.3 2.5 -2 3.4 -.7 .9 -1.6 1.6 -2.4 1.9 -.7 .2 -1.5 0 -2-.6 -.4-.6 -.7-1.8 -.7-2.9 -0-1.2 .2-2.8 .7-4.1 .5-1.3 1.4-2.6 2.1-3.5 .8-.9 1.7-1.7 2.4-1.9 .7-.2 1.5 .2 1.9 .8 .5 .6 .8 1.7 .8 2.9 -0 1.2 -.4 2.9 -.9 4.1z" fill="#e44a60" />
<path d="M373.6 376.6c-.3 1 -1 2.1 -1.5 2.7 -.5 .7 -1.3 1.3 -1.7 1.3 -.4-.1 -.7-1 -.7-1.8 -0-.9 .2-2.4 .6-3.4 .4-1 1.2-2.2 1.8-2.8 .6-.6 1.3-1.1 1.7-.9 .4 .2 .5 1.1 .5 2 -0 .8 -.2 2.1 -.6 3z" fill="#fadcd8" />
<path d="M426.4 300c-0 1 -.2 2.1 -.5 2.9 -.3 .8 -.7 1.6 -1.2 2 -.5 .3 -1.1 .3 -1.5 0 -.5-.3 -.9-1.1 -1.2-1.9 -.3-.8 -.6-1.9 -.7-3 -.1-1.1 0-2.6 .3-3.6 .3-1 .9-1.9 1.5-2.2 .5-.3 1.3 0 1.7 .5 .5 .5 .9 1.4 1.2 2.3 .3 .9 .4 2 .4 3z" fill="#e44a60" />
<path d="M425.5 300c-0 1 -.2 2.2 -.4 3 -.3 .7 -.7 1.3 -1.1 1.3 -.4 0 -.9-.5 -1.1-1.3 -.3-.7 -.5-2 -.5-3 -0-1 .2-2.3 .5-3 .3-.7 .8-1.3 1.1-1.3 .4 0 .9 .6 1.1 1.3 .3 .7 .4 2 .4 3z" fill="#fadcd8" />
<path d="M432.6 380c-0 1.1 -.4 2.4 -.8 3.1 -.4 .8 -1.2 1.4 -1.8 1.4 -.6 .1 -1.5-.3 -2-1.1 -.5-.8 -1-2.3 -1-3.4 -0-1.2 .4-2.8 .9-3.6 .5-.8 1.4-1.2 2.1-1.1 .7 0 1.5 .6 1.9 1.4 .4 .8 .7 2.2 .7 3.3z" fill="#e44a60" />
<path d="M431.5 380c-0 .8 -.3 1.7 -.5 2.2 -.3 .5 -.7 .8 -1 .8 -.4 0 -.8-.1 -1.1-.6 -.3-.5 -.4-1.6 -.4-2.4 0-.8 .2-1.8 .4-2.3 .3-.5 .7-.9 1.1-.9 .4-0 .9 .2 1.2 .7 .3 .5 .4 1.7 .4 2.5z" fill="#fadcd8" />
<path d="M399.6 432c0 .6 -.6 1.5 -1.4 1.9 -.8 .4 -2.1 .6 -3.2 .7 -1.1 0 -2.5-.2 -3.3-.6 -.9-.4 -1.7-1.3 -1.8-2 -0-.7 .8-1.6 1.6-2 .9-.4 2.4-.6 3.5-.6 1.1 0 2.4 .4 3.2 .8 .8 .4 1.5 1.2 1.5 1.8z" fill="#e44a60" />
<path d="M398.3 432c0 .4 -.5 .9 -1.1 1.2 -.6 .3 -1.5 .4 -2.2 .4 -.7-0 -1.6-.2 -2.1-.4 -.5-.3 -.8-.8 -.8-1.1 0-.4 .3-.9 .8-1.1 .5-.3 1.4-.4 2.1-.4 .7-0 1.6 .1 2.2 .4 .6 .3 1.1 .8 1.1 1.2z" fill="#fadcd8" />
<path d="M371.2 420c-0 1.3 -.4 3 -1 3.8 -.5 .8 -1.5 1.2 -2.2 1.1 -.7-.1 -1.4-1 -1.8-1.8 -.4-.8 -.6-2.1 -.6-3.1 -0-1.1 .1-2.4 .5-3.3 .4-.9 1.2-1.8 1.9-1.9 .7-.1 1.7 .4 2.3 1.3 .5 .9 .9 2.6 .9 3.9z" fill="#e44a60" />
<path d="M369.5 420c-0 .8 -.2 1.7 -.4 2.3 -.3 .6 -.7 1 -1.1 1.1 -.4 0 -.8-.4 -1.1-1 -.3-.6 -.5-1.6 -.5-2.4 -0-.8 .2-1.9 .5-2.4 .3-.6 .8-1 1.1-1 .4 0 .8 .6 1.1 1.1 .3 .6 .4 1.5 .4 2.3z" fill="#fadcd8" />
<path d="M409.5 465c0 .6 -.5 1.4 -1.3 1.9 -.7 .5 -2.2 .9 -3.2 .9 -1.1-0 -2.5-.4 -3.2-.9 -.7-.5 -1-1.2 -1-1.8 0-.6 .5-1.3 1.2-1.8 .7-.4 2-.8 3-.8 1-0 2.4 .3 3.1 .7 .7 .4 1.3 1.2 1.4 1.8z" fill="#e44a60" />
<path d="M408.2 465c-0 .4 -.6 .8 -1.1 1.1 -.5 .3 -1.4 .5 -2.1 .5 -.7 0 -1.7-.2 -2.2-.5 -.5-.3 -.8-.8 -.8-1.2 0-.4 .3-.8 .8-1.1 .5-.3 1.4-.5 2.1-.5 .7-0 1.8 .2 2.3 .4 .5 .3 .9 .8 .9 1.2z" fill="#fadcd8" />
<path d="M430.4 268c0 .6 -.6 1.4 -1.3 1.8 -.7 .4 -2 .8 -3.1 .9 -1.1 0 -2.5-.3 -3.4-.7 -.9-.4 -1.8-1.3 -1.8-2 -0-.7 .8-1.6 1.6-2.1 .9-.5 2.5-.7 3.6-.6 1.1 .1 2.3 .5 3.1 1 .7 .5 1.3 1.2 1.3 1.8z" fill="#e44a60" />
<path d="M429.2 268c0 .4 -.4 .9 -1 1.2 -.5 .3 -1.5 .6 -2.3 .5 -.7-0 -1.7-.3 -2.2-.6 -.5-.3 -1-.8 -.9-1.2 0-.4 .6-.8 1.1-1.1 .5-.3 1.3-.5 2-.5 .7-0 1.6 .2 2.1 .4 .5 .3 1.1 .7 1.1 1.1z" fill="#fadcd8" />
<path d="M352.7 300c0 .9 -.2 2.1 -.7 2.7 -.4 .6 -1.3 .9 -2 .9 -.7 0 -1.6-.3 -2.1-.9 -.4-.6 -.7-1.9 -.6-2.8 0-.9 .4-1.9 .9-2.5 .4-.5 1.2-.8 1.8-.8 .6-0 1.4 .1 1.9 .7 .4 .5 .8 1.7 .8 2.6z" fill="#e44a60" />
<path d="M351.6 300c-0 .6 -.3 1.3 -.5 1.7 -.3 .4 -.7 .5 -1.1 .5 -.3-0 -.8-.2 -1-.5 -.2-.4 -.4-1.1 -.4-1.6 -0-.6 .1-1.3 .4-1.8 .2-.4 .7-.7 1.1-.7 .4-0 .9 .2 1.2 .6 .3 .4 .4 1.3 .4 1.9z" fill="#fadcd8" />
<path d="M417.6 330.9c-.4 1 -1.2 2.2 -1.9 2.7 -.7 .6 -1.7 .9 -2.3 .7 -.6-.2 -1.2-1 -1.4-1.9 -.2-.9 -.2-2.3 .2-3.5 .4-1.1 1.2-2.7 2-3.4 .8-.7 2-1 2.7-.7 .7 .3 1.1 1.5 1.3 2.5 .1 1 -.1 2.5 -.5 3.5z" fill="#e44a60" />
<path d="M416.4 330.5c-.2 .7 -.7 1.7 -1.1 2.1 -.4 .4 -1 .5 -1.3 .3 -.3-.1 -.6-.6 -.6-1.2 -.1-.6 0-1.5 .3-2.2 .2-.7 .8-1.7 1.2-2.1 .4-.4 1-.5 1.3-.4 .3 .2 .5 .7 .6 1.3 0 .6 -.1 1.5 -.3 2.2z" fill="#fadcd8" />
<path d="M383.8 350c0 .7 -.4 1.6 -1 2.1 -.6 .5 -1.9 .8 -2.8 .8 -.9-0 -2.2-.4 -2.8-.8 -.6-.5 -.9-1.4 -.9-2 0-.7 .3-1.6 .9-2 .6-.5 1.8-.8 2.8-.8 .9-0 2.1 .3 2.8 .8 .6 .5 1.1 1.4 1.1 2z" fill="#e44a60" />
<path d="M382.2 350c-0 .4 -.4 .8 -.7 1.1 -.4 .3 -1 .6 -1.5 .6 -.5 0 -1.2-.3 -1.6-.6 -.4-.3 -.7-.7 -.7-1.1 -0-.4 .3-.9 .7-1.1 .4-.3 1.1-.6 1.6-.6 .5 0 1.2 .3 1.6 .6 .4 .3 .6 .8 .6 1.1z" fill="#fadcd8" />
<path d="M422.9 410c-0 1.1 -.5 2.4 -1 3.2 -.5 .8 -1.2 1.7 -1.9 1.7 -.6 0 -1.5-.8 -2-1.6 -.5-.8 -1-2.2 -1-3.3 -0-1.2 .3-2.8 .8-3.7 .5-.9 1.4-1.8 2.1-1.8 .7 0 1.6 1 2 1.9 .5 .9 .9 2.4 .8 3.5z" fill="#e44a60" />
<path d="M421.4 410c-0 .7 -.2 1.6 -.4 2.1 -.2 .5 -.7 1 -1 1 -.3-0 -.7-.5 -1-1 -.2-.5 -.5-1.4 -.5-2.1 -0-.7 .2-1.7 .4-2.2 .2-.5 .7-.9 1-.9 .3 0 .8 .5 1 1 .2 .5 .4 1.4 .4 2.1z" fill="#fadcd8" />
<path d="M387.9 395c0 .9 -.4 2.1 -.8 2.8 -.5 .7 -1.3 1.4 -2 1.4 -.7 0 -1.7-.6 -2.1-1.3 -.4-.7 -.6-2 -.6-2.8 .1-.9 .5-1.8 .9-2.4 .4-.6 1.1-1.3 1.8-1.4 .6-.1 1.5 .4 2 1 .5 .6 .8 1.8 .8 2.8z" fill="#e44a60" />
<path d="M386.7 395c-0 .6 -.3 1.4 -.6 1.8 -.3 .4 -.8 .6 -1.1 .6 -.4-0 -.7-.4 -1-.8 -.2-.4 -.5-1 -.5-1.6 -0-.6 .1-1.3 .4-1.8 .2-.4 .7-.9 1.1-.9 .4-0 .9 .3 1.2 .8 .3 .4 .5 1.3 .5 1.9z" fill="#fadcd8" />
<path d="M411.8 385c-0 .7 -.5 1.5 -1.1 2 -.6 .5 -1.8 .9 -2.7 .9 -.9 0 -2.2-.3 -2.8-.8 -.6-.5 -1-1.4 -1-2.1 0-.7 .4-1.5 1.1-2 .6-.5 1.8-.9 2.8-.9 .9 0 2.1 .4 2.7 .9 .6 .5 1.1 1.3 1.1 2z" fill="#e44a60" />
<path d="M410.1 385c0 .4 -.2 .9 -.5 1.2 -.4 .3 -1.1 .5 -1.6 .5 -.6 0 -1.4-.1 -1.7-.4 -.4-.3 -.5-.8 -.5-1.2 0-.4 .3-.9 .7-1.1 .4-.3 1-.4 1.6-.4 .5-0 1.3 .1 1.6 .4 .4 .3 .5 .8 .5 1.2z" fill="#fadcd8" />
<path d="M377.8 455c-0 .9 -.3 2 -.8 2.7 -.5 .6 -1.3 1.1 -2 1.1 -.6-0 -1.4-.6 -1.9-1.2 -.5-.6 -.9-1.7 -.9-2.6 -0-.9 .3-2.1 .8-2.8 .5-.6 1.4-1 2-1 .7 0 1.6 .4 2 1 .5 .6 .7 1.9 .7 2.8z" fill="#e44a60" />
<path d="M376.6 455c0 .6 -.2 1.4 -.4 1.8 -.3 .4 -.8 .7 -1.1 .6 -.4-0 -.8-.3 -1.1-.7 -.2-.4 -.3-1.2 -.3-1.7 0-.6 .2-1.2 .4-1.6 .2-.4 .6-.7 1-.8 .3-0 .8 .2 1.1 .6 .3 .4 .5 1.2 .5 1.8z" fill="#fadcd8" />
<path d="M427.5 439.1c.4 1.1 .6 2.5 .5 3.4 -.1 .9 -.7 1.8 -1.3 2.1 -.6 .3 -1.7 .3 -2.4-.3 -.7-.6 -1.5-2.1 -1.9-3.3 -.4-1.1 -.6-2.7 -.5-3.6 .2-.9 .9-1.6 1.5-1.8 .6-.2 1.6-.2 2.3 .4 .7 .6 1.4 2 1.8 3.1z" fill="#e44a60" />
<path d="M426.4 439.5c.3 .7 .4 1.7 .4 2.3 -.1 .6 -.4 1.1 -.7 1.2 -.3 .1 -.9-.1 -1.3-.5 -.4-.4 -.9-1.2 -1.1-1.9 -.3-.7 -.4-1.7 -.4-2.2 .1-.5 .4-.9 .8-1 .3-.1 .8 0 1.2 .4 .4 .4 .9 1.1 1.2 1.8z" fill="#fadcd8" />
<path d="M364.7 330c0 .8 -.4 2 -.8 2.6 -.5 .6 -1.3 1 -1.9 1 -.6-0 -1.4-.4 -1.9-1 -.5-.6 -1-1.7 -1-2.5 -0-.9 .4-2.1 .9-2.7 .5-.6 1.3-1 2-1 .6 0 1.4 .6 1.8 1.2 .5 .6 .9 1.6 .9 2.5z" fill="#e44a60" />
<path d="M363.7 330c-0 .6 -.3 1.3 -.6 1.7 -.3 .4 -.7 .7 -1.1 .6 -.3-0 -.7-.4 -1-.8 -.2-.4 -.4-1 -.4-1.5 0-.5 .2-1.1 .4-1.5 .2-.4 .6-.8 .9-.8 .3-0 .8 .2 1.1 .6 .3 .4 .6 1.1 .6 1.7z" fill="#fadcd8" />
</g>
<rect x="384" y="304.5" width="17.7" height="14.8" fill="none" stroke="#333" stroke-width="0.8"/>
<line x1="401.7" y1="304.5" x2="467.5" y2="284" stroke="#222" stroke-width="0.8"/>
<line x1="401.7" y1="319.3" x2="467.5" y2="432.5" stroke="#222" stroke-width="0.8"/>
<clipPath id="c12i"><path d="M476 288.6L616 288.6L616 428.8L476 428.8Z"/></clipPath>
<g clip-path="url(#c12i)">
<rect x="474" y="286" width="144" height="145" fill="url(#iW12)"/>
<path d="M516.2 360c-.2 1.5 -1.3 3.1 -2.5 4.4 -1.2 1.3 -3 2.3 -4.7 3.1 -1.7 .9 -3.6 1.7 -5.7 2.1 -2.1 .4 -4.6 .7 -6.8 .5 -2.2-.2 -4.7-.9 -6.5-1.8 -1.8-.9 -3.5-2.4 -4.3-3.7 -.9-1.4 -1.1-3.1 -1-4.6 .1-1.5 .4-3.2 1.4-4.5 1-1.3 3-2.4 4.7-3.2 1.8-.8 3.8-1.5 5.9-1.8 2.1-.4 4.4-.6 6.7-.4 2.3 .2 4.9 .5 6.8 1.4 2 .8 3.9 2.3 4.9 3.7 1 1.4 1.3 3.3 1 4.9z" fill="url(#iOra)" />
<path d="M579.4 420c-.4 1.2 -1.4 2.2 -2.6 3.2 -1.2 1 -2.4 2.1 -4.4 3 -2 .9 -4.7 1.8 -7.6 2.2 -2.9 .4 -6.9 .7 -9.8 .4 -2.9-.3 -5.8-1.4 -7.8-2.4 -1.9-.9 -3.2-2.1 -3.9-3.2 -.7-1.1 -.2-2.2 -.1-3.2 .1-1.1 -.3-2.1 .6-3.1 .9-1 2.6-1.9 4.6-2.7 2-.8 4.5-1.5 7.2-1.9 2.7-.4 6-.5 9-.4 3 .2 6.4 .6 8.9 1.3 2.4 .7 4.7 1.9 5.7 3.1 1 1.1 .6 2.5 .2 3.7z" fill="url(#iOra)" />
<path d="M532.1 400c.3 1.2 .6 2.7 -.1 3.9 -.7 1.1 -2.3 2.3 -3.9 3 -1.6 .7 -3.6 1.1 -5.4 1.2 -1.8 .1 -3.6-.4 -5.3-.7 -1.7-.3 -3.2-.7 -4.7-1.3 -1.4-.6 -2.9-1.5 -3.9-2.4 -1-1 -1.9-2.3 -2.1-3.5 -.2-1.2 .1-2.8 .9-3.9 .9-1.1 2.7-2 4.3-2.7 1.6-.7 3.3-1.5 5-1.7 1.8-.2 3.8 .3 5.5 .6 1.7 .4 3.5 .8 4.8 1.5 1.3 .7 2.2 1.8 3 2.8 .8 1 1.4 2.1 1.7 3.3z" fill="url(#iOra)" />
<path d="M609.6 370c-0 2.2 -.1 4.5 -.7 6.5 -.6 2 -1.6 3.8 -2.7 5.3 -1.1 1.5 -2.5 3.2 -3.9 3.6 -1.4 .4 -3.1-.6 -4.5-1.2 -1.4-.6 -2.9-1.3 -4-2.6 -1.1-1.3 -2.1-3.2 -2.8-5.1 -.6-1.9 -1.1-4.3 -1.1-6.4 0-2.1 .4-4.6 1.1-6.4 .7-1.8 2-3.2 3.1-4.4 1.1-1.2 2.4-2.1 3.7-2.7 1.3-.6 2.9-1.3 4.3-1.1 1.4 .3 3 1.3 4.2 2.6 1.2 1.3 2.3 3.3 2.8 5.3 .5 2 .5 4.5 .4 6.7z" fill="url(#iOra)" />
<path d="M498 300c.1 1.5 -.4 3.6 -1.3 4.9 -.9 1.3 -2.6 2.7 -4.1 3.1 -1.5 .4 -3.5-.1 -5-.6 -1.5-.5 -3.3-1.4 -4.2-2.6 -.9-1.2 -1.2-3.2 -1.1-4.8 .1-1.5 .7-3.3 1.6-4.4 .9-1.1 2.5-1.9 3.9-2.3 1.4-.4 2.9-.3 4.3 .1 1.4 .4 2.9 1.1 3.9 2.2 1 1.1 1.8 2.8 2 4.4z" fill="url(#iOra)" />
<path d="M566.9 300c.2 .9 .1 1.9 -.6 2.7 -.7 .8 -2.2 1.6 -3.6 2.1 -1.5 .5 -3.4 .6 -5.1 .8 -1.7 .1 -3.4 .3 -5.1 .1 -1.7-.1 -3.5-.4 -5-.9 -1.5-.5 -3.2-1.2 -4-2 -.7-.8 -.7-1.9 -.5-2.8 .1-.9 .6-1.8 1.4-2.6 .8-.8 1.9-1.6 3.2-2.1 1.3-.6 3.1-1.1 4.7-1.3 1.7-.2 3.7 0 5.3 .4 1.6 .3 2.8 .9 4.1 1.5 1.3 .5 2.6 1 3.5 1.7 .9 .7 1.5 1.6 1.7 2.4z" fill="url(#iOra)" />
<path d="M607.4 410c-0 1.4 -.9 2.9 -1.7 4.1 -.8 1.2 -1.9 2.6 -3.3 3.3 -1.4 .7 -3.4 1 -5 .6 -1.6-.3 -3.7-1.3 -4.8-2.7 -1.1-1.3 -2-3.7 -1.9-5.4 .1-1.7 1.4-3.7 2.5-4.9 1.2-1.2 2.9-1.9 4.4-2.3 1.5-.3 3.2-.1 4.5 .4 1.4 .5 2.7 1.4 3.6 2.6 .9 1.1 1.7 2.8 1.6 4.2z" fill="url(#iOra)" />
<path d="M527.8 320c.1 1.2 -.1 2.7 -1 3.7 -.9 1 -2.6 2.1 -4.1 2.5 -1.6 .4 -3.8 .2 -5.2-.3 -1.5-.5 -2.9-1.5 -3.7-2.5 -.8-1 -1.1-2.3 -1.2-3.4 -0-1.2 .1-2.6 1-3.5 .8-1 2.5-2 4-2.3 1.5-.3 3.5-0 4.9 .4 1.4 .4 2.7 1.3 3.7 2.2 .9 .9 1.7 2.1 1.8 3.3z" fill="url(#iOra)" />
<path d="M600.3 380c.1 1.2 -.1 2.6 -.6 3.7 -.6 1.1 -1.6 2.4 -2.9 3.1 -1.2 .7 -3.1 .9 -4.6 1 -1.5 .1 -3-.1 -4.4-.4 -1.3-.3 -2.6-1 -3.7-1.7 -1.1-.7 -2.3-1.4 -3.1-2.4 -.7-1 -1.2-2.3 -1.2-3.4 0-1.1 .7-2.4 1.5-3.3 .7-.9 1.9-1.7 3-2.3 1.1-.6 2.3-1.1 3.6-1.5 1.3-.3 2.8-.7 4.2-.5 1.4 .2 2.8 .8 4 1.5 1.1 .7 2.1 1.7 2.8 2.7 .7 1 1.3 2.2 1.4 3.4z" fill="url(#iLight)" />
<path d="M507.3 300c.1 1.3 -.2 2.9 -1 4 -.8 1.2 -2.3 2.5 -3.8 2.9 -1.5 .4 -3.5 .1 -5.1-.3 -1.5-.5 -3.1-1.4 -4.1-2.5 -1-1.1 -1.8-2.8 -1.8-4.2 -0-1.4 .6-3.2 1.6-4.3 1-1.1 2.9-1.9 4.4-2.2 1.5-.2 3.2 .2 4.5 .7 1.3 .5 2.6 1.2 3.5 2.2 .9 1 1.6 2.3 1.7 3.6z" fill="url(#iLight)" />
<path d="M568.4 395c-.1 1.2 -.9 2.6 -1.9 3.5 -1 .9 -2.7 1.5 -4.1 1.8 -1.5 .3 -3.3 .5 -4.7 .1 -1.4-.3 -2.8-1.3 -3.6-2.2 -.8-.9 -1.4-2.2 -1.4-3.2 -0-1.1 .6-2.3 1.4-3.3 .8-1 2-2 3.5-2.5 1.5-.5 3.7-1 5.3-.7 1.6 .3 3.5 1.4 4.5 2.5 .9 1.1 1.3 2.7 1.1 3.9z" fill="url(#iLight)" />
<path d="M533.2 415c.1 1 -.5 2.3 -1.4 3.1 -.9 .8 -2.7 1.5 -4.2 1.8 -1.6 .3 -3.6 .4 -5.1 .1 -1.5-.3 -3-1.2 -3.8-2 -.8-.8 -1.2-1.9 -1.2-2.9 0-.9 .5-2.1 1.4-2.8 .9-.7 2.5-1.3 3.9-1.6 1.4-.3 3.3-.5 4.7-.3 1.4 .3 2.9 1 3.9 1.8 1 .8 1.8 1.9 1.9 2.9z" fill="url(#iLight)" />
<path d="M515.3 303c-0 1.2 -.4 2.5 -1.2 3.6 -.8 1 -2.2 2.1 -3.6 2.7 -1.4 .7 -3.3 1 -4.9 1.2 -1.7 .2 -3.5 .2 -5.1-0 -1.6-.3 -3.2-.9 -4.6-1.5 -1.4-.7 -2.9-1.5 -3.8-2.5 -.9-1 -1.5-2.3 -1.6-3.5 -.1-1.2 .2-2.6 1-3.7 .8-1.1 2.5-1.9 3.9-2.6 1.4-.8 3-1.7 4.7-2 1.7-.3 4-.4 5.7-.1 1.8 .3 3.6 1 5 1.8 1.4 .8 2.6 1.9 3.4 3 .7 1.1 1.1 2.4 1 3.6z" fill="url(#iPur)" />
<path d="M575 369c0 1 -1 2.3 -2.1 3.1 -1.1 .9 -2.7 1.7 -4.2 2 -1.6 .3 -3.6 .1 -5.2-.2 -1.6-.3 -3.4-.9 -4.5-1.7 -1-.8 -1.7-2.1 -1.6-3.2 .1-1 .9-2.3 1.9-3 1-.8 2.8-1.3 4.3-1.6 1.5-.3 3.3-.4 4.9-.2 1.5 .2 3.3 .9 4.4 1.7 1.1 .8 2.1 2.1 2.1 3.1z" fill="url(#iPur)" />
<path d="M615.1 352c-.1 1.5 -.7 3.3 -1.5 4.5 -.7 1.2 -1.8 2.2 -2.9 2.7 -1.1 .5 -2.5 .5 -3.5 .1 -1.1-.5 -2.2-1.6 -2.8-2.8 -.6-1.2 -1.1-3 -1.1-4.4 0-1.5 .5-3.1 1.1-4.4 .6-1.2 1.6-2.5 2.7-3.1 1.1-.6 2.6-1 3.8-.5 1.1 .4 2.4 1.8 3.1 3.2 .7 1.3 1.1 3.3 1.1 4.8z" fill="url(#iPur)" />
<path d="M530 300c.1 .8 -.2 1.8 -.7 2.5 -.5 .7 -1.6 1.5 -2.6 1.8 -1 .2 -2.4-0 -3.3-.3 -1-.3 -1.9-.9 -2.5-1.6 -.6-.7 -.8-1.5 -.9-2.4 -.1-.8 -0-1.9 .5-2.6 .6-.6 1.8-1.1 2.8-1.3 1-.2 2.2-.2 3.1 .1 .9 .3 1.6 1 2.2 1.6 .6 .6 1.2 1.4 1.3 2.2z" fill="url(#iPur)" />
<path d="M566.2 297c-.1 .6 -.7 1.3 -1.4 1.7 -.7 .5 -1.8 .9 -3 1.1 -1.1 .2 -2.6 .2 -3.7-0 -1.1-.2 -2.5-.6 -3.1-1 -.7-.5 -1-1.2 -1-1.8 0-.6 .3-1.3 1-1.8 .7-.5 1.8-.9 3-1.2 1.2-.2 2.9-.5 4.1-.3 1.2 .2 2.4 .8 3.1 1.4 .7 .5 1.1 1.3 1 1.9z" fill="url(#iPur)" />
<path d="M579.9 410c0 .8 -.3 1.7 -.9 2.4 -.6 .6 -1.5 1.3 -2.5 1.5 -.9 .2 -2.2 .2 -3.1-.1 -.9-.3 -1.7-1 -2.2-1.6 -.5-.6 -.8-1.5 -.8-2.2 -0-.7 .3-1.6 .8-2.2 .5-.6 1.4-1.2 2.3-1.5 .9-.3 2.1-.2 3-0 .9 .2 1.9 .8 2.5 1.4 .6 .6 .9 1.5 .9 2.3z" fill="url(#iPur)" />
<path d="M601.8 385c0 .9 -.4 2.1 -1 2.8 -.6 .7 -1.8 1.5 -2.8 1.6 -1 0 -2.4-.6 -3.1-1.3 -.7-.7 -1.2-2.1 -1.2-3.1 0-1 .7-2.2 1.4-2.9 .7-.7 1.9-1.3 2.9-1.2 .9 0 2 .7 2.7 1.4 .6 .7 1.1 1.8 1.1 2.7z" fill="url(#iPur)" />
<path d="M527 322c3-2.8 12.2-4 18-4 5.8 0 14.2 .3 17 4 2.8 3.7 1.2 12.5 0 18 -1.2 5.5 -4.2 12.5 -7 15 -2.8 2.5 -6.7 1.7 -10 0 -3.3-1.7 -7-6.7 -10-10 -3-3.3 -6.7-6.2 -8-10 -1.3-3.8 -3-10.2 0-13z" fill="url(#iPink)" />
<path d="M546.3 299.5c.2 1.6 -.3 3.8 -1.4 5.1 -1 1.3 -3.1 2.1 -4.8 2.5 -1.7 .4 -3.7 .5 -5.2-.1 -1.5-.5 -2.9-1.9 -3.7-3.2 -.9-1.3 -1.5-3 -1.4-4.3 .1-1.4 1.1-2.9 2-3.9 .9-1 2.3-1.9 3.6-2.3 1.3-.4 2.9-.5 4.4-.2 1.4 .3 3.1 .9 4.2 2 1.1 1.1 2.2 2.8 2.3 4.4z" fill="url(#iTeal)" />
<path d="M512.8 332.5c0 1.3 -.4 2.7 -1.1 3.8 -.7 1.1 -1.9 2.2 -3.1 3.1 -1.2 .9 -2.7 1.8 -4.3 2.3 -1.6 .4 -3.6 .4 -5.3 .2 -1.8-.2 -3.9-.6 -5.3-1.4 -1.5-.8 -2.7-2.3 -3.4-3.6 -.7-1.3 -.9-3 -.8-4.4 .1-1.4 .8-2.9 1.6-4 .8-1.2 2.2-2.2 3.5-3 1.3-.8 2.9-1.5 4.5-1.8 1.6-.3 3.5-.1 5 .3 1.5 .4 3 1.1 4.2 1.9 1.2 .8 2.5 1.8 3.2 2.9 .7 1.1 1.2 2.5 1.2 3.8z" fill="url(#iTeal)" />
<path d="M581.9 330.5c-0 1.4 -1.1 3 -2.1 4.2 -1 1.2 -2.5 2.6 -4.2 3.1 -1.6 .4 -3.9 .1 -5.5-.4 -1.7-.5 -3.3-1.5 -4.4-2.6 -1.1-1.1 -2-2.8 -2-4.3 -0-1.4 .8-3.2 1.8-4.4 1-1.2 2.8-2.4 4.4-2.9 1.7-.4 3.9-.3 5.6 .2 1.7 .5 3.3 1.6 4.4 2.7 1.1 1.2 2 2.9 2 4.3z" fill="url(#iTeal)" />
<path d="M591.3 362c0 1.6 -.6 3.3 -1.4 4.8 -.8 1.4 -2.1 2.7 -3.4 3.7 -1.4 1 -3 1.9 -4.7 2.3 -1.7 .4 -3.7 .4 -5.4 .1 -1.7-.3 -3.6-1.1 -4.9-2.2 -1.3-1 -2.2-2.6 -2.9-4 -.7-1.4 -1.5-3.1 -1.4-4.6 .1-1.5 1.2-3.1 2-4.3 .9-1.3 2-2.4 3.2-3.2 1.2-.9 2.7-1.5 4.3-1.9 1.5-.4 3.3-.8 4.9-.6 1.6 .2 3.5 .7 4.9 1.6 1.4 .9 2.6 2.3 3.4 3.7 .8 1.4 1.5 3.1 1.5 4.7z" fill="url(#iTeal)" />
<path d="M552.8 367c-.1 1.6 -.9 3.3 -1.6 4.6 -.7 1.4 -1.5 2.7 -2.4 3.6 -1 .9 -2.1 1.5 -3.3 1.9 -1.2 .4 -2.5 .6 -3.7 .4 -1.2-.2 -2.5-.9 -3.6-1.8 -1.1-.9 -2.5-2 -3.1-3.5 -.6-1.5 -.6-3.5 -.6-5.2 -0-1.8 0-3.7 .6-5.3 .6-1.5 1.8-2.7 2.9-3.8 1.1-1.1 2.2-2.7 3.5-3 1.3-.4 2.9 .4 4.2 .9 1.3 .5 2.7 1.1 3.7 2.1 1 1 1.8 2.6 2.3 4.2 .6 1.5 1.2 3.3 1.1 4.9z" fill="url(#iTeal)" />
<path d="M552.8 404.6c-.1 1.3 -.7 2.7 -1.3 3.9 -.7 1.2 -1.6 2.3 -2.7 3.2 -1.1 .9 -2.4 1.9 -3.9 2.3 -1.4 .4 -3.2 .4 -4.7 .1 -1.5-.3 -3.1-1 -4.2-1.9 -1.1-.9 -1.8-2.3 -2.3-3.6 -.5-1.3 -.7-2.6 -.7-3.9 0-1.3 .3-2.6 .9-3.8 .6-1.2 1.5-2.3 2.6-3.1 1.1-.9 2.4-1.7 3.8-2.1 1.4-.4 3.2-.6 4.6-.3 1.5 .3 3.1 1 4.2 1.9 1.2 .9 2.2 2.1 2.8 3.4 .6 1.3 .9 2.8 .8 4.1z" fill="url(#iTeal)" />
<path d="M599.8 398.3c.1 1.4 -0 3.4 -1.1 4.5 -1 1.1 -3.4 1.7 -5.2 2.1 -1.8 .4 -3.9 .5 -5.5 .1 -1.6-.4 -3-1.6 -4.1-2.7 -1.1-1.1 -2.2-2.6 -2.2-3.9 -0-1.3 1-2.9 2.1-4 1.1-1 2.8-2 4.4-2.3 1.6-.3 3.4-0 5.1 .3 1.6 .4 3.7 .8 4.8 1.8 1.1 1 1.6 2.7 1.7 4.1z" fill="url(#iTeal)" />
<path d="M497.4 423c.1 .9 0 1.8 -.3 2.7 -.4 .9 -1 2 -2 2.7 -1 .7 -2.7 1.3 -4.2 1.6 -1.5 .2 -3.3 .1 -4.9-.1 -1.5-.2 -3-.8 -4.3-1.4 -1.3-.6 -2.7-1.4 -3.3-2.3 -.6-.9 -.7-2.2 -.4-3.1 .2-1 1-2 1.8-2.7 .8-.7 2.1-1.1 3.2-1.7 1.1-.6 2-1.5 3.3-1.8 1.3-.3 2.9-.1 4.3 .1 1.4 .2 3 .5 3.9 1.1 .9 .6 1.2 1.7 1.7 2.5 .5 .8 1 1.6 1.2 2.4z" fill="url(#iTeal)" />
<path d="M600.2 421c0 1.5 -.9 3.3 -2.1 4.5 -1.2 1.2 -3.1 2.2 -4.9 2.6 -1.8 .4 -4.2 .4 -5.9-.1 -1.7-.5 -3.4-1.7 -4.5-2.8 -1.1-1.2 -2.1-2.8 -2-4.2 .1-1.3 1.4-2.8 2.5-3.9 1.1-1.1 2.5-2.4 4.1-2.8 1.6-.4 3.8-.2 5.6 .2 1.8 .4 3.9 1.1 5.1 2.2 1.2 1.1 2.1 2.9 2.1 4.4z" fill="url(#iTeal)" />
<path d="M509.5 392.3c.2 .9 -.2 2 -1.1 2.8 -.9 .8 -2.7 1.8 -4.4 2 -1.7 .3 -4.1 0 -5.8-.4 -1.7-.4 -3.3-1.1 -4.2-1.8 -.9-.8 -1.1-1.8 -1-2.7 0-.9 .3-1.9 1.2-2.6 .9-.7 2.7-1.3 4.2-1.5 1.6-.3 3.6-.3 5.1-0 1.5 .3 2.9 1 3.9 1.7 1 .7 1.8 1.6 2 2.5z" fill="url(#iTeal)" />
</g>
<path d="M584 285L617 285L617 332L611 333.3L600 342L590 341L584 334L584 319.6Z" fill="#fff" />
<path d="M475 338.3L492.3 338.3L499.7 344.5L522 344.5L525.8 352L528.3 364.3L532 374.2L542 386.7L534.5 390.4L522 381.7L509.6 376.7L494.7 374.2L475 374.2Z" fill="#fff" />
<path d="M547.9 364.3c0 1.1 -.2 2.6 -.8 3.4 -.6 .8 -1.8 1.3 -2.7 1.3 -.9 0 -2.1-.4 -2.7-1.2 -.6-.8 -1.1-2.4 -1.1-3.5 -0-1.2 .4-2.8 1.1-3.5 .6-.7 1.9-1 2.7-1 .9 0 2 .5 2.5 1.2 .6 .7 .9 2.2 .9 3.3z" fill="#fff" />
<path d="M574.5 343.5c-0 .7 -.6 1.6 -1.2 2.2 -.6 .6 -1.5 1.3 -2.5 1.5 -.9 .2 -2.2 .1 -3.2-.2 -.9-.3 -1.9-.8 -2.4-1.4 -.5-.6 -.8-1.4 -.8-2.1 -.1-.7 -0-1.7 .5-2.3 .5-.6 1.7-1.1 2.7-1.4 1-.2 2.3-.3 3.2-.1 1 .2 1.9 .9 2.5 1.5 .6 .6 1.2 1.5 1.2 2.2z" fill="#fff" />
<path d="M563.9 351.3c-0 .7 -.3 1.6 -.8 2 -.5 .5 -1.4 .7 -2 .7 -.7-0 -1.4-.3 -1.9-.8 -.5-.5 -1-1.2 -1-1.9 -.1-.7 .2-1.7 .7-2.2 .5-.5 1.5-.8 2.2-.8 .7 0 1.6 .4 2.1 .9 .5 .5 .8 1.4 .8 2.1z" fill="#fff" />
<path d="M485.8 293c-0 .8 -.4 1.7 -1 2.2 -.6 .6 -1.6 .9 -2.5 1.1 -.9 .2 -1.9 .3 -2.7 .1 -.8-.2 -1.7-.7 -2.3-1.3 -.5-.6 -1-1.4 -1-2.1 -0-.7 .4-1.6 .9-2.1 .5-.6 1.5-1 2.3-1.2 .8-.2 1.8-.2 2.7-0 .9 .2 1.9 .6 2.5 1.1 .6 .6 .9 1.5 .9 2.3z" fill="#fff" />
<path d="M482.2 308c-0 1.3 -.2 2.8 -.6 3.8 -.4 1 -1 1.7 -1.6 2.1 -.6 .4 -1.4 .7 -2 .4 -.6-.3 -1.3-1.3 -1.6-2.4 -.4-1 -.7-2.6 -.7-3.9 0-1.2 .4-2.6 .8-3.6 .4-.9 1-1.7 1.5-2.1 .6-.4 1.3-.6 1.9-.3 .6 .3 1.4 1.1 1.7 2.1 .4 1 .5 2.6 .5 3.9z" fill="#fff" />
<path d="M487.1 322c0 1 -.4 2.3 -.9 2.9 -.5 .7 -1.5 1 -2.2 1 -.7-0 -1.7-.4 -2.2-1 -.5-.7 -1-1.9 -1-2.9 -0-1 .4-2.2 1-2.9 .5-.7 1.5-1.2 2.2-1.2 .7 0 1.6 .6 2.1 1.3 .5 .7 1 1.8 1 2.8z" fill="#fff" />
<path d="M494.1 289c-0 .5 -.8 1 -1.5 1.3 -.7 .3 -1.8 .5 -2.6 .5 -.9-0 -1.9-.3 -2.5-.6 -.6-.3 -1.1-.8 -1.2-1.2 -0-.4 .3-1 .9-1.4 .6-.4 1.8-.7 2.8-.7 1-0 2.2 .3 2.9 .6 .7 .4 1.3 1 1.2 1.5z" fill="#fff" />
<path d="M510.9 381.9c-.4-0 -1-.4 -1.3-.7 -.3-.4 -.4-1.1 -.2-1.6 .2-.4 .7-.9 1.2-1 .4-.1 1.1-0 1.5 .2 .4 .3 .6 .9 .6 1.3 0 .4 -.2 1 -.5 1.3 -.3 .3 -.9 .5 -1.3 .5z" fill="#fff" />
<path d="M613.7 380c-.3 .1 -.7 .1 -1-0 -.3-.1 -.5-.5 -.6-.8 -.1-.3 0-.7 .2-.9 .2-.2 .5-.5 .8-.5 .3-0 .7 .2 .9 .5 .2 .2 .4 .7 .4 1 -0 .3 -.4 .7 -.6 .8z" fill="#fff" />
<path d="M489.2 306.5c-.2 .3 -.7 .4 -1.2 .3 -.4-0 -1-.1 -1.4-.4 -.4-.3 -.9-.8 -.9-1.3 -.1-.4 .1-1.1 .4-1.3 .4-.2 1.3-.1 1.8 .2 .5 .2 1.2 .8 1.4 1.2 .2 .4 0 1 -.2 1.3z" fill="#fff" />
<path d="M506.9 415.2c-.4 .1 -1 .3 -1.3 .1 -.4-.2 -.8-.7 -.9-1.1 -.1-.4 .2-1.1 .5-1.4 .3-.3 1.1-.5 1.5-.4 .4 .1 .9 .5 1.1 .9 .2 .4 .3 1 .1 1.3 -.2 .3 -.6 .6 -1 .8z" fill="#fff" />
<path d="M583.9 341.5c-.3-.2 -.4-.6 -.5-.9 -0-.3 .1-.5 .3-.7 .2-.2 .5-.4 .8-.4 .3 0 .8 .3 1 .6 .2 .3 .5 .8 .5 1.1 -.1 .3 -.6 .6 -.9 .6 -.3 .1 -.9-0 -1.2-.2z" fill="#fff" />
<path d="M480.2 309.1c-.2 .2 -.6 .3 -.9 .2 -.3-.1 -.7-.5 -.9-.8 -.2-.3 -.3-.9 -.2-1.2 .1-.3 .5-.5 .8-.5 .3-0 .8 .1 1 .4 .3 .2 .5 .7 .5 1 0 .3 -.1 .7 -.3 .9z" fill="#fff" />
<path d="M510.5 315.9c-.4-.1 -.7-.5 -.9-.9 -.1-.3 -.1-.8 0-1.1 .1-.3 .5-.5 .9-.6 .3-.1 .8-.1 1.1 .1 .3 .2 .5 .7 .5 1 0 .4 -.1 .9 -.4 1.1 -.3 .2 -.9 .4 -1.3 .3z" fill="#fff" />
<path d="M602.4 409.1c-.3 .6 -.9 1.4 -1.4 1.6 -.5 .2 -1.3 0 -1.7-.3 -.4-.3 -.7-1.1 -.7-1.7 0-.6 .4-1.5 .8-1.9 .4-.5 1.2-.8 1.7-.8 .5 0 1.3 .4 1.5 1 .2 .5 .1 1.6 -.2 2.2z" fill="#fff" />
<rect x="467.5" y="284" width="158.0" height="148.5" fill="none" stroke="#333" stroke-width="1.0"/>
<clipPath id="c13t"><path d="M1.2 505L30 497L62 487L93.4 478L121.5 467.5L149.5 457L152 457L152 646L134 638.6L99.3 621.2L62 601.3L29.8 584L1.2 569Z"/></clipPath>
<g clip-path="url(#c13t)">
<rect x="0" y="455" width="154" height="195" fill="url(#tW13)"/>
<path d="M80 487L100 483L120 486L140 490L153 491" stroke="#fdf6fb" stroke-width="4" fill="none" stroke-linejoin="round" stroke-linecap="round" opacity="1"/>
<path d="M118 470L135 466L153 463" stroke="#fdf6fb" stroke-width="2.5" fill="none" stroke-linejoin="round" stroke-linecap="round" opacity="1"/>
<path d="M0 555L15 558L35 562" stroke="#fdf6fb" stroke-width="3" fill="none" stroke-linejoin="round" stroke-linecap="round" opacity="1"/>
<path d="M35 572L48 560L58 550L70 541L79 534L88.8 520L100 508L112 500" stroke="#fdf6fb" stroke-width="3.5" fill="none" stroke-linejoin="round" stroke-linecap="round" opacity="1"/>
<path d="M70 548L85 558L105 571L125 578L152 586" stroke="#fdf6fb" stroke-width="3" fill="none" stroke-linejoin="round" stroke-linecap="round" opacity="1"/>
<path d="M58 572L57 585L58 596" stroke="#fdf6fb" stroke-width="4" fill="none" stroke-linejoin="round" stroke-linecap="round" opacity="1"/>
<path d="M110 567L130 570L152 576" stroke="#fdf6fb" stroke-width="2.5" fill="none" stroke-linejoin="round" stroke-linecap="round" opacity="1"/>
<path d="M20 520L35 528L50 532" stroke="#fdf6fb" stroke-width="2" fill="none" stroke-linejoin="round" stroke-linecap="round" opacity="1"/>
<path d="M92 540L96 552L100 560" stroke="#fdf6fb" stroke-width="2" fill="none" stroke-linejoin="round" stroke-linecap="round" opacity="1"/>
<path d="M120 600L130 612L140 625" stroke="#fdf6fb" stroke-width="2" fill="none" stroke-linejoin="round" stroke-linecap="round" opacity="1"/>
<path d="M5 512L20 505L40 500" stroke="#fdf6fb" stroke-width="2" fill="none" stroke-linejoin="round" stroke-linecap="round" opacity="1"/>
<path d="M47 505c-0 .8 -1 1.7 -1.8 2.2 -.8 .5 -2.1 1 -3.2 1 -1.1 0 -2.5-.4 -3.3-1 -.8-.5 -1.4-1.5 -1.3-2.3 0-.7 .8-1.6 1.5-2.1 .8-.5 2-1.1 3.1-1.1 1.1-0 2.6 .4 3.4 .9 .8 .5 1.7 1.6 1.6 2.4z" fill="#e03050" />
<path d="M44.7 505c0 .4 -.2 1.1 -.7 1.4 -.4 .3 -1.4 .4 -2 .4 -.7-0 -1.4-.2 -1.9-.5 -.4-.3 -.8-.8 -.8-1.3 -0-.4 .2-1 .7-1.3 .4-.3 1.3-.5 2-.5 .6 0 1.4 .3 1.8 .6 .4 .3 .8 .8 .8 1.2z" fill="#f8dada" />
<path d="M97.2 503.6c.5 .8 .8 2.2 .4 3.2 -.4 1 -1.7 2.1 -2.8 2.6 -1.1 .6 -2.5 .9 -3.5 .7 -1-.1 -2.2-.8 -2.7-1.6 -.5-.8 -.7-2.2 -.3-3.2 .4-1 1.7-2.1 2.7-2.7 1-.6 2.5-.8 3.5-.6 1 .2 2.1 .8 2.7 1.6z" fill="#e03050" />
<path d="M95.5 504.6c.3 .5 .2 1.3 -0 1.8 -.2 .5 -.8 1.2 -1.4 1.5 -.6 .3 -1.4 .5 -2 .4 -.6-.1 -1.3-.5 -1.5-.9 -.3-.4 -.2-1.2 0-1.8 .2-.5 .8-1.1 1.3-1.4 .6-.3 1.4-.6 2-.5 .6 .1 1.3 .5 1.6 .9z" fill="#f8dada" />
<path d="M109.8 536c-.1 .9 -.9 1.9 -1.7 2.5 -.8 .6 -2 1.1 -3.1 1.2 -1.1 0 -2.5-.4 -3.3-1 -.9-.6 -1.8-1.7 -1.9-2.7 -.1-.9 .6-2.3 1.5-3 .9-.7 2.5-1.4 3.8-1.4 1.2 0 2.9 .8 3.7 1.5 .8 .7 1.2 2 1.1 2.9z" fill="#e03050" />
<path d="M107.8 536c-0 .5 -.3 1.2 -.8 1.6 -.5 .4 -1.3 .7 -2 .6 -.6-0 -1.4-.3 -1.9-.7 -.4-.4 -.8-1 -.8-1.5 -0-.5 .3-1.2 .8-1.5 .4-.4 1.3-.8 1.9-.8 .7-0 1.6 .3 2 .7 .5 .4 .7 1.1 .7 1.6z" fill="#f8dada" />
<path d="M126 548c-0 1.4 -.4 3 -.9 4 -.5 1 -1.3 1.7 -2 2 -.7 .3 -1.5 .3 -2.2 0 -.7-.3 -1.6-1 -2.1-2 -.5-1 -.8-2.8 -.8-4.1 0-1.3 .5-2.9 .9-3.9 .5-1 1.2-1.9 1.9-2.3 .7-.4 1.6-.6 2.3-.2 .7 .3 1.6 1.2 2.1 2.2 .5 1.1 .8 2.9 .7 4.2z" fill="#e03050" />
<path d="M123.8 548c-0 1 -.3 2 -.6 2.7 -.3 .6 -.8 1.2 -1.2 1.2 -.4 0 -1-.3 -1.4-.9 -.3-.6 -.6-2 -.6-3 -0-1 .3-2.3 .6-3 .3-.7 .9-1.1 1.4-1.1 .5-0 1.1 .4 1.4 1 .3 .7 .4 2.1 .4 3z" fill="#f8dada" />
<path d="M124.9 562.3c-.3 .6 -1.1 1.1 -2 1.2 -.9 0 -2.4-.4 -3.4-.9 -1-.6 -2.2-1.6 -2.6-2.5 -.5-.8 -.6-1.9 -.2-2.5 .3-.6 1.3-1.2 2.2-1.2 1-0 2.5 .6 3.6 1.2 1 .6 2.1 1.7 2.5 2.5 .4 .8 .3 1.7 -0 2.3z" fill="#e03050" />
<path d="M123 561.2c-.1 .3 -.6 .4 -1 .4 -.5 0 -1.2-.1 -1.7-.4 -.5-.3 -1.1-.9 -1.4-1.3 -.3-.4 -.5-1 -.3-1.3 .2-.3 .8-.4 1.3-.3 .5 0 1.3 .2 1.7 .5 .5 .3 1 .9 1.2 1.2 .2 .4 .3 .9 .2 1.1z" fill="#f8dada" />
<path d="M88.6 570c-.1 .7 -.6 1.3 -1.3 1.8 -.6 .4 -1.6 .8 -2.4 .8 -.8 0 -1.9-.3 -2.5-.8 -.6-.4 -1-1.2 -1-1.8 -0-.6 .2-1.5 .8-2 .6-.5 1.7-1.1 2.7-1.1 .9-0 2.3 .4 2.9 .9 .6 .5 .8 1.5 .7 2.2z" fill="#e03050" />
<path d="M87 570c-0 .3 -.2 .8 -.6 1 -.3 .3 -1 .5 -1.4 .5 -.5 0 -1.1-.2 -1.5-.4 -.3-.3 -.6-.7 -.6-1.1 -0-.4 .3-.8 .6-1.1 .3-.3 1-.5 1.5-.5 .5 0 1.1 .2 1.5 .5 .3 .3 .5 .7 .5 1z" fill="#f8dada" />
<path d="M73.6 590c-0 .6 -.5 1.4 -1.1 1.9 -.6 .5 -1.6 .8 -2.5 .9 -.9 0 -2.1-.2 -2.8-.7 -.7-.5 -1.4-1.4 -1.4-2.1 -0-.7 .6-1.7 1.2-2.2 .7-.5 2-.7 2.9-.7 .9 0 2.1 .4 2.7 .8 .6 .5 1 1.4 .9 2z" fill="#e03050" />
<path d="M72 590c-0 .3 -.3 .7 -.7 1 -.3 .2 -.9 .3 -1.3 .4 -.5 0 -1.1-.1 -1.4-.3 -.3-.2 -.6-.7 -.5-1 0-.3 .2-.8 .6-1 .3-.2 .9-.4 1.4-.4 .5-0 1.2 .1 1.5 .3 .3 .2 .5 .7 .5 1.1z" fill="#f8dada" />
<path d="M47.8 535c0 .9 -.4 2 -.8 2.6 -.5 .6 -1.3 .9 -2 .9 -.7 0 -1.5-.2 -2-.8 -.5-.6 -1.1-1.8 -1.1-2.7 -0-.9 .5-2.2 1-2.8 .5-.6 1.4-.9 2.1-.8 .7 0 1.4 .5 1.9 1.1 .5 .6 .9 1.7 .9 2.6z" fill="#e03050" />
<path d="M46.4 535c0 .5 -.2 1.2 -.5 1.6 -.2 .3 -.7 .5 -1 .5 -.3-0 -.7-.2 -.9-.6 -.2-.3 -.4-1 -.4-1.5 0-.5 .2-1.1 .4-1.5 .2-.3 .6-.6 .9-.6 .3-0 .7 .2 1 .5 .2 .3 .5 1 .5 1.5z" fill="#f8dada" />
<path d="M18.3 550c-0 1 -.5 2.4 -1 3.1 -.6 .7 -1.6 1 -2.3 .9 -.7-.1 -1.5-.8 -1.9-1.4 -.4-.7 -.6-1.7 -.6-2.5 -0-.9 .1-2 .5-2.7 .4-.7 1.3-1.5 2-1.5 .7-.1 1.8 .4 2.3 1.1 .6 .7 1 2.1 1 3.1z" fill="#e03050" />
<path d="M16.3 550c-0 .5 -.2 1.1 -.4 1.5 -.2 .4 -.6 .7 -.9 .7 -.3 0 -.7-.3 -1-.6 -.2-.4 -.4-1 -.5-1.5 -0-.5 .2-1.2 .4-1.6 .2-.4 .7-.6 1-.6 .3 0 .7 .4 .9 .7 .2 .4 .4 1 .4 1.5z" fill="#f8dada" />
<path d="M123.6 600c0 1.1 -.4 2.5 -1 3.3 -.6 .8 -1.8 1.5 -2.6 1.5 -.9-0 -2-.8 -2.6-1.6 -.6-.8 -.8-2.2 -.8-3.2 0-1 .4-2.3 1-3.1 .6-.7 1.6-1.4 2.4-1.4 .8-0 1.9 .6 2.5 1.3 .6 .7 1.1 2.1 1.1 3.2z" fill="#e03050" />
<path d="M122.1 600c-0 .7 -.4 1.5 -.7 1.9 -.3 .5 -.9 .9 -1.4 .9 -.5 0 -1.1-.3 -1.4-.8 -.3-.5 -.5-1.4 -.5-2 0-.7 .2-1.5 .5-2 .3-.5 .9-.9 1.4-.9 .5-0 1.1 .3 1.5 .8 .3 .5 .6 1.5 .6 2.1z" fill="#f8dada" />
<path d="M137.8 610c-0 1.1 -.4 2.3 -.7 3.2 -.3 .9 -.8 1.8 -1.3 2.2 -.5 .4 -1.2 .5 -1.7 .2 -.6-.3 -1.3-.9 -1.7-1.8 -.4-.9 -.6-2.6 -.5-3.8 0-1.2 .4-2.5 .8-3.4 .4-.9 .9-1.5 1.5-1.8 .5-.3 1.2-.5 1.7-.2 .5 .3 1.1 1.1 1.4 2 .3 .9 .6 2.3 .5 3.4z" fill="#e03050" />
<path d="M136.4 610c0 .9 -.2 2 -.4 2.7 -.2 .6 -.7 1.2 -1 1.2 -.3-0 -.7-.7 -.9-1.3 -.2-.6 -.4-1.7 -.4-2.6 0-.8 .3-1.7 .5-2.3 .2-.6 .6-1.1 .9-1.1 .3-0 .7 .4 .9 1 .2 .6 .5 1.6 .5 2.4z" fill="#f8dada" />
<path d="M102.8 600c0 .9 -.2 2.2 -.7 2.8 -.5 .6 -1.4 1 -2.1 1 -.7 0 -1.7-.3 -2.1-.9 -.5-.6 -.7-2 -.7-2.9 0-.9 .5-2 .9-2.5 .5-.6 1.2-.8 1.9-.8 .6-0 1.5 .1 2 .7 .5 .6 .8 1.7 .8 2.6z" fill="#e03050" />
<path d="M101.4 600c-0 .5 -.2 1.2 -.5 1.5 -.2 .3 -.6 .4 -.9 .4 -.3-0 -.7-.2 -.9-.5 -.2-.3 -.4-.9 -.4-1.4 -0-.5 .1-1.2 .3-1.5 .2-.4 .6-.6 1-.6 .3-0 .8 .1 1 .5 .2 .4 .4 1.1 .3 1.7z" fill="#f8dada" />
<path d="M57.9 520c-0 .7 -.4 1.5 -.9 2 -.5 .5 -1.3 .9 -2 .9 -.7 0 -1.5-.3 -2-.8 -.5-.5 -1-1.3 -1-2 -.1-.7 .2-1.8 .7-2.3 .5-.5 1.6-1 2.3-1 .7 0 1.6 .6 2.1 1.2 .5 .5 .8 1.4 .7 2.1z" fill="#e03050" />
<path d="M56.3 520c0 .3 -.1 .8 -.3 1 -.2 .2 -.6 .3 -.9 .3 -.3-0 -.7-.2 -.9-.4 -.2-.2 -.4-.6 -.4-.9 -0-.3 .1-.8 .3-1 .2-.2 .7-.4 1-.3 .3 0 .7 .2 .9 .4 .2 .2 .4 .6 .4 .9z" fill="#f8dada" />
<path d="M142.9 520c0 .7 -.3 1.7 -.8 2.2 -.5 .5 -1.4 .8 -2.2 .8 -.7-0 -1.6-.4 -2.1-.9 -.5-.5 -.7-1.4 -.7-2.1 0-.7 .2-1.6 .7-2.1 .5-.5 1.4-.9 2.1-.9 .7-0 1.6 .4 2.1 .8 .5 .5 .8 1.4 .8 2.1z" fill="#e03050" />
<path d="M141.3 520c-0 .3 -.2 .7 -.4 .9 -.2 .2 -.6 .5 -.9 .5 -.3 0 -.7-.3 -.9-.5 -.2-.2 -.4-.6 -.4-1 -0-.3 .2-.7 .4-1 .2-.3 .6-.5 .9-.5 .3 0 .7 .3 .9 .5 .2 .3 .4 .7 .4 1z" fill="#f8dada" />
<path d="M39 545c-0 .7 -.7 1.5 -1.4 2 -.7 .5 -1.7 1 -2.6 1 -.9 0 -2-.5 -2.7-1 -.7-.5 -1.3-1.3 -1.4-2 -0-.7 .4-1.7 1.1-2.2 .7-.5 2-1.1 3-1.1 1 0 2.2 .6 2.9 1.2 .7 .5 1.2 1.4 1.2 2.1z" fill="#e03050" />
<path d="M36.8 545c-0 .3 -.2 .7 -.5 .9 -.3 .2 -.8 .4 -1.3 .4 -.4-0 -.9-.2 -1.3-.4 -.3-.2 -.6-.6 -.6-.9 -0-.3 .2-.7 .5-1 .3-.2 .9-.4 1.3-.4 .4 0 1 .2 1.3 .4 .3 .2 .5 .6 .5 .9z" fill="#f8dada" />
<path d="M83 515c0 .9 -.4 2.1 -.9 2.8 -.5 .7 -1.4 1.4 -2.1 1.5 -.7 0 -1.7-.7 -2.2-1.4 -.5-.7 -.6-2 -.6-2.9 .1-.9 .5-1.8 .9-2.4 .5-.6 1.2-1.3 1.8-1.4 .7-.1 1.6 .4 2.1 1 .5 .6 .9 1.9 .9 2.8z" fill="#e03050" />
<path d="M81.5 515c-0 .5 -.3 1.2 -.5 1.6 -.2 .3 -.7 .5 -1 .5 -.3-0 -.6-.3 -.9-.7 -.2-.3 -.4-.9 -.4-1.4 -0-.5 .1-1.2 .3-1.6 .2-.4 .6-.7 1-.8 .3-0 .8 .3 1 .7 .2 .4 .5 1.1 .5 1.7z" fill="#f8dada" />
<path d="M68.9 565c-0 .7 -.5 1.5 -1.1 2 -.6 .5 -1.8 .9 -2.7 .9 -.9 0 -2.3-.3 -2.9-.8 -.7-.5 -1-1.5 -1-2.2 0-.7 .5-1.6 1.1-2.1 .7-.5 1.9-.9 2.8-.9 .9 0 2.1 .5 2.8 1 .6 .5 1.1 1.4 1.1 2.1z" fill="#e03050" />
<path d="M66.9 565c0 .3 -.1 .8 -.4 1 -.3 .2 -.9 .4 -1.4 .4 -.5 0 -1.2-.1 -1.5-.4 -.3-.2 -.5-.7 -.4-1.1 0-.3 .3-.8 .6-1 .3-.2 .9-.4 1.4-.4 .5-0 1.1 .1 1.4 .3 .3 .2 .4 .7 .4 1z" fill="#f8dada" />
<path d="M113.9 585c-0 .7 -.5 1.6 -1.1 2 -.6 .5 -1.8 .9 -2.7 .8 -.9-0 -2-.4 -2.6-.9 -.6-.5 -1.2-1.3 -1.3-1.9 -0-.7 .4-1.6 1-2.1 .6-.5 1.9-.8 2.8-.8 .9 0 2.2 .3 2.8 .8 .6 .5 1 1.4 1 2.1z" fill="#e03050" />
<path d="M112 585c0 .3 -.2 .8 -.6 1 -.3 .2 -1 .4 -1.5 .4 -.5-0 -1.1-.2 -1.4-.4 -.3-.2 -.4-.7 -.4-1 0-.3 .2-.7 .5-.9 .3-.2 .8-.4 1.3-.4 .5-0 1.1 .1 1.4 .3 .3 .2 .6 .7 .6 1z" fill="#f8dada" />
<path d="M27.8 575c-0 .7 -.3 1.6 -.8 2 -.5 .5 -1.3 .9 -2 .9 -.7 0 -1.8-.2 -2.2-.7 -.5-.5 -.7-1.5 -.7-2.2 0-.7 .3-1.7 .8-2.1 .5-.5 1.4-.7 2.1-.7 .7-0 1.7 .3 2.1 .7 .5 .5 .7 1.4 .7 2.1z" fill="#e03050" />
<path d="M26.3 575c0 .3 -.1 .8 -.4 1 -.2 .2 -.6 .4 -.9 .4 -.3-0 -.7-.2 -.9-.4 -.2-.2 -.4-.6 -.4-1 0-.3 .1-.8 .4-1 .2-.2 .6-.3 .9-.3 .3 0 .6 .1 .8 .3 .2 .2 .4 .6 .4 .9z" fill="#f8dada" />
<path d="M132.8 545c0 .9 -.4 2 -.8 2.7 -.5 .6 -1.3 1 -2 1 -.7-0 -1.4-.4 -1.9-1.1 -.5-.6 -1-1.7 -1-2.6 -0-.9 .4-2.1 .9-2.8 .5-.6 1.4-1 2.1-1 .7 0 1.4 .6 1.9 1.2 .5 .6 .9 1.7 .9 2.6z" fill="#e03050" />
<path d="M131.4 545c-0 .5 -.3 1.1 -.5 1.5 -.2 .3 -.6 .6 -.9 .6 -.3-0 -.6-.4 -.8-.7 -.2-.3 -.4-.9 -.4-1.3 0-.4 .2-.9 .4-1.3 .2-.3 .5-.7 .8-.7 .3-0 .7 .2 .9 .5 .2 .3 .5 1 .5 1.5z" fill="#f8dada" />
<path d="M143 590c0 1 -.2 2.4 -.7 3 -.5 .7 -1.5 1 -2.3 .9 -.7-0 -1.6-.5 -2.1-1.2 -.5-.7 -.8-1.9 -.9-2.8 -0-1 .3-2.3 .8-3 .5-.7 1.5-1.1 2.2-1.1 .7 0 1.6 .6 2.1 1.2 .5 .7 .9 1.8 .9 2.8z" fill="#e03050" />
<path d="M141.3 590c-0 .5 -.3 1 -.5 1.3 -.2 .3 -.5 .7 -.8 .7 -.3 0 -.7-.1 -1-.4 -.2-.3 -.5-1 -.5-1.6 -0-.5 .2-1.2 .4-1.6 .2-.4 .7-.7 1-.7 .3 0 .8 .3 1 .7 .2 .4 .3 1.1 .3 1.6z" fill="#f8dada" />
</g>
<rect x="127" y="520.7" width="11.0" height="10.6" fill="none" stroke="#333" stroke-width="0.8"/>
<line x1="138" y1="520.7" x2="164.5" y2="459.5" stroke="#222" stroke-width="0.8"/>
<line x1="138" y1="531.3" x2="164.5" y2="644.5" stroke="#222" stroke-width="0.8"/>
<clipPath id="c13i"><path d="M172.4 464.7L276.7 464.7L276.7 639.5L172.4 639.5Z"/></clipPath>
<g clip-path="url(#c13i)">
<rect x="170" y="462" width="109" height="180" fill="url(#iLav)"/>
<path d="M211 600c.3 1.4 .7 3.1 .1 4.5 -.5 1.4 -1.9 2.9 -3.3 3.8 -1.4 .9 -3.4 1.6 -5.2 1.7 -1.7 .1 -3.6-.5 -5.2-1 -1.6-.5 -3.2-.9 -4.5-1.7 -1.3-.8 -2.3-2 -3.1-3.2 -.9-1.2 -1.9-2.6 -2.1-4 -.2-1.4 .3-3.1 1-4.5 .7-1.3 2-2.8 3.4-3.6 1.4-.8 3.6-1 5.2-1.1 1.7-.1 3.4 .2 4.8 .7 1.5 .4 2.7 1.2 3.9 2 1.1 .8 2.2 1.7 3 2.8 .8 1.1 1.5 2.3 1.8 3.7z" fill="url(#iOL)" />
<path d="M260.6 480c-.1 .9 -1.2 1.7 -1.9 2.5 -.7 .8 -1.5 1.5 -2.5 2.1 -1.1 .6 -2.3 1.2 -3.8 1.5 -1.4 .3 -3.2 .5 -4.8 .4 -1.5-.2 -3.2-.7 -4.4-1.3 -1.2-.6 -2.3-1.5 -3-2.3 -.7-.9 -1.1-1.9 -1-2.8 .1-.9 1-1.8 1.7-2.6 .8-.8 1.7-1.5 2.8-2.1 1.1-.6 2.5-1.2 4-1.4 1.4-.2 3.2-.2 4.7 0 1.5 .2 3.1 .6 4.3 1.2 1.2 .6 2 1.5 2.7 2.3 .7 .8 1.4 1.8 1.3 2.7z" fill="url(#iOL)" />
<path d="M218.2 520c0 1 -.9 2.1 -1.8 2.9 -1 .8 -2.5 1.5 -3.9 1.8 -1.5 .3 -3.4 .3 -4.9-0 -1.4-.3 -2.9-1.1 -3.8-1.9 -.9-.8 -1.4-1.9 -1.3-2.8 0-.9 .7-2 1.5-2.7 .9-.8 2.2-1.5 3.6-1.9 1.4-.4 3.5-.5 4.9-.2 1.4 .3 2.8 1.2 3.7 2 .9 .8 1.9 1.9 2 2.8z" fill="url(#iOL)" />
<path d="M269.9 600c.1 1.5 -.6 3.3 -1.5 4.6 -.9 1.4 -2.2 3 -3.7 3.5 -1.5 .5 -3.6 .3 -5.2-.3 -1.6-.5 -3.2-1.7 -4.2-3 -1-1.3 -1.6-3.2 -1.7-4.9 -0-1.7 .4-3.8 1.4-5.1 1-1.3 2.8-2.5 4.4-2.9 1.6-.4 3.6-0 4.9 .6 1.4 .6 2.4 2 3.3 3.2 .9 1.2 2.1 2.7 2.2 4.1z" fill="url(#iOL)" />
<path d="M197.4 470c.1 .7 -.4 1.6 -1.3 2.2 -.8 .6 -2.3 1.2 -3.7 1.5 -1.4 .2 -3.4 .2 -4.8-0 -1.5-.2 -3.1-.8 -3.9-1.4 -.8-.6 -1.1-1.6 -1-2.3 .1-.7 .5-1.6 1.4-2.2 .9-.6 2.4-1 3.8-1.2 1.4-.2 3.1-.3 4.4-0 1.3 .2 2.6 .8 3.5 1.4 .9 .6 1.6 1.4 1.7 2.1z" fill="url(#iOL)" />
<path d="M208.5 575c0 1 -.5 2.3 -1.5 3.2 -1 .9 -2.7 1.7 -4.3 2 -1.6 .3 -3.7 .1 -5.2-.3 -1.5-.4 -3-1.1 -4-1.9 -1-.8 -1.8-2 -1.9-3 -0-1 .6-2.3 1.6-3.1 1-.8 2.6-1.6 4.2-2 1.6-.3 3.6-.2 5.2 .1 1.6 .3 3.2 1.1 4.2 1.9 1 .8 1.7 2 1.7 3.1z" fill="url(#iPur)" />
<path d="M250.9 620c.1 1.2 -.1 2.7 -.7 3.7 -.6 1.1 -1.8 2.3 -3 2.7 -1.2 .5 -3 .4 -4.2-0 -1.2-.5 -2.4-1.6 -3.1-2.7 -.7-1.1 -1.2-2.5 -1.2-3.8 -0-1.3 .4-2.8 1.2-3.8 .7-1.1 2-2.2 3.2-2.6 1.2-.4 2.9-.2 4.1 .3 1.1 .5 2 1.7 2.7 2.7 .7 1 1.2 2.2 1.2 3.4z" fill="url(#iPur)" />
<path d="M191 530c-0 .8 -.5 1.7 -1.2 2.3 -.7 .6 -2 1 -3.1 1.2 -1.1 .2 -2.3 .2 -3.4 .1 -1.1-.2 -2.4-.5 -3.2-1.1 -.8-.6 -1.6-1.6 -1.6-2.4 0-.8 .8-1.8 1.6-2.4 .8-.6 2-1.2 3.1-1.4 1.1-.2 2.5-.1 3.6 .2 1.1 .2 2.5 .6 3.2 1.2 .7 .6 1 1.6 1 2.4z" fill="url(#iPur)" />
<path d="M266.5 470c-0 .7 -.4 1.5 -.9 2.1 -.5 .6 -1.4 1 -2.2 1.3 -.8 .3 -1.9 .4 -2.9 .2 -.9-.2 -2.1-.6 -2.8-1.2 -.6-.6 -1.1-1.7 -1-2.5 .1-.8 .7-1.7 1.4-2.2 .6-.6 1.6-1 2.5-1.2 .9-.2 2-.2 2.8 0 .8 .2 1.7 .8 2.2 1.4 .5 .6 .9 1.4 .9 2.1z" fill="url(#iPur)" />
<path d="M229.9 600c0 1 -.3 2.2 -.8 3 -.6 .8 -1.6 1.6 -2.5 1.9 -.9 .3 -2.1 .2 -3.1-0 -1-.3 -2.1-.9 -2.7-1.7 -.7-.8 -1.2-2 -1.2-3.1 -0-1.1 .3-2.4 1-3.3 .6-.8 1.8-1.6 2.8-1.8 1-.2 2.3-.1 3.2 .3 .9 .4 1.9 1.1 2.4 1.9 .6 .8 .9 1.9 .9 2.9z" fill="url(#iPur)" />
<path d="M255 492c2.5-4.5 9.4-4.7 13-4 3.6 .7 7.2-.8 8.7 8 1.4 8.8 2.4 37.7 0 45 -2.4 7.3 -11.1 .8 -14.7-1 -3.6-1.8 -5.5-5.8 -7-10 -1.5-4.2 -2-8.7 -2-15 0-6.3 -.5-18.5 2-23z" fill="url(#iRed)" />
<path d="M261 500c2.9-3.8 13.1-9.2 15.7-3 2.6 6.2 1.9 33.5 0 40 -1.9 6.5 -8.8 1.8 -11.7-1 -2.9-2.8 -5.3-10 -6-16 -.7-6 -.9-16.2 2-20z" fill="url(#iPink)" />
<path d="M277.2 585c.2 2.2 -.1 4.9 -.9 7 -.8 2 -2.3 3.8 -3.8 5.1 -1.5 1.3 -3.3 2.1 -4.9 2.5 -1.7 .3 -3.6 .2 -5.1-.4 -1.6-.6 -3.1-1.9 -4.3-3.3 -1.2-1.4 -2.2-3.1 -2.8-4.9 -.6-1.8 -.9-3.9 -.9-5.9 0-2 .3-4.1 1-5.9 .7-1.7 1.9-3.3 3.1-4.5 1.2-1.3 2.6-2.5 4.1-3 1.5-.5 3.3-.6 4.8-.2 1.6 .3 3.4 1 4.7 2.2 1.3 1.2 2.2 3.3 3 5.2 .8 1.9 1.9 4 2.1 6.2z" fill="url(#iRed)" />
<path d="M271.7 583c-0 1.6 -.6 3.4 -1.3 4.8 -.6 1.4 -1.5 3 -2.6 3.6 -1 .6 -2.5 .4 -3.6-.1 -1.1-.6 -2.1-1.9 -2.8-3.3 -.6-1.4 -1-3.2 -1.1-5 -.1-1.8 -0-4 .6-5.5 .6-1.5 1.9-3.1 3.1-3.7 1.2-.6 2.8-.4 3.9 .3 1.1 .7 2.1 2.4 2.7 3.9 .6 1.5 1 3.4 1 5.1z" fill="url(#iPink)" />
<path d="M226 482c1-2 9.3-3.3 12-2 2.7 1.3 5 8 4 10 -1 2 -7.3 3.3 -10 2 -2.7-1.3 -7-8 -6-10z" fill="url(#iRed)" />
<path d="M215 492c2.3-1.7 16.8-3.2 21-2 4.2 1.2 6.3 7.3 4 9 -2.3 1.7 -13.8 2.2 -18 1 -4.2-1.2 -9.3-6.3 -7-8z" fill="url(#iPink)" />
<path d="M195.9 508c-0 1.7 -.2 3.5 -.8 5.1 -.6 1.5 -1.6 3.2 -2.8 4.1 -1.2 .9 -2.8 1.4 -4.2 1.5 -1.4 .1 -2.8-.5 -4-1.1 -1.1-.6 -2-1.7 -2.9-2.5 -1-.9 -2.2-1.6 -2.9-2.7 -.6-1.2 -.8-2.8 -1-4.3 -.2-1.5 -.4-3.4 .1-4.8 .5-1.4 1.6-2.8 2.7-3.8 1.1-1.1 2.4-2.1 3.7-2.6 1.4-.4 3-.3 4.4 0 1.4 .4 2.8 1.1 4 2.1 1.2 1 2.3 2.4 2.9 3.9 .6 1.5 .8 3.4 .8 5.1z" fill="url(#iTeal)" />
<path d="M228.9 491.5c0 1.7 -.9 3.8 -1.8 5.3 -.9 1.5 -2.4 3.3 -3.8 3.8 -1.5 .5 -3.5-.1 -5-.7 -1.5-.6 -3.2-1.6 -4.1-3 -.9-1.4 -1.4-3.6 -1.4-5.3 0-1.8 .5-4 1.5-5.3 .9-1.3 2.7-2.1 4.2-2.7 1.5-.5 3.3-1 4.7-.5 1.4 .5 2.9 1.9 3.8 3.3 1 1.4 2 3.4 2 5.1z" fill="url(#iTeal)" />
<path d="M247.7 508.1c.3 1.9 .2 4 -0 5.8 -.2 1.8 -.6 3.8 -1.3 5 -.7 1.3 -1.8 2 -2.9 2.6 -1 .6 -2.2 1.4 -3.3 1.1 -1.1-.3 -2.3-1.7 -3.4-2.7 -1.1-1.1 -2.3-2 -3.1-3.6 -.8-1.5 -1.5-3.6 -1.9-5.5 -.4-1.9 -.4-4 -.3-5.9 .1-1.9 .5-3.9 1.2-5.3 .7-1.3 1.8-2.1 2.9-2.8 1.1-.7 2.3-1.7 3.4-1.4 1.2 .2 2.4 1.8 3.6 2.9 1.1 1.1 2.4 2.2 3.3 3.8 .8 1.6 1.4 3.9 1.7 5.8z" fill="url(#iTeal)" />
<path d="M188.2 473.5c-0 1.3 -.6 2.6 -1.2 3.7 -.5 1 -1.3 2.1 -2.1 2.6 -.8 .5 -2 .6 -2.9 .2 -.9-.4 -1.8-1.5 -2.2-2.6 -.5-1.1 -.7-2.6 -.6-3.9 .1-1.2 .4-2.5 .9-3.5 .5-1 1.2-2 2-2.5 .8-.5 2-.8 2.8-.4 .8 .4 1.7 1.5 2.3 2.5 .5 1.1 1 2.6 1 3.9z" fill="url(#iTeal)" />
<path d="M263.9 570c-0 1.7 -.8 3.6 -1.7 5 -1 1.4 -2.6 2.9 -4.1 3.3 -1.6 .4 -3.6-.1 -5.2-.7 -1.5-.6 -3.2-1.6 -4.1-2.9 -.9-1.3 -1.2-3.2 -1.3-4.8 -0-1.6 .3-3.5 1.1-4.9 .9-1.4 2.4-3 4-3.6 1.6-.6 3.9-.5 5.5 0 1.6 .6 3.3 1.9 4.3 3.3 1 1.4 1.6 3.4 1.6 5.1z" fill="url(#iTeal)" />
<path d="M248.9 596.8c-0 1.4 -.7 3 -1.6 4.1 -.8 1.1 -2.2 1.9 -3.5 2.3 -1.3 .4 -2.8 .3 -4.1-0 -1.3-.3 -2.9-1 -3.8-2.1 -.9-1.1 -1.5-2.8 -1.6-4.2 -.1-1.5 .4-3.3 1.3-4.5 .9-1.1 2.5-2 3.9-2.4 1.4-.4 3.1-.2 4.4 .2 1.3 .4 2.8 1.4 3.6 2.5 .8 1.1 1.4 2.8 1.4 4.2z" fill="url(#iTeal)" />
<path d="M266.8 618c-0 1.5 -1.2 3 -2.1 4.3 -.9 1.3 -2 2.6 -3.5 3.3 -1.4 .6 -3.4 .8 -5.1 .5 -1.7-.4 -3.9-1.2 -4.9-2.6 -1-1.3 -1.3-3.7 -1.2-5.5 .1-1.7 .9-3.7 2-4.9 1.1-1.2 2.9-1.7 4.5-2.1 1.5-.4 3.3-.9 4.7-.5 1.4 .4 2.8 1.8 3.7 3 .9 1.3 1.9 3 1.9 4.5z" fill="url(#iTeal)" />
<path d="M186.2 623.5c0 1.9 -.3 3.9 -.7 5.8 -.4 1.9 -.8 4.3 -1.6 5.5 -.8 1.2 -2.1 1.5 -3.1 1.7 -1 .3 -2.1 .4 -3.1-.1 -1-.5 -1.9-1.7 -2.7-2.9 -.8-1.2 -1.6-2.6 -2.1-4.3 -.5-1.7 -.6-3.9 -.7-5.8 -0-2 .1-4.2 .5-6 .4-1.8 1.2-3.5 2-4.7 .8-1.2 1.9-2 2.9-2.3 1-.3 2.1-.1 3 .3 1 .5 2 1.3 2.7 2.4 .8 1.1 1.5 2.8 2 4.5 .5 1.7 .7 3.9 .7 5.8z" fill="url(#iTeal)" />
</g>
<path d="M169 536.4L194.8 532L208.3 520.7L221.7 520.7L235.2 532L248.7 541L279 541L279 546L244.2 547.6L235.2 558.8L233 579L230.7 597L235.2 617L231 642L219.5 642L212.8 617L206 597L179 597L169 594.7Z" fill="url(#iSparse)" />
<path d="M242.4 505.5c.3 1.5 .4 3.4 .2 4.6 -.1 1.3 -.5 2.4 -1 2.9 -.5 .5 -1.1 .6 -1.8 .2 -.6-.3 -1.4-1.2 -1.9-2.3 -.6-1.1 -1.2-2.8 -1.6-4.4 -.3-1.6 -.5-3.7 -.4-5.1 .1-1.4 .5-2.9 1.1-3.4 .5-.5 1.4-.2 2 .3 .7 .5 1.3 1.8 1.9 2.9 .6 1.2 1.2 2.7 1.4 4.2z" fill="#fff" />
<path d="M182.6 625c0 1.6 -.1 3.4 -.4 4.8 -.3 1.4 -.9 3.1 -1.6 3.7 -.6 .6 -1.6 .4 -2.3-.1 -.7-.5 -1.5-1.7 -1.9-3.1 -.4-1.4 -.5-3.5 -.6-5.3 -0-1.8 .1-4 .5-5.4 .4-1.4 1.2-2.6 1.9-3 .7-.4 1.6-.3 2.2 .4 .6 .6 1.1 2.2 1.5 3.5 .3 1.3 .5 3 .6 4.5z" fill="#fff" />
<path d="M209.9 478c0 .6 -.4 1.4 -1 1.8 -.7 .4 -1.9 .7 -2.9 .7 -1 0 -2.3-.2 -3-.7 -.7-.4 -1.2-1.3 -1.2-1.9 .1-.6 .8-1.3 1.5-1.7 .7-.4 1.8-.7 2.7-.7 .9-0 2.1 .2 2.7 .6 .7 .4 1.2 1.1 1.2 1.7z" fill="#fff" />
<path d="M192 491.5c-.1 .6 -.5 1.3 -1 1.7 -.6 .4 -1.6 .7 -2.4 .7 -.8 0 -1.9-.2 -2.5-.6 -.6-.4 -1-1.2 -1-1.8 -0-.6 .3-1.4 .9-1.9 .6-.5 1.8-.9 2.6-.9 .9-0 2.1 .4 2.7 .8 .6 .5 .8 1.3 .7 1.9z" fill="#fff" />
<path d="M276.4 549c-0 .5 -.6 1.1 -1.4 1.5 -.8 .4 -2.1 .6 -3.3 .8 -1.1 .1 -2.5 .2 -3.6 .1 -1.1-.1 -2.4-.4 -3.2-.8 -.8-.4 -1.5-1 -1.5-1.5 0-.5 1-1 1.8-1.4 .8-.4 1.8-.8 2.9-.9 1.1-.2 2.5-.2 3.7-0 1.2 .1 2.7 .4 3.4 .8 .8 .4 1.2 1.1 1.1 1.6z" fill="#fff" />
<path d="M203.3 494c-0 .5 -.6 1.1 -1.1 1.5 -.5 .3 -1.5 .6 -2.2 .6 -.7 0 -1.7-.3 -2.2-.6 -.5-.3 -.9-1 -.9-1.5 -0-.5 .3-1.1 .9-1.5 .5-.4 1.5-.7 2.3-.7 .8-0 1.8 .3 2.4 .6 .5 .4 .9 1.1 .9 1.6z" fill="#fff" />
<path d="M218.7 479.3c-.2-.2 -.4-.7 -.3-1 .1-.3 .3-.9 .6-1.1 .3-.2 .9-.3 1.2-.2 .3 .1 .6 .5 .7 .8 .1 .3 0 .8 -.2 1.1 -.2 .3 -.7 .5 -1 .5 -.3 .1 -.8 0 -1-.2z" fill="#fff" />
<path d="M246.2 465.8c-.3-.3 -.6-.7 -.6-1.1 -0-.4 .1-.9 .4-1.1 .3-.3 .8-.5 1.2-.4 .4 .1 1.1 .4 1.3 .8 .2 .4 .3 1.1 .1 1.4 -.2 .4 -.7 .7 -1.1 .8 -.4 .1 -1-.2 -1.3-.5z" fill="#fff" />
<path d="M191.4 633.4c-.3 .2 -1 .1 -1.3-.1 -.4-.2 -.7-.6 -.8-1 -.1-.4 0-.9 .2-1.2 .2-.3 .6-.7 1-.7 .4-.1 1.1 .1 1.4 .4 .3 .3 .3 1.1 .3 1.5 -.1 .4 -.4 1 -.7 1.2z" fill="#fff" />
<path d="M254.7 472.9c-.2-.3 -.4-.8 -.3-1.2 .1-.4 .5-1 .8-1.1 .4-.1 1.1 0 1.5 .3 .3 .3 .6 .9 .6 1.3 -0 .4 -.4 .8 -.7 1.1 -.3 .2 -.7 .3 -1.1 .2 -.3-.1 -.7-.3 -.9-.6z" fill="#fff" />
<path d="M235.3 525.6c-.3 .3 -.9 .7 -1.3 .7 -.4 0 -.8-.4 -1-.7 -.2-.3 -.2-.9 -0-1.3 .2-.4 .6-.9 1-1 .4-.2 1-.2 1.3-0 .3 .2 .7 .6 .7 1 0 .4 -.3 1 -.6 1.3z" fill="#fff" />
<path d="M259.4 561.4c-.1-.3 0-.8 .3-1.1 .3-.3 1-.5 1.4-.6 .5-0 1.1 .1 1.4 .3 .3 .2 .4 .7 .2 1 -.1 .3 -.6 .7 -1 .9 -.4 .2 -1.1 .2 -1.4 .1 -.4-.1 -.8-.4 -.9-.7z" fill="#fff" />
<path d="M252.9 477.8c-.2 .3 -.7 .7 -1.1 .8 -.4 .1 -1-.1 -1.2-.3 -.2-.3 -.3-.9 -.2-1.3 .1-.4 .4-.9 .8-1.2 .3-.2 1-.3 1.3-.2 .3 .1 .6 .6 .7 1 .1 .4 -0 .9 -.2 1.3z" fill="#fff" />
<path d="M195.8 480.4c-.1 .4 -.7 .7 -1.1 .8 -.4 .1 -1-0 -1.3-.2 -.3-.2 -.7-.7 -.7-1.1 -0-.4 .2-1 .5-1.2 .3-.3 .9-.4 1.3-.3 .4 .1 .8 .4 1 .7 .2 .3 .4 1 .2 1.3z" fill="#fff" />
<path d="M247.8 618.6c-.4-.2 -.9-.8 -.9-1.2 -.1-.4 .2-1 .5-1.3 .3-.3 .9-.6 1.3-.5 .4 0 .9 .5 1.1 .8 .2 .3 .4 .9 .3 1.3 -.1 .4 -.5 .8 -.9 1 -.4 .2 -1.1 .2 -1.5 0z" fill="#fff" />
<path d="M214.2 506.9c-.2-.2 -.2-.8 -.1-1.1 .1-.3 .5-.7 .9-.8 .3-.1 .8-0 1.1 .1 .3 .2 .5 .6 .5 .9 0 .3 -.2 .7 -.4 .9 -.2 .2 -.7 .3 -1 .3 -.3-0 -.8-.2 -.9-.4z" fill="#fff" />
<path d="M171.1 513c-.1-.4 .1-.9 .4-1.3 .2-.3 .7-.6 1.1-.6 .4-.1 1 0 1.3 .3 .3 .3 .4 .8 .4 1.2 -0 .4 -.3 1 -.7 1.3 -.4 .2 -1.1 .2 -1.5 .1 -.4-.2 -.9-.6 -1-1z" fill="#fff" />
<path d="M178.9 603.3c-.2 .1 -.5 .2 -.7 .1 -.2-.1 -.6-.5 -.7-.8 -.1-.3 -.2-.8 -.1-1 .1-.2 .4-.3 .7-.3 .2 0 .6 .2 .8 .4 .2 .2 .3 .6 .3 .9 0 .3 -.1 .5 -.3 .6z" fill="#fff" />
<path d="M190.1 561c-.1 2 -.4 3.9 -1 5.6 -.6 1.6 -1.6 3.1 -2.6 4.3 -1 1.2 -2.2 2.3 -3.4 2.8 -1.2 .4 -2.8 .5 -4-.1 -1.2-.6 -2.2-2.1 -3.2-3.2 -1-1.2 -2.1-2.3 -2.8-3.8 -.6-1.6 -1.1-3.6 -1.1-5.5 -.1-1.9 .2-4 .8-5.7 .6-1.7 1.5-3.5 2.6-4.6 1.1-1 2.5-1.3 3.8-1.7 1.3-.4 2.7-1.1 3.9-.8 1.2 .3 2.3 1.7 3.5 2.8 1.1 1.1 2.8 2.1 3.4 3.8 .6 1.7 .3 4.2 .2 6.2z" fill="url(#iLight)" />
<path d="M185.9 561c0 1.5 -.4 3.2 -1 4.6 -.6 1.3 -1.4 2.9 -2.3 3.5 -.9 .6 -2.3 .5 -3.3-.1 -1-.6 -1.9-2 -2.4-3.3 -.5-1.3 -.9-3.2 -.8-4.7 .1-1.5 .6-3.1 1.2-4.3 .6-1.2 1.4-2.4 2.3-2.8 .9-.5 2-.4 2.9 0 .9 .4 1.9 1.4 2.4 2.6 .6 1.2 1 3 1.1 4.5z" fill="url(#iOra)" />
<rect x="164.5" y="459.5" width="120.0" height="185.0" fill="none" stroke="#333" stroke-width="1.0"/>
<text x="233.7" y="48.0" font-size="14.9" text-anchor="middle">Week 6</text>
<text x="547" y="32.5" font-size="14.9" text-anchor="middle">Week 8.5</text>
<text x="231.5" y="244.6" font-size="14.9" text-anchor="middle">Week 11</text>
<text x="545.6" y="281.4" font-size="14.9" text-anchor="middle">Week 12</text>
<text x="219.5" y="449.8" font-size="14.9" text-anchor="middle">Week 13</text>
<text x="373.8" y="512.8" font-size="14.9" text-anchor="middle">Week 6</text>
<text x="566.5" y="513.3" font-size="14.9" text-anchor="middle">Week 8.5</text>
<text x="155" y="739.9" font-size="14.9" text-anchor="middle">Week 11</text>
<text x="353.7" y="740.4" font-size="14.9" text-anchor="middle">Week 12</text>
<text x="564.5" y="739.4" font-size="14.9" text-anchor="middle">Week 13</text>
<circle cx="7.8" cy="663.6" r="3" fill="#3cb44b"/>
<text x="12.7" y="666.4" font-size="8.1">Adventitial fibroblast</text>
<circle cx="7.8" cy="671.4" r="3" fill="#e6194b"/>
<text x="12.7" y="674.2" font-size="8.1">Airway smooth muscle</text>
<circle cx="7.8" cy="680.1" r="3" fill="#9a6324"/>
<text x="12.7" y="682.9" font-size="8.1">Airway fibroblast</text>
<circle cx="7.8" cy="689.9" r="3" fill="#4363d8"/>
<text x="12.7" y="692.7" font-size="8.1">Chondroblast</text>
<circle cx="7.8" cy="700.3" r="3" fill="#42d4f4"/>
<text x="12.7" y="703.1" font-size="8.1">Ki67+ mesenchymal</text>
<circle cx="112.3" cy="663.7" r="3" fill="#000075"/>
<text x="116.6" y="666.5" font-size="8.1">Mesothelium</text>
<circle cx="112.3" cy="675.1" r="3" fill="#bfef45"/>
<text x="116.6" y="677.9" font-size="8.1">Neuronal</text>
<circle cx="112.3" cy="685.0" r="3" fill="#ffd98a"/>
<text x="116.6" y="687.8" font-size="8.1">Pericyte</text>
<circle cx="112.3" cy="693.8" r="3" fill="#a9a9a9"/>
<text x="116.6" y="696.6" font-size="8.1">Vascular smooth muscle</text>
<circle cx="112.3" cy="702.0" r="3" fill="#dcbeff"/>
<text x="116.6" y="704.8" font-size="8.1">Vim+ mesenchymal</text>
<circle cx="216.2" cy="662.3" r="3" fill="#fabebe"/>
<text x="220.3" y="665.1" font-size="8.1">SOX2<tspan font-size="4.6" dy="-2.6">high</tspan><tspan dy="2.6"> epithelial</tspan></text>
<circle cx="216.2" cy="671.0" r="3" fill="#1f8a84"/>
<text x="220.3" y="673.8" font-size="8.1">SOX9<tspan font-size="4.6" dy="-2.6">high</tspan><tspan dy="2.6"> epithelial</tspan></text>
<circle cx="216.2" cy="680.4" r="3" fill="#f58231"/>
<text x="220.3" y="683.2" font-size="8.1">Endothelial</text>
<circle cx="216.2" cy="690.6" r="3" fill="#f032e6"/>
<text x="220.3" y="693.4" font-size="8.1">Lymphatic endothelial</text>
<circle cx="216.2" cy="700.0" r="3" fill="#911eb4"/>
<text x="220.3" y="702.8" font-size="8.1">Immune</text>
<defs><linearGradient id="cb" x1="0" y1="1" x2="0" y2="0">
<stop offset="0.00" stop-color="#3b4cc0"/>
<stop offset="0.10" stop-color="#5977e3"/>
<stop offset="0.20" stop-color="#7b9ff9"/>
<stop offset="0.30" stop-color="#9ebeff"/>
<stop offset="0.40" stop-color="#c0d4f5"/>
<stop offset="0.50" stop-color="#dddcdc"/>
<stop offset="0.60" stop-color="#f2cbb7"/>
<stop offset="0.70" stop-color="#f7ac8e"/>
<stop offset="0.80" stop-color="#ee8468"/>
<stop offset="0.90" stop-color="#d65244"/>
<stop offset="1.00" stop-color="#b40426"/>
</linearGradient></defs>
<rect x="45.3" y="763" width="7.7" height="123.7" fill="url(#cb)"/>
<text x="54.2" y="765.5" font-size="7">100</text>
<text x="54.2" y="779.0" font-size="7">75</text>
<text x="54.2" y="792.5" font-size="7">55</text>
<text x="54.2" y="806.0" font-size="7">35</text>
<text x="54.2" y="819.5" font-size="7">10</text>
<text x="54.2" y="832.9" font-size="7">-10</text>
<text x="54.2" y="846.4" font-size="7">-35</text>
<text x="54.2" y="859.9" font-size="7">-55</text>
<text x="54.2" y="873.4" font-size="7">-75</text>
<text x="54.2" y="886.9" font-size="7">-100</text>
<text transform="translate(42.1,827.2) rotate(-90)" text-anchor="middle" font-size="9.75" font-weight="bold">Scaled enrichment Z-score</text>
<path d="M306.7 527.0H305.4V543.5H306.7M306.7 576.5H305.4V593.0H306.7M306.7 609.5H305.4V626.0H306.7M305.4 617.7H304.1V642.5H306.7M305.4 584.7H302.7V630.1H304.1M306.7 560.0H301.4V607.4H302.7M305.4 535.2H300.1V583.7H301.4" fill="none" stroke="#111" stroke-width="0.85"/>
<path d="M500.6 547.9H499.1V559.8H500.6M500.6 536.0H497.6V553.9H499.1M500.6 571.8H499.1V583.7H500.6M499.1 577.7H497.6V595.6H500.6M497.6 544.9H496.1V586.7H497.6M500.6 524.1H494.6V565.8H496.1M500.6 607.6H499.1V619.5H500.6M500.6 631.4H499.1V643.3H500.6M499.1 613.5H497.6V637.4H499.1M494.6 544.9H493.1V625.4H497.6" fill="none" stroke="#111" stroke-width="0.85"/>
<path d="M85.2 751.5H83.3V762.5H85.2M85.2 784.4H83.3V795.4H85.2M85.2 773.4H81.5V789.9H83.3M83.3 757.0H79.6V781.6H81.5M85.2 806.3H83.3V817.3H85.2M85.2 828.3H83.3V839.2H85.2M83.3 811.8H81.5V833.8H83.3M85.2 850.2H83.3V861.2H85.2M85.2 872.1H83.3V883.1H85.2M83.3 855.7H81.5V877.6H83.3M81.5 822.8H79.6V866.7H81.5M79.6 769.3H77.7V844.7H79.6" fill="none" stroke="#111" stroke-width="0.85"/>
<path d="M288.1 753.0H286.6V766.9H288.1M288.1 794.7H286.6V808.6H288.1M288.1 780.8H285.1V801.6H286.6M288.1 822.4H286.6V836.3H288.1M288.1 864.1H286.6V878.0H288.1M288.1 850.2H285.1V871.0H286.6M286.6 829.4H283.6V860.6H285.1M285.1 791.2H282.1V845.0H283.6M286.6 760.0H280.6V818.1H282.1" fill="none" stroke="#111" stroke-width="0.85"/>
<path d="M494.2 762.6H492.3V774.4H494.2M492.3 768.5H490.4V786.3H494.2M494.2 750.7H488.6V777.4H490.4M494.2 798.2H492.3V810.0H494.2M494.2 821.9H492.3V833.7H494.2M492.3 804.1H490.4V827.8H492.3M494.2 845.6H492.3V857.5H494.2M494.2 869.3H492.3V881.2H494.2M492.3 851.5H490.4V875.2H492.3M490.4 815.9H488.6V863.4H490.4M488.6 764.1H486.7V839.7H488.6" fill="none" stroke="#111" stroke-width="0.85"/>
<text x="21.9" y="16.6" font-size="23" font-weight="bold">A</text>
<text x="293.5" y="505.7" font-size="22" font-weight="bold">B</text>
<text x="243.8" y="12.4" font-size="15.6" textLength="217" lengthAdjust="spacingAndGlyphs">Cell type adjacency patterns</text>
</svg>
</body></html>
